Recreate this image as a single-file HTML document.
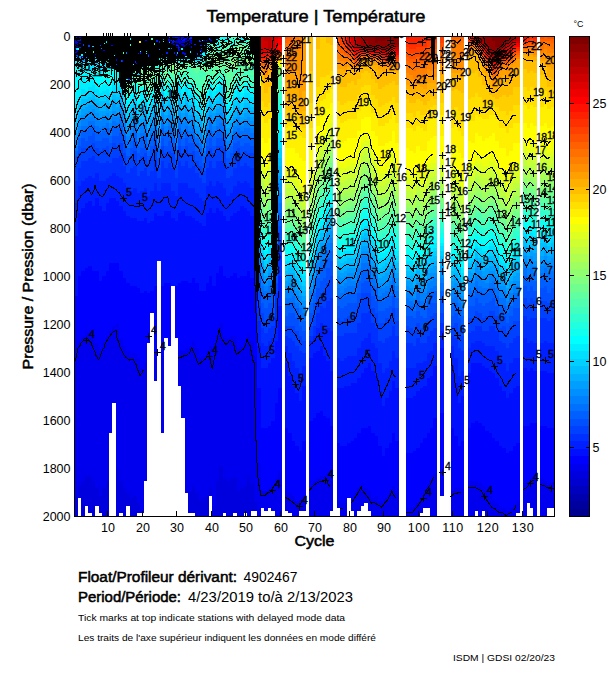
<!DOCTYPE html>
<html><head><meta charset="utf-8"><title>Temperature</title>
<style>
html,body{margin:0;padding:0;background:#fff;}
body{width:611px;height:675px;overflow:hidden;font-family:"Liberation Sans",sans-serif;}
svg{display:block;font-family:"Liberation Sans",sans-serif;}
</style></head><body>
<svg width="611" height="675" viewBox="0 0 611 675">
<rect width="611" height="675" fill="#fff"/>
<g shape-rendering="crispEdges"><path fill="#00009f" d="M184.8 44.5H188.3V46.5H184.8z"/><path fill="#0000af" d="M74.4 44.5H77.9V48.5H74.4zM77.9 40.5H81.4V42.5H77.9zM81.3 40.5H84.8V42.5H81.3zM174.5 38.5H178V40.5H174.5zM174.5 46.5H178V48.5H174.5zM188.3 40.5H191.8V42.5H188.3z"/><path fill="#0000bf" d="M77.9 46.5H81.4V48.5H77.9zM81.3 44.5H84.8V46.5H81.3zM181.4 44.5H184.9V48.5H181.4zM184.8 46.5H188.3V48.5H184.8z"/><path fill="#0000cf" d="M74.4 38.5H77.9V40.5H74.4zM74.4 48.5H77.9V50.5H74.4zM81.3 36.5H84.8V40.5H81.3zM171 42.5H174.5V44.5H171zM174.5 40.5H178V42.5H174.5zM177.9 38.5H181.4V40.5H177.9zM184.8 48.5H188.3V50.5H184.8zM188.3 44.5H191.8V46.5H188.3zM188.3 48.5H191.8V50.5H188.3zM191.7 38.5H195.2V40.5H191.7zM198.6 36.5H202.1V38.5H198.6zM198.6 40.5H202.1V42.5H198.6z"/><path fill="#0000df" d="M74.4 42.5H77.9V44.5H74.4zM74.4 498H77.9V516H74.4zM77.9 36.5H81.4V38.5H77.9zM77.9 485.5H81.4V498H77.9zM81.3 480.5H84.8V516H81.3zM84.8 475.5H88.3V505.5H84.8zM88.2 475.5H91.7V513H88.2zM91.7 480.5H95.2V516H91.7zM95.1 488H98.6V505.5H95.1zM98.6 495.5H102.1V513H98.6zM102 488H105.5V516H102zM105.5 480.5H109V516H105.5zM115.8 468H119.3V516H115.8zM119.3 480.5H122.8V513H119.3zM122.7 488H126.2V516H122.7zM126.2 493H129.7V505.5H126.2zM129.6 498H133.1V516H129.6zM133.1 495.5H136.6V516H133.1zM136.5 503H140V513H136.5zM167.6 44.5H171.1V46.5H167.6zM174.5 42.5H178V44.5H174.5zM177.9 36.5H181.4V38.5H177.9zM177.9 40.5H181.4V44.5H177.9zM181.4 42.5H184.9V44.5H181.4zM184.8 38.5H188.3V44.5H184.8zM188.3 490.5H191.8V513H188.3zM191.7 36.5H195.2V38.5H191.7zM191.7 485.5H195.2V513H191.7zM195.2 493H198.7V516H195.2zM198.6 500.5H202.1V516H198.6zM202.1 498H205.6V516H202.1zM205.5 495.5H209V516H205.5zM209 488H212.5V495.5H209zM212.4 505.5H215.9V516H212.4zM215.9 480.5H219.4V516H215.9zM219.3 465.5H222.8V516H219.3zM222.8 478H226.3V513H222.8zM226.2 480.5H229.7V516H226.2zM229.7 478H233.2V516H229.7zM233.1 478H236.6V513H233.1zM236.6 490.5H240.1V516H236.6zM240 488H243.5V516H240zM243.5 485.5H247V513H243.5zM247 475.5H250.5V516H247zM250.4 483H253.9V510.5H250.4zM253.9 500.5H257.4V510.5H253.9z"/><path fill="#0000ef" d="M74.4 355.5H77.9V498H74.4zM77.9 42.5H81.4V44.5H77.9zM77.9 340.5H81.4V485.5H77.9zM81.3 46.5H84.8V48.5H81.3zM81.3 335.5H84.8V480.5H81.3zM84.8 42.5H88.3V46.5H84.8zM84.8 330.5H88.3V475.5H84.8zM88.2 44.5H91.7V46.5H88.2zM88.2 333H91.7V475.5H88.2zM91.7 46.5H95.2V48.5H91.7zM91.7 335.5H95.2V480.5H91.7zM95.1 46.5H98.6V50.5H95.1zM95.1 343H98.6V488H95.1zM98.6 353H102.1V495.5H98.6zM102 343H105.5V488H102zM105.5 335.5H109V480.5H105.5zM108.9 330.5H112.4V433H108.9zM112.4 325.5H115.9V403H112.4zM115.8 323H119.3V468H115.8zM119.3 338H122.8V480.5H119.3zM122.7 345.5H126.2V488H122.7zM126.2 350.5H129.7V493H126.2zM129.6 353H133.1V498H129.6zM133.1 353H136.6V495.5H133.1zM136.5 358H140V503H136.5zM140 368H143.5V513H140zM143.4 363H146.9V480.5H143.4zM153.8 358H157.3V380.5H153.8zM160.7 355.5H164.2V433H160.7zM164.1 48.5H167.6V50.5H164.1zM167.6 38.5H171.1V40.5H167.6zM167.6 46.5H171.1V50.5H167.6zM171 36.5H174.5V38.5H171zM171 44.5H174.5V46.5H171zM177.9 350.5H181.4V385.5H177.9zM181.4 40.5H184.9V42.5H181.4zM181.4 350.5H184.9V418H181.4zM184.8 348H188.3V493H184.8zM188.3 38.5H191.8V40.5H188.3zM188.3 348H191.8V490.5H188.3zM191.7 44.5H195.2V46.5H191.7zM191.7 48.5H195.2V50.5H191.7zM191.7 340.5H195.2V485.5H191.7zM195.2 348H198.7V493H195.2zM198.6 48.5H202.1V50.5H198.6zM198.6 358H202.1V500.5H198.6zM202.1 355.5H205.6V498H202.1zM205.5 350.5H209V495.5H205.5zM209 345.5H212.5V488H209zM212.4 360.5H215.9V505.5H212.4zM215.9 335.5H219.4V480.5H215.9zM219.3 323H222.8V465.5H219.3zM222.8 335.5H226.3V478H222.8zM226.2 338H229.7V480.5H226.2zM229.7 335.5H233.2V478H229.7zM233.1 335.5H236.6V478H233.1zM236.6 348H240.1V490.5H236.6zM240 345.5H243.5V488H240zM243.5 343H247V485.5H243.5zM247 333H250.5V475.5H247zM250.4 340.5H253.9V483H250.4zM253.9 355.5H257.4V500.5H253.9zM257.3 463H260.8V516H257.3zM260.8 490.5H264.3V508H260.8zM264.2 490.5H267.7V510.5H264.2zM267.7 488H271.2V508H267.7zM271.1 485.5H274.6V510.5H271.1zM274.6 478H278.1V516H274.6zM278 470.5H281.5V516H278zM284.9 490.5H288.4V510.5H284.9zM288.4 493H291.9V513H288.4zM291.8 495.5H295.3V516H291.8zM295.3 500.5H298.8V516H295.3zM298.7 500.5H302.2V510.5H298.7zM302.2 495.5H305.7V510.5H302.2zM309.1 485.5H312.6V516H309.1zM312.5 480.5H316V516H312.5zM316 478H319.5V516H316zM319.4 475.5H322.9V516H319.4zM322.9 475.5H326.4V516H322.9zM326.3 473H329.8V516H326.3zM329.8 480.5H333.3V510.5H329.8zM336.7 500.5H340.2V508H336.7zM340.1 503H343.6V516H340.1zM343.6 503H347.1V516H343.6zM350.5 498H354V510.5H350.5zM353.9 493H357.4V516H353.9zM357.4 488H360.9V510.5H357.4zM360.8 483H364.3V505.5H360.8zM364.3 488H367.8V503H364.3zM367.7 490.5H371.2V510.5H367.7zM371.2 498H374.7V516H371.2zM374.6 495.5H378.1V516H374.6zM378.1 500.5H381.6V516H378.1zM381.5 503H385V516H381.5zM385 498H388.5V516H385zM388.4 493H391.9V516H388.4zM391.9 485.5H395.4V516H391.9zM395.3 493H398.8V516H395.3zM405.7 508H409.2V516H405.7zM409.1 508H412.6V516H409.1zM412.6 505.5H416.1V516H412.6zM416 503H419.6V516H416zM419.5 498H423V513H419.5zM423 493H426.5V508H423zM426.4 485.5H429.9V508H426.4zM429.9 480.5H433.4V516H429.9zM433.3 473H436.8V516H433.3zM440.2 478H443.7V495.5H440.2zM450.6 490.5H454.1V516H450.6zM454 488H457.5V516H454zM457.5 488H461V516H457.5zM460.9 488H464.4V516H460.9zM467.8 480.5H471.3V516H467.8zM471.3 480.5H474.8V516H471.3zM474.7 480.5H478.2V510.5H474.7zM478.2 483H481.7V516H478.2zM481.6 485.5H485.1V510.5H481.6zM485.1 490.5H488.6V516H485.1zM488.5 495.5H492V516H488.5zM492 500.5H495.5V516H492zM495.4 503H498.9V516H495.4zM498.9 505.5H502.4V516H498.9zM502.3 508H505.8V516H502.3zM505.8 510.5H509.3V516H505.8zM509.2 508H512.7V516H509.2zM512.7 505.5H516.2V516H512.7zM516.1 500.5H519.6V513H516.1zM523 483H526.5V516H523zM526.5 483H530V503H526.5zM529.9 478H533.4V508H529.9zM533.4 475.5H536.9V516H533.4zM540.3 478H543.8V516H540.3zM543.7 480.5H547.2V516H543.7zM547.2 483H550.7V508H547.2zM550.6 483H554.1V508H550.6z"/><path fill="#0000ff" d="M74.4 40.5H77.9V42.5H74.4zM74.4 50.5H77.9V52.5H74.4zM74.4 295.5H77.9V355.5H74.4zM77.9 48.5H81.4V50.5H77.9zM77.9 275.5H81.4V340.5H77.9zM81.3 48.5H84.8V50.5H81.3zM81.3 270.5H84.8V335.5H81.3zM84.8 46.5H88.3V48.5H84.8zM84.8 268H88.3V330.5H84.8zM88.2 265.5H91.7V333H88.2zM91.7 50.5H95.2V52.5H91.7zM91.7 270.5H95.2V335.5H91.7zM95.1 270.5H98.6V343H95.1zM98.6 46.5H102.1V50.5H98.6zM98.6 280.5H102.1V353H98.6zM102 46.5H105.5V48.5H102zM102 275.5H105.5V343H102zM105.5 48.5H109V50.5H105.5zM105.5 270.5H109V335.5H105.5zM108.9 263H112.4V330.5H108.9zM112.4 263H115.9V325.5H112.4zM115.8 263H119.3V323H115.8zM119.3 270.5H122.8V338H119.3zM122.7 278H126.2V345.5H122.7zM126.2 283H129.7V350.5H126.2zM129.6 285.5H133.1V353H129.6zM133.1 285.5H136.6V353H133.1zM136.5 288H140V358H136.5zM140 293H143.5V368H140zM143.4 290.5H146.9V363H143.4zM146.9 293H150.4V343H146.9zM150.3 290.5H153.8V313H150.3zM153.8 285.5H157.3V358H153.8zM160.7 285.5H164.2V355.5H160.7zM164.1 283H167.6V338H164.1zM167.6 283H171.1V345.5H167.6zM174.5 50.5H178V52.5H174.5zM174.5 285.5H178V338H174.5zM177.9 48.5H181.4V52.5H177.9zM177.9 283H181.4V350.5H177.9zM181.4 36.5H184.9V38.5H181.4zM181.4 280.5H184.9V350.5H181.4zM184.8 36.5H188.3V38.5H184.8zM184.8 280.5H188.3V348H184.8zM188.3 42.5H191.8V44.5H188.3zM188.3 283H191.8V348H188.3zM191.7 278H195.2V340.5H191.7zM195.2 36.5H198.7V38.5H195.2zM195.2 40.5H198.7V42.5H195.2zM195.2 44.5H198.7V46.5H195.2zM195.2 283H198.7V348H195.2zM198.6 290.5H202.1V358H198.6zM202.1 290.5H205.6V355.5H202.1zM205.5 283H209V350.5H205.5zM209 275.5H212.5V345.5H209zM212.4 285.5H215.9V360.5H212.4zM215.9 273H219.4V335.5H215.9zM219.3 265.5H222.8V323H219.3zM222.8 275.5H226.3V335.5H222.8zM226.2 278H229.7V338H226.2zM229.7 275.5H233.2V335.5H229.7zM233.1 273H236.6V335.5H233.1zM236.6 278H240.1V348H236.6zM240 275.5H243.5V345.5H240zM243.5 275.5H247V343H243.5zM247 270.5H250.5V333H247zM250.4 278H253.9V340.5H250.4zM253.9 288H257.4V355.5H253.9zM257.3 388H260.8V463H257.3zM260.8 428H264.3V490.5H260.8zM264.2 428H267.7V490.5H264.2zM267.7 425.5H271.2V488H267.7zM271.1 420.5H274.6V485.5H271.1zM274.6 403H278.1V478H274.6zM278 388H281.5V470.5H278zM284.9 428H288.4V490.5H284.9zM288.4 433H291.9V493H288.4zM291.8 440.5H295.3V495.5H291.8zM295.3 445.5H298.8V500.5H295.3zM298.7 450.5H302.2V500.5H298.7zM302.2 440.5H305.7V495.5H302.2zM309.1 420.5H312.6V485.5H309.1zM312.5 418H316V480.5H312.5zM316 413H319.5V478H316zM319.4 410.5H322.9V475.5H319.4zM322.9 415.5H326.4V475.5H322.9zM326.3 418H329.8V473H326.3zM329.8 425.5H333.3V480.5H329.8zM336.7 443H340.2V500.5H336.7zM340.1 445.5H343.6V503H340.1zM343.6 445.5H347.1V503H343.6zM347 443H350.5V498H347zM350.5 440.5H354V498H350.5zM353.9 438H357.4V493H353.9zM357.4 433H360.9V488H357.4zM360.8 428H364.3V483H360.8zM364.3 428H367.8V488H364.3zM367.7 425.5H371.2V490.5H367.7zM371.2 433H374.7V498H371.2zM374.6 435.5H378.1V495.5H374.6zM378.1 445.5H381.6V500.5H378.1zM381.5 455.5H385V503H381.5zM385 448H388.5V498H385zM388.4 443H391.9V493H388.4zM391.9 433H395.4V485.5H391.9zM395.3 440.5H398.8V493H395.3zM405.7 453H409.2V508H405.7zM409.1 453H412.6V508H409.1zM412.6 450.5H416.1V505.5H412.6zM416 448H419.6V503H416zM419.5 443H423V498H419.5zM423 438H426.5V493H423zM426.4 433H429.9V485.5H426.4zM429.9 428H433.4V480.5H429.9zM433.3 418H436.8V473H433.3zM440.2 413H443.7V478H440.2zM450.6 428H454.1V490.5H450.6zM454 435.5H457.5V488H454zM457.5 445.5H461V488H457.5zM460.9 440.5H464.4V488H460.9zM467.8 428H471.3V480.5H467.8zM471.3 423H474.8V480.5H471.3zM474.7 420.5H478.2V480.5H474.7zM478.2 423H481.7V483H478.2zM481.6 425.5H485.1V485.5H481.6zM485.1 430.5H488.6V490.5H485.1zM488.5 433H492V495.5H488.5zM492 438H495.5V500.5H492zM495.4 440.5H498.9V503H495.4zM498.9 445.5H502.4V505.5H498.9zM502.3 448H505.8V508H502.3zM505.8 453H509.3V510.5H505.8zM509.2 450.5H512.7V508H509.2zM512.7 445.5H516.2V505.5H512.7zM516.1 443H519.6V500.5H516.1zM523 425.5H526.5V483H523zM526.5 425.5H530V483H526.5zM529.9 423H533.4V478H529.9zM533.4 423H536.9V475.5H533.4zM540.3 425.5H543.8V478H540.3zM543.7 425.5H547.2V480.5H543.7zM547.2 428H550.7V483H547.2zM550.6 428H554.1V483H550.6z"/><path fill="#0010ff" d="M74.4 36.5H77.9V38.5H74.4zM74.4 235.5H77.9V295.5H74.4zM77.9 38.5H81.4V40.5H77.9zM77.9 213H81.4V275.5H77.9zM81.3 42.5H84.8V44.5H81.3zM81.3 208H84.8V270.5H81.3zM84.8 203H88.3V268H84.8zM88.2 52.5H91.7V54.5H88.2zM88.2 200.5H91.7V265.5H88.2zM91.7 205.5H95.2V270.5H91.7zM95.1 198H98.6V270.5H95.1zM98.6 205.5H102.1V280.5H98.6zM102 210.5H105.5V275.5H102zM105.5 50.5H109V52.5H105.5zM105.5 203H109V270.5H105.5zM108.9 48.5H112.4V50.5H108.9zM108.9 198H112.4V263H108.9zM112.4 198H115.9V263H112.4zM115.8 200.5H119.3V263H115.8zM119.3 205.5H122.8V270.5H119.3zM122.7 210.5H126.2V278H122.7zM126.2 215.5H129.7V283H126.2zM129.6 218H133.1V285.5H129.6zM133.1 218H136.6V285.5H133.1zM136.5 220.5H140V288H136.5zM140 220.5H143.5V293H140zM143.4 218H146.9V290.5H143.4zM146.9 223H150.4V293H146.9zM150.3 220.5H153.8V290.5H150.3zM153.8 44.5H157.3V46.5H153.8zM153.8 213H157.3V285.5H153.8zM157.2 215.5H160.7V260.5H157.2zM160.7 215.5H164.2V285.5H160.7zM164.1 42.5H167.6V44.5H164.1zM164.1 210.5H167.6V283H164.1zM167.6 42.5H171.1V44.5H167.6zM167.6 210.5H171.1V283H167.6zM171 40.5H174.5V42.5H171zM171 46.5H174.5V50.5H171zM171 218H174.5V285.5H171zM174.5 36.5H178V38.5H174.5zM174.5 220.5H178V285.5H174.5zM177.9 44.5H181.4V48.5H177.9zM177.9 213H181.4V283H177.9zM181.4 38.5H184.9V40.5H181.4zM181.4 210.5H184.9V280.5H181.4zM184.8 215.5H188.3V280.5H184.8zM188.3 46.5H191.8V48.5H188.3zM188.3 215.5H191.8V283H188.3zM191.7 40.5H195.2V44.5H191.7zM191.7 218H195.2V278H191.7zM195.2 38.5H198.7V40.5H195.2zM195.2 42.5H198.7V44.5H195.2zM195.2 220.5H198.7V283H195.2zM198.6 42.5H202.1V44.5H198.6zM198.6 223H202.1V290.5H198.6zM202.1 225.5H205.6V290.5H202.1zM205.5 213H209V283H205.5zM209 208H212.5V275.5H209zM212.4 213H215.9V285.5H212.4zM215.9 208H219.4V273H215.9zM219.3 210.5H222.8V265.5H219.3zM222.8 215.5H226.3V275.5H222.8zM226.2 220.5H229.7V278H226.2zM229.7 215.5H233.2V275.5H229.7zM233.1 213H236.6V273H233.1zM236.6 210.5H240.1V278H236.6zM240 205.5H243.5V275.5H240zM243.5 208H247V275.5H243.5zM247 210.5H250.5V270.5H247zM250.4 215.5H253.9V278H250.4zM253.9 218H257.4V288H253.9zM257.3 345.5H260.8V388H257.3zM260.8 368H264.3V428H260.8zM264.2 368H267.7V428H264.2zM267.7 363H271.2V425.5H267.7zM271.1 358H274.6V420.5H271.1zM274.6 340.5H278.1V403H274.6zM278 305.5H281.5V388H278zM284.9 363H288.4V428H284.9zM288.4 375.5H291.9V433H288.4zM291.8 385.5H295.3V440.5H291.8zM295.3 393H298.8V445.5H295.3zM298.7 400.5H302.2V450.5H298.7zM302.2 385.5H305.7V440.5H302.2zM309.1 358H312.6V420.5H309.1zM312.5 353H316V418H312.5zM316 350.5H319.5V413H316zM319.4 345.5H322.9V410.5H319.4zM322.9 355.5H326.4V415.5H322.9zM326.3 360.5H329.8V418H326.3zM329.8 370.5H333.3V425.5H329.8zM336.7 388H340.2V443H336.7zM340.1 388H343.6V445.5H340.1zM343.6 385.5H347.1V445.5H343.6zM347 385.5H350.5V443H347zM350.5 383H354V440.5H350.5zM353.9 383H357.4V438H353.9zM357.4 378H360.9V433H357.4zM360.8 373H364.3V428H360.8zM364.3 368H367.8V428H364.3zM367.7 363H371.2V425.5H367.7zM371.2 370.5H374.7V433H371.2zM374.6 375.5H378.1V435.5H374.6zM378.1 390.5H381.6V445.5H378.1zM381.5 405.5H385V455.5H381.5zM385 398H388.5V448H385zM388.4 390.5H391.9V443H388.4zM391.9 380.5H395.4V433H391.9zM395.3 388H398.8V440.5H395.3zM405.7 398H409.2V453H405.7zM409.1 398H412.6V453H409.1zM412.6 395.5H416.1V450.5H412.6zM416 390.5H419.6V448H416zM419.5 388H423V443H419.5zM423 385.5H426.5V438H423zM426.4 378H429.9V433H426.4zM429.9 375.5H433.4V428H429.9zM433.3 365.5H436.8V418H433.3zM440.2 348H443.7V413H440.2zM450.6 365.5H454.1V428H450.6zM454 383H457.5V435.5H454zM457.5 403H461V445.5H457.5zM460.9 395.5H464.4V440.5H460.9zM467.8 373H471.3V428H467.8zM471.3 363H474.8V423H471.3zM474.7 363H478.2V420.5H474.7zM478.2 363H481.7V423H478.2zM481.6 365.5H485.1V425.5H481.6zM485.1 368H488.6V430.5H485.1zM488.5 370.5H492V433H488.5zM492 373H495.5V438H492zM495.4 378H498.9V440.5H495.4zM498.9 385.5H502.4V445.5H498.9zM502.3 390.5H505.8V448H502.3zM505.8 398H509.3V453H505.8zM509.2 393H512.7V450.5H509.2zM512.7 388H516.2V445.5H512.7zM516.1 385.5H519.6V443H516.1zM523 368H526.5V425.5H523zM526.5 370.5H530V425.5H526.5zM529.9 368H533.4V423H529.9zM533.4 370.5H536.9V423H533.4zM540.3 370.5H543.8V425.5H540.3zM543.7 370.5H547.2V425.5H543.7zM547.2 373H550.7V428H547.2zM550.6 373H554.1V428H550.6z"/><path fill="#0020ff" d="M74.4 52.5H77.9V54.5H74.4zM74.4 203H77.9V235.5H74.4zM77.9 44.5H81.4V46.5H77.9zM77.9 185.5H81.4V213H77.9zM81.3 180.5H84.8V208H81.3zM84.8 36.5H88.3V38.5H84.8zM84.8 40.5H88.3V42.5H84.8zM84.8 48.5H88.3V50.5H84.8zM84.8 178H88.3V203H84.8zM88.2 38.5H91.7V40.5H88.2zM88.2 46.5H91.7V48.5H88.2zM88.2 175.5H91.7V200.5H88.2zM91.7 178H95.2V205.5H91.7zM95.1 173H98.6V198H95.1zM98.6 180.5H102.1V205.5H98.6zM102 180.5H105.5V210.5H102zM105.5 178H109V203H105.5zM108.9 175.5H112.4V198H108.9zM112.4 173H115.9V198H112.4zM115.8 175.5H119.3V200.5H115.8zM119.3 178H122.8V205.5H119.3zM122.7 183H126.2V210.5H122.7zM126.2 188H129.7V215.5H126.2zM129.6 48.5H133.1V50.5H129.6zM129.6 190.5H133.1V218H129.6zM133.1 188H136.6V218H133.1zM136.5 193H140V220.5H136.5zM140 50.5H143.5V52.5H140zM140 190.5H143.5V220.5H140zM143.4 188H146.9V218H143.4zM146.9 46.5H150.4V48.5H146.9zM146.9 195.5H150.4V223H146.9zM150.3 46.5H153.8V48.5H150.3zM150.3 190.5H153.8V220.5H150.3zM153.8 183H157.3V213H153.8zM157.2 190.5H160.7V215.5H157.2zM160.7 44.5H164.2V46.5H160.7zM160.7 183H164.2V215.5H160.7zM164.1 46.5H167.6V48.5H164.1zM164.1 183H167.6V210.5H164.1zM167.6 40.5H171.1V42.5H167.6zM167.6 183H171.1V210.5H167.6zM171 38.5H174.5V40.5H171zM171 190.5H174.5V218H171zM174.5 44.5H178V46.5H174.5zM174.5 195.5H178V220.5H174.5zM177.9 183H181.4V213H177.9zM181.4 183H184.9V210.5H181.4zM184.8 183H188.3V215.5H184.8zM188.3 36.5H191.8V38.5H188.3zM188.3 188H191.8V215.5H188.3zM191.7 188H195.2V218H191.7zM195.2 46.5H198.7V48.5H195.2zM195.2 193H198.7V220.5H195.2zM198.6 198H202.1V223H198.6zM202.1 200.5H205.6V225.5H202.1zM205.5 185.5H209V213H205.5zM209 180.5H212.5V208H209zM212.4 185.5H215.9V213H212.4zM215.9 180.5H219.4V208H215.9zM219.3 183H222.8V210.5H219.3zM222.8 188H226.3V215.5H222.8zM226.2 195.5H229.7V220.5H226.2zM229.7 193H233.2V215.5H229.7zM233.1 185.5H236.6V213H233.1zM236.6 180.5H240.1V210.5H236.6zM240 183H243.5V205.5H240zM243.5 180.5H247V208H243.5zM247 183H250.5V210.5H247zM250.4 188H253.9V215.5H250.4zM253.9 190.5H257.4V218H253.9zM257.3 320.5H260.8V345.5H257.3zM260.8 343H264.3V368H260.8zM264.2 345.5H267.7V368H264.2zM267.7 340.5H271.2V363H267.7zM271.1 338H274.6V358H271.1zM274.6 318H278.1V340.5H274.6zM278 275.5H281.5V305.5H278zM284.9 345.5H288.4V363H284.9zM288.4 353H291.9V375.5H288.4zM291.8 360.5H295.3V385.5H291.8zM295.3 368H298.8V393H295.3zM298.7 373H302.2V400.5H298.7zM302.2 365.5H305.7V385.5H302.2zM309.1 340.5H312.6V358H309.1zM312.5 335.5H316V353H312.5zM316 328H319.5V350.5H316zM319.4 323H322.9V345.5H319.4zM322.9 328H326.4V355.5H322.9zM326.3 328H329.8V360.5H326.3zM329.8 330.5H333.3V370.5H329.8zM336.7 358H340.2V388H336.7zM340.1 360.5H343.6V388H340.1zM343.6 358H347.1V385.5H343.6zM347 355.5H350.5V385.5H347zM350.5 355.5H354V383H350.5zM353.9 355.5H357.4V383H353.9zM357.4 348H360.9V378H357.4zM360.8 340.5H364.3V373H360.8zM364.3 338H367.8V368H364.3zM367.7 333H371.2V363H367.7zM371.2 343H374.7V370.5H371.2zM374.6 348H378.1V375.5H374.6zM378.1 363H381.6V390.5H378.1zM381.5 373H385V405.5H381.5zM385 368H388.5V398H385zM388.4 360.5H391.9V390.5H388.4zM391.9 350.5H395.4V380.5H391.9zM395.3 358H398.8V388H395.3zM405.7 368H409.2V398H405.7zM409.1 368H412.6V398H409.1zM412.6 368H416.1V395.5H412.6zM416 363H419.6V390.5H416zM419.5 363H423V388H419.5zM423 360.5H426.5V385.5H423zM426.4 353H429.9V378H426.4zM429.9 350.5H433.4V375.5H429.9zM433.3 343H436.8V365.5H433.3zM440.2 330.5H443.7V348H440.2zM450.6 345.5H454.1V365.5H450.6zM454 358H457.5V383H454zM457.5 375.5H461V403H457.5zM460.9 370.5H464.4V395.5H460.9zM467.8 348H471.3V373H467.8zM471.3 343H474.8V363H471.3zM474.7 340.5H478.2V363H474.7zM478.2 340.5H481.7V363H478.2zM481.6 343H485.1V365.5H481.6zM485.1 345.5H488.6V368H485.1zM488.5 345.5H492V370.5H488.5zM492 345.5H495.5V373H492zM495.4 350.5H498.9V378H495.4zM498.9 360.5H502.4V385.5H498.9zM502.3 363H505.8V390.5H502.3zM505.8 370.5H509.3V398H505.8zM509.2 363H512.7V393H509.2zM512.7 358H516.2V388H512.7zM516.1 358H519.6V385.5H516.1zM523 338H526.5V368H523zM526.5 343H530V370.5H526.5zM529.9 340.5H533.4V368H529.9zM533.4 343H536.9V370.5H533.4zM540.3 343H543.8V370.5H540.3zM543.7 340.5H547.2V370.5H543.7zM547.2 343H550.7V373H547.2zM550.6 343H554.1V373H550.6z"/><path fill="#0030ff" d="M74.4 180.5H77.9V203H74.4zM77.9 50.5H81.4V52.5H77.9zM77.9 168H81.4V185.5H77.9zM81.3 160.5H84.8V180.5H81.3zM84.8 160.5H88.3V178H84.8zM88.2 42.5H91.7V44.5H88.2zM88.2 50.5H91.7V52.5H88.2zM88.2 158H91.7V175.5H88.2zM91.7 42.5H95.2V44.5H91.7zM91.7 155.5H95.2V178H91.7zM95.1 160.5H98.6V173H95.1zM98.6 163H102.1V180.5H98.6zM102 163H105.5V180.5H102zM105.5 52.5H109V54.5H105.5zM105.5 160.5H109V178H105.5zM108.9 163H112.4V175.5H108.9zM112.4 48.5H115.9V50.5H112.4zM112.4 158H115.9V173H112.4zM115.8 46.5H119.3V48.5H115.8zM115.8 158H119.3V175.5H115.8zM119.3 155.5H122.8V178H119.3zM122.7 46.5H126.2V48.5H122.7zM122.7 54.5H126.2V56.5H122.7zM122.7 165.5H126.2V183H122.7zM126.2 54.5H129.7V56.5H126.2zM126.2 173H129.7V188H126.2zM129.6 168H133.1V190.5H129.6zM133.1 52.5H136.6V54.5H133.1zM133.1 165.5H136.6V188H133.1zM136.5 175.5H140V193H136.5zM140 46.5H143.5V48.5H140zM140 170.5H143.5V190.5H140zM143.4 46.5H146.9V48.5H143.4zM143.4 52.5H146.9V54.5H143.4zM143.4 168H146.9V188H143.4zM146.9 50.5H150.4V52.5H146.9zM146.9 175.5H150.4V195.5H146.9zM150.3 170.5H153.8V190.5H150.3zM153.8 160.5H157.3V183H153.8zM157.2 44.5H160.7V48.5H157.2zM157.2 178H160.7V190.5H157.2zM160.7 160.5H164.2V183H160.7zM164.1 38.5H167.6V40.5H164.1zM164.1 168H167.6V183H164.1zM167.6 163H171.1V183H167.6zM171 168H174.5V190.5H171zM174.5 178H178V195.5H174.5zM177.9 160.5H181.4V183H177.9zM181.4 48.5H184.9V50.5H181.4zM181.4 165.5H184.9V183H181.4zM184.8 160.5H188.3V183H184.8zM188.3 168H191.8V188H188.3zM191.7 46.5H195.2V48.5H191.7zM191.7 165.5H195.2V188H191.7zM195.2 48.5H198.7V50.5H195.2zM195.2 52.5H198.7V54.5H195.2zM195.2 173H198.7V193H195.2zM198.6 44.5H202.1V48.5H198.6zM198.6 178H202.1V198H198.6zM202.1 183H205.6V200.5H202.1zM205.5 168H209V185.5H205.5zM209 160.5H212.5V180.5H209zM212.4 168H215.9V185.5H212.4zM215.9 160.5H219.4V180.5H215.9zM219.3 160.5H222.8V183H219.3zM222.8 163H226.3V188H222.8zM226.2 178H229.7V195.5H226.2zM229.7 175.5H233.2V193H229.7zM233.1 168H236.6V185.5H233.1zM236.6 160.5H240.1V180.5H236.6zM240 165.5H243.5V183H240zM243.5 163H247V180.5H243.5zM247 165.5H250.5V183H247zM250.4 168H253.9V188H250.4zM253.9 168H257.4V190.5H253.9zM257.3 305.5H260.8V320.5H257.3zM260.8 328H264.3V343H260.8zM264.2 333H267.7V345.5H264.2zM267.7 328H271.2V340.5H267.7zM271.1 325.5H274.6V338H271.1zM274.6 293H278.1V318H274.6zM278 255.5H281.5V275.5H278zM284.9 335.5H288.4V345.5H284.9zM288.4 338H291.9V353H288.4zM291.8 340.5H295.3V360.5H291.8zM295.3 345.5H298.8V368H295.3zM298.7 350.5H302.2V373H298.7zM302.2 353H305.7V365.5H302.2zM309.1 335.5H312.6V340.5H309.1zM312.5 325.5H316V335.5H312.5zM316 313H319.5V328H316zM319.4 305.5H322.9V323H319.4zM322.9 308H326.4V328H322.9zM326.3 300.5H329.8V328H326.3zM329.8 298H333.3V330.5H329.8zM336.7 335.5H340.2V358H336.7zM340.1 335.5H343.6V360.5H340.1zM343.6 333H347.1V358H343.6zM347 333H350.5V355.5H347zM350.5 333H354V355.5H350.5zM353.9 333H357.4V355.5H353.9zM357.4 323H360.9V348H357.4zM360.8 313H364.3V340.5H360.8zM364.3 313H367.8V338H364.3zM367.7 310.5H371.2V333H367.7zM371.2 323H374.7V343H371.2zM374.6 328H378.1V348H374.6zM378.1 340.5H381.6V363H378.1zM381.5 343H385V373H381.5zM385 338H388.5V368H385zM388.4 335.5H391.9V360.5H388.4zM391.9 325.5H395.4V350.5H391.9zM395.3 335.5H398.8V358H395.3zM405.7 343H409.2V368H405.7zM409.1 343H412.6V368H409.1zM412.6 345.5H416.1V368H412.6zM416 338H419.6V363H416zM419.5 343H423V363H419.5zM423 343H426.5V360.5H423zM426.4 335.5H429.9V353H426.4zM429.9 330.5H433.4V350.5H429.9zM433.3 328H436.8V343H433.3zM440.2 323H443.7V330.5H440.2zM450.6 335.5H454.1V345.5H450.6zM454 338H457.5V358H454zM457.5 348H461V375.5H457.5zM460.9 350.5H464.4V370.5H460.9zM467.8 333H471.3V348H467.8zM471.3 330.5H474.8V343H471.3zM474.7 325.5H478.2V340.5H474.7zM478.2 325.5H481.7V340.5H478.2zM481.6 330.5H485.1V343H481.6zM485.1 330.5H488.6V345.5H485.1zM488.5 325.5H492V345.5H488.5zM492 325.5H495.5V345.5H492zM495.4 330.5H498.9V350.5H495.4zM498.9 340.5H502.4V360.5H498.9zM502.3 343H505.8V363H502.3zM505.8 348H509.3V370.5H505.8zM509.2 343H512.7V363H509.2zM512.7 338H516.2V358H512.7zM516.1 335.5H519.6V358H516.1zM523 315.5H526.5V338H523zM526.5 320.5H530V343H526.5zM529.9 318H533.4V340.5H529.9zM533.4 318H536.9V343H533.4zM540.3 318H543.8V343H540.3zM543.7 318H547.2V340.5H543.7zM547.2 320.5H550.7V343H547.2zM550.6 318H554.1V343H550.6z"/><path fill="#0040ff" d="M74.4 54.5H77.9V56.5H74.4zM74.4 163H77.9V180.5H74.4zM77.9 52.5H81.4V54.5H77.9zM77.9 153H81.4V168H77.9zM81.3 52.5H84.8V54.5H81.3zM81.3 148H84.8V160.5H81.3zM84.8 148H88.3V160.5H84.8zM88.2 145.5H91.7V158H88.2zM91.7 52.5H95.2V54.5H91.7zM91.7 143H95.2V155.5H91.7zM95.1 54.5H98.6V56.5H95.1zM95.1 148H98.6V160.5H95.1zM98.6 150.5H102.1V163H98.6zM102 148H105.5V163H102zM105.5 145.5H109V160.5H105.5zM108.9 153H112.4V163H108.9zM112.4 143H115.9V158H112.4zM115.8 145.5H119.3V158H115.8zM119.3 143H122.8V155.5H119.3zM122.7 153H126.2V165.5H122.7zM126.2 163H129.7V173H126.2zM129.6 155.5H133.1V168H129.6zM133.1 150.5H136.6V165.5H133.1zM136.5 54.5H140V56.5H136.5zM136.5 163H140V175.5H136.5zM140 155.5H143.5V170.5H140zM143.4 153H146.9V168H143.4zM146.9 44.5H150.4V46.5H146.9zM146.9 163H150.4V175.5H146.9zM150.3 155.5H153.8V170.5H150.3zM153.8 46.5H157.3V48.5H153.8zM153.8 145.5H157.3V160.5H153.8zM157.2 168H160.7V178H157.2zM160.7 42.5H164.2V44.5H160.7zM160.7 46.5H164.2V48.5H160.7zM160.7 145.5H164.2V160.5H160.7zM164.1 44.5H167.6V46.5H164.1zM164.1 153H167.6V168H164.1zM167.6 36.5H171.1V38.5H167.6zM167.6 150.5H171.1V163H167.6zM171 153H174.5V168H171zM174.5 52.5H178V54.5H174.5zM174.5 165.5H178V178H174.5zM177.9 145.5H181.4V160.5H177.9zM181.4 153H184.9V165.5H181.4zM184.8 145.5H188.3V160.5H184.8zM188.3 153H191.8V168H188.3zM191.7 52.5H195.2V54.5H191.7zM191.7 150.5H195.2V165.5H191.7zM195.2 50.5H198.7V52.5H195.2zM195.2 160.5H198.7V173H195.2zM198.6 38.5H202.1V40.5H198.6zM198.6 165.5H202.1V178H198.6zM202.1 170.5H205.6V183H202.1zM205.5 153H209V168H205.5zM209 148H212.5V160.5H209zM212.4 153H215.9V168H212.4zM215.9 145.5H219.4V160.5H215.9zM219.3 145.5H222.8V160.5H219.3zM222.8 148H226.3V163H222.8zM226.2 165.5H229.7V178H226.2zM229.7 163H233.2V175.5H229.7zM233.1 153H236.6V168H233.1zM236.6 148H240.1V160.5H236.6zM240 155.5H243.5V165.5H240zM243.5 150.5H247V163H243.5zM247 153H250.5V165.5H247zM250.4 153H253.9V168H250.4zM253.9 153H257.4V168H253.9zM257.3 290.5H260.8V305.5H257.3zM260.8 313H264.3V328H260.8zM264.2 320.5H267.7V333H264.2zM267.7 315.5H271.2V328H267.7zM271.1 315.5H274.6V325.5H271.1zM274.6 283H278.1V293H274.6zM278 240.5H281.5V255.5H278zM284.9 325.5H288.4V335.5H284.9zM288.4 325.5H291.9V338H288.4zM291.8 325.5H295.3V340.5H291.8zM295.3 330.5H298.8V345.5H295.3zM298.7 335.5H302.2V350.5H298.7zM302.2 340.5H305.7V353H302.2zM309.1 325.5H312.6V335.5H309.1zM312.5 315.5H316V325.5H312.5zM316 300.5H319.5V313H316zM319.4 293H322.9V305.5H319.4zM322.9 290.5H326.4V308H322.9zM326.3 283H329.8V300.5H326.3zM329.8 275.5H333.3V298H329.8zM336.7 318H340.2V335.5H336.7zM340.1 320.5H343.6V335.5H340.1zM343.6 318H347.1V333H343.6zM347 315.5H350.5V333H347zM350.5 315.5H354V333H350.5zM353.9 315.5H357.4V333H353.9zM357.4 305.5H360.9V323H357.4zM360.8 293H364.3V313H360.8zM364.3 293H367.8V313H364.3zM367.7 293H371.2V310.5H367.7zM371.2 308H374.7V323H371.2zM374.6 313H378.1V328H374.6zM378.1 323H381.6V340.5H378.1zM381.5 323H385V343H381.5zM385 318H388.5V338H385zM388.4 318H391.9V335.5H388.4zM391.9 308H395.4V325.5H391.9zM395.3 320.5H398.8V335.5H395.3zM405.7 325.5H409.2V343H405.7zM409.1 328H412.6V343H409.1zM412.6 330.5H416.1V345.5H412.6zM416 323H419.6V338H416zM419.5 328H423V343H419.5zM423 330.5H426.5V343H423zM426.4 320.5H429.9V335.5H426.4zM429.9 315.5H433.4V330.5H429.9zM433.3 313H436.8V328H433.3zM440.2 313H443.7V323H440.2zM450.6 325.5H454.1V335.5H450.6zM454 323H457.5V338H454zM457.5 330.5H461V348H457.5zM460.9 335.5H464.4V350.5H460.9zM467.8 318H471.3V333H467.8zM471.3 318H474.8V330.5H471.3zM474.7 310.5H478.2V325.5H474.7zM478.2 313H481.7V325.5H478.2zM481.6 318H485.1V330.5H481.6zM485.1 315.5H488.6V330.5H485.1zM488.5 310.5H492V325.5H488.5zM492 310.5H495.5V325.5H492zM495.4 315.5H498.9V330.5H495.4zM498.9 328H502.4V340.5H498.9zM502.3 325.5H505.8V343H502.3zM505.8 333H509.3V348H505.8zM509.2 325.5H512.7V343H509.2zM512.7 320.5H516.2V338H512.7zM516.1 320.5H519.6V335.5H516.1zM523 298H526.5V315.5H523zM526.5 303H530V320.5H526.5zM529.9 298H533.4V318H529.9zM533.4 300.5H536.9V318H533.4zM540.3 300.5H543.8V318H540.3zM543.7 300.5H547.2V318H543.7zM547.2 303H550.7V320.5H547.2zM550.6 300.5H554.1V318H550.6z"/><path fill="#0050ff" d="M74.4 155.5H77.9V163H74.4zM77.9 145.5H81.4V153H77.9zM81.3 50.5H84.8V52.5H81.3zM81.3 54.5H84.8V56.5H81.3zM81.3 138H84.8V148H81.3zM84.8 38.5H88.3V40.5H84.8zM84.8 54.5H88.3V56.5H84.8zM84.8 140.5H88.3V148H84.8zM88.2 36.5H91.7V38.5H88.2zM88.2 48.5H91.7V50.5H88.2zM88.2 135.5H91.7V145.5H88.2zM91.7 44.5H95.2V46.5H91.7zM91.7 133H95.2V143H91.7zM95.1 52.5H98.6V54.5H95.1zM95.1 140.5H98.6V148H95.1zM98.6 140.5H102.1V150.5H98.6zM102 50.5H105.5V52.5H102zM102 138H105.5V148H102zM105.5 46.5H109V48.5H105.5zM105.5 138H109V145.5H105.5zM108.9 143H112.4V153H108.9zM112.4 46.5H115.9V48.5H112.4zM112.4 135.5H115.9V143H112.4zM115.8 48.5H119.3V50.5H115.8zM115.8 135.5H119.3V145.5H115.8zM119.3 133H122.8V143H119.3zM122.7 143H126.2V153H122.7zM126.2 155.5H129.7V163H126.2zM129.6 148H133.1V155.5H129.6zM133.1 140.5H136.6V150.5H133.1zM136.5 46.5H140V48.5H136.5zM136.5 153H140V163H136.5zM140 148H143.5V155.5H140zM143.4 44.5H146.9V46.5H143.4zM143.4 145.5H146.9V153H143.4zM146.9 155.5H150.4V163H146.9zM150.3 52.5H153.8V54.5H150.3zM150.3 145.5H153.8V155.5H150.3zM153.8 48.5H157.3V50.5H153.8zM153.8 138H157.3V145.5H153.8zM157.2 48.5H160.7V50.5H157.2zM157.2 158H160.7V168H157.2zM160.7 138H164.2V145.5H160.7zM164.1 40.5H167.6V42.5H164.1zM164.1 145.5H167.6V153H164.1zM167.6 50.5H171.1V54.5H167.6zM167.6 140.5H171.1V150.5H167.6zM171 145.5H174.5V153H171zM174.5 48.5H178V50.5H174.5zM174.5 158H178V165.5H174.5zM177.9 138H181.4V145.5H177.9zM181.4 50.5H184.9V54.5H181.4zM181.4 145.5H184.9V153H181.4zM184.8 50.5H188.3V52.5H184.8zM184.8 138H188.3V145.5H184.8zM188.3 143H191.8V153H188.3zM191.7 143H195.2V150.5H191.7zM195.2 150.5H198.7V160.5H195.2zM198.6 155.5H202.1V165.5H198.6zM202.1 163H205.6V170.5H202.1zM205.5 145.5H209V153H205.5zM209 138H212.5V148H209zM212.4 145.5H215.9V153H212.4zM215.9 138H219.4V145.5H215.9zM219.3 138H222.8V145.5H219.3zM222.8 140.5H226.3V148H222.8zM226.2 158H229.7V165.5H226.2zM229.7 153H233.2V163H229.7zM233.1 143H236.6V153H233.1zM236.6 140.5H240.1V148H236.6zM240 145.5H243.5V155.5H240zM243.5 143H247V150.5H243.5zM247 143H250.5V153H247zM250.4 145.5H253.9V153H250.4zM253.9 145.5H257.4V153H253.9zM257.3 280.5H260.8V290.5H257.3zM260.8 303H264.3V313H260.8zM264.2 308H267.7V320.5H264.2zM267.7 303H271.2V315.5H267.7zM271.1 303H274.6V315.5H271.1zM274.6 273H278.1V283H274.6zM278 225.5H281.5V240.5H278zM284.9 315.5H288.4V325.5H284.9zM288.4 313H291.9V325.5H288.4zM291.8 313H295.3V325.5H291.8zM295.3 318H298.8V330.5H295.3zM298.7 325.5H302.2V335.5H298.7zM302.2 330.5H305.7V340.5H302.2zM309.1 313H312.6V325.5H309.1zM312.5 303H316V315.5H312.5zM316 288H319.5V300.5H316zM319.4 280.5H322.9V293H319.4zM322.9 278H326.4V290.5H322.9zM326.3 268H329.8V283H326.3zM329.8 260.5H333.3V275.5H329.8zM336.7 305.5H340.2V318H336.7zM340.1 308H343.6V320.5H340.1zM343.6 305.5H347.1V318H343.6zM347 303H350.5V315.5H347zM350.5 303H354V315.5H350.5zM353.9 303H357.4V315.5H353.9zM357.4 293H360.9V305.5H357.4zM360.8 283H364.3V293H360.8zM364.3 280.5H367.8V293H364.3zM367.7 280.5H371.2V293H367.7zM371.2 295.5H374.7V308H371.2zM374.6 300.5H378.1V313H374.6zM378.1 310.5H381.6V323H378.1zM381.5 310.5H385V323H381.5zM385 308H388.5V318H385zM388.4 305.5H391.9V318H388.4zM391.9 295.5H395.4V308H391.9zM395.3 308H398.8V320.5H395.3zM405.7 315.5H409.2V325.5H405.7zM409.1 315.5H412.6V328H409.1zM412.6 318H416.1V330.5H412.6zM416 310.5H419.6V323H416zM419.5 315.5H423V328H419.5zM423 318H426.5V330.5H423zM426.4 308H429.9V320.5H426.4zM429.9 303H433.4V315.5H429.9zM433.3 303H436.8V313H433.3zM440.2 300.5H443.7V313H440.2zM450.6 315.5H454.1V325.5H450.6zM454 313H457.5V323H454zM457.5 318H461V330.5H457.5zM460.9 325.5H464.4V335.5H460.9zM467.8 305.5H471.3V318H467.8zM471.3 305.5H474.8V318H471.3zM474.7 298H478.2V310.5H474.7zM478.2 303H481.7V313H478.2zM481.6 305.5H485.1V318H481.6zM485.1 303H488.6V315.5H485.1zM488.5 300.5H492V310.5H488.5zM492 298H495.5V310.5H492zM495.4 305.5H498.9V315.5H495.4zM498.9 315.5H502.4V328H498.9zM502.3 315.5H505.8V325.5H502.3zM505.8 323H509.3V333H505.8zM509.2 315.5H512.7V325.5H509.2zM512.7 308H516.2V320.5H512.7zM516.1 308H519.6V320.5H516.1zM523 285.5H526.5V298H523zM526.5 290.5H530V303H526.5zM529.9 285.5H533.4V298H529.9zM533.4 290.5H536.9V300.5H533.4zM540.3 288H543.8V300.5H540.3zM543.7 285.5H547.2V300.5H543.7zM547.2 293H550.7V303H547.2zM550.6 288H554.1V300.5H550.6z"/><path fill="#0060ff" d="M74.4 150.5H77.9V155.5H74.4zM77.9 138H81.4V145.5H77.9zM81.3 130.5H84.8V138H81.3zM84.8 50.5H88.3V52.5H84.8zM84.8 130.5H88.3V140.5H84.8zM88.2 128H91.7V135.5H88.2zM91.7 48.5H95.2V50.5H91.7zM91.7 125.5H95.2V133H91.7zM95.1 42.5H98.6V44.5H95.1zM95.1 130.5H98.6V140.5H95.1zM98.6 52.5H102.1V54.5H98.6zM98.6 133H102.1V140.5H98.6zM102 130.5H105.5V138H102zM105.5 128H109V138H105.5zM108.9 135.5H112.4V143H108.9zM112.4 50.5H115.9V52.5H112.4zM112.4 125.5H115.9V135.5H112.4zM115.8 54.5H119.3V56.5H115.8zM115.8 128H119.3V135.5H115.8zM119.3 46.5H122.8V48.5H119.3zM119.3 50.5H122.8V52.5H119.3zM119.3 125.5H122.8V133H119.3zM122.7 48.5H126.2V50.5H122.7zM122.7 135.5H126.2V143H122.7zM126.2 46.5H129.7V50.5H126.2zM126.2 148H129.7V155.5H126.2zM129.6 54.5H133.1V56.5H129.6zM129.6 140.5H133.1V148H129.6zM133.1 133H136.6V140.5H133.1zM136.5 145.5H140V153H136.5zM140 138H143.5V148H140zM143.4 135.5H146.9V145.5H143.4zM146.9 52.5H150.4V54.5H146.9zM146.9 150.5H150.4V155.5H146.9zM150.3 138H153.8V145.5H150.3zM153.8 130.5H157.3V138H153.8zM157.2 50.5H160.7V52.5H157.2zM157.2 150.5H160.7V158H157.2zM160.7 36.5H164.2V38.5H160.7zM160.7 48.5H164.2V50.5H160.7zM160.7 128H164.2V138H160.7zM164.1 36.5H167.6V38.5H164.1zM164.1 135.5H167.6V145.5H164.1zM167.6 133H171.1V140.5H167.6zM171 138H174.5V145.5H171zM174.5 150.5H178V158H174.5zM177.9 128H181.4V138H177.9zM181.4 138H184.9V145.5H181.4zM184.8 130.5H188.3V138H184.8zM188.3 50.5H191.8V54.5H188.3zM188.3 135.5H191.8V143H188.3zM191.7 50.5H195.2V52.5H191.7zM191.7 135.5H195.2V143H191.7zM195.2 143H198.7V150.5H195.2zM198.6 52.5H202.1V54.5H198.6zM198.6 148H202.1V155.5H198.6zM202.1 38.5H205.6V40.5H202.1zM202.1 46.5H205.6V48.5H202.1zM202.1 155.5H205.6V163H202.1zM205.5 138H209V145.5H205.5zM209 130.5H212.5V138H209zM212.4 135.5H215.9V145.5H212.4zM215.9 130.5H219.4V138H215.9zM219.3 130.5H222.8V138H219.3zM222.8 133H226.3V140.5H222.8zM226.2 150.5H229.7V158H226.2zM229.7 145.5H233.2V153H229.7zM233.1 135.5H236.6V143H233.1zM236.6 133H240.1V140.5H236.6zM240 138H243.5V145.5H240zM243.5 135.5H247V143H243.5zM247 135.5H250.5V143H247zM250.4 138H253.9V145.5H250.4zM253.9 138H257.4V145.5H253.9zM257.3 270.5H260.8V280.5H257.3zM260.8 293H264.3V303H260.8zM264.2 298H267.7V308H264.2zM267.7 293H271.2V303H267.7zM271.1 293H274.6V303H271.1zM274.6 263H278.1V273H274.6zM278 213H281.5V225.5H278zM284.9 303H288.4V315.5H284.9zM288.4 303H291.9V313H288.4zM291.8 303H295.3V313H291.8zM295.3 308H298.8V318H295.3zM298.7 315.5H302.2V325.5H298.7zM302.2 320.5H305.7V330.5H302.2zM309.1 303H312.6V313H309.1zM312.5 293H316V303H312.5zM316 278H319.5V288H316zM319.4 268H322.9V280.5H319.4zM322.9 268H326.4V278H322.9zM326.3 258H329.8V268H326.3zM329.8 250.5H333.3V260.5H329.8zM336.7 295.5H340.2V305.5H336.7zM340.1 298H343.6V308H340.1zM343.6 295.5H347.1V305.5H343.6zM347 293H350.5V303H347zM350.5 293H354V303H350.5zM353.9 293H357.4V303H353.9zM357.4 280.5H360.9V293H357.4zM360.8 270.5H364.3V283H360.8zM364.3 270.5H367.8V280.5H364.3zM367.7 270.5H371.2V280.5H367.7zM371.2 285.5H374.7V295.5H371.2zM374.6 288H378.1V300.5H374.6zM378.1 300.5H381.6V310.5H378.1zM381.5 300.5H385V310.5H381.5zM385 298H388.5V308H385zM388.4 295.5H391.9V305.5H388.4zM391.9 285.5H395.4V295.5H391.9zM395.3 298H398.8V308H395.3zM405.7 305.5H409.2V315.5H405.7zM409.1 305.5H412.6V315.5H409.1zM412.6 310.5H416.1V318H412.6zM416 300.5H419.6V310.5H416zM419.5 305.5H423V315.5H419.5zM423 308H426.5V318H423zM426.4 298H429.9V308H426.4zM429.9 293H433.4V303H429.9zM433.3 290.5H436.8V303H433.3zM440.2 290.5H443.7V300.5H440.2zM450.6 305.5H454.1V315.5H450.6zM454 303H457.5V313H454zM457.5 310.5H461V318H457.5zM460.9 315.5H464.4V325.5H460.9zM467.8 295.5H471.3V305.5H467.8zM471.3 295.5H474.8V305.5H471.3zM474.7 288H478.2V298H474.7zM478.2 290.5H481.7V303H478.2zM481.6 293H485.1V305.5H481.6zM485.1 293H488.6V303H485.1zM488.5 288H492V300.5H488.5zM492 288H495.5V298H492zM495.4 295.5H498.9V305.5H495.4zM498.9 305.5H502.4V315.5H498.9zM502.3 305.5H505.8V315.5H502.3zM505.8 313H509.3V323H505.8zM509.2 305.5H512.7V315.5H509.2zM512.7 298H516.2V308H512.7zM516.1 298H519.6V308H516.1zM523 275.5H526.5V285.5H523zM526.5 280.5H530V290.5H526.5zM529.9 275.5H533.4V285.5H529.9zM533.4 280.5H536.9V290.5H533.4zM540.3 278H543.8V288H540.3zM543.7 275.5H547.2V285.5H543.7zM547.2 280.5H550.7V293H547.2zM550.6 278H554.1V288H550.6z"/><path fill="#0070ff" d="M74.4 145.5H77.9V150.5H74.4zM77.9 130.5H81.4V138H77.9zM81.3 125.5H84.8V130.5H81.3zM84.8 52.5H88.3V54.5H84.8zM84.8 125.5H88.3V130.5H84.8zM88.2 120.5H91.7V128H88.2zM91.7 54.5H95.2V56.5H91.7zM91.7 120.5H95.2V125.5H91.7zM95.1 40.5H98.6V42.5H95.1zM95.1 44.5H98.6V46.5H95.1zM95.1 125.5H98.6V130.5H95.1zM98.6 128H102.1V133H98.6zM102 54.5H105.5V56.5H102zM102 58.5H105.5V60.5H102zM102 125.5H105.5V130.5H102zM105.5 123H109V128H105.5zM108.9 52.5H112.4V54.5H108.9zM108.9 128H112.4V135.5H108.9zM112.4 54.5H115.9V56.5H112.4zM112.4 120.5H115.9V125.5H112.4zM115.8 44.5H119.3V46.5H115.8zM115.8 123H119.3V128H115.8zM119.3 118.5H122.8V125.5H119.3zM122.7 56.5H126.2V58.5H122.7zM122.7 130.5H126.2V135.5H122.7zM126.2 52.5H129.7V54.5H126.2zM126.2 140.5H129.7V148H126.2zM129.6 50.5H133.1V52.5H129.6zM129.6 133H133.1V140.5H129.6zM133.1 50.5H136.6V52.5H133.1zM133.1 128H136.6V133H133.1zM136.5 44.5H140V46.5H136.5zM136.5 140.5H140V145.5H136.5zM140 48.5H143.5V50.5H140zM140 133H143.5V138H140zM143.4 54.5H146.9V56.5H143.4zM143.4 130.5H146.9V135.5H143.4zM146.9 54.5H150.4V56.5H146.9zM146.9 143H150.4V150.5H146.9zM150.3 42.5H153.8V44.5H150.3zM150.3 133H153.8V138H150.3zM153.8 52.5H157.3V54.5H153.8zM153.8 125.5H157.3V130.5H153.8zM157.2 145.5H160.7V150.5H157.2zM160.7 40.5H164.2V42.5H160.7zM160.7 123H164.2V128H160.7zM164.1 130.5H167.6V135.5H164.1zM167.6 125.5H171.1V133H167.6zM171 50.5H174.5V52.5H171zM171 130.5H174.5V138H171zM174.5 145.5H178V150.5H174.5zM177.9 123H181.4V128H177.9zM181.4 54.5H184.9V56.5H181.4zM181.4 130.5H184.9V138H181.4zM184.8 54.5H188.3V56.5H184.8zM184.8 125.5H188.3V130.5H184.8zM188.3 130.5H191.8V135.5H188.3zM191.7 128H195.2V135.5H191.7zM195.2 138H198.7V143H195.2zM198.6 143H202.1V148H198.6zM202.1 40.5H205.6V42.5H202.1zM202.1 150.5H205.6V155.5H202.1zM205.5 133H209V138H205.5zM209 123H212.5V130.5H209zM212.4 130.5H215.9V135.5H212.4zM215.9 125.5H219.4V130.5H215.9zM219.3 123H222.8V130.5H219.3zM222.8 125.5H226.3V133H222.8zM226.2 145.5H229.7V150.5H226.2zM229.7 140.5H233.2V145.5H229.7zM233.1 130.5H236.6V135.5H233.1zM236.6 128H240.1V133H236.6zM240 130.5H243.5V138H240zM243.5 128H247V135.5H243.5zM247 128H250.5V135.5H247zM250.4 133H253.9V138H250.4zM253.9 133H257.4V138H253.9zM257.3 263H260.8V270.5H257.3zM260.8 285.5H264.3V293H260.8zM264.2 290.5H267.7V298H264.2zM267.7 285.5H271.2V293H267.7zM271.1 285.5H274.6V293H271.1zM274.6 255.5H278.1V263H274.6zM278 203H281.5V213H278zM284.9 298H288.4V303H284.9zM288.4 298H291.9V303H288.4zM291.8 295.5H295.3V303H291.8zM295.3 303H298.8V308H295.3zM298.7 308H302.2V315.5H298.7zM302.2 313H305.7V320.5H302.2zM309.1 298H312.6V303H309.1zM312.5 285.5H316V293H312.5zM316 270.5H319.5V278H316zM319.4 260.5H322.9V268H319.4zM322.9 260.5H326.4V268H322.9zM326.3 250.5H329.8V258H326.3zM329.8 243H333.3V250.5H329.8zM336.7 288H340.2V295.5H336.7zM340.1 293H343.6V298H340.1zM343.6 288H347.1V295.5H343.6zM347 285.5H350.5V293H347zM350.5 285.5H354V293H350.5zM353.9 285.5H357.4V293H353.9zM357.4 275.5H360.9V280.5H357.4zM360.8 263H364.3V270.5H360.8zM364.3 263H367.8V270.5H364.3zM367.7 263H371.2V270.5H367.7zM371.2 278H374.7V285.5H371.2zM374.6 283H378.1V288H374.6zM378.1 295.5H381.6V300.5H378.1zM381.5 293H385V300.5H381.5zM385 290.5H388.5V298H385zM388.4 288H391.9V295.5H388.4zM391.9 278H395.4V285.5H391.9zM395.3 290.5H398.8V298H395.3zM405.7 298H409.2V305.5H405.7zM409.1 300.5H412.6V305.5H409.1zM412.6 303H416.1V310.5H412.6zM416 293H419.6V300.5H416zM419.5 300.5H423V305.5H419.5zM423 300.5H426.5V308H423zM426.4 290.5H429.9V298H426.4zM429.9 288H433.4V293H429.9zM433.3 285.5H436.8V290.5H433.3zM440.2 283H443.7V290.5H440.2zM450.6 298H454.1V305.5H450.6zM454 295.5H457.5V303H454zM457.5 303H461V310.5H457.5zM460.9 308H464.4V315.5H460.9zM467.8 288H471.3V295.5H467.8zM471.3 290.5H474.8V295.5H471.3zM474.7 280.5H478.2V288H474.7zM478.2 285.5H481.7V290.5H478.2zM481.6 288H485.1V293H481.6zM485.1 288H488.6V293H485.1zM488.5 283H492V288H488.5zM492 280.5H495.5V288H492zM495.4 288H498.9V295.5H495.4zM498.9 298H502.4V305.5H498.9zM502.3 298H505.8V305.5H502.3zM505.8 305.5H509.3V313H505.8zM509.2 298H512.7V305.5H509.2zM512.7 293H516.2V298H512.7zM516.1 293H519.6V298H516.1zM523 268H526.5V275.5H523zM526.5 275.5H530V280.5H526.5zM529.9 268H533.4V275.5H529.9zM533.4 273H536.9V280.5H533.4zM540.3 273H543.8V278H540.3zM543.7 268H547.2V275.5H543.7zM547.2 273H550.7V280.5H547.2zM550.6 270.5H554.1V278H550.6z"/><path fill="#0080ff" d="M74.4 140.5H77.9V145.5H74.4zM77.9 125.5H81.4V130.5H77.9zM81.3 118.5H84.8V125.5H81.3zM84.8 118.5H88.3V125.5H84.8zM88.2 40.5H91.7V42.5H88.2zM88.2 116.5H91.7V120.5H88.2zM91.7 114.5H95.2V120.5H91.7zM95.1 118.5H98.6V125.5H95.1zM98.6 44.5H102.1V46.5H98.6zM98.6 50.5H102.1V52.5H98.6zM98.6 56.5H102.1V58.5H98.6zM98.6 120.5H102.1V128H98.6zM102 42.5H105.5V44.5H102zM102 118.5H105.5V125.5H102zM105.5 54.5H109V56.5H105.5zM105.5 118.5H109V123H105.5zM108.9 123H112.4V128H108.9zM112.4 52.5H115.9V54.5H112.4zM112.4 116.5H115.9V120.5H112.4zM115.8 116.5H119.3V123H115.8zM119.3 56.5H122.8V58.5H119.3zM119.3 114.5H122.8V118.5H119.3zM122.7 123H126.2V130.5H122.7zM126.2 50.5H129.7V52.5H126.2zM126.2 135.5H129.7V140.5H126.2zM129.6 64.5H133.1V66.5H129.6zM129.6 128H133.1V133H129.6zM133.1 120.5H136.6V128H133.1zM136.5 60.5H140V62.5H136.5zM136.5 133H140V140.5H136.5zM140 125.5H143.5V133H140zM143.4 50.5H146.9V52.5H143.4zM143.4 123H146.9V130.5H143.4zM146.9 138H150.4V143H146.9zM150.3 128H153.8V133H150.3zM153.8 118.5H157.3V125.5H153.8zM157.2 140.5H160.7V145.5H157.2zM160.7 118.5H164.2V123H160.7zM164.1 50.5H167.6V52.5H164.1zM164.1 125.5H167.6V130.5H164.1zM167.6 54.5H171.1V56.5H167.6zM167.6 120.5H171.1V125.5H167.6zM171 123H174.5V130.5H171zM174.5 138H178V145.5H174.5zM177.9 116.5H181.4V123H177.9zM181.4 123H184.9V130.5H181.4zM184.8 118.5H188.3V125.5H184.8zM188.3 125.5H191.8V130.5H188.3zM191.7 123H195.2V128H191.7zM195.2 135.5H198.7V138H195.2zM198.6 50.5H202.1V52.5H198.6zM198.6 138H202.1V143H198.6zM202.1 48.5H205.6V50.5H202.1zM202.1 145.5H205.6V150.5H202.1zM205.5 128H209V133H205.5zM209 118.5H212.5V123H209zM212.4 125.5H215.9V130.5H212.4zM215.9 118.5H219.4V125.5H215.9zM219.3 116.5H222.8V123H219.3zM222.8 120.5H226.3V125.5H222.8zM226.2 140.5H229.7V145.5H226.2zM229.7 135.5H233.2V140.5H229.7zM233.1 125.5H236.6V130.5H233.1zM236.6 123H240.1V128H236.6zM240 125.5H243.5V130.5H240zM243.5 123H247V128H243.5zM247 123H250.5V128H247zM250.4 128H253.9V133H250.4zM253.9 128H257.4V133H253.9zM257.3 255.5H260.8V263H257.3zM260.8 278H264.3V285.5H260.8zM264.2 285.5H267.7V290.5H264.2zM267.7 280.5H271.2V285.5H267.7zM271.1 280.5H274.6V285.5H271.1zM274.6 245.5H278.1V255.5H274.6zM278 193H281.5V203H278zM284.9 290.5H288.4V298H284.9zM288.4 290.5H291.9V298H288.4zM291.8 290.5H295.3V295.5H291.8zM295.3 295.5H298.8V303H295.3zM298.7 303H302.2V308H298.7zM302.2 305.5H305.7V313H302.2zM309.1 290.5H312.6V298H309.1zM312.5 280.5H316V285.5H312.5zM316 263H319.5V270.5H316zM319.4 253H322.9V260.5H319.4zM322.9 253H326.4V260.5H322.9zM326.3 243H329.8V250.5H326.3zM329.8 238H333.3V243H329.8zM336.7 280.5H340.2V288H336.7zM340.1 285.5H343.6V293H340.1zM343.6 283H347.1V288H343.6zM347 278H350.5V285.5H347zM350.5 280.5H354V285.5H350.5zM353.9 280.5H357.4V285.5H353.9zM357.4 268H360.9V275.5H357.4zM360.8 255.5H364.3V263H360.8zM364.3 255.5H367.8V263H364.3zM367.7 255.5H371.2V263H367.7zM371.2 270.5H374.7V278H371.2zM374.6 275.5H378.1V283H374.6zM378.1 288H381.6V295.5H378.1zM381.5 288H385V293H381.5zM385 285.5H388.5V290.5H385zM388.4 280.5H391.9V288H388.4zM391.9 270.5H395.4V278H391.9zM395.3 285.5H398.8V290.5H395.3zM405.7 293H409.2V298H405.7zM409.1 293H412.6V300.5H409.1zM412.6 298H416.1V303H412.6zM416 288H419.6V293H416zM419.5 293H423V300.5H419.5zM423 293H426.5V300.5H423zM426.4 283H429.9V290.5H426.4zM429.9 280.5H433.4V288H429.9zM433.3 278H436.8V285.5H433.3zM440.2 278H443.7V283H440.2zM450.6 293H454.1V298H450.6zM454 290.5H457.5V295.5H454zM457.5 295.5H461V303H457.5zM460.9 303H464.4V308H460.9zM467.8 283H471.3V288H467.8zM471.3 283H474.8V290.5H471.3zM474.7 275.5H478.2V280.5H474.7zM478.2 278H481.7V285.5H478.2zM481.6 280.5H485.1V288H481.6zM485.1 283H488.6V288H485.1zM488.5 275.5H492V283H488.5zM492 275.5H495.5V280.5H492zM495.4 280.5H498.9V288H495.4zM498.9 290.5H502.4V298H498.9zM502.3 290.5H505.8V298H502.3zM505.8 300.5H509.3V305.5H505.8zM509.2 293H512.7V298H509.2zM512.7 285.5H516.2V293H512.7zM516.1 285.5H519.6V293H516.1zM523 260.5H526.5V268H523zM526.5 268H530V275.5H526.5zM529.9 260.5H533.4V268H529.9zM533.4 265.5H536.9V273H533.4zM540.3 265.5H543.8V273H540.3zM543.7 263H547.2V268H543.7zM547.2 265.5H550.7V273H547.2zM550.6 265.5H554.1V270.5H550.6z"/><path fill="#008fff" d="M74.4 58.5H77.9V60.5H74.4zM74.4 133H77.9V140.5H74.4zM77.9 118.5H81.4V125.5H77.9zM81.3 56.5H84.8V60.5H81.3zM81.3 114.5H84.8V118.5H81.3zM84.8 56.5H88.3V58.5H84.8zM84.8 112.5H88.3V118.5H84.8zM88.2 54.5H91.7V56.5H88.2zM88.2 110.5H91.7V116.5H88.2zM91.7 108.5H95.2V114.5H91.7zM95.1 112.5H98.6V118.5H95.1zM98.6 42.5H102.1V44.5H98.6zM98.6 116.5H102.1V120.5H98.6zM102 48.5H105.5V50.5H102zM102 52.5H105.5V54.5H102zM102 56.5H105.5V58.5H102zM102 114.5H105.5V118.5H102zM105.5 112.5H109V118.5H105.5zM108.9 50.5H112.4V52.5H108.9zM108.9 54.5H112.4V56.5H108.9zM108.9 58.5H112.4V60.5H108.9zM108.9 116.5H112.4V123H108.9zM112.4 110.5H115.9V116.5H112.4zM115.8 56.5H119.3V58.5H115.8zM115.8 112.5H119.3V116.5H115.8zM119.3 108.5H122.8V114.5H119.3zM122.7 118.5H126.2V123H122.7zM126.2 56.5H129.7V58.5H126.2zM126.2 62.5H129.7V64.5H126.2zM126.2 130.5H129.7V135.5H126.2zM129.6 60.5H133.1V62.5H129.6zM129.6 123H133.1V128H129.6zM133.1 48.5H136.6V50.5H133.1zM133.1 116.5H136.6V120.5H133.1zM136.5 48.5H140V50.5H136.5zM136.5 128H140V133H136.5zM140 52.5H143.5V54.5H140zM140 56.5H143.5V58.5H140zM140 62.5H143.5V64.5H140zM140 123H143.5V125.5H140zM143.4 58.5H146.9V62.5H143.4zM143.4 118.5H146.9V123H143.4zM146.9 133H150.4V138H146.9zM150.3 48.5H153.8V50.5H150.3zM150.3 123H153.8V128H150.3zM153.8 112.5H157.3V118.5H153.8zM157.2 40.5H160.7V44.5H157.2zM157.2 52.5H160.7V54.5H157.2zM157.2 135.5H160.7V140.5H157.2zM160.7 112.5H164.2V118.5H160.7zM164.1 52.5H167.6V54.5H164.1zM164.1 120.5H167.6V125.5H164.1zM167.6 114.5H171.1V120.5H167.6zM171 118.5H174.5V123H171zM174.5 133H178V138H174.5zM177.9 52.5H181.4V54.5H177.9zM177.9 56.5H181.4V58.5H177.9zM177.9 112.5H181.4V116.5H177.9zM181.4 118.5H184.9V123H181.4zM184.8 112.5H188.3V118.5H184.8zM188.3 118.5H191.8V125.5H188.3zM191.7 54.5H195.2V58.5H191.7zM191.7 116.5H195.2V123H191.7zM195.2 130.5H198.7V135.5H195.2zM198.6 133H202.1V138H198.6zM202.1 36.5H205.6V38.5H202.1zM202.1 42.5H205.6V44.5H202.1zM202.1 140.5H205.6V145.5H202.1zM205.5 123H209V128H205.5zM209 114.5H212.5V118.5H209zM212.4 118.5H215.9V125.5H212.4zM215.9 112.5H219.4V118.5H215.9zM219.3 112.5H222.8V116.5H219.3zM222.8 114.5H226.3V120.5H222.8zM226.2 133H229.7V140.5H226.2zM229.7 130.5H233.2V135.5H229.7zM233.1 120.5H236.6V125.5H233.1zM236.6 116.5H240.1V123H236.6zM240 120.5H243.5V125.5H240zM243.5 118.5H247V123H243.5zM247 116.5H250.5V123H247zM250.4 120.5H253.9V128H250.4zM253.9 123H257.4V128H253.9zM257.3 250.5H260.8V255.5H257.3zM260.8 273H264.3V278H260.8zM264.2 280.5H267.7V285.5H264.2zM267.7 273H271.2V280.5H267.7zM271.1 273H274.6V280.5H271.1zM274.6 238H278.1V245.5H274.6zM278 183H281.5V193H278zM284.9 285.5H288.4V290.5H284.9zM288.4 283H291.9V290.5H288.4zM291.8 283H295.3V290.5H291.8zM295.3 290.5H298.8V295.5H295.3zM298.7 295.5H302.2V303H298.7zM302.2 300.5H305.7V305.5H302.2zM309.1 285.5H312.6V290.5H309.1zM312.5 275.5H316V280.5H312.5zM316 258H319.5V263H316zM319.4 248H322.9V253H319.4zM322.9 248H326.4V253H322.9zM326.3 238H329.8V243H326.3zM329.8 230.5H333.3V238H329.8zM336.7 275.5H340.2V280.5H336.7zM340.1 278H343.6V285.5H340.1zM343.6 275.5H347.1V283H343.6zM347 273H350.5V278H347zM350.5 273H354V280.5H350.5zM353.9 273H357.4V280.5H353.9zM357.4 263H360.9V268H357.4zM360.8 250.5H364.3V255.5H360.8zM364.3 250.5H367.8V255.5H364.3zM367.7 250.5H371.2V255.5H367.7zM371.2 265.5H374.7V270.5H371.2zM374.6 270.5H378.1V275.5H374.6zM378.1 283H381.6V288H378.1zM381.5 283H385V288H381.5zM385 280.5H388.5V285.5H385zM388.4 275.5H391.9V280.5H388.4zM391.9 265.5H395.4V270.5H391.9zM395.3 278H398.8V285.5H395.3zM405.7 285.5H409.2V293H405.7zM409.1 288H412.6V293H409.1zM412.6 290.5H416.1V298H412.6zM416 283H419.6V288H416zM419.5 288H423V293H419.5zM423 288H426.5V293H423zM426.4 278H429.9V283H426.4zM429.9 273H433.4V280.5H429.9zM433.3 273H436.8V278H433.3zM440.2 270.5H443.7V278H440.2zM450.6 285.5H454.1V293H450.6zM454 283H457.5V290.5H454zM457.5 290.5H461V295.5H457.5zM460.9 295.5H464.4V303H460.9zM467.8 278H471.3V283H467.8zM471.3 278H474.8V283H471.3zM474.7 268H478.2V275.5H474.7zM478.2 270.5H481.7V278H478.2zM481.6 275.5H485.1V280.5H481.6zM485.1 275.5H488.6V283H485.1zM488.5 270.5H492V275.5H488.5zM492 270.5H495.5V275.5H492zM495.4 275.5H498.9V280.5H495.4zM498.9 285.5H502.4V290.5H498.9zM502.3 285.5H505.8V290.5H502.3zM505.8 293H509.3V300.5H505.8zM509.2 288H512.7V293H509.2zM512.7 280.5H516.2V285.5H512.7zM516.1 280.5H519.6V285.5H516.1zM523 255.5H526.5V260.5H523zM526.5 263H530V268H526.5zM529.9 255.5H533.4V260.5H529.9zM533.4 260.5H536.9V265.5H533.4zM540.3 260.5H543.8V265.5H540.3zM543.7 255.5H547.2V263H543.7zM547.2 260.5H550.7V265.5H547.2zM550.6 258H554.1V265.5H550.6z"/><path fill="#009fff" d="M74.4 128H77.9V133H74.4zM77.9 56.5H81.4V58.5H77.9zM77.9 114.5H81.4V118.5H77.9zM81.3 108.5H84.8V114.5H81.3zM84.8 106.5H88.3V112.5H84.8zM88.2 104.5H91.7V110.5H88.2zM91.7 38.5H95.2V42.5H91.7zM91.7 104.5H95.2V108.5H91.7zM95.1 38.5H98.6V40.5H95.1zM95.1 50.5H98.6V52.5H95.1zM95.1 106.5H98.6V112.5H95.1zM98.6 58.5H102.1V60.5H98.6zM98.6 110.5H102.1V116.5H98.6zM102 44.5H105.5V46.5H102zM102 110.5H105.5V114.5H102zM105.5 106.5H109V112.5H105.5zM108.9 44.5H112.4V46.5H108.9zM108.9 60.5H112.4V62.5H108.9zM108.9 110.5H112.4V116.5H108.9zM112.4 102.5H115.9V110.5H112.4zM115.8 106.5H119.3V112.5H115.8zM119.3 48.5H122.8V50.5H119.3zM119.3 104.5H122.8V108.5H119.3zM122.7 60.5H126.2V62.5H122.7zM122.7 112.5H126.2V118.5H122.7zM126.2 125.5H129.7V130.5H126.2zM129.6 46.5H133.1V48.5H129.6zM129.6 116.5H133.1V123H129.6zM133.1 110.5H136.6V116.5H133.1zM136.5 123H140V128H136.5zM140 118.5H143.5V123H140zM143.4 114.5H146.9V118.5H143.4zM146.9 48.5H150.4V50.5H146.9zM146.9 128H150.4V133H146.9zM150.3 50.5H153.8V52.5H150.3zM150.3 118.5H153.8V123H150.3zM153.8 40.5H157.3V42.5H153.8zM153.8 108.5H157.3V112.5H153.8zM157.2 54.5H160.7V56.5H157.2zM157.2 128H160.7V135.5H157.2zM160.7 38.5H164.2V40.5H160.7zM160.7 50.5H164.2V52.5H160.7zM160.7 104.5H164.2V112.5H160.7zM164.1 54.5H167.6V56.5H164.1zM164.1 114.5H167.6V120.5H164.1zM167.6 108.5H171.1V114.5H167.6zM171 114.5H174.5V118.5H171zM174.5 54.5H178V56.5H174.5zM174.5 130.5H178V133H174.5zM177.9 54.5H181.4V56.5H177.9zM177.9 108.5H181.4V112.5H177.9zM181.4 56.5H184.9V58.5H181.4zM181.4 112.5H184.9V118.5H181.4zM184.8 52.5H188.3V54.5H184.8zM184.8 108.5H188.3V112.5H184.8zM188.3 56.5H191.8V58.5H188.3zM188.3 114.5H191.8V118.5H188.3zM191.7 110.5H195.2V116.5H191.7zM195.2 125.5H198.7V130.5H195.2zM198.6 54.5H202.1V56.5H198.6zM198.6 125.5H202.1V133H198.6zM202.1 50.5H205.6V52.5H202.1zM202.1 135.5H205.6V140.5H202.1zM205.5 116.5H209V123H205.5zM209 110.5H212.5V114.5H209zM212.4 112.5H215.9V118.5H212.4zM215.9 108.5H219.4V112.5H215.9zM219.3 106.5H222.8V112.5H219.3zM222.8 108.5H226.3V114.5H222.8zM226.2 128H229.7V133H226.2zM229.7 123H233.2V130.5H229.7zM233.1 116.5H236.6V120.5H233.1zM236.6 110.5H240.1V116.5H236.6zM240 116.5H243.5V120.5H240zM243.5 112.5H247V118.5H243.5zM247 110.5H250.5V116.5H247zM250.4 116.5H253.9V120.5H250.4zM253.9 116.5H257.4V123H253.9zM257.3 245.5H260.8V250.5H257.3zM260.8 265.5H264.3V273H260.8zM264.2 275.5H267.7V280.5H264.2zM267.7 268H271.2V273H267.7zM271.1 268H274.6V273H271.1zM274.6 230.5H278.1V238H274.6zM278 175.5H281.5V183H278zM284.9 280.5H288.4V285.5H284.9zM288.4 278H291.9V283H288.4zM291.8 278H295.3V283H291.8zM295.3 285.5H298.8V290.5H295.3zM298.7 290.5H302.2V295.5H298.7zM302.2 295.5H305.7V300.5H302.2zM309.1 278H312.6V285.5H309.1zM312.5 268H316V275.5H312.5zM316 253H319.5V258H316zM319.4 243H322.9V248H319.4zM322.9 243H326.4V248H322.9zM326.3 233H329.8V238H326.3zM329.8 225.5H333.3V230.5H329.8zM336.7 270.5H340.2V275.5H336.7zM340.1 273H343.6V278H340.1zM343.6 270.5H347.1V275.5H343.6zM347 268H350.5V273H347zM350.5 268H354V273H350.5zM353.9 268H357.4V273H353.9zM357.4 258H360.9V263H357.4zM360.8 245.5H364.3V250.5H360.8zM364.3 245.5H367.8V250.5H364.3zM367.7 245.5H371.2V250.5H367.7zM371.2 260.5H374.7V265.5H371.2zM374.6 265.5H378.1V270.5H374.6zM378.1 278H381.6V283H378.1zM381.5 275.5H385V283H381.5zM385 273H388.5V280.5H385zM388.4 270.5H391.9V275.5H388.4zM391.9 260.5H395.4V265.5H391.9zM395.3 273H398.8V278H395.3zM405.7 280.5H409.2V285.5H405.7zM409.1 280.5H412.6V288H409.1zM412.6 285.5H416.1V290.5H412.6zM416 278H419.6V283H416zM419.5 283H423V288H419.5zM423 283H426.5V288H423zM426.4 273H429.9V278H426.4zM429.9 268H433.4V273H429.9zM433.3 265.5H436.8V273H433.3zM440.2 265.5H443.7V270.5H440.2zM450.6 280.5H454.1V285.5H450.6zM454 278H457.5V283H454zM457.5 283H461V290.5H457.5zM460.9 290.5H464.4V295.5H460.9zM467.8 270.5H471.3V278H467.8zM471.3 273H474.8V278H471.3zM474.7 263H478.2V268H474.7zM478.2 265.5H481.7V270.5H478.2zM481.6 270.5H485.1V275.5H481.6zM485.1 268H488.6V275.5H485.1zM488.5 265.5H492V270.5H488.5zM492 265.5H495.5V270.5H492zM495.4 268H498.9V275.5H495.4zM498.9 280.5H502.4V285.5H498.9zM502.3 280.5H505.8V285.5H502.3zM505.8 288H509.3V293H505.8zM509.2 280.5H512.7V288H509.2zM512.7 275.5H516.2V280.5H512.7zM516.1 273H519.6V280.5H516.1zM523 250.5H526.5V255.5H523zM526.5 255.5H530V263H526.5zM529.9 250.5H533.4V255.5H529.9zM533.4 253H536.9V260.5H533.4zM540.3 255.5H543.8V260.5H540.3zM543.7 250.5H547.2V255.5H543.7zM547.2 255.5H550.7V260.5H547.2zM550.6 253H554.1V258H550.6z"/><path fill="#00afff" d="M74.4 123H77.9V128H74.4zM77.9 54.5H81.4V56.5H77.9zM77.9 110.5H81.4V114.5H77.9zM81.3 104.5H84.8V108.5H81.3zM84.8 102.5H88.3V106.5H84.8zM88.2 100.5H91.7V104.5H88.2zM91.7 56.5H95.2V58.5H91.7zM91.7 60.5H95.2V62.5H91.7zM91.7 98.5H95.2V104.5H91.7zM95.1 56.5H98.6V58.5H95.1zM95.1 102.5H98.6V106.5H95.1zM98.6 54.5H102.1V56.5H98.6zM98.6 106.5H102.1V110.5H98.6zM102 104.5H105.5V110.5H102zM105.5 58.5H109V60.5H105.5zM105.5 102.5H109V106.5H105.5zM108.9 42.5H112.4V44.5H108.9zM108.9 46.5H112.4V48.5H108.9zM108.9 64.5H112.4V66.5H108.9zM108.9 106.5H112.4V110.5H108.9zM112.4 42.5H115.9V44.5H112.4zM112.4 98.5H115.9V102.5H112.4zM115.8 50.5H119.3V52.5H115.8zM115.8 102.5H119.3V106.5H115.8zM119.3 54.5H122.8V56.5H119.3zM119.3 98.5H122.8V104.5H119.3zM122.7 44.5H126.2V46.5H122.7zM122.7 108.5H126.2V112.5H122.7zM126.2 68.5H129.7V70.5H126.2zM126.2 120.5H129.7V125.5H126.2zM129.6 44.5H133.1V46.5H129.6zM129.6 52.5H133.1V54.5H129.6zM129.6 112.5H133.1V116.5H129.6zM133.1 106.5H136.6V110.5H133.1zM136.5 50.5H140V52.5H136.5zM136.5 66.5H140V68.5H136.5zM136.5 118.5H140V123H136.5zM140 114.5H143.5V118.5H140zM143.4 42.5H146.9V44.5H143.4zM143.4 48.5H146.9V50.5H143.4zM143.4 56.5H146.9V58.5H143.4zM143.4 108.5H146.9V114.5H143.4zM146.9 42.5H150.4V44.5H146.9zM146.9 56.5H150.4V58.5H146.9zM146.9 60.5H150.4V62.5H146.9zM146.9 123H150.4V128H146.9zM150.3 36.5H153.8V38.5H150.3zM150.3 40.5H153.8V42.5H150.3zM150.3 44.5H153.8V46.5H150.3zM150.3 112.5H153.8V118.5H150.3zM153.8 42.5H157.3V44.5H153.8zM153.8 50.5H157.3V52.5H153.8zM153.8 102.5H157.3V108.5H153.8zM157.2 123H160.7V128H157.2zM160.7 100.5H164.2V104.5H160.7zM164.1 56.5H167.6V58.5H164.1zM164.1 110.5H167.6V114.5H164.1zM167.6 104.5H171.1V108.5H167.6zM171 52.5H174.5V54.5H171zM171 108.5H174.5V114.5H171zM174.5 125.5H178V130.5H174.5zM177.9 102.5H181.4V108.5H177.9zM181.4 108.5H184.9V112.5H181.4zM184.8 102.5H188.3V108.5H184.8zM188.3 108.5H191.8V114.5H188.3zM191.7 106.5H195.2V110.5H191.7zM195.2 118.5H198.7V125.5H195.2zM198.6 120.5H202.1V125.5H198.6zM202.1 130.5H205.6V135.5H202.1zM205.5 38.5H209V40.5H205.5zM205.5 112.5H209V116.5H205.5zM209 36.5H212.5V38.5H209zM209 104.5H212.5V110.5H209zM212.4 108.5H215.9V112.5H212.4zM215.9 104.5H219.4V108.5H215.9zM219.3 102.5H222.8V106.5H219.3zM222.8 104.5H226.3V108.5H222.8zM226.2 123H229.7V128H226.2zM229.7 118.5H233.2V123H229.7zM233.1 110.5H236.6V116.5H233.1zM236.6 106.5H240.1V110.5H236.6zM240 112.5H243.5V116.5H240zM243.5 106.5H247V112.5H243.5zM247 106.5H250.5V110.5H247zM250.4 110.5H253.9V116.5H250.4zM253.9 112.5H257.4V116.5H253.9zM257.3 238H260.8V245.5H257.3zM260.8 260.5H264.3V265.5H260.8zM264.2 270.5H267.7V275.5H264.2zM267.7 263H271.2V268H267.7zM271.1 263H274.6V268H271.1zM274.6 223H278.1V230.5H274.6zM278 165.5H281.5V175.5H278zM284.9 275.5H288.4V280.5H284.9zM288.4 273H291.9V278H288.4zM291.8 273H295.3V278H291.8zM295.3 280.5H298.8V285.5H295.3zM298.7 285.5H302.2V290.5H298.7zM302.2 290.5H305.7V295.5H302.2zM309.1 273H312.6V278H309.1zM312.5 263H316V268H312.5zM316 248H319.5V253H316zM319.4 238H322.9V243H319.4zM322.9 238H326.4V243H322.9zM326.3 225.5H329.8V233H326.3zM329.8 220.5H333.3V225.5H329.8zM336.7 265.5H340.2V270.5H336.7zM340.1 268H343.6V273H340.1zM343.6 265.5H347.1V270.5H343.6zM347 263H350.5V268H347zM350.5 263H354V268H350.5zM353.9 263H357.4V268H353.9zM357.4 253H360.9V258H357.4zM360.8 240.5H364.3V245.5H360.8zM364.3 238H367.8V245.5H364.3zM367.7 240.5H371.2V245.5H367.7zM371.2 255.5H374.7V260.5H371.2zM374.6 260.5H378.1V265.5H374.6zM378.1 273H381.6V278H378.1zM381.5 270.5H385V275.5H381.5zM385 268H388.5V273H385zM388.4 265.5H391.9V270.5H388.4zM391.9 255.5H395.4V260.5H391.9zM395.3 268H398.8V273H395.3zM405.7 275.5H409.2V280.5H405.7zM409.1 275.5H412.6V280.5H409.1zM412.6 278H416.1V285.5H412.6zM416 270.5H419.6V278H416zM419.5 278H423V283H419.5zM423 278H426.5V283H423zM426.4 268H429.9V273H426.4zM429.9 263H433.4V268H429.9zM433.3 260.5H436.8V265.5H433.3zM440.2 260.5H443.7V265.5H440.2zM450.6 275.5H454.1V280.5H450.6zM454 273H457.5V278H454zM457.5 278H461V283H457.5zM460.9 285.5H464.4V290.5H460.9zM467.8 265.5H471.3V270.5H467.8zM471.3 268H474.8V273H471.3zM474.7 258H478.2V263H474.7zM478.2 260.5H481.7V265.5H478.2zM481.6 265.5H485.1V270.5H481.6zM485.1 263H488.6V268H485.1zM488.5 260.5H492V265.5H488.5zM492 260.5H495.5V265.5H492zM495.4 265.5H498.9V268H495.4zM498.9 275.5H502.4V280.5H498.9zM502.3 275.5H505.8V280.5H502.3zM505.8 283H509.3V288H505.8zM509.2 275.5H512.7V280.5H509.2zM512.7 270.5H516.2V275.5H512.7zM516.1 268H519.6V273H516.1zM523 245.5H526.5V250.5H523zM526.5 250.5H530V255.5H526.5zM529.9 245.5H533.4V250.5H529.9zM533.4 248H536.9V253H533.4zM540.3 250.5H543.8V255.5H540.3zM543.7 245.5H547.2V250.5H543.7zM547.2 250.5H550.7V255.5H547.2zM550.6 248H554.1V253H550.6z"/><path fill="#00bfff" d="M74.4 118.5H77.9V123H74.4zM77.9 58.5H81.4V60.5H77.9zM77.9 104.5H81.4V110.5H77.9zM81.3 98.5H84.8V104.5H81.3zM84.8 98.5H88.3V102.5H84.8zM88.2 56.5H91.7V58.5H88.2zM88.2 96.5H91.7V100.5H88.2zM91.7 94.5H95.2V98.5H91.7zM95.1 62.5H98.6V64.5H95.1zM95.1 98.5H98.6V102.5H95.1zM98.6 40.5H102.1V42.5H98.6zM98.6 100.5H102.1V106.5H98.6zM102 62.5H105.5V64.5H102zM102 100.5H105.5V104.5H102zM105.5 44.5H109V46.5H105.5zM105.5 98.5H109V102.5H105.5zM108.9 66.5H112.4V68.5H108.9zM108.9 102.5H112.4V106.5H108.9zM112.4 56.5H115.9V58.5H112.4zM112.4 94.5H115.9V98.5H112.4zM115.8 96.5H119.3V102.5H115.8zM119.3 94.5H122.8V98.5H119.3zM122.7 50.5H126.2V54.5H122.7zM122.7 104.5H126.2V108.5H122.7zM126.2 60.5H129.7V62.5H126.2zM126.2 116.5H129.7V120.5H126.2zM129.6 108.5H133.1V112.5H129.6zM133.1 46.5H136.6V48.5H133.1zM133.1 60.5H136.6V62.5H133.1zM133.1 102.5H136.6V106.5H133.1zM136.5 52.5H140V54.5H136.5zM136.5 56.5H140V60.5H136.5zM136.5 114.5H140V118.5H136.5zM140 58.5H143.5V60.5H140zM140 108.5H143.5V114.5H140zM143.4 104.5H146.9V108.5H143.4zM146.9 116.5H150.4V123H146.9zM150.3 108.5H153.8V112.5H150.3zM153.8 98.5H157.3V102.5H153.8zM157.2 56.5H160.7V58.5H157.2zM157.2 120.5H160.7V123H157.2zM160.7 96.5H164.2V100.5H160.7zM164.1 104.5H167.6V110.5H164.1zM167.6 58.5H171.1V60.5H167.6zM167.6 100.5H171.1V104.5H167.6zM171 104.5H174.5V108.5H171zM174.5 118.5H178V125.5H174.5zM177.9 98.5H181.4V102.5H177.9zM181.4 104.5H184.9V108.5H181.4zM184.8 96.5H188.3V102.5H184.8zM188.3 54.5H191.8V56.5H188.3zM188.3 104.5H191.8V108.5H188.3zM191.7 58.5H195.2V60.5H191.7zM191.7 102.5H195.2V106.5H191.7zM195.2 54.5H198.7V56.5H195.2zM195.2 114.5H198.7V118.5H195.2zM198.6 116.5H202.1V120.5H198.6zM202.1 44.5H205.6V46.5H202.1zM202.1 125.5H205.6V130.5H202.1zM205.5 108.5H209V112.5H205.5zM209 100.5H212.5V104.5H209zM212.4 106.5H215.9V108.5H212.4zM215.9 100.5H219.4V104.5H215.9zM219.3 96.5H222.8V102.5H219.3zM222.8 100.5H226.3V104.5H222.8zM226.2 118.5H229.7V123H226.2zM229.7 114.5H233.2V118.5H229.7zM233.1 104.5H236.6V110.5H233.1zM236.6 102.5H240.1V106.5H236.6zM240 108.5H243.5V112.5H240zM243.5 102.5H247V106.5H243.5zM247 102.5H250.5V106.5H247zM250.4 106.5H253.9V110.5H250.4zM253.9 108.5H257.4V112.5H253.9zM257.3 230.5H260.8V238H257.3zM260.8 258H264.3V260.5H260.8zM264.2 265.5H267.7V270.5H264.2zM267.7 258H271.2V263H267.7zM271.1 258H274.6V263H271.1zM274.6 215.5H278.1V223H274.6zM278 158H281.5V165.5H278zM284.9 270.5H288.4V275.5H284.9zM288.4 268H291.9V273H288.4zM291.8 268H295.3V273H291.8zM295.3 275.5H298.8V280.5H295.3zM298.7 280.5H302.2V285.5H298.7zM302.2 285.5H305.7V290.5H302.2zM309.1 270.5H312.6V273H309.1zM312.5 258H316V263H312.5zM316 243H319.5V248H316zM319.4 233H322.9V238H319.4zM322.9 233H326.4V238H322.9zM326.3 220.5H329.8V225.5H326.3zM329.8 215.5H333.3V220.5H329.8zM336.7 260.5H340.2V265.5H336.7zM340.1 263H343.6V268H340.1zM343.6 260.5H347.1V265.5H343.6zM347 258H350.5V263H347zM350.5 258H354V263H350.5zM353.9 258H357.4V263H353.9zM357.4 248H360.9V253H357.4zM360.8 235.5H364.3V240.5H360.8zM364.3 233H367.8V238H364.3zM367.7 233H371.2V240.5H367.7zM371.2 250.5H374.7V255.5H371.2zM374.6 255.5H378.1V260.5H374.6zM378.1 268H381.6V273H378.1zM381.5 265.5H385V270.5H381.5zM385 263H388.5V268H385zM388.4 260.5H391.9V265.5H388.4zM391.9 250.5H395.4V255.5H391.9zM395.3 263H398.8V268H395.3zM405.7 270.5H409.2V275.5H405.7zM409.1 270.5H412.6V275.5H409.1zM412.6 273H416.1V278H412.6zM416 265.5H419.6V270.5H416zM419.5 273H423V278H419.5zM423 273H426.5V278H423zM426.4 263H429.9V268H426.4zM429.9 258H433.4V263H429.9zM433.3 255.5H436.8V260.5H433.3zM440.2 255.5H443.7V260.5H440.2zM450.6 270.5H454.1V275.5H450.6zM454 268H457.5V273H454zM457.5 273H461V278H457.5zM460.9 280.5H464.4V285.5H460.9zM467.8 263H471.3V265.5H467.8zM471.3 260.5H474.8V268H471.3zM474.7 253H478.2V258H474.7zM478.2 258H481.7V260.5H478.2zM481.6 260.5H485.1V265.5H481.6zM485.1 260.5H488.6V263H485.1zM488.5 255.5H492V260.5H488.5zM492 255.5H495.5V260.5H492zM495.4 260.5H498.9V265.5H495.4zM498.9 270.5H502.4V275.5H498.9zM502.3 270.5H505.8V275.5H502.3zM505.8 278H509.3V283H505.8zM509.2 270.5H512.7V275.5H509.2zM512.7 263H516.2V270.5H512.7zM516.1 263H519.6V268H516.1zM523 240.5H526.5V245.5H523zM526.5 245.5H530V250.5H526.5zM529.9 240.5H533.4V245.5H529.9zM533.4 245.5H536.9V248H533.4zM540.3 243H543.8V250.5H540.3zM543.7 240.5H547.2V245.5H543.7zM547.2 245.5H550.7V250.5H547.2zM550.6 243H554.1V248H550.6z"/><path fill="#00cfff" d="M74.4 56.5H77.9V58.5H74.4zM74.4 114.5H77.9V118.5H74.4zM77.9 62.5H81.4V64.5H77.9zM77.9 100.5H81.4V104.5H77.9zM81.3 60.5H84.8V62.5H81.3zM81.3 94.5H84.8V98.5H81.3zM84.8 94.5H88.3V98.5H84.8zM88.2 68.5H91.7V70.5H88.2zM88.2 90.5H91.7V96.5H88.2zM91.7 64.5H95.2V66.5H91.7zM91.7 90.5H95.2V94.5H91.7zM95.1 66.5H98.6V68.5H95.1zM95.1 94.5H98.6V98.5H95.1zM98.6 64.5H102.1V66.5H98.6zM98.6 96.5H102.1V100.5H98.6zM102 96.5H105.5V100.5H102zM105.5 94.5H109V98.5H105.5zM108.9 98.5H112.4V102.5H108.9zM112.4 90.5H115.9V94.5H112.4zM115.8 92.5H119.3V96.5H115.8zM119.3 90.5H122.8V94.5H119.3zM122.7 100.5H126.2V104.5H122.7zM126.2 66.5H129.7V68.5H126.2zM126.2 72.5H129.7V74.5H126.2zM126.2 112.5H129.7V116.5H126.2zM129.6 62.5H133.1V64.5H129.6zM129.6 70.5H133.1V72.5H129.6zM129.6 104.5H133.1V108.5H129.6zM133.1 44.5H136.6V46.5H133.1zM133.1 98.5H136.6V102.5H133.1zM136.5 42.5H140V44.5H136.5zM136.5 62.5H140V64.5H136.5zM136.5 70.5H140V74.5H136.5zM136.5 108.5H140V114.5H136.5zM140 64.5H143.5V66.5H140zM140 104.5H143.5V108.5H140zM143.4 100.5H146.9V104.5H143.4zM146.9 112.5H150.4V116.5H146.9zM150.3 54.5H153.8V56.5H150.3zM150.3 104.5H153.8V108.5H150.3zM153.8 94.5H157.3V98.5H153.8zM157.2 36.5H160.7V40.5H157.2zM157.2 60.5H160.7V62.5H157.2zM157.2 116.5H160.7V120.5H157.2zM160.7 54.5H164.2V56.5H160.7zM160.7 92.5H164.2V96.5H160.7zM164.1 100.5H167.6V104.5H164.1zM167.6 96.5H171.1V100.5H167.6zM171 56.5H174.5V58.5H171zM171 100.5H174.5V104.5H171zM174.5 56.5H178V58.5H174.5zM174.5 114.5H178V118.5H174.5zM177.9 92.5H181.4V98.5H177.9zM181.4 100.5H184.9V104.5H181.4zM184.8 58.5H188.3V60.5H184.8zM184.8 92.5H188.3V96.5H184.8zM188.3 100.5H191.8V104.5H188.3zM191.7 98.5H195.2V102.5H191.7zM195.2 56.5H198.7V60.5H195.2zM195.2 110.5H198.7V114.5H195.2zM198.6 112.5H202.1V116.5H198.6zM202.1 120.5H205.6V125.5H202.1zM205.5 40.5H209V42.5H205.5zM205.5 104.5H209V108.5H205.5zM209 96.5H212.5V100.5H209zM212.4 40.5H215.9V42.5H212.4zM212.4 100.5H215.9V106.5H212.4zM215.9 96.5H219.4V100.5H215.9zM219.3 92.5H222.8V96.5H219.3zM222.8 96.5H226.3V100.5H222.8zM226.2 114.5H229.7V118.5H226.2zM229.7 110.5H233.2V114.5H229.7zM233.1 100.5H236.6V104.5H233.1zM236.6 96.5H240.1V102.5H236.6zM240 102.5H243.5V108.5H240zM243.5 96.5H247V102.5H243.5zM247 98.5H250.5V102.5H247zM250.4 102.5H253.9V106.5H250.4zM253.9 102.5H257.4V108.5H253.9zM257.3 223H260.8V230.5H257.3zM260.8 253H264.3V258H260.8zM264.2 260.5H267.7V265.5H264.2zM267.7 255.5H271.2V258H267.7zM271.1 253H274.6V258H271.1zM274.6 208H278.1V215.5H274.6zM278 148H281.5V158H278zM284.9 265.5H288.4V270.5H284.9zM288.4 263H291.9V268H288.4zM291.8 263H295.3V268H291.8zM295.3 270.5H298.8V275.5H295.3zM298.7 275.5H302.2V280.5H298.7zM302.2 280.5H305.7V285.5H302.2zM309.1 265.5H312.6V270.5H309.1zM312.5 255.5H316V258H312.5zM316 238H319.5V243H316zM319.4 228H322.9V233H319.4zM322.9 228H326.4V233H322.9zM326.3 215.5H329.8V220.5H326.3zM329.8 210.5H333.3V215.5H329.8zM336.7 255.5H340.2V260.5H336.7zM340.1 258H343.6V263H340.1zM343.6 255.5H347.1V260.5H343.6zM347 253H350.5V258H347zM350.5 255.5H354V258H350.5zM353.9 253H357.4V258H353.9zM357.4 243H360.9V248H357.4zM360.8 233H364.3V235.5H360.8zM364.3 230.5H367.8V233H364.3zM367.7 228H371.2V233H367.7zM371.2 245.5H374.7V250.5H371.2zM374.6 250.5H378.1V255.5H374.6zM378.1 263H381.6V268H378.1zM381.5 260.5H385V265.5H381.5zM385 258H388.5V263H385zM388.4 255.5H391.9V260.5H388.4zM391.9 245.5H395.4V250.5H391.9zM395.3 260.5H398.8V263H395.3zM405.7 265.5H409.2V270.5H405.7zM409.1 265.5H412.6V270.5H409.1zM412.6 270.5H416.1V273H412.6zM416 260.5H419.6V265.5H416zM419.5 268H423V273H419.5zM423 268H426.5V273H423zM426.4 258H429.9V263H426.4zM429.9 253H433.4V258H429.9zM433.3 250.5H436.8V255.5H433.3zM440.2 250.5H443.7V255.5H440.2zM450.6 265.5H454.1V270.5H450.6zM454 263H457.5V268H454zM457.5 268H461V273H457.5zM460.9 275.5H464.4V280.5H460.9zM467.8 258H471.3V263H467.8zM471.3 258H474.8V260.5H471.3zM474.7 248H478.2V253H474.7zM478.2 253H481.7V258H478.2zM481.6 255.5H485.1V260.5H481.6zM485.1 255.5H488.6V260.5H485.1zM488.5 250.5H492V255.5H488.5zM492 250.5H495.5V255.5H492zM495.4 255.5H498.9V260.5H495.4zM498.9 265.5H502.4V270.5H498.9zM502.3 265.5H505.8V270.5H502.3zM505.8 273H509.3V278H505.8zM509.2 268H512.7V270.5H509.2zM512.7 258H516.2V263H512.7zM516.1 260.5H519.6V263H516.1zM523 235.5H526.5V240.5H523zM526.5 240.5H530V245.5H526.5zM529.9 235.5H533.4V240.5H529.9zM533.4 240.5H536.9V245.5H533.4zM540.3 238H543.8V243H540.3zM543.7 235.5H547.2V240.5H543.7zM547.2 243H550.7V245.5H547.2zM550.6 238H554.1V243H550.6z"/><path fill="#00dfff" d="M74.4 62.5H77.9V64.5H74.4zM74.4 108.5H77.9V114.5H74.4zM77.9 66.5H81.4V68.5H77.9zM77.9 96.5H81.4V100.5H77.9zM81.3 64.5H84.8V66.5H81.3zM81.3 88.5H84.8V94.5H81.3zM84.8 58.5H88.3V64.5H84.8zM84.8 90.5H88.3V94.5H84.8zM88.2 66.5H91.7V68.5H88.2zM88.2 86.5H91.7V90.5H88.2zM91.7 36.5H95.2V38.5H91.7zM91.7 84.5H95.2V90.5H91.7zM95.1 58.5H98.6V62.5H95.1zM95.1 72.5H98.6V74.5H95.1zM95.1 88.5H98.6V94.5H95.1zM98.6 68.5H102.1V72.5H98.6zM98.6 92.5H102.1V96.5H98.6zM102 38.5H105.5V40.5H102zM102 64.5H105.5V66.5H102zM102 90.5H105.5V96.5H102zM105.5 42.5H109V44.5H105.5zM105.5 88.5H109V94.5H105.5zM108.9 56.5H112.4V58.5H108.9zM108.9 92.5H112.4V98.5H108.9zM112.4 84.5H115.9V90.5H112.4zM115.8 86.5H119.3V92.5H115.8zM119.3 44.5H122.8V46.5H119.3zM119.3 84.5H122.8V90.5H119.3zM122.7 94.5H126.2V100.5H122.7zM126.2 106.5H129.7V112.5H126.2zM129.6 56.5H133.1V58.5H129.6zM129.6 66.5H133.1V68.5H129.6zM129.6 98.5H133.1V104.5H129.6zM133.1 42.5H136.6V44.5H133.1zM133.1 92.5H136.6V98.5H133.1zM136.5 104.5H140V108.5H136.5zM140 54.5H143.5V56.5H140zM140 98.5H143.5V104.5H140zM143.4 66.5H146.9V68.5H143.4zM143.4 96.5H146.9V100.5H143.4zM146.9 106.5H150.4V112.5H146.9zM150.3 38.5H153.8V40.5H150.3zM150.3 56.5H153.8V58.5H150.3zM150.3 98.5H153.8V104.5H150.3zM153.8 36.5H157.3V40.5H153.8zM153.8 88.5H157.3V94.5H153.8zM157.2 58.5H160.7V60.5H157.2zM157.2 110.5H160.7V116.5H157.2zM160.7 52.5H164.2V54.5H160.7zM160.7 86.5H164.2V92.5H160.7zM164.1 96.5H167.6V100.5H164.1zM167.6 56.5H171.1V58.5H167.6zM167.6 60.5H171.1V62.5H167.6zM167.6 90.5H171.1V96.5H167.6zM171 54.5H174.5V56.5H171zM171 94.5H174.5V100.5H171zM174.5 110.5H178V114.5H174.5zM177.9 86.5H181.4V92.5H177.9zM181.4 58.5H184.9V60.5H181.4zM181.4 94.5H184.9V100.5H181.4zM184.8 86.5H188.3V92.5H184.8zM188.3 94.5H191.8V100.5H188.3zM191.7 94.5H195.2V98.5H191.7zM195.2 104.5H198.7V110.5H195.2zM198.6 106.5H202.1V112.5H198.6zM202.1 114.5H205.6V120.5H202.1zM205.5 44.5H209V46.5H205.5zM205.5 98.5H209V104.5H205.5zM209 90.5H212.5V96.5H209zM212.4 96.5H215.9V100.5H212.4zM215.9 38.5H219.4V40.5H215.9zM215.9 90.5H219.4V96.5H215.9zM219.3 86.5H222.8V92.5H219.3zM222.8 90.5H226.3V96.5H222.8zM226.2 108.5H229.7V114.5H226.2zM229.7 106.5H233.2V110.5H229.7zM233.1 96.5H236.6V100.5H233.1zM236.6 90.5H240.1V96.5H236.6zM240 96.5H243.5V102.5H240zM243.5 92.5H247V96.5H243.5zM247 92.5H250.5V98.5H247zM250.4 96.5H253.9V102.5H250.4zM253.9 98.5H257.4V102.5H253.9zM257.3 215.5H260.8V223H257.3zM260.8 248H264.3V253H260.8zM264.2 255.5H267.7V260.5H264.2zM267.7 248H271.2V255.5H267.7zM271.1 250.5H274.6V253H271.1zM274.6 200.5H278.1V208H274.6zM278 140.5H281.5V148H278zM284.9 260.5H288.4V265.5H284.9zM288.4 260.5H291.9V263H288.4zM291.8 258H295.3V263H291.8zM295.3 265.5H298.8V270.5H295.3zM298.7 270.5H302.2V275.5H298.7zM302.2 275.5H305.7V280.5H302.2zM309.1 260.5H312.6V265.5H309.1zM312.5 250.5H316V255.5H312.5zM316 233H319.5V238H316zM319.4 225.5H322.9V228H319.4zM322.9 223H326.4V228H322.9zM326.3 213H329.8V215.5H326.3zM329.8 205.5H333.3V210.5H329.8zM336.7 250.5H340.2V255.5H336.7zM340.1 255.5H343.6V258H340.1zM343.6 250.5H347.1V255.5H343.6zM347 250.5H350.5V253H347zM350.5 250.5H354V255.5H350.5zM353.9 248H357.4V253H353.9zM357.4 238H360.9V243H357.4zM360.8 228H364.3V233H360.8zM364.3 225.5H367.8V230.5H364.3zM367.7 225.5H371.2V228H367.7zM371.2 240.5H374.7V245.5H371.2zM374.6 245.5H378.1V250.5H374.6zM378.1 258H381.6V263H378.1zM381.5 258H385V260.5H381.5zM385 255.5H388.5V258H385zM388.4 250.5H391.9V255.5H388.4zM391.9 240.5H395.4V245.5H391.9zM395.3 255.5H398.8V260.5H395.3zM405.7 260.5H409.2V265.5H405.7zM409.1 260.5H412.6V265.5H409.1zM412.6 265.5H416.1V270.5H412.6zM416 258H419.6V260.5H416zM419.5 263H423V268H419.5zM423 263H426.5V268H423zM426.4 253H429.9V258H426.4zM429.9 250.5H433.4V253H429.9zM433.3 248H436.8V250.5H433.3zM440.2 245.5H443.7V250.5H440.2zM450.6 260.5H454.1V265.5H450.6zM454 260.5H457.5V263H454zM457.5 265.5H461V268H457.5zM460.9 273H464.4V275.5H460.9zM467.8 253H471.3V258H467.8zM471.3 253H474.8V258H471.3zM474.7 245.5H478.2V248H474.7zM478.2 248H481.7V253H478.2zM481.6 250.5H485.1V255.5H481.6zM485.1 250.5H488.6V255.5H485.1zM488.5 245.5H492V250.5H488.5zM492 245.5H495.5V250.5H492zM495.4 250.5H498.9V255.5H495.4zM498.9 260.5H502.4V265.5H498.9zM502.3 263H505.8V265.5H502.3zM505.8 268H509.3V273H505.8zM509.2 263H512.7V268H509.2zM512.7 255.5H516.2V258H512.7zM516.1 255.5H519.6V260.5H516.1zM523 233H526.5V235.5H523zM526.5 238H530V240.5H526.5zM529.9 233H533.4V235.5H529.9zM533.4 235.5H536.9V240.5H533.4zM540.3 235.5H543.8V238H540.3zM543.7 233H547.2V235.5H543.7zM547.2 238H550.7V243H547.2zM550.6 233H554.1V238H550.6z"/><path fill="#00efff" d="M74.4 60.5H77.9V62.5H74.4zM74.4 64.5H77.9V66.5H74.4zM74.4 72.5H77.9V74.5H74.4zM74.4 90.5H77.9V108.5H74.4zM77.9 74.5H81.4V76.5H77.9zM77.9 80.5H81.4V96.5H77.9zM81.3 70.5H84.8V72.5H81.3zM81.3 74.5H84.8V88.5H81.3zM84.8 68.5H88.3V70.5H84.8zM84.8 72.5H88.3V76.5H84.8zM84.8 80.5H88.3V90.5H84.8zM88.2 64.5H91.7V66.5H88.2zM88.2 74.5H91.7V86.5H88.2zM91.7 66.5H95.2V72.5H91.7zM91.7 74.5H95.2V84.5H91.7zM95.1 82.5H98.6V88.5H95.1zM98.6 74.5H102.1V76.5H98.6zM98.6 86.5H102.1V92.5H98.6zM102 40.5H105.5V42.5H102zM102 68.5H105.5V70.5H102zM102 84.5H105.5V90.5H102zM105.5 68.5H109V70.5H105.5zM105.5 76.5H109V78.5H105.5zM105.5 82.5H109V88.5H105.5zM108.9 86.5H112.4V92.5H108.9zM112.4 44.5H115.9V46.5H112.4zM112.4 78.5H115.9V84.5H112.4zM115.8 52.5H119.3V54.5H115.8zM115.8 82.5H119.3V86.5H115.8zM119.3 52.5H122.8V54.5H119.3zM119.3 64.5H122.8V66.5H119.3zM119.3 78.5H122.8V84.5H119.3zM122.7 42.5H126.2V44.5H122.7zM122.7 58.5H126.2V60.5H122.7zM122.7 90.5H126.2V94.5H122.7zM126.2 58.5H129.7V60.5H126.2zM126.2 100.5H129.7V106.5H126.2zM129.6 74.5H133.1V76.5H129.6zM129.6 78.5H133.1V80.5H129.6zM129.6 94.5H133.1V98.5H129.6zM133.1 86.5H136.6V92.5H133.1zM136.5 100.5H140V104.5H136.5zM140 66.5H143.5V68.5H140zM140 92.5H143.5V98.5H140zM143.4 62.5H146.9V64.5H143.4zM143.4 92.5H146.9V96.5H143.4zM146.9 36.5H150.4V38.5H146.9zM146.9 58.5H150.4V60.5H146.9zM146.9 102.5H150.4V106.5H146.9zM150.3 94.5H153.8V98.5H150.3zM153.8 84.5H157.3V88.5H153.8zM157.2 104.5H160.7V110.5H157.2zM160.7 80.5H164.2V86.5H160.7zM164.1 60.5H167.6V62.5H164.1zM164.1 92.5H167.6V96.5H164.1zM167.6 86.5H171.1V90.5H167.6zM171 58.5H174.5V60.5H171zM171 90.5H174.5V94.5H171zM174.5 58.5H178V62.5H174.5zM174.5 104.5H178V110.5H174.5zM177.9 82.5H181.4V86.5H177.9zM181.4 60.5H184.9V62.5H181.4zM181.4 88.5H184.9V94.5H181.4zM184.8 56.5H188.3V58.5H184.8zM184.8 60.5H188.3V62.5H184.8zM184.8 82.5H188.3V86.5H184.8zM188.3 88.5H191.8V94.5H188.3zM191.7 90.5H195.2V94.5H191.7zM195.2 98.5H198.7V104.5H195.2zM198.6 56.5H202.1V60.5H198.6zM198.6 102.5H202.1V106.5H198.6zM202.1 58.5H205.6V60.5H202.1zM202.1 110.5H205.6V114.5H202.1zM205.5 94.5H209V98.5H205.5zM209 38.5H212.5V40.5H209zM209 84.5H212.5V90.5H209zM212.4 36.5H215.9V38.5H212.4zM212.4 90.5H215.9V96.5H212.4zM215.9 42.5H219.4V44.5H215.9zM215.9 86.5H219.4V90.5H215.9zM219.3 82.5H222.8V86.5H219.3zM222.8 40.5H226.3V42.5H222.8zM222.8 86.5H226.3V90.5H222.8zM226.2 104.5H229.7V108.5H226.2zM229.7 102.5H233.2V106.5H229.7zM233.1 90.5H236.6V96.5H233.1zM236.6 84.5H240.1V90.5H236.6zM240 36.5H243.5V38.5H240zM240 92.5H243.5V96.5H240zM243.5 86.5H247V92.5H243.5zM247 86.5H250.5V92.5H247zM250.4 92.5H253.9V96.5H250.4zM253.9 94.5H257.4V98.5H253.9zM257.3 208H260.8V215.5H257.3zM260.8 245.5H264.3V248H260.8zM264.2 250.5H267.7V255.5H264.2zM267.7 243H271.2V248H267.7zM271.1 245.5H274.6V250.5H271.1zM274.6 193H278.1V200.5H274.6zM278 130.5H281.5V140.5H278zM284.9 255.5H288.4V260.5H284.9zM288.4 255.5H291.9V260.5H288.4zM291.8 255.5H295.3V258H291.8zM295.3 263H298.8V265.5H295.3zM298.7 265.5H302.2V270.5H298.7zM302.2 270.5H305.7V275.5H302.2zM309.1 258H312.6V260.5H309.1zM312.5 245.5H316V250.5H312.5zM316 230.5H319.5V233H316zM319.4 220.5H322.9V225.5H319.4zM322.9 218H326.4V223H322.9zM326.3 208H329.8V213H326.3zM329.8 203H333.3V205.5H329.8zM336.7 248H340.2V250.5H336.7zM340.1 250.5H343.6V255.5H340.1zM343.6 248H347.1V250.5H343.6zM347 245.5H350.5V250.5H347zM350.5 245.5H354V250.5H350.5zM353.9 245.5H357.4V248H353.9zM357.4 235.5H360.9V238H357.4zM360.8 223H364.3V228H360.8zM364.3 220.5H367.8V225.5H364.3zM367.7 220.5H371.2V225.5H367.7zM371.2 235.5H374.7V240.5H371.2zM374.6 240.5H378.1V245.5H374.6zM378.1 253H381.6V258H378.1zM381.5 253H385V258H381.5zM385 250.5H388.5V255.5H385zM388.4 245.5H391.9V250.5H388.4zM391.9 238H395.4V240.5H391.9zM395.3 250.5H398.8V255.5H395.3zM405.7 255.5H409.2V260.5H405.7zM409.1 258H412.6V260.5H409.1zM412.6 260.5H416.1V265.5H412.6zM416 253H419.6V258H416zM419.5 258H423V263H419.5zM423 258H426.5V263H423zM426.4 248H429.9V253H426.4zM429.9 245.5H433.4V250.5H429.9zM433.3 243H436.8V248H433.3zM440.2 243H443.7V245.5H440.2zM450.6 255.5H454.1V260.5H450.6zM454 255.5H457.5V260.5H454zM457.5 260.5H461V265.5H457.5zM460.9 268H464.4V273H460.9zM467.8 248H471.3V253H467.8zM471.3 248H474.8V253H471.3zM474.7 240.5H478.2V245.5H474.7zM478.2 245.5H481.7V248H478.2zM481.6 245.5H485.1V250.5H481.6zM485.1 245.5H488.6V250.5H485.1zM488.5 243H492V245.5H488.5zM492 240.5H495.5V245.5H492zM495.4 248H498.9V250.5H495.4zM498.9 255.5H502.4V260.5H498.9zM502.3 258H505.8V263H502.3zM505.8 263H509.3V268H505.8zM509.2 258H512.7V263H509.2zM512.7 250.5H516.2V255.5H512.7zM516.1 253H519.6V255.5H516.1zM523 228H526.5V233H523zM526.5 233H530V238H526.5zM529.9 228H533.4V233H529.9zM533.4 230.5H536.9V235.5H533.4zM540.3 230.5H543.8V235.5H540.3zM543.7 228H547.2V233H543.7zM547.2 233H550.7V238H547.2zM550.6 228H554.1V233H550.6z"/><path fill="#00ffff" d="M74.4 70.5H77.9V72.5H74.4zM74.4 74.5H77.9V90.5H74.4zM77.9 68.5H81.4V74.5H77.9zM77.9 76.5H81.4V80.5H77.9zM81.3 68.5H84.8V70.5H81.3zM81.3 72.5H84.8V74.5H81.3zM84.8 66.5H88.3V68.5H84.8zM84.8 70.5H88.3V72.5H84.8zM84.8 76.5H88.3V80.5H84.8zM88.2 58.5H91.7V62.5H88.2zM88.2 72.5H91.7V74.5H88.2zM91.7 72.5H95.2V74.5H91.7zM95.1 74.5H98.6V82.5H95.1zM98.6 66.5H102.1V68.5H98.6zM98.6 76.5H102.1V86.5H98.6zM102 66.5H105.5V68.5H102zM102 70.5H105.5V74.5H102zM102 78.5H105.5V84.5H102zM105.5 56.5H109V58.5H105.5zM105.5 78.5H109V82.5H105.5zM108.9 72.5H112.4V76.5H108.9zM108.9 80.5H112.4V82.5H108.9zM108.9 84.5H112.4V86.5H108.9zM112.4 68.5H115.9V70.5H112.4zM112.4 72.5H115.9V78.5H112.4zM115.8 60.5H119.3V62.5H115.8zM115.8 70.5H119.3V72.5H115.8zM115.8 78.5H119.3V82.5H115.8zM119.3 72.5H122.8V74.5H119.3zM119.3 76.5H122.8V78.5H119.3zM122.7 72.5H126.2V74.5H122.7zM122.7 80.5H126.2V82.5H122.7zM122.7 88.5H126.2V90.5H122.7zM126.2 78.5H129.7V80.5H126.2zM126.2 98.5H129.7V100.5H126.2zM129.6 92.5H133.1V94.5H129.6zM133.1 54.5H136.6V56.5H133.1zM133.1 72.5H136.6V74.5H133.1zM133.1 82.5H136.6V86.5H133.1zM136.5 98.5H140V100.5H136.5zM140 60.5H143.5V62.5H140zM140 88.5H143.5V92.5H140zM143.4 88.5H146.9V92.5H143.4zM146.9 62.5H150.4V64.5H146.9zM146.9 100.5H150.4V102.5H146.9zM150.3 58.5H153.8V60.5H150.3zM150.3 92.5H153.8V94.5H150.3zM153.8 54.5H157.3V58.5H153.8zM153.8 80.5H157.3V84.5H153.8zM157.2 102.5H160.7V104.5H157.2zM160.7 58.5H164.2V60.5H160.7zM160.7 78.5H164.2V80.5H160.7zM164.1 88.5H167.6V92.5H164.1zM167.6 84.5H171.1V86.5H167.6zM171 88.5H174.5V90.5H171zM174.5 102.5H178V104.5H174.5zM177.9 80.5H181.4V82.5H177.9zM181.4 86.5H184.9V88.5H181.4zM184.8 80.5H188.3V82.5H184.8zM188.3 60.5H191.8V62.5H188.3zM188.3 86.5H191.8V88.5H188.3zM191.7 88.5H195.2V90.5H191.7zM195.2 96.5H198.7V98.5H195.2zM198.6 60.5H202.1V62.5H198.6zM198.6 100.5H202.1V102.5H198.6zM202.1 52.5H205.6V56.5H202.1zM202.1 108.5H205.6V110.5H202.1zM205.5 92.5H209V94.5H205.5zM209 82.5H212.5V84.5H209zM212.4 88.5H215.9V90.5H212.4zM215.9 44.5H219.4V46.5H215.9zM215.9 84.5H219.4V86.5H215.9zM219.3 38.5H222.8V40.5H219.3zM219.3 80.5H222.8V82.5H219.3zM222.8 36.5H226.3V40.5H222.8zM222.8 84.5H226.3V86.5H222.8zM226.2 36.5H229.7V40.5H226.2zM226.2 102.5H229.7V104.5H226.2zM229.7 42.5H233.2V44.5H229.7zM229.7 98.5H233.2V102.5H229.7zM233.1 88.5H236.6V90.5H233.1zM236.6 82.5H240.1V84.5H236.6zM240 38.5H243.5V40.5H240zM240 90.5H243.5V92.5H240zM243.5 40.5H247V42.5H243.5zM243.5 84.5H247V86.5H243.5zM247 84.5H250.5V86.5H247zM250.4 90.5H253.9V92.5H250.4zM253.9 92.5H257.4V94.5H253.9zM257.3 200.5H260.8V208H257.3zM260.8 240.5H264.3V245.5H260.8zM264.2 245.5H267.7V250.5H264.2zM267.7 240.5H271.2V243H267.7zM271.1 240.5H274.6V245.5H271.1zM274.6 185.5H278.1V193H274.6zM278 123H281.5V130.5H278zM284.9 253H288.4V255.5H284.9zM288.4 250.5H291.9V255.5H288.4zM291.8 250.5H295.3V255.5H291.8zM295.3 255.5H298.8V263H295.3zM298.7 260.5H302.2V265.5H298.7zM302.2 265.5H305.7V270.5H302.2zM309.1 253H312.6V258H309.1zM312.5 240.5H316V245.5H312.5zM316 225.5H319.5V230.5H316zM319.4 215.5H322.9V220.5H319.4zM322.9 213H326.4V218H322.9zM326.3 203H329.8V208H326.3zM329.8 198H333.3V203H329.8zM336.7 243H340.2V248H336.7zM340.1 245.5H343.6V250.5H340.1zM343.6 243H347.1V248H343.6zM347 240.5H350.5V245.5H347zM350.5 240.5H354V245.5H350.5zM353.9 240.5H357.4V245.5H353.9zM357.4 230.5H360.9V235.5H357.4zM360.8 218H364.3V223H360.8zM364.3 215.5H367.8V220.5H364.3zM367.7 215.5H371.2V220.5H367.7zM371.2 233H374.7V235.5H371.2zM374.6 235.5H378.1V240.5H374.6zM378.1 248H381.6V253H378.1zM381.5 248H385V253H381.5zM385 245.5H388.5V250.5H385zM388.4 240.5H391.9V245.5H388.4zM391.9 233H395.4V238H391.9zM395.3 245.5H398.8V250.5H395.3zM405.7 253H409.2V255.5H405.7zM409.1 253H412.6V258H409.1zM412.6 255.5H416.1V260.5H412.6zM416 248H419.6V253H416zM419.5 253H423V258H419.5zM423 255.5H426.5V258H423zM426.4 243H429.9V248H426.4zM429.9 240.5H433.4V245.5H429.9zM433.3 238H436.8V243H433.3zM440.2 238H443.7V243H440.2zM450.6 253H454.1V255.5H450.6zM454 250.5H457.5V255.5H454zM457.5 255.5H461V260.5H457.5zM460.9 263H464.4V268H460.9zM467.8 243H471.3V248H467.8zM471.3 243H474.8V248H471.3zM474.7 235.5H478.2V240.5H474.7zM478.2 240.5H481.7V245.5H478.2zM481.6 243H485.1V245.5H481.6zM485.1 240.5H488.6V245.5H485.1zM488.5 238H492V243H488.5zM492 235.5H495.5V240.5H492zM495.4 240.5H498.9V248H495.4zM498.9 250.5H502.4V255.5H498.9zM502.3 253H505.8V258H502.3zM505.8 258H509.3V263H505.8zM509.2 253H512.7V258H509.2zM512.7 245.5H516.2V250.5H512.7zM516.1 245.5H519.6V253H516.1zM523 223H526.5V228H523zM526.5 228H530V233H526.5zM529.9 223H533.4V228H529.9zM533.4 225.5H536.9V230.5H533.4zM540.3 225.5H543.8V230.5H540.3zM543.7 223H547.2V228H543.7zM547.2 228H550.7V233H547.2zM550.6 225.5H554.1V228H550.6z"/><path fill="#10ffef" d="M74.4 66.5H77.9V68.5H74.4zM77.9 60.5H81.4V62.5H77.9zM81.3 62.5H84.8V64.5H81.3zM88.2 62.5H91.7V64.5H88.2zM88.2 70.5H91.7V72.5H88.2zM91.7 62.5H95.2V64.5H91.7zM95.1 36.5H98.6V38.5H95.1zM95.1 64.5H98.6V66.5H95.1zM98.6 36.5H102.1V38.5H98.6zM98.6 62.5H102.1V64.5H98.6zM98.6 72.5H102.1V74.5H98.6zM102 76.5H105.5V78.5H102zM105.5 36.5H109V38.5H105.5zM105.5 72.5H109V74.5H105.5zM108.9 38.5H112.4V40.5H108.9zM108.9 62.5H112.4V64.5H108.9zM108.9 68.5H112.4V72.5H108.9zM108.9 78.5H112.4V80.5H108.9zM108.9 82.5H112.4V84.5H108.9zM112.4 58.5H115.9V60.5H112.4zM115.8 64.5H119.3V68.5H115.8zM115.8 72.5H119.3V78.5H115.8zM119.3 66.5H122.8V68.5H119.3zM119.3 74.5H122.8V76.5H119.3zM122.7 64.5H126.2V66.5H122.7zM122.7 82.5H126.2V84.5H122.7zM122.7 86.5H126.2V88.5H122.7zM126.2 44.5H129.7V46.5H126.2zM126.2 70.5H129.7V72.5H126.2zM126.2 96.5H129.7V98.5H126.2zM129.6 58.5H133.1V60.5H129.6zM129.6 90.5H133.1V92.5H129.6zM136.5 96.5H140V98.5H136.5zM140 86.5H143.5V88.5H140zM143.4 80.5H146.9V82.5H143.4zM143.4 84.5H146.9V88.5H143.4zM146.9 98.5H150.4V100.5H146.9zM150.3 68.5H153.8V70.5H150.3zM150.3 90.5H153.8V92.5H150.3zM153.8 78.5H157.3V80.5H153.8zM157.2 64.5H160.7V66.5H157.2zM157.2 100.5H160.7V102.5H157.2zM160.7 62.5H164.2V64.5H160.7zM160.7 76.5H164.2V78.5H160.7zM164.1 86.5H167.6V88.5H164.1zM167.6 82.5H171.1V84.5H167.6zM171 86.5H174.5V88.5H171zM174.5 100.5H178V102.5H174.5zM177.9 76.5H181.4V80.5H177.9zM181.4 84.5H184.9V86.5H181.4zM184.8 78.5H188.3V80.5H184.8zM188.3 58.5H191.8V60.5H188.3zM188.3 84.5H191.8V86.5H188.3zM191.7 84.5H195.2V88.5H191.7zM195.2 60.5H198.7V64.5H195.2zM195.2 94.5H198.7V96.5H195.2zM198.6 98.5H202.1V100.5H198.6zM202.1 60.5H205.6V62.5H202.1zM202.1 106.5H205.6V108.5H202.1zM205.5 36.5H209V38.5H205.5zM205.5 54.5H209V58.5H205.5zM205.5 90.5H209V92.5H205.5zM209 46.5H212.5V48.5H209zM209 80.5H212.5V82.5H209zM212.4 86.5H215.9V88.5H212.4zM215.9 80.5H219.4V84.5H215.9zM219.3 78.5H222.8V80.5H219.3zM222.8 80.5H226.3V84.5H222.8zM226.2 100.5H229.7V102.5H226.2zM229.7 96.5H233.2V98.5H229.7zM233.1 86.5H236.6V88.5H233.1zM236.6 80.5H240.1V82.5H236.6zM240 88.5H243.5V90.5H240zM243.5 82.5H247V84.5H243.5zM247 82.5H250.5V84.5H247zM250.4 88.5H253.9V90.5H250.4zM253.9 88.5H257.4V92.5H253.9zM257.3 193H260.8V200.5H257.3zM260.8 235.5H264.3V240.5H260.8zM264.2 240.5H267.7V245.5H264.2zM267.7 235.5H271.2V240.5H267.7zM271.1 235.5H274.6V240.5H271.1zM274.6 178H278.1V185.5H274.6zM278 112.5H281.5V123H278zM284.9 248H288.4V253H284.9zM288.4 245.5H291.9V250.5H288.4zM291.8 245.5H295.3V250.5H291.8zM295.3 250.5H298.8V255.5H295.3zM298.7 255.5H302.2V260.5H298.7zM302.2 263H305.7V265.5H302.2zM309.1 248H312.6V253H309.1zM312.5 235.5H316V240.5H312.5zM316 220.5H319.5V225.5H316zM319.4 210.5H322.9V215.5H319.4zM322.9 208H326.4V213H322.9zM326.3 198H329.8V203H326.3zM329.8 193H333.3V198H329.8zM336.7 238H340.2V243H336.7zM340.1 240.5H343.6V245.5H340.1zM343.6 238H347.1V243H343.6zM347 238H350.5V240.5H347zM350.5 235.5H354V240.5H350.5zM353.9 235.5H357.4V240.5H353.9zM357.4 225.5H360.9V230.5H357.4zM360.8 213H364.3V218H360.8zM364.3 210.5H367.8V215.5H364.3zM367.7 210.5H371.2V215.5H367.7zM371.2 228H374.7V233H371.2zM374.6 230.5H378.1V235.5H374.6zM378.1 243H381.6V248H378.1zM381.5 243H385V248H381.5zM385 240.5H388.5V245.5H385zM388.4 235.5H391.9V240.5H388.4zM391.9 225.5H395.4V233H391.9zM395.3 240.5H398.8V245.5H395.3zM405.7 248H409.2V253H405.7zM409.1 248H412.6V253H409.1zM412.6 250.5H416.1V255.5H412.6zM416 243H419.6V248H416zM419.5 248H423V253H419.5zM423 250.5H426.5V255.5H423zM426.4 238H429.9V243H426.4zM429.9 235.5H433.4V240.5H429.9zM433.3 233H436.8V238H433.3zM440.2 233H443.7V238H440.2zM450.6 248H454.1V253H450.6zM454 245.5H457.5V250.5H454zM457.5 250.5H461V255.5H457.5zM460.9 258H464.4V263H460.9zM467.8 238H471.3V243H467.8zM471.3 238H474.8V243H471.3zM474.7 230.5H478.2V235.5H474.7zM478.2 235.5H481.7V240.5H478.2zM481.6 238H485.1V243H481.6zM485.1 238H488.6V240.5H485.1zM488.5 233H492V238H488.5zM492 230.5H495.5V235.5H492zM495.4 235.5H498.9V240.5H495.4zM498.9 248H502.4V250.5H498.9zM502.3 245.5H505.8V253H502.3zM505.8 255.5H509.3V258H505.8zM509.2 248H512.7V253H509.2zM512.7 243H516.2V245.5H512.7zM516.1 240.5H519.6V245.5H516.1zM523 218H526.5V223H523zM526.5 223H530V228H526.5zM529.9 218H533.4V223H529.9zM533.4 223H536.9V225.5H533.4zM540.3 220.5H543.8V225.5H540.3zM543.7 218H547.2V223H543.7zM547.2 223H550.7V228H547.2zM550.6 220.5H554.1V225.5H550.6z"/><path fill="#20ffdf" d="M74.4 68.5H77.9V70.5H74.4zM77.9 64.5H81.4V66.5H77.9zM81.3 66.5H84.8V68.5H81.3zM91.7 58.5H95.2V60.5H91.7zM95.1 68.5H98.6V70.5H95.1zM102 60.5H105.5V62.5H102zM105.5 60.5H109V64.5H105.5zM105.5 74.5H109V76.5H105.5zM112.4 60.5H115.9V62.5H112.4zM112.4 70.5H115.9V72.5H112.4zM115.8 40.5H119.3V42.5H115.8zM119.3 60.5H122.8V62.5H119.3zM122.7 62.5H126.2V64.5H122.7zM122.7 84.5H126.2V86.5H122.7zM126.2 64.5H129.7V66.5H126.2zM126.2 80.5H129.7V82.5H126.2zM126.2 84.5H129.7V86.5H126.2zM126.2 90.5H129.7V92.5H126.2zM126.2 94.5H129.7V96.5H126.2zM129.6 68.5H133.1V70.5H129.6zM133.1 58.5H136.6V60.5H133.1zM133.1 62.5H136.6V64.5H133.1zM136.5 64.5H140V66.5H136.5zM136.5 74.5H140V76.5H136.5zM136.5 82.5H140V84.5H136.5zM136.5 94.5H140V96.5H136.5zM140 44.5H143.5V46.5H140zM140 82.5H143.5V84.5H140zM143.4 68.5H146.9V70.5H143.4zM146.9 96.5H150.4V98.5H146.9zM150.3 64.5H153.8V68.5H150.3zM150.3 88.5H153.8V90.5H150.3zM153.8 58.5H157.3V60.5H153.8zM153.8 66.5H157.3V70.5H153.8zM153.8 76.5H157.3V78.5H153.8zM157.2 66.5H160.7V68.5H157.2zM157.2 98.5H160.7V100.5H157.2zM160.7 56.5H164.2V58.5H160.7zM160.7 68.5H164.2V70.5H160.7zM164.1 64.5H167.6V66.5H164.1zM164.1 84.5H167.6V86.5H164.1zM167.6 80.5H171.1V82.5H167.6zM171 84.5H174.5V86.5H171zM174.5 98.5H178V100.5H174.5zM177.9 58.5H181.4V62.5H177.9zM177.9 74.5H181.4V76.5H177.9zM181.4 82.5H184.9V84.5H181.4zM184.8 76.5H188.3V78.5H184.8zM188.3 82.5H191.8V84.5H188.3zM191.7 82.5H195.2V84.5H191.7zM195.2 92.5H198.7V94.5H195.2zM198.6 94.5H202.1V98.5H198.6zM202.1 104.5H205.6V106.5H202.1zM205.5 50.5H209V54.5H205.5zM205.5 86.5H209V90.5H205.5zM209 42.5H212.5V44.5H209zM209 48.5H212.5V50.5H209zM209 52.5H212.5V54.5H209zM209 78.5H212.5V80.5H209zM212.4 48.5H215.9V50.5H212.4zM212.4 84.5H215.9V86.5H212.4zM215.9 40.5H219.4V42.5H215.9zM215.9 50.5H219.4V52.5H215.9zM215.9 78.5H219.4V80.5H215.9zM219.3 36.5H222.8V38.5H219.3zM219.3 44.5H222.8V46.5H219.3zM219.3 76.5H222.8V78.5H219.3zM222.8 50.5H226.3V52.5H222.8zM222.8 78.5H226.3V80.5H222.8zM226.2 98.5H229.7V100.5H226.2zM229.7 40.5H233.2V42.5H229.7zM229.7 44.5H233.2V48.5H229.7zM229.7 94.5H233.2V96.5H229.7zM233.1 38.5H236.6V40.5H233.1zM233.1 84.5H236.6V86.5H233.1zM236.6 36.5H240.1V38.5H236.6zM236.6 54.5H240.1V56.5H236.6zM236.6 78.5H240.1V80.5H236.6zM240 86.5H243.5V88.5H240zM243.5 38.5H247V40.5H243.5zM243.5 50.5H247V54.5H243.5zM243.5 80.5H247V82.5H243.5zM247 46.5H250.5V48.5H247zM247 80.5H250.5V82.5H247zM250.4 36.5H253.9V38.5H250.4zM250.4 40.5H253.9V42.5H250.4zM250.4 44.5H253.9V46.5H250.4zM250.4 52.5H253.9V54.5H250.4zM250.4 86.5H253.9V88.5H250.4zM253.9 86.5H257.4V88.5H253.9zM257.3 185.5H260.8V193H257.3zM260.8 230.5H264.3V235.5H260.8zM264.2 235.5H267.7V240.5H264.2zM267.7 230.5H271.2V235.5H267.7zM271.1 230.5H274.6V235.5H271.1zM274.6 170.5H278.1V178H274.6zM278 104.5H281.5V112.5H278zM284.9 243H288.4V248H284.9zM288.4 240.5H291.9V245.5H288.4zM291.8 240.5H295.3V245.5H291.8zM295.3 245.5H298.8V250.5H295.3zM298.7 250.5H302.2V255.5H298.7zM302.2 258H305.7V263H302.2zM309.1 243H312.6V248H309.1zM312.5 230.5H316V235.5H312.5zM316 215.5H319.5V220.5H316zM319.4 205.5H322.9V210.5H319.4zM322.9 205.5H326.4V208H322.9zM326.3 193H329.8V198H326.3zM329.8 188H333.3V193H329.8zM336.7 233H340.2V238H336.7zM340.1 235.5H343.6V240.5H340.1zM343.6 233H347.1V238H343.6zM347 233H350.5V238H347zM350.5 230.5H354V235.5H350.5zM353.9 230.5H357.4V235.5H353.9zM357.4 220.5H360.9V225.5H357.4zM360.8 208H364.3V213H360.8zM364.3 205.5H367.8V210.5H364.3zM367.7 205.5H371.2V210.5H367.7zM371.2 223H374.7V228H371.2zM374.6 225.5H378.1V230.5H374.6zM378.1 238H381.6V243H378.1zM381.5 238H385V243H381.5zM385 235.5H388.5V240.5H385zM388.4 230.5H391.9V235.5H388.4zM391.9 223H395.4V225.5H391.9zM395.3 235.5H398.8V240.5H395.3zM405.7 243H409.2V248H405.7zM409.1 243H412.6V248H409.1zM412.6 248H416.1V250.5H412.6zM416 238H419.6V243H416zM419.5 243H423V248H419.5zM423 245.5H426.5V250.5H423zM426.4 233H429.9V238H426.4zM429.9 230.5H433.4V235.5H429.9zM433.3 228H436.8V233H433.3zM440.2 228H443.7V233H440.2zM450.6 243H454.1V248H450.6zM454 240.5H457.5V245.5H454zM457.5 245.5H461V250.5H457.5zM460.9 253H464.4V258H460.9zM467.8 233H471.3V238H467.8zM471.3 233H474.8V238H471.3zM474.7 225.5H478.2V230.5H474.7zM478.2 230.5H481.7V235.5H478.2zM481.6 233H485.1V238H481.6zM485.1 233H488.6V238H485.1zM488.5 228H492V233H488.5zM492 228H495.5V230.5H492zM495.4 230.5H498.9V235.5H495.4zM498.9 243H502.4V248H498.9zM502.3 243H505.8V245.5H502.3zM505.8 250.5H509.3V255.5H505.8zM509.2 243H512.7V248H509.2zM512.7 238H516.2V243H512.7zM516.1 235.5H519.6V240.5H516.1zM523 213H526.5V218H523zM526.5 218H530V223H526.5zM529.9 213H533.4V218H529.9zM533.4 218H536.9V223H533.4zM540.3 215.5H543.8V220.5H540.3zM543.7 215.5H547.2V218H543.7zM547.2 218H550.7V223H547.2zM550.6 215.5H554.1V220.5H550.6z"/><path fill="#30ffcf" d="M84.8 64.5H88.3V66.5H84.8zM95.1 70.5H98.6V72.5H95.1zM98.6 60.5H102.1V62.5H98.6zM102 74.5H105.5V76.5H102zM108.9 40.5H112.4V42.5H108.9zM119.3 68.5H122.8V70.5H119.3zM122.7 66.5H126.2V68.5H122.7zM126.2 40.5H129.7V42.5H126.2zM126.2 74.5H129.7V76.5H126.2zM126.2 92.5H129.7V94.5H126.2zM129.6 80.5H133.1V82.5H129.6zM129.6 84.5H133.1V86.5H129.6zM129.6 88.5H133.1V90.5H129.6zM133.1 56.5H136.6V58.5H133.1zM133.1 74.5H136.6V76.5H133.1zM133.1 80.5H136.6V82.5H133.1zM136.5 84.5H140V94.5H136.5zM140 74.5H143.5V76.5H140zM140 78.5H143.5V80.5H140zM143.4 40.5H146.9V42.5H143.4zM146.9 66.5H150.4V68.5H146.9zM146.9 94.5H150.4V96.5H146.9zM150.3 76.5H153.8V78.5H150.3zM150.3 86.5H153.8V88.5H150.3zM153.8 62.5H157.3V64.5H153.8zM157.2 72.5H160.7V74.5H157.2zM157.2 94.5H160.7V98.5H157.2zM160.7 66.5H164.2V68.5H160.7zM160.7 72.5H164.2V76.5H160.7zM164.1 58.5H167.6V60.5H164.1zM164.1 82.5H167.6V84.5H164.1zM167.6 74.5H171.1V80.5H167.6zM171 60.5H174.5V62.5H171zM171 82.5H174.5V84.5H171zM174.5 96.5H178V98.5H174.5zM177.9 62.5H181.4V64.5H177.9zM177.9 72.5H181.4V74.5H177.9zM181.4 64.5H184.9V66.5H181.4zM181.4 80.5H184.9V82.5H181.4zM184.8 66.5H188.3V70.5H184.8zM184.8 72.5H188.3V76.5H184.8zM188.3 80.5H191.8V82.5H188.3zM191.7 60.5H195.2V62.5H191.7zM191.7 80.5H195.2V82.5H191.7zM195.2 64.5H198.7V66.5H195.2zM195.2 90.5H198.7V92.5H195.2zM198.6 62.5H202.1V64.5H198.6zM198.6 92.5H202.1V94.5H198.6zM202.1 56.5H205.6V58.5H202.1zM202.1 102.5H205.6V104.5H202.1zM205.5 42.5H209V44.5H205.5zM205.5 46.5H209V48.5H205.5zM205.5 84.5H209V86.5H205.5zM209 40.5H212.5V42.5H209zM209 58.5H212.5V60.5H209zM209 66.5H212.5V70.5H209zM209 76.5H212.5V78.5H209zM212.4 38.5H215.9V40.5H212.4zM212.4 82.5H215.9V84.5H212.4zM215.9 36.5H219.4V38.5H215.9zM215.9 46.5H219.4V48.5H215.9zM215.9 76.5H219.4V78.5H215.9zM219.3 42.5H222.8V44.5H219.3zM219.3 46.5H222.8V48.5H219.3zM219.3 58.5H222.8V60.5H219.3zM219.3 74.5H222.8V76.5H219.3zM222.8 76.5H226.3V78.5H222.8zM226.2 48.5H229.7V50.5H226.2zM226.2 96.5H229.7V98.5H226.2zM229.7 38.5H233.2V40.5H229.7zM229.7 48.5H233.2V50.5H229.7zM229.7 92.5H233.2V94.5H229.7zM233.1 40.5H236.6V46.5H233.1zM233.1 82.5H236.6V84.5H233.1zM236.6 38.5H240.1V40.5H236.6zM236.6 52.5H240.1V54.5H236.6zM236.6 76.5H240.1V78.5H236.6zM240 42.5H243.5V44.5H240zM240 82.5H243.5V86.5H240zM243.5 78.5H247V80.5H243.5zM247 40.5H250.5V44.5H247zM247 48.5H250.5V50.5H247zM247 54.5H250.5V58.5H247zM247 78.5H250.5V80.5H247zM250.4 58.5H253.9V60.5H250.4zM250.4 84.5H253.9V86.5H250.4zM253.9 84.5H257.4V86.5H253.9zM257.3 178H260.8V185.5H257.3zM260.8 225.5H264.3V230.5H260.8zM264.2 230.5H267.7V235.5H264.2zM267.7 225.5H271.2V230.5H267.7zM271.1 225.5H274.6V230.5H271.1zM274.6 163H278.1V170.5H274.6zM278 96.5H281.5V104.5H278zM284.9 235.5H288.4V243H284.9zM288.4 238H291.9V240.5H288.4zM291.8 235.5H295.3V240.5H291.8zM295.3 240.5H298.8V245.5H295.3zM298.7 245.5H302.2V250.5H298.7zM302.2 253H305.7V258H302.2zM309.1 238H312.6V243H309.1zM312.5 225.5H316V230.5H312.5zM316 210.5H319.5V215.5H316zM319.4 200.5H322.9V205.5H319.4zM322.9 200.5H326.4V205.5H322.9zM326.3 190.5H329.8V193H326.3zM329.8 183H333.3V188H329.8zM336.7 228H340.2V233H336.7zM340.1 230.5H343.6V235.5H340.1zM343.6 228H347.1V233H343.6zM347 228H350.5V233H347zM350.5 225.5H354V230.5H350.5zM353.9 225.5H357.4V230.5H353.9zM357.4 215.5H360.9V220.5H357.4zM360.8 203H364.3V208H360.8zM364.3 200.5H367.8V205.5H364.3zM367.7 200.5H371.2V205.5H367.7zM371.2 218H374.7V223H371.2zM374.6 220.5H378.1V225.5H374.6zM378.1 235.5H381.6V238H378.1zM381.5 233H385V238H381.5zM385 230.5H388.5V235.5H385zM388.4 228H391.9V230.5H388.4zM391.9 218H395.4V223H391.9zM395.3 230.5H398.8V235.5H395.3zM405.7 238H409.2V243H405.7zM409.1 238H412.6V243H409.1zM412.6 243H416.1V248H412.6zM416 233H419.6V238H416zM419.5 240.5H423V243H419.5zM423 240.5H426.5V245.5H423zM426.4 228H429.9V233H426.4zM429.9 225.5H433.4V230.5H429.9zM433.3 223H436.8V228H433.3zM440.2 223H443.7V228H440.2zM450.6 238H454.1V243H450.6zM454 235.5H457.5V240.5H454zM457.5 240.5H461V245.5H457.5zM460.9 248H464.4V253H460.9zM467.8 228H471.3V233H467.8zM471.3 230.5H474.8V233H471.3zM474.7 223H478.2V225.5H474.7zM478.2 225.5H481.7V230.5H478.2zM481.6 228H485.1V233H481.6zM485.1 228H488.6V233H485.1zM488.5 220.5H492V228H488.5zM492 223H495.5V228H492zM495.4 228H498.9V230.5H495.4zM498.9 238H502.4V243H498.9zM502.3 238H505.8V243H502.3zM505.8 245.5H509.3V250.5H505.8zM509.2 240.5H512.7V243H509.2zM512.7 230.5H516.2V238H512.7zM516.1 230.5H519.6V235.5H516.1zM523 208H526.5V213H523zM526.5 213H530V218H526.5zM529.9 208H533.4V213H529.9zM533.4 213H536.9V218H533.4zM540.3 210.5H543.8V215.5H540.3zM543.7 210.5H547.2V215.5H543.7zM547.2 213H550.7V218H547.2zM550.6 210.5H554.1V215.5H550.6z"/><path fill="#40ffbf" d="M105.5 64.5H109V68.5H105.5zM105.5 70.5H109V72.5H105.5zM108.9 76.5H112.4V78.5H108.9zM112.4 38.5H115.9V40.5H112.4zM115.8 58.5H119.3V60.5H115.8zM119.3 70.5H122.8V72.5H119.3zM122.7 70.5H126.2V72.5H122.7zM133.1 66.5H136.6V68.5H133.1zM133.1 78.5H136.6V80.5H133.1zM140 38.5H143.5V40.5H140zM143.4 82.5H146.9V84.5H143.4zM146.9 38.5H150.4V42.5H146.9zM146.9 78.5H150.4V82.5H146.9zM146.9 90.5H150.4V94.5H146.9zM150.3 80.5H153.8V82.5H150.3zM150.3 84.5H153.8V86.5H150.3zM153.8 74.5H157.3V76.5H153.8zM157.2 62.5H160.7V64.5H157.2zM157.2 68.5H160.7V70.5H157.2zM157.2 90.5H160.7V94.5H157.2zM160.7 70.5H164.2V72.5H160.7zM164.1 62.5H167.6V64.5H164.1zM164.1 66.5H167.6V70.5H164.1zM164.1 78.5H167.6V82.5H164.1zM167.6 70.5H171.1V72.5H167.6zM171 76.5H174.5V82.5H171zM174.5 88.5H178V96.5H174.5zM177.9 66.5H181.4V68.5H177.9zM181.4 62.5H184.9V64.5H181.4zM181.4 72.5H184.9V80.5H181.4zM184.8 62.5H188.3V64.5H184.8zM188.3 66.5H191.8V68.5H188.3zM188.3 72.5H191.8V74.5H188.3zM188.3 76.5H191.8V80.5H188.3zM191.7 76.5H195.2V80.5H191.7zM195.2 82.5H198.7V90.5H195.2zM198.6 66.5H202.1V68.5H198.6zM198.6 70.5H202.1V72.5H198.6zM198.6 74.5H202.1V76.5H198.6zM198.6 84.5H202.1V92.5H198.6zM202.1 72.5H205.6V74.5H202.1zM202.1 92.5H205.6V102.5H202.1zM205.5 62.5H209V66.5H205.5zM205.5 80.5H209V84.5H205.5zM209 44.5H212.5V46.5H209zM209 74.5H212.5V76.5H209zM212.4 76.5H215.9V82.5H212.4zM215.9 48.5H219.4V50.5H215.9zM215.9 56.5H219.4V58.5H215.9zM215.9 70.5H219.4V72.5H215.9zM215.9 74.5H219.4V76.5H215.9zM219.3 40.5H222.8V42.5H219.3zM219.3 52.5H222.8V54.5H219.3zM219.3 70.5H222.8V74.5H219.3zM222.8 44.5H226.3V46.5H222.8zM222.8 48.5H226.3V50.5H222.8zM222.8 56.5H226.3V58.5H222.8zM222.8 74.5H226.3V76.5H222.8zM226.2 40.5H229.7V44.5H226.2zM226.2 46.5H229.7V48.5H226.2zM226.2 50.5H229.7V52.5H226.2zM226.2 90.5H229.7V96.5H226.2zM229.7 52.5H233.2V56.5H229.7zM229.7 86.5H233.2V92.5H229.7zM233.1 36.5H236.6V38.5H233.1zM233.1 50.5H236.6V52.5H233.1zM233.1 70.5H236.6V72.5H233.1zM233.1 78.5H236.6V82.5H233.1zM236.6 68.5H240.1V70.5H236.6zM236.6 72.5H240.1V76.5H236.6zM240 56.5H243.5V58.5H240zM240 62.5H243.5V64.5H240zM240 78.5H243.5V82.5H240zM243.5 48.5H247V50.5H243.5zM243.5 62.5H247V66.5H243.5zM243.5 70.5H247V74.5H243.5zM243.5 76.5H247V78.5H243.5zM247 70.5H250.5V72.5H247zM247 74.5H250.5V78.5H247zM250.4 64.5H253.9V68.5H250.4zM250.4 74.5H253.9V76.5H250.4zM250.4 78.5H253.9V84.5H250.4zM253.9 72.5H257.4V74.5H253.9zM253.9 78.5H257.4V84.5H253.9zM257.3 168H260.8V178H257.3zM260.8 220.5H264.3V225.5H260.8zM264.2 228H267.7V230.5H264.2zM267.7 223H271.2V225.5H267.7zM271.1 220.5H274.6V225.5H271.1zM274.6 153H278.1V163H274.6zM278 88.5H281.5V96.5H278zM284.9 230.5H288.4V235.5H284.9zM288.4 233H291.9V238H288.4zM291.8 230.5H295.3V235.5H291.8zM295.3 235.5H298.8V240.5H295.3zM298.7 243H302.2V245.5H298.7zM302.2 248H305.7V253H302.2zM309.1 233H312.6V238H309.1zM312.5 220.5H316V225.5H312.5zM316 205.5H319.5V210.5H316zM319.4 198H322.9V200.5H319.4zM322.9 195.5H326.4V200.5H322.9zM326.3 185.5H329.8V190.5H326.3zM329.8 178H333.3V183H329.8zM336.7 223H340.2V228H336.7zM340.1 225.5H343.6V230.5H340.1zM343.6 223H347.1V228H343.6zM347 223H350.5V228H347zM350.5 220.5H354V225.5H350.5zM353.9 223H357.4V225.5H353.9zM357.4 210.5H360.9V215.5H357.4zM360.8 200.5H364.3V203H360.8zM364.3 195.5H367.8V200.5H364.3zM367.7 195.5H371.2V200.5H367.7zM371.2 213H374.7V218H371.2zM374.6 218H378.1V220.5H374.6zM378.1 230.5H381.6V235.5H378.1zM381.5 228H385V233H381.5zM385 225.5H388.5V230.5H385zM388.4 223H391.9V228H388.4zM391.9 213H395.4V218H391.9zM395.3 225.5H398.8V230.5H395.3zM405.7 233H409.2V238H405.7zM409.1 233H412.6V238H409.1zM412.6 238H416.1V243H412.6zM416 228H419.6V233H416zM419.5 235.5H423V240.5H419.5zM423 235.5H426.5V240.5H423zM426.4 223H429.9V228H426.4zM429.9 220.5H433.4V225.5H429.9zM433.3 218H436.8V223H433.3zM440.2 218H443.7V223H440.2zM450.6 233H454.1V238H450.6zM454 230.5H457.5V235.5H454zM457.5 235.5H461V240.5H457.5zM460.9 243H464.4V248H460.9zM467.8 223H471.3V228H467.8zM471.3 225.5H474.8V230.5H471.3zM474.7 218H478.2V223H474.7zM478.2 220.5H481.7V225.5H478.2zM481.6 223H485.1V228H481.6zM485.1 223H488.6V228H485.1zM488.5 215.5H492V220.5H488.5zM492 218H495.5V223H492zM495.4 223H498.9V228H495.4zM498.9 233H502.4V238H498.9zM502.3 233H505.8V238H502.3zM505.8 240.5H509.3V245.5H505.8zM509.2 235.5H512.7V240.5H509.2zM512.7 225.5H516.2V230.5H512.7zM516.1 225.5H519.6V230.5H516.1zM523 203H526.5V208H523zM526.5 208H530V213H526.5zM529.9 203H533.4V208H529.9zM533.4 208H536.9V213H533.4zM540.3 205.5H543.8V210.5H540.3zM543.7 205.5H547.2V210.5H543.7zM547.2 208H550.7V213H547.2zM550.6 205.5H554.1V210.5H550.6z"/><path fill="#50ffaf" d="M98.6 38.5H102.1V40.5H98.6zM105.5 38.5H109V42.5H105.5zM112.4 64.5H115.9V68.5H112.4zM115.8 62.5H119.3V64.5H115.8zM122.7 68.5H126.2V70.5H122.7zM122.7 76.5H126.2V78.5H122.7zM126.2 76.5H129.7V78.5H126.2zM129.6 76.5H133.1V78.5H129.6zM129.6 86.5H133.1V88.5H129.6zM140 42.5H143.5V44.5H140zM140 84.5H143.5V86.5H140zM143.4 64.5H146.9V66.5H143.4zM146.9 68.5H150.4V70.5H146.9zM146.9 84.5H150.4V90.5H146.9zM150.3 60.5H153.8V62.5H150.3zM150.3 70.5H153.8V72.5H150.3zM150.3 78.5H153.8V80.5H150.3zM150.3 82.5H153.8V84.5H150.3zM153.8 64.5H157.3V66.5H153.8zM153.8 72.5H157.3V74.5H153.8zM157.2 76.5H160.7V80.5H157.2zM157.2 82.5H160.7V90.5H157.2zM160.7 60.5H164.2V62.5H160.7zM164.1 72.5H167.6V74.5H164.1zM164.1 76.5H167.6V78.5H164.1zM167.6 66.5H171.1V68.5H167.6zM167.6 72.5H171.1V74.5H167.6zM171 74.5H174.5V76.5H171zM174.5 70.5H178V76.5H174.5zM174.5 78.5H178V88.5H174.5zM177.9 70.5H181.4V72.5H177.9zM181.4 70.5H184.9V72.5H181.4zM188.3 64.5H191.8V66.5H188.3zM188.3 68.5H191.8V72.5H188.3zM188.3 74.5H191.8V76.5H188.3zM191.7 64.5H195.2V66.5H191.7zM191.7 68.5H195.2V76.5H191.7zM195.2 72.5H198.7V82.5H195.2zM198.6 72.5H202.1V74.5H198.6zM198.6 76.5H202.1V84.5H198.6zM202.1 62.5H205.6V64.5H202.1zM202.1 70.5H205.6V72.5H202.1zM202.1 74.5H205.6V92.5H202.1zM205.5 72.5H209V80.5H205.5zM209 60.5H212.5V62.5H209zM209 72.5H212.5V74.5H209zM212.4 42.5H215.9V44.5H212.4zM212.4 52.5H215.9V54.5H212.4zM212.4 60.5H215.9V62.5H212.4zM212.4 64.5H215.9V66.5H212.4zM212.4 68.5H215.9V70.5H212.4zM212.4 72.5H215.9V76.5H212.4zM215.9 62.5H219.4V64.5H215.9zM215.9 66.5H219.4V68.5H215.9zM215.9 72.5H219.4V74.5H215.9zM219.3 50.5H222.8V52.5H219.3zM219.3 62.5H222.8V64.5H219.3zM219.3 68.5H222.8V70.5H219.3zM222.8 62.5H226.3V64.5H222.8zM222.8 66.5H226.3V70.5H222.8zM222.8 72.5H226.3V74.5H222.8zM226.2 56.5H229.7V58.5H226.2zM226.2 60.5H229.7V62.5H226.2zM226.2 78.5H229.7V90.5H226.2zM229.7 36.5H233.2V38.5H229.7zM229.7 64.5H233.2V66.5H229.7zM229.7 68.5H233.2V70.5H229.7zM229.7 78.5H233.2V86.5H229.7zM233.1 56.5H236.6V58.5H233.1zM233.1 72.5H236.6V78.5H233.1zM236.6 44.5H240.1V46.5H236.6zM236.6 64.5H240.1V66.5H236.6zM236.6 70.5H240.1V72.5H236.6zM240 40.5H243.5V42.5H240zM240 52.5H243.5V54.5H240zM240 60.5H243.5V62.5H240zM240 70.5H243.5V78.5H240zM243.5 36.5H247V38.5H243.5zM243.5 42.5H247V46.5H243.5zM243.5 54.5H247V56.5H243.5zM243.5 68.5H247V70.5H243.5zM243.5 74.5H247V76.5H243.5zM247 66.5H250.5V68.5H247zM247 72.5H250.5V74.5H247zM250.4 38.5H253.9V40.5H250.4zM250.4 46.5H253.9V48.5H250.4zM250.4 50.5H253.9V52.5H250.4zM250.4 68.5H253.9V72.5H250.4zM250.4 76.5H253.9V78.5H250.4zM253.9 66.5H257.4V72.5H253.9zM253.9 74.5H257.4V78.5H253.9zM257.3 160.5H260.8V168H257.3zM260.8 215.5H264.3V220.5H260.8zM264.2 223H267.7V228H264.2zM267.7 218H271.2V223H267.7zM271.1 215.5H274.6V220.5H271.1zM274.6 140.5H278.1V153H274.6zM278 80.5H281.5V88.5H278zM284.9 228H288.4V230.5H284.9zM288.4 228H291.9V233H288.4zM291.8 225.5H295.3V230.5H291.8zM295.3 233H298.8V235.5H295.3zM298.7 238H302.2V243H298.7zM302.2 243H305.7V248H302.2zM309.1 228H312.6V233H309.1zM312.5 215.5H316V220.5H312.5zM316 200.5H319.5V205.5H316zM319.4 193H322.9V198H319.4zM322.9 190.5H326.4V195.5H322.9zM326.3 180.5H329.8V185.5H326.3zM329.8 173H333.3V178H329.8zM336.7 218H340.2V223H336.7zM340.1 220.5H343.6V225.5H340.1zM343.6 220.5H347.1V223H343.6zM347 218H350.5V223H347zM350.5 215.5H354V220.5H350.5zM353.9 215.5H357.4V223H353.9zM357.4 208H360.9V210.5H357.4zM360.8 195.5H364.3V200.5H360.8zM364.3 193H367.8V195.5H364.3zM367.7 190.5H371.2V195.5H367.7zM371.2 208H374.7V213H371.2zM374.6 213H378.1V218H374.6zM378.1 225.5H381.6V230.5H378.1zM381.5 223H385V228H381.5zM385 220.5H388.5V225.5H385zM388.4 218H391.9V223H388.4zM391.9 208H395.4V213H391.9zM395.3 220.5H398.8V225.5H395.3zM405.7 228H409.2V233H405.7zM409.1 228H412.6V233H409.1zM412.6 233H416.1V238H412.6zM416 225.5H419.6V228H416zM419.5 230.5H423V235.5H419.5zM423 230.5H426.5V235.5H423zM426.4 220.5H429.9V223H426.4zM429.9 218H433.4V220.5H429.9zM433.3 215.5H436.8V218H433.3zM440.2 213H443.7V218H440.2zM450.6 228H454.1V233H450.6zM454 225.5H457.5V230.5H454zM457.5 230.5H461V235.5H457.5zM460.9 238H464.4V243H460.9zM467.8 218H471.3V223H467.8zM471.3 220.5H474.8V225.5H471.3zM474.7 213H478.2V218H474.7zM478.2 213H481.7V220.5H478.2zM481.6 218H485.1V223H481.6zM485.1 218H488.6V223H485.1zM488.5 213H492V215.5H488.5zM492 210.5H495.5V218H492zM495.4 218H498.9V223H495.4zM498.9 228H502.4V233H498.9zM502.3 228H505.8V233H502.3zM505.8 235.5H509.3V240.5H505.8zM509.2 230.5H512.7V235.5H509.2zM512.7 220.5H516.2V225.5H512.7zM516.1 223H519.6V225.5H516.1zM523 198H526.5V203H523zM526.5 205.5H530V208H526.5zM529.9 198H533.4V203H529.9zM533.4 203H536.9V208H533.4zM540.3 203H543.8V205.5H540.3zM543.7 200.5H547.2V205.5H543.7zM547.2 203H550.7V208H547.2zM550.6 200.5H554.1V205.5H550.6z"/><path fill="#60ff9f" d="M112.4 40.5H115.9V42.5H112.4zM119.3 40.5H122.8V42.5H119.3zM119.3 58.5H122.8V60.5H119.3zM122.7 78.5H126.2V80.5H122.7zM126.2 82.5H129.7V84.5H126.2zM126.2 88.5H129.7V90.5H126.2zM133.1 36.5H136.6V38.5H133.1zM133.1 64.5H136.6V66.5H133.1zM133.1 76.5H136.6V78.5H133.1zM136.5 68.5H140V70.5H136.5zM140 36.5H143.5V38.5H140zM140 70.5H143.5V74.5H140zM143.4 38.5H146.9V40.5H143.4zM143.4 72.5H146.9V74.5H143.4zM146.9 74.5H150.4V76.5H146.9zM150.3 62.5H153.8V64.5H150.3zM153.8 60.5H157.3V62.5H153.8zM157.2 80.5H160.7V82.5H157.2zM167.6 68.5H171.1V70.5H167.6zM171 62.5H174.5V64.5H171zM171 72.5H174.5V74.5H171zM174.5 76.5H178V78.5H174.5zM177.9 68.5H181.4V70.5H177.9zM184.8 70.5H188.3V72.5H184.8zM195.2 68.5H198.7V72.5H195.2zM198.6 68.5H202.1V70.5H198.6zM202.1 68.5H205.6V70.5H202.1zM205.5 48.5H209V50.5H205.5zM205.5 60.5H209V62.5H205.5zM209 50.5H212.5V52.5H209zM209 54.5H212.5V56.5H209zM209 70.5H212.5V72.5H209zM212.4 44.5H215.9V48.5H212.4zM212.4 54.5H215.9V56.5H212.4zM212.4 70.5H215.9V72.5H212.4zM215.9 68.5H219.4V70.5H215.9zM219.3 48.5H222.8V50.5H219.3zM219.3 54.5H222.8V56.5H219.3zM222.8 42.5H226.3V44.5H222.8zM222.8 52.5H226.3V54.5H222.8zM222.8 70.5H226.3V72.5H222.8zM226.2 54.5H229.7V56.5H226.2zM226.2 66.5H229.7V70.5H226.2zM226.2 72.5H229.7V78.5H226.2zM229.7 70.5H233.2V78.5H229.7zM233.1 68.5H236.6V70.5H233.1zM236.6 40.5H240.1V44.5H236.6zM236.6 56.5H240.1V60.5H236.6zM236.6 62.5H240.1V64.5H236.6zM236.6 66.5H240.1V68.5H236.6zM240 48.5H243.5V52.5H240zM240 64.5H243.5V70.5H240zM243.5 56.5H247V58.5H243.5zM243.5 66.5H247V68.5H243.5zM247 36.5H250.5V38.5H247zM247 44.5H250.5V46.5H247zM247 68.5H250.5V70.5H247zM250.4 72.5H253.9V74.5H250.4zM257.3 150.5H260.8V160.5H257.3zM260.8 210.5H264.3V215.5H260.8zM264.2 218H267.7V223H264.2zM267.7 213H271.2V218H267.7zM271.1 210.5H274.6V215.5H271.1zM274.6 130.5H278.1V140.5H274.6zM278 76.5H281.5V80.5H278zM284.9 223H288.4V228H284.9zM288.4 223H291.9V228H288.4zM291.8 220.5H295.3V225.5H291.8zM295.3 228H298.8V233H295.3zM298.7 233H302.2V238H298.7zM302.2 238H305.7V243H302.2zM309.1 223H312.6V228H309.1zM312.5 210.5H316V215.5H312.5zM316 198H319.5V200.5H316zM319.4 188H322.9V193H319.4zM322.9 185.5H326.4V190.5H322.9zM326.3 175.5H329.8V180.5H326.3zM329.8 168H333.3V173H329.8zM336.7 213H340.2V218H336.7zM340.1 218H343.6V220.5H340.1zM343.6 215.5H347.1V220.5H343.6zM347 213H350.5V218H347zM350.5 213H354V215.5H350.5zM353.9 210.5H357.4V215.5H353.9zM357.4 203H360.9V208H357.4zM360.8 190.5H364.3V195.5H360.8zM364.3 188H367.8V193H364.3zM367.7 188H371.2V190.5H367.7zM371.2 203H374.7V208H371.2zM374.6 208H378.1V213H374.6zM378.1 220.5H381.6V225.5H378.1zM381.5 218H385V223H381.5zM385 215.5H388.5V220.5H385zM388.4 213H391.9V218H388.4zM391.9 203H395.4V208H391.9zM395.3 218H398.8V220.5H395.3zM405.7 223H409.2V228H405.7zM409.1 223H412.6V228H409.1zM412.6 228H416.1V233H412.6zM416 220.5H419.6V225.5H416zM419.5 223H423V230.5H419.5zM423 225.5H426.5V230.5H423zM426.4 215.5H429.9V220.5H426.4zM429.9 213H433.4V218H429.9zM433.3 210.5H436.8V215.5H433.3zM440.2 208H443.7V213H440.2zM450.6 223H454.1V228H450.6zM454 220.5H457.5V225.5H454zM457.5 228H461V230.5H457.5zM460.9 233H464.4V238H460.9zM467.8 215.5H471.3V218H467.8zM471.3 215.5H474.8V220.5H471.3zM474.7 205.5H478.2V213H474.7zM478.2 208H481.7V213H478.2zM481.6 213H485.1V218H481.6zM485.1 213H488.6V218H485.1zM488.5 208H492V213H488.5zM492 205.5H495.5V210.5H492zM495.4 213H498.9V218H495.4zM498.9 223H502.4V228H498.9zM502.3 223H505.8V228H502.3zM505.8 230.5H509.3V235.5H505.8zM509.2 225.5H512.7V230.5H509.2zM512.7 215.5H516.2V220.5H512.7zM516.1 218H519.6V223H516.1zM523 193H526.5V198H523zM526.5 200.5H530V205.5H526.5zM529.9 193H533.4V198H529.9zM533.4 198H536.9V203H533.4zM540.3 198H543.8V203H540.3zM543.7 195.5H547.2V200.5H543.7zM547.2 198H550.7V203H547.2zM550.6 198H554.1V200.5H550.6z"/><path fill="#70ff8f" d="M115.8 38.5H119.3V40.5H115.8zM115.8 42.5H119.3V44.5H115.8zM115.8 68.5H119.3V70.5H115.8zM126.2 86.5H129.7V88.5H126.2zM129.6 82.5H133.1V84.5H129.6zM133.1 70.5H136.6V72.5H133.1zM140 80.5H143.5V82.5H140zM146.9 64.5H150.4V66.5H146.9zM146.9 82.5H150.4V84.5H146.9zM157.2 70.5H160.7V72.5H157.2zM157.2 74.5H160.7V76.5H157.2zM164.1 74.5H167.6V76.5H164.1zM167.6 62.5H171.1V64.5H167.6zM171 66.5H174.5V70.5H171zM174.5 62.5H178V64.5H174.5zM174.5 66.5H178V68.5H174.5zM181.4 68.5H184.9V70.5H181.4zM188.3 62.5H191.8V64.5H188.3zM191.7 62.5H195.2V64.5H191.7zM195.2 66.5H198.7V68.5H195.2zM202.1 64.5H205.6V68.5H202.1zM205.5 66.5H209V72.5H205.5zM212.4 50.5H215.9V52.5H212.4zM212.4 56.5H215.9V58.5H212.4zM212.4 66.5H215.9V68.5H212.4zM215.9 64.5H219.4V66.5H215.9zM219.3 64.5H222.8V68.5H219.3zM222.8 60.5H226.3V62.5H222.8zM226.2 44.5H229.7V46.5H226.2zM226.2 52.5H229.7V54.5H226.2zM226.2 58.5H229.7V60.5H226.2zM226.2 64.5H229.7V66.5H226.2zM226.2 70.5H229.7V72.5H226.2zM229.7 58.5H233.2V64.5H229.7zM229.7 66.5H233.2V68.5H229.7zM233.1 46.5H236.6V48.5H233.1zM233.1 54.5H236.6V56.5H233.1zM233.1 62.5H236.6V64.5H233.1zM240 44.5H243.5V48.5H240zM247 38.5H250.5V40.5H247zM247 52.5H250.5V54.5H247zM250.4 54.5H253.9V58.5H250.4zM253.9 62.5H257.4V66.5H253.9zM257.3 138H260.8V150.5H257.3zM260.8 205.5H264.3V210.5H260.8zM264.2 213H267.7V218H264.2zM267.7 205.5H271.2V213H267.7zM271.1 205.5H274.6V210.5H271.1zM274.6 118.5H278.1V130.5H274.6zM278 74.5H281.5V76.5H278zM284.9 218H288.4V223H284.9zM288.4 218H291.9V223H288.4zM291.8 215.5H295.3V220.5H291.8zM295.3 223H298.8V228H295.3zM298.7 228H302.2V233H298.7zM302.2 233H305.7V238H302.2zM309.1 218H312.6V223H309.1zM312.5 208H316V210.5H312.5zM316 190.5H319.5V198H316zM319.4 183H322.9V188H319.4zM322.9 180.5H326.4V185.5H322.9zM326.3 170.5H329.8V175.5H326.3zM329.8 163H333.3V168H329.8zM336.7 208H340.2V213H336.7zM340.1 213H343.6V218H340.1zM343.6 210.5H347.1V215.5H343.6zM347 208H350.5V213H347zM350.5 205.5H354V213H350.5zM353.9 208H357.4V210.5H353.9zM357.4 195.5H360.9V203H357.4zM360.8 185.5H364.3V190.5H360.8zM364.3 183H367.8V188H364.3zM367.7 183H371.2V188H367.7zM371.2 198H374.7V203H371.2zM374.6 203H378.1V208H374.6zM378.1 215.5H381.6V220.5H378.1zM381.5 213H385V218H381.5zM385 210.5H388.5V215.5H385zM388.4 208H391.9V213H388.4zM391.9 198H395.4V203H391.9zM395.3 213H398.8V218H395.3zM405.7 218H409.2V223H405.7zM409.1 218H412.6V223H409.1zM412.6 223H416.1V228H412.6zM416 215.5H419.6V220.5H416zM419.5 220.5H423V223H419.5zM423 220.5H426.5V225.5H423zM426.4 210.5H429.9V215.5H426.4zM429.9 208H433.4V213H429.9zM433.3 205.5H436.8V210.5H433.3zM440.2 203H443.7V208H440.2zM450.6 218H454.1V223H450.6zM454 218H457.5V220.5H454zM457.5 223H461V228H457.5zM460.9 228H464.4V233H460.9zM467.8 210.5H471.3V215.5H467.8zM471.3 210.5H474.8V215.5H471.3zM474.7 203H478.2V205.5H474.7zM478.2 205.5H481.7V208H478.2zM481.6 208H485.1V213H481.6zM485.1 208H488.6V213H485.1zM488.5 203H492V208H488.5zM492 203H495.5V205.5H492zM495.4 208H498.9V213H495.4zM498.9 218H502.4V223H498.9zM502.3 218H505.8V223H502.3zM505.8 225.5H509.3V230.5H505.8zM509.2 220.5H512.7V225.5H509.2zM512.7 210.5H516.2V215.5H512.7zM516.1 213H519.6V218H516.1zM523 188H526.5V193H523zM526.5 195.5H530V200.5H526.5zM529.9 188H533.4V193H529.9zM533.4 193H536.9V198H533.4zM540.3 193H543.8V198H540.3zM543.7 190.5H547.2V195.5H543.7zM547.2 193H550.7V198H547.2zM550.6 190.5H554.1V198H550.6z"/><path fill="#80ff80" d="M119.3 42.5H122.8V44.5H119.3zM122.7 74.5H126.2V76.5H122.7zM129.6 40.5H133.1V42.5H129.6zM136.5 76.5H140V78.5H136.5zM140 68.5H143.5V70.5H140zM143.4 36.5H146.9V38.5H143.4zM143.4 70.5H146.9V72.5H143.4zM143.4 74.5H146.9V80.5H143.4zM146.9 72.5H150.4V74.5H146.9zM150.3 72.5H153.8V74.5H150.3zM153.8 70.5H157.3V72.5H153.8zM164.1 70.5H167.6V72.5H164.1zM171 70.5H174.5V72.5H171zM174.5 64.5H178V66.5H174.5zM174.5 68.5H178V70.5H174.5zM177.9 64.5H181.4V66.5H177.9zM181.4 66.5H184.9V68.5H181.4zM184.8 64.5H188.3V66.5H184.8zM191.7 66.5H195.2V68.5H191.7zM198.6 64.5H202.1V66.5H198.6zM209 64.5H212.5V66.5H209zM215.9 52.5H219.4V54.5H215.9zM222.8 46.5H226.3V48.5H222.8zM222.8 64.5H226.3V66.5H222.8zM229.7 50.5H233.2V52.5H229.7zM229.7 56.5H233.2V58.5H229.7zM233.1 66.5H236.6V68.5H233.1zM236.6 46.5H240.1V48.5H236.6zM236.6 50.5H240.1V52.5H236.6zM236.6 60.5H240.1V62.5H236.6zM240 54.5H243.5V56.5H240zM240 58.5H243.5V60.5H240zM243.5 46.5H247V48.5H243.5zM243.5 58.5H247V62.5H243.5zM247 50.5H250.5V52.5H247zM247 64.5H250.5V66.5H247zM250.4 42.5H253.9V44.5H250.4zM250.4 48.5H253.9V50.5H250.4zM250.4 60.5H253.9V64.5H250.4zM253.9 60.5H257.4V62.5H253.9zM257.3 125.5H260.8V138H257.3zM260.8 200.5H264.3V205.5H260.8zM264.2 208H267.7V213H264.2zM267.7 200.5H271.2V205.5H267.7zM271.1 200.5H274.6V205.5H271.1zM274.6 108.5H278.1V118.5H274.6zM278 72.5H281.5V74.5H278zM284.9 213H288.4V218H284.9zM288.4 213H291.9V218H288.4zM291.8 213H295.3V215.5H291.8zM295.3 218H298.8V223H295.3zM298.7 223H302.2V228H298.7zM302.2 228H305.7V233H302.2zM309.1 213H312.6V218H309.1zM312.5 203H316V208H312.5zM316 185.5H319.5V190.5H316zM319.4 178H322.9V183H319.4zM322.9 178H326.4V180.5H322.9zM326.3 165.5H329.8V170.5H326.3zM329.8 158H333.3V163H329.8zM336.7 203H340.2V208H336.7zM340.1 208H343.6V213H340.1zM343.6 205.5H347.1V210.5H343.6zM347 203H350.5V208H347zM350.5 200.5H354V205.5H350.5zM353.9 203H357.4V208H353.9zM357.4 190.5H360.9V195.5H357.4zM360.8 180.5H364.3V185.5H360.8zM364.3 178H367.8V183H364.3zM367.7 178H371.2V183H367.7zM371.2 193H374.7V198H371.2zM374.6 198H378.1V203H374.6zM378.1 210.5H381.6V215.5H378.1zM381.5 208H385V213H381.5zM385 208H388.5V210.5H385zM388.4 203H391.9V208H388.4zM391.9 193H395.4V198H391.9zM395.3 208H398.8V213H395.3zM405.7 215.5H409.2V218H405.7zM409.1 213H412.6V218H409.1zM412.6 218H416.1V223H412.6zM416 210.5H419.6V215.5H416zM419.5 215.5H423V220.5H419.5zM423 218H426.5V220.5H423zM426.4 205.5H429.9V210.5H426.4zM429.9 200.5H433.4V208H429.9zM433.3 200.5H436.8V205.5H433.3zM440.2 198H443.7V203H440.2zM450.6 215.5H454.1V218H450.6zM454 213H457.5V218H454zM457.5 215.5H461V223H457.5zM460.9 223H464.4V228H460.9zM467.8 205.5H471.3V210.5H467.8zM471.3 205.5H474.8V210.5H471.3zM474.7 198H478.2V203H474.7zM478.2 200.5H481.7V205.5H478.2zM481.6 203H485.1V208H481.6zM485.1 203H488.6V208H485.1zM488.5 200.5H492V203H488.5zM492 198H495.5V203H492zM495.4 203H498.9V208H495.4zM498.9 213H502.4V218H498.9zM502.3 213H505.8V218H502.3zM505.8 220.5H509.3V225.5H505.8zM509.2 215.5H512.7V220.5H509.2zM512.7 208H516.2V210.5H512.7zM516.1 208H519.6V213H516.1zM523 183H526.5V188H523zM526.5 188H530V195.5H526.5zM529.9 183H533.4V188H529.9zM533.4 188H536.9V193H533.4zM540.3 188H543.8V193H540.3zM543.7 185.5H547.2V190.5H543.7zM547.2 188H550.7V193H547.2zM550.6 185.5H554.1V190.5H550.6z"/><path fill="#8fff70" d="M102 36.5H105.5V38.5H102zM112.4 62.5H115.9V64.5H112.4zM119.3 62.5H122.8V64.5H119.3zM122.7 38.5H126.2V40.5H122.7zM126.2 42.5H129.7V44.5H126.2zM129.6 42.5H133.1V44.5H129.6zM129.6 72.5H133.1V74.5H129.6zM136.5 78.5H140V80.5H136.5zM140 40.5H143.5V42.5H140zM146.9 70.5H150.4V72.5H146.9zM146.9 76.5H150.4V78.5H146.9zM150.3 74.5H153.8V76.5H150.3zM205.5 58.5H209V60.5H205.5zM209 56.5H212.5V58.5H209zM209 62.5H212.5V64.5H209zM212.4 58.5H215.9V60.5H212.4zM215.9 54.5H219.4V56.5H215.9zM219.3 56.5H222.8V58.5H219.3zM219.3 60.5H222.8V62.5H219.3zM222.8 54.5H226.3V56.5H222.8zM222.8 58.5H226.3V60.5H222.8zM233.1 48.5H236.6V50.5H233.1zM233.1 58.5H236.6V60.5H233.1zM233.1 64.5H236.6V66.5H233.1zM236.6 48.5H240.1V50.5H236.6zM247 58.5H250.5V60.5H247zM247 62.5H250.5V64.5H247zM253.9 58.5H257.4V60.5H253.9zM257.3 116.5H260.8V125.5H257.3zM260.8 195.5H264.3V200.5H260.8zM264.2 203H267.7V208H264.2zM267.7 195.5H271.2V200.5H267.7zM271.1 195.5H274.6V200.5H271.1zM274.6 98.5H278.1V108.5H274.6zM278 70.5H281.5V72.5H278zM284.9 208H288.4V213H284.9zM288.4 205.5H291.9V213H288.4zM291.8 208H295.3V213H291.8zM295.3 213H298.8V218H295.3zM298.7 218H302.2V223H298.7zM302.2 223H305.7V228H302.2zM309.1 208H312.6V213H309.1zM312.5 198H316V203H312.5zM316 180.5H319.5V185.5H316zM319.4 173H322.9V178H319.4zM322.9 170.5H326.4V178H322.9zM326.3 160.5H329.8V165.5H326.3zM329.8 153H333.3V158H329.8zM336.7 198H340.2V203H336.7zM340.1 203H343.6V208H340.1zM343.6 198H347.1V205.5H343.6zM347 198H350.5V203H347zM350.5 195.5H354V200.5H350.5zM353.9 195.5H357.4V203H353.9zM357.4 185.5H360.9V190.5H357.4zM360.8 173H364.3V180.5H360.8zM364.3 170.5H367.8V178H364.3zM367.7 173H371.2V178H367.7zM371.2 188H374.7V193H371.2zM374.6 193H378.1V198H374.6zM378.1 205.5H381.6V210.5H378.1zM381.5 203H385V208H381.5zM385 203H388.5V208H385zM388.4 198H391.9V203H388.4zM391.9 188H395.4V193H391.9zM395.3 200.5H398.8V208H395.3zM405.7 208H409.2V215.5H405.7zM409.1 208H412.6V213H409.1zM412.6 213H416.1V218H412.6zM416 205.5H419.6V210.5H416zM419.5 210.5H423V215.5H419.5zM423 210.5H426.5V218H423zM426.4 200.5H429.9V205.5H426.4zM429.9 195.5H433.4V200.5H429.9zM433.3 193H436.8V200.5H433.3zM440.2 193H443.7V198H440.2zM450.6 208H454.1V215.5H450.6zM454 205.5H457.5V213H454zM457.5 210.5H461V215.5H457.5zM460.9 218H464.4V223H460.9zM467.8 200.5H471.3V205.5H467.8zM471.3 198H474.8V205.5H471.3zM474.7 193H478.2V198H474.7zM478.2 193H481.7V200.5H478.2zM481.6 198H485.1V203H481.6zM485.1 198H488.6V203H485.1zM488.5 193H492V200.5H488.5zM492 193H495.5V198H492zM495.4 195.5H498.9V203H495.4zM498.9 208H502.4V213H498.9zM502.3 208H505.8V213H502.3zM505.8 215.5H509.3V220.5H505.8zM509.2 210.5H512.7V215.5H509.2zM512.7 200.5H516.2V208H512.7zM516.1 200.5H519.6V208H516.1zM523 178H526.5V183H523zM526.5 183H530V188H526.5zM529.9 178H533.4V183H529.9zM533.4 183H536.9V188H533.4zM540.3 183H543.8V188H540.3zM543.7 180.5H547.2V185.5H543.7zM547.2 183H550.7V188H547.2zM550.6 180.5H554.1V185.5H550.6z"/><path fill="#9fff60" d="M133.1 38.5H136.6V40.5H133.1zM140 76.5H143.5V78.5H140zM160.7 64.5H164.2V66.5H160.7zM167.6 64.5H171.1V66.5H167.6zM171 64.5H174.5V66.5H171zM212.4 62.5H215.9V64.5H212.4zM215.9 58.5H219.4V60.5H215.9zM226.2 62.5H229.7V64.5H226.2zM233.1 52.5H236.6V54.5H233.1zM247 60.5H250.5V62.5H247zM253.9 56.5H257.4V58.5H253.9zM257.3 108.5H260.8V116.5H257.3zM260.8 190.5H264.3V195.5H260.8zM264.2 198H267.7V203H264.2zM267.7 190.5H271.2V195.5H267.7zM271.1 190.5H274.6V195.5H271.1zM274.6 88.5H278.1V98.5H274.6zM278 68.5H281.5V70.5H278zM284.9 203H288.4V208H284.9zM288.4 200.5H291.9V205.5H288.4zM291.8 200.5H295.3V208H291.8zM295.3 208H298.8V213H295.3zM298.7 213H302.2V218H298.7zM302.2 215.5H305.7V223H302.2zM309.1 200.5H312.6V208H309.1zM312.5 190.5H316V198H312.5zM316 175.5H319.5V180.5H316zM319.4 168H322.9V173H319.4zM322.9 163H326.4V170.5H322.9zM326.3 155.5H329.8V160.5H326.3zM329.8 148H333.3V153H329.8zM336.7 193H340.2V198H336.7zM340.1 195.5H343.6V203H340.1zM343.6 193H347.1V198H343.6zM347 193H350.5V198H347zM350.5 190.5H354V195.5H350.5zM353.9 190.5H357.4V195.5H353.9zM357.4 180.5H360.9V185.5H357.4zM360.8 168H364.3V173H360.8zM364.3 165.5H367.8V170.5H364.3zM367.7 168H371.2V173H367.7zM371.2 183H374.7V188H371.2zM374.6 188H378.1V193H374.6zM378.1 198H381.6V205.5H378.1zM381.5 198H385V203H381.5zM385 195.5H388.5V203H385zM388.4 193H391.9V198H388.4zM391.9 183H395.4V188H391.9zM395.3 195.5H398.8V200.5H395.3zM405.7 203H409.2V208H405.7zM409.1 203H412.6V208H409.1zM412.6 208H416.1V213H412.6zM416 198H419.6V205.5H416zM419.5 203H423V210.5H419.5zM423 205.5H426.5V210.5H423zM426.4 195.5H429.9V200.5H426.4zM429.9 190.5H433.4V195.5H429.9zM433.3 188H436.8V193H433.3zM440.2 188H443.7V193H440.2zM450.6 203H454.1V208H450.6zM454 200.5H457.5V205.5H454zM457.5 205.5H461V210.5H457.5zM460.9 213H464.4V218H460.9zM467.8 193H471.3V200.5H467.8zM471.3 193H474.8V198H471.3zM474.7 185.5H478.2V193H474.7zM478.2 188H481.7V193H478.2zM481.6 193H485.1V198H481.6zM485.1 190.5H488.6V198H485.1zM488.5 188H492V193H488.5zM492 185.5H495.5V193H492zM495.4 190.5H498.9V195.5H495.4zM498.9 203H502.4V208H498.9zM502.3 203H505.8V208H502.3zM505.8 208H509.3V215.5H505.8zM509.2 205.5H512.7V210.5H509.2zM512.7 195.5H516.2V200.5H512.7zM516.1 195.5H519.6V200.5H516.1zM523 173H526.5V178H523zM526.5 178H530V183H526.5zM529.9 173H533.4V178H529.9zM533.4 178H536.9V183H533.4zM540.3 178H543.8V183H540.3zM543.7 173H547.2V180.5H543.7zM547.2 178H550.7V183H547.2zM550.6 175.5H554.1V180.5H550.6z"/><path fill="#afff50" d="M112.4 36.5H115.9V38.5H112.4zM133.1 40.5H136.6V42.5H133.1zM136.5 80.5H140V82.5H136.5zM215.9 60.5H219.4V62.5H215.9zM233.1 60.5H236.6V62.5H233.1zM253.9 54.5H257.4V56.5H253.9zM257.3 98.5H260.8V108.5H257.3zM260.8 183H264.3V190.5H260.8zM264.2 190.5H267.7V198H264.2zM267.7 185.5H271.2V190.5H267.7zM271.1 185.5H274.6V190.5H271.1zM274.6 80.5H278.1V88.5H274.6zM278 66.5H281.5V68.5H278zM284.9 195.5H288.4V203H284.9zM288.4 195.5H291.9V200.5H288.4zM291.8 195.5H295.3V200.5H291.8zM295.3 200.5H298.8V208H295.3zM298.7 205.5H302.2V213H298.7zM302.2 210.5H305.7V215.5H302.2zM309.1 195.5H312.6V200.5H309.1zM312.5 185.5H316V190.5H312.5zM316 170.5H319.5V175.5H316zM319.4 160.5H322.9V168H319.4zM322.9 158H326.4V163H322.9zM326.3 148H329.8V155.5H326.3zM329.8 140.5H333.3V148H329.8zM336.7 185.5H340.2V193H336.7zM340.1 190.5H343.6V195.5H340.1zM343.6 185.5H347.1V193H343.6zM347 185.5H350.5V193H347zM350.5 183H354V190.5H350.5zM353.9 185.5H357.4V190.5H353.9zM357.4 175.5H360.9V180.5H357.4zM360.8 163H364.3V168H360.8zM364.3 160.5H367.8V165.5H364.3zM367.7 160.5H371.2V168H367.7zM371.2 178H374.7V183H371.2zM374.6 180.5H378.1V188H374.6zM378.1 193H381.6V198H378.1zM381.5 193H385V198H381.5zM385 190.5H388.5V195.5H385zM388.4 185.5H391.9V193H388.4zM391.9 175.5H395.4V183H391.9zM395.3 188H398.8V195.5H395.3zM405.7 198H409.2V203H405.7zM409.1 198H412.6V203H409.1zM412.6 200.5H416.1V208H412.6zM416 193H419.6V198H416zM419.5 198H423V203H419.5zM423 198H426.5V205.5H423zM426.4 188H429.9V195.5H426.4zM429.9 183H433.4V190.5H429.9zM433.3 183H436.8V188H433.3zM440.2 180.5H443.7V188H440.2zM450.6 195.5H454.1V203H450.6zM454 193H457.5V200.5H454zM457.5 200.5H461V205.5H457.5zM460.9 208H464.4V213H460.9zM467.8 188H471.3V193H467.8zM471.3 188H474.8V193H471.3zM474.7 178H478.2V185.5H474.7zM478.2 183H481.7V188H478.2zM481.6 185.5H485.1V193H481.6zM485.1 185.5H488.6V190.5H485.1zM488.5 180.5H492V188H488.5zM492 180.5H495.5V185.5H492zM495.4 185.5H498.9V190.5H495.4zM498.9 195.5H502.4V203H498.9zM502.3 195.5H505.8V203H502.3zM505.8 203H509.3V208H505.8zM509.2 198H512.7V205.5H509.2zM512.7 190.5H516.2V195.5H512.7zM516.1 188H519.6V195.5H516.1zM523 165.5H526.5V173H523zM526.5 173H530V178H526.5zM529.9 165.5H533.4V173H529.9zM533.4 170.5H536.9V178H533.4zM540.3 170.5H543.8V178H540.3zM543.7 168H547.2V173H543.7zM547.2 173H550.7V178H547.2zM550.6 168H554.1V175.5H550.6z"/><path fill="#bfff40" d="M108.9 36.5H112.4V38.5H108.9zM119.3 36.5H122.8V38.5H119.3zM133.1 68.5H136.6V70.5H133.1zM136.5 38.5H140V40.5H136.5zM253.9 52.5H257.4V54.5H253.9zM257.3 92.5H260.8V98.5H257.3zM260.8 178H264.3V183H260.8zM264.2 185.5H267.7V190.5H264.2zM267.7 178H271.2V185.5H267.7zM271.1 178H274.6V185.5H271.1zM274.6 74.5H278.1V80.5H274.6zM284.9 188H288.4V195.5H284.9zM288.4 188H291.9V195.5H288.4zM291.8 188H295.3V195.5H291.8zM295.3 195.5H298.8V200.5H295.3zM298.7 200.5H302.2V205.5H298.7zM302.2 205.5H305.7V210.5H302.2zM309.1 188H312.6V195.5H309.1zM312.5 178H316V185.5H312.5zM316 163H319.5V170.5H316zM319.4 153H322.9V160.5H319.4zM322.9 150.5H326.4V158H322.9zM326.3 143H329.8V148H326.3zM329.8 135.5H333.3V140.5H329.8zM336.7 178H340.2V185.5H336.7zM340.1 183H343.6V190.5H340.1zM343.6 180.5H347.1V185.5H343.6zM347 178H350.5V185.5H347zM350.5 178H354V183H350.5zM353.9 178H357.4V185.5H353.9zM357.4 168H360.9V175.5H357.4zM360.8 155.5H364.3V163H360.8zM364.3 153H367.8V160.5H364.3zM367.7 153H371.2V160.5H367.7zM371.2 170.5H374.7V178H371.2zM374.6 175.5H378.1V180.5H374.6zM378.1 185.5H381.6V193H378.1zM381.5 185.5H385V193H381.5zM385 183H388.5V190.5H385zM388.4 180.5H391.9V185.5H388.4zM391.9 170.5H395.4V175.5H391.9zM395.3 183H398.8V188H395.3zM405.7 190.5H409.2V198H405.7zM409.1 190.5H412.6V198H409.1zM412.6 195.5H416.1V200.5H412.6zM416 185.5H419.6V193H416zM419.5 190.5H423V198H419.5zM423 193H426.5V198H423zM426.4 183H429.9V188H426.4zM429.9 178H433.4V183H429.9zM433.3 175.5H436.8V183H433.3zM440.2 175.5H443.7V180.5H440.2zM450.6 190.5H454.1V195.5H450.6zM454 188H457.5V193H454zM457.5 193H461V200.5H457.5zM460.9 200.5H464.4V208H460.9zM467.8 180.5H471.3V188H467.8zM471.3 180.5H474.8V188H471.3zM474.7 173H478.2V178H474.7zM478.2 175.5H481.7V183H478.2zM481.6 178H485.1V185.5H481.6zM485.1 178H488.6V185.5H485.1zM488.5 175.5H492V180.5H488.5zM492 173H495.5V180.5H492zM495.4 178H498.9V185.5H495.4zM498.9 188H502.4V195.5H498.9zM502.3 190.5H505.8V195.5H502.3zM505.8 198H509.3V203H505.8zM509.2 190.5H512.7V198H509.2zM512.7 183H516.2V190.5H512.7zM516.1 183H519.6V188H516.1zM523 158H526.5V165.5H523zM526.5 165.5H530V173H526.5zM529.9 160.5H533.4V165.5H529.9zM533.4 163H536.9V170.5H533.4zM540.3 163H543.8V170.5H540.3zM543.7 160.5H547.2V168H543.7zM547.2 165.5H550.7V173H547.2zM550.6 163H554.1V168H550.6z"/><path fill="#cfff30" d="M119.3 38.5H122.8V40.5H119.3zM136.5 40.5H140V42.5H136.5zM253.9 50.5H257.4V52.5H253.9zM257.3 86.5H260.8V92.5H257.3zM260.8 170.5H264.3V178H260.8zM264.2 178H267.7V185.5H264.2zM267.7 170.5H271.2V178H267.7zM271.1 170.5H274.6V178H271.1zM274.6 72.5H278.1V74.5H274.6zM278 64.5H281.5V66.5H278zM284.9 183H288.4V188H284.9zM288.4 180.5H291.9V188H288.4zM291.8 183H295.3V188H291.8zM295.3 188H298.8V195.5H295.3zM298.7 193H302.2V200.5H298.7zM302.2 198H305.7V205.5H302.2zM309.1 183H312.6V188H309.1zM312.5 173H316V178H312.5zM316 155.5H319.5V163H316zM319.4 145.5H322.9V153H319.4zM322.9 145.5H326.4V150.5H322.9zM326.3 135.5H329.8V143H326.3zM329.8 128H333.3V135.5H329.8zM336.7 173H340.2V178H336.7zM340.1 175.5H343.6V183H340.1zM343.6 173H347.1V180.5H343.6zM347 173H350.5V178H347zM350.5 170.5H354V178H350.5zM353.9 173H357.4V178H353.9zM357.4 163H360.9V168H357.4zM360.8 150.5H364.3V155.5H360.8zM364.3 148H367.8V153H364.3zM367.7 148H371.2V153H367.7zM371.2 163H374.7V170.5H371.2zM374.6 168H378.1V175.5H374.6zM378.1 180.5H381.6V185.5H378.1zM381.5 180.5H385V185.5H381.5zM385 175.5H388.5V183H385zM388.4 173H391.9V180.5H388.4zM391.9 163H395.4V170.5H391.9zM395.3 178H398.8V183H395.3zM405.7 183H409.2V190.5H405.7zM409.1 185.5H412.6V190.5H409.1zM412.6 188H416.1V195.5H412.6zM416 180.5H419.6V185.5H416zM419.5 185.5H423V190.5H419.5zM423 185.5H426.5V193H423zM426.4 175.5H429.9V183H426.4zM429.9 170.5H433.4V178H429.9zM433.3 168H436.8V175.5H433.3zM440.2 168H443.7V175.5H440.2zM450.6 183H454.1V190.5H450.6zM454 180.5H457.5V188H454zM457.5 185.5H461V193H457.5zM460.9 193H464.4V200.5H460.9zM467.8 175.5H471.3V180.5H467.8zM471.3 175.5H474.8V180.5H471.3zM474.7 165.5H478.2V173H474.7zM478.2 170.5H481.7V175.5H478.2zM481.6 173H485.1V178H481.6zM485.1 170.5H488.6V178H485.1zM488.5 168H492V175.5H488.5zM492 168H495.5V173H492zM495.4 173H498.9V178H495.4zM498.9 183H502.4V188H498.9zM502.3 183H505.8V190.5H502.3zM505.8 190.5H509.3V198H505.8zM509.2 183H512.7V190.5H509.2zM512.7 178H516.2V183H512.7zM516.1 175.5H519.6V183H516.1zM523 153H526.5V158H523zM526.5 158H530V165.5H526.5zM529.9 153H533.4V160.5H529.9zM533.4 155.5H536.9V163H533.4zM540.3 158H543.8V163H540.3zM543.7 155.5H547.2V160.5H543.7zM547.2 158H550.7V165.5H547.2zM550.6 155.5H554.1V163H550.6z"/><path fill="#dfff20" d="M253.9 48.5H257.4V50.5H253.9zM257.3 78.5H260.8V86.5H257.3zM260.8 163H264.3V170.5H260.8zM264.2 170.5H267.7V178H264.2zM267.7 165.5H271.2V170.5H267.7zM271.1 165.5H274.6V170.5H271.1zM274.6 70.5H278.1V72.5H274.6zM284.9 175.5H288.4V183H284.9zM288.4 175.5H291.9V180.5H288.4zM291.8 175.5H295.3V183H291.8zM295.3 180.5H298.8V188H295.3zM298.7 185.5H302.2V193H298.7zM302.2 190.5H305.7V198H302.2zM309.1 175.5H312.6V183H309.1zM312.5 170.5H316V173H312.5zM316 150.5H319.5V155.5H316zM319.4 140.5H322.9V145.5H319.4zM322.9 138H326.4V145.5H322.9zM326.3 130.5H329.8V135.5H326.3zM329.8 123H333.3V128H329.8zM336.7 165.5H340.2V173H336.7zM340.1 168H343.6V175.5H340.1zM343.6 168H347.1V173H343.6zM347 165.5H350.5V173H347zM350.5 163H354V170.5H350.5zM353.9 165.5H357.4V173H353.9zM357.4 155.5H360.9V163H357.4zM360.8 143H364.3V150.5H360.8zM364.3 140.5H367.8V148H364.3zM367.7 140.5H371.2V148H367.7zM371.2 155.5H374.7V163H371.2zM374.6 160.5H378.1V168H374.6zM378.1 173H381.6V180.5H378.1zM381.5 173H385V180.5H381.5zM385 170.5H388.5V175.5H385zM388.4 165.5H391.9V173H388.4zM391.9 155.5H395.4V163H391.9zM395.3 170.5H398.8V178H395.3zM405.7 178H409.2V183H405.7zM409.1 178H412.6V185.5H409.1zM412.6 180.5H416.1V188H412.6zM416 173H419.6V180.5H416zM419.5 178H423V185.5H419.5zM423 180.5H426.5V185.5H423zM426.4 168H429.9V175.5H426.4zM429.9 163H433.4V170.5H429.9zM433.3 163H436.8V168H433.3zM440.2 160.5H443.7V168H440.2zM450.6 175.5H454.1V183H450.6zM454 175.5H457.5V180.5H454zM457.5 180.5H461V185.5H457.5zM460.9 185.5H464.4V193H460.9zM467.8 168H471.3V175.5H467.8zM471.3 168H474.8V175.5H471.3zM474.7 160.5H478.2V165.5H474.7zM478.2 163H481.7V170.5H478.2zM481.6 165.5H485.1V173H481.6zM485.1 165.5H488.6V170.5H485.1zM488.5 160.5H492V168H488.5zM492 160.5H495.5V168H492zM495.4 165.5H498.9V173H495.4zM498.9 175.5H502.4V183H498.9zM502.3 178H505.8V183H502.3zM505.8 185.5H509.3V190.5H505.8zM509.2 178H512.7V183H509.2zM512.7 170.5H516.2V178H512.7zM516.1 170.5H519.6V175.5H516.1zM523 145.5H526.5V153H523zM526.5 153H530V158H526.5zM529.9 145.5H533.4V153H529.9zM533.4 150.5H536.9V155.5H533.4zM540.3 150.5H543.8V158H540.3zM543.7 148H547.2V155.5H543.7zM547.2 153H550.7V158H547.2zM550.6 150.5H554.1V155.5H550.6z"/><path fill="#efff10" d="M126.2 38.5H129.7V40.5H126.2zM129.6 36.5H133.1V40.5H129.6zM253.9 46.5H257.4V48.5H253.9zM257.3 72.5H260.8V78.5H257.3zM260.8 158H264.3V163H260.8zM264.2 165.5H267.7V170.5H264.2zM267.7 158H271.2V165.5H267.7zM271.1 158H274.6V165.5H271.1zM274.6 68.5H278.1V70.5H274.6zM278 62.5H281.5V64.5H278zM284.9 168H288.4V175.5H284.9zM288.4 170.5H291.9V175.5H288.4zM291.8 168H295.3V175.5H291.8zM295.3 175.5H298.8V180.5H295.3zM298.7 178H302.2V185.5H298.7zM302.2 185.5H305.7V190.5H302.2zM309.1 168H312.6V175.5H309.1zM316 143H319.5V150.5H316zM319.4 133H322.9V140.5H319.4zM322.9 133H326.4V138H322.9zM326.3 123H329.8V130.5H326.3zM329.8 114.5H333.3V123H329.8zM336.7 160.5H340.2V165.5H336.7zM340.1 163H343.6V168H340.1zM343.6 160.5H347.1V168H343.6zM347 158H350.5V165.5H347zM350.5 158H354V163H350.5zM353.9 160.5H357.4V165.5H353.9zM357.4 148H360.9V155.5H357.4zM360.8 135.5H364.3V143H360.8zM364.3 135.5H367.8V140.5H364.3zM367.7 135.5H371.2V140.5H367.7zM371.2 150.5H374.7V155.5H371.2zM374.6 155.5H378.1V160.5H374.6zM378.1 165.5H381.6V173H378.1zM381.5 168H385V173H381.5zM385 163H388.5V170.5H385zM388.4 158H391.9V165.5H388.4zM391.9 150.5H395.4V155.5H391.9zM395.3 165.5H398.8V170.5H395.3zM405.7 170.5H409.2V178H405.7zM409.1 170.5H412.6V178H409.1zM412.6 175.5H416.1V180.5H412.6zM416 165.5H419.6V173H416zM419.5 173H423V178H419.5zM423 173H426.5V180.5H423zM426.4 163H429.9V168H426.4zM429.9 158H433.4V163H429.9zM433.3 155.5H436.8V163H433.3zM440.2 153H443.7V160.5H440.2zM450.6 168H454.1V175.5H450.6zM454 168H457.5V175.5H454zM457.5 173H461V180.5H457.5zM460.9 178H464.4V185.5H460.9zM467.8 160.5H471.3V168H467.8zM471.3 163H474.8V168H471.3zM474.7 153H478.2V160.5H474.7zM478.2 155.5H481.7V163H478.2zM481.6 158H485.1V165.5H481.6zM485.1 158H488.6V165.5H485.1zM488.5 155.5H492V160.5H488.5zM492 153H495.5V160.5H492zM495.4 160.5H498.9V165.5H495.4zM498.9 170.5H502.4V175.5H498.9zM502.3 170.5H505.8V178H502.3zM505.8 178H509.3V185.5H505.8zM509.2 170.5H512.7V178H509.2zM512.7 163H516.2V170.5H512.7zM516.1 163H519.6V170.5H516.1zM523 140.5H526.5V145.5H523zM526.5 148H530V153H526.5zM529.9 140.5H533.4V145.5H529.9zM533.4 143H536.9V150.5H533.4zM540.3 143H543.8V150.5H540.3zM543.7 143H547.2V148H543.7zM547.2 148H550.7V153H547.2zM550.6 143H554.1V150.5H550.6z"/><path fill="#ffff00" d="M122.7 40.5H126.2V42.5H122.7zM253.9 44.5H257.4V46.5H253.9zM257.3 70.5H260.8V72.5H257.3zM260.8 138H264.3V158H260.8zM264.2 143H267.7V165.5H264.2zM267.7 138H271.2V158H267.7zM271.1 138H274.6V158H271.1zM274.6 66.5H278.1V68.5H274.6zM284.9 148H288.4V168H284.9zM288.4 148H291.9V170.5H288.4zM291.8 148H295.3V168H291.8zM295.3 153H298.8V175.5H295.3zM298.7 158H302.2V178H298.7zM302.2 160.5H305.7V185.5H302.2zM309.1 148H312.6V168H309.1zM316 125.5H319.5V143H316zM319.4 116.5H322.9V133H319.4zM322.9 114.5H326.4V133H322.9zM326.3 108.5H329.8V123H326.3zM329.8 102.5H333.3V114.5H329.8zM336.7 140.5H340.2V160.5H336.7zM340.1 143H343.6V163H340.1zM343.6 140.5H347.1V160.5H343.6zM347 138H350.5V158H347zM350.5 138H354V158H350.5zM353.9 138H357.4V160.5H353.9zM357.4 130.5H360.9V148H357.4zM360.8 118.5H364.3V135.5H360.8zM364.3 116.5H367.8V135.5H364.3zM367.7 116.5H371.2V135.5H367.7zM371.2 130.5H374.7V150.5H371.2zM374.6 135.5H378.1V155.5H374.6zM378.1 145.5H381.6V165.5H378.1zM381.5 145.5H385V168H381.5zM385 143H388.5V163H385zM388.4 140.5H391.9V158H388.4zM391.9 130.5H395.4V150.5H391.9zM395.3 143H398.8V165.5H395.3zM405.7 148H409.2V170.5H405.7zM409.1 150.5H412.6V170.5H409.1zM412.6 153H416.1V175.5H412.6zM416 145.5H419.6V165.5H416zM419.5 150.5H423V173H419.5zM423 150.5H426.5V173H423zM426.4 140.5H429.9V163H426.4zM429.9 138H433.4V158H429.9zM433.3 135.5H436.8V155.5H433.3zM440.2 135.5H443.7V153H440.2zM450.6 148H454.1V168H450.6zM454 148H457.5V168H454zM457.5 153H461V173H457.5zM460.9 158H464.4V178H460.9zM467.8 140.5H471.3V160.5H467.8zM471.3 143H474.8V163H471.3zM474.7 133H478.2V153H474.7zM478.2 135.5H481.7V155.5H478.2zM481.6 140.5H485.1V158H481.6zM485.1 138H488.6V158H485.1zM488.5 135.5H492V155.5H488.5zM492 133H495.5V153H492zM495.4 140.5H498.9V160.5H495.4zM498.9 148H502.4V170.5H498.9zM502.3 148H505.8V170.5H502.3zM505.8 155.5H509.3V178H505.8zM509.2 150.5H512.7V170.5H509.2zM512.7 143H516.2V163H512.7zM516.1 143H519.6V163H516.1zM523 123H526.5V140.5H523zM526.5 128H530V148H526.5zM529.9 123H533.4V140.5H529.9zM533.4 125.5H536.9V143H533.4zM540.3 125.5H543.8V143H540.3zM543.7 123H547.2V143H543.7zM547.2 128H550.7V148H547.2zM550.6 125.5H554.1V143H550.6z"/><path fill="#ffef00" d="M115.8 36.5H119.3V38.5H115.8zM126.2 36.5H129.7V38.5H126.2zM136.5 36.5H140V38.5H136.5zM253.9 42.5H257.4V44.5H253.9zM257.3 68.5H260.8V70.5H257.3zM260.8 116.5H264.3V138H260.8zM264.2 123H267.7V143H264.2zM267.7 118.5H271.2V138H267.7zM271.1 118.5H274.6V138H271.1zM278 60.5H281.5V62.5H278zM284.9 128H288.4V148H284.9zM288.4 125.5H291.9V148H288.4zM291.8 125.5H295.3V148H291.8zM295.3 130.5H298.8V153H295.3zM298.7 135.5H302.2V158H298.7zM302.2 138H305.7V160.5H302.2zM309.1 128H312.6V148H309.1zM316 110.5H319.5V125.5H316zM319.4 100.5H322.9V116.5H319.4zM322.9 98.5H326.4V114.5H322.9zM326.3 92.5H329.8V108.5H326.3zM329.8 88.5H333.3V102.5H329.8zM336.7 118.5H340.2V140.5H336.7zM340.1 123H343.6V143H340.1zM343.6 120.5H347.1V140.5H343.6zM347 118.5H350.5V138H347zM350.5 118.5H354V138H350.5zM353.9 118.5H357.4V138H353.9zM357.4 110.5H360.9V130.5H357.4zM360.8 100.5H364.3V118.5H360.8zM364.3 98.5H367.8V116.5H364.3zM367.7 98.5H371.2V116.5H367.7zM371.2 112.5H374.7V130.5H371.2zM374.6 114.5H378.1V135.5H374.6zM378.1 125.5H381.6V145.5H378.1zM381.5 125.5H385V145.5H381.5zM385 123H388.5V143H385zM388.4 118.5H391.9V140.5H388.4zM391.9 112.5H395.4V130.5H391.9zM395.3 123H398.8V143H395.3zM405.7 128H409.2V148H405.7zM409.1 128H412.6V150.5H409.1zM412.6 130.5H416.1V153H412.6zM416 125.5H419.6V145.5H416zM419.5 128H423V150.5H419.5zM423 130.5H426.5V150.5H423zM426.4 120.5H429.9V140.5H426.4zM429.9 118.5H433.4V138H429.9zM433.3 116.5H436.8V135.5H433.3zM440.2 114.5H443.7V135.5H440.2zM450.6 128H454.1V148H450.6zM454 125.5H457.5V148H454zM457.5 130.5H461V153H457.5zM460.9 135.5H464.4V158H460.9zM467.8 120.5H471.3V140.5H467.8zM471.3 120.5H474.8V143H471.3zM474.7 114.5H478.2V133H474.7zM478.2 116.5H481.7V135.5H478.2zM481.6 118.5H485.1V140.5H481.6zM485.1 118.5H488.6V138H485.1zM488.5 114.5H492V135.5H488.5zM492 114.5H495.5V133H492zM495.4 118.5H498.9V140.5H495.4zM498.9 128H502.4V148H498.9zM502.3 128H505.8V148H502.3zM505.8 133H509.3V155.5H505.8zM509.2 128H512.7V150.5H509.2zM512.7 123H516.2V143H512.7zM516.1 123H519.6V143H516.1zM523 104.5H526.5V123H523zM526.5 108.5H530V128H526.5zM529.9 104.5H533.4V123H529.9zM533.4 106.5H536.9V125.5H533.4zM540.3 106.5H543.8V125.5H540.3zM543.7 104.5H547.2V123H543.7zM547.2 108.5H550.7V128H547.2zM550.6 106.5H554.1V125.5H550.6z"/><path fill="#ffdf00" d="M253.9 40.5H257.4V42.5H253.9zM257.3 66.5H260.8V68.5H257.3zM260.8 100.5H264.3V116.5H260.8zM264.2 106.5H267.7V123H264.2zM267.7 102.5H271.2V118.5H267.7zM271.1 102.5H274.6V118.5H271.1zM274.6 64.5H278.1V66.5H274.6zM284.9 116.5H288.4V128H284.9zM288.4 116.5H291.9V125.5H288.4zM291.8 114.5H295.3V125.5H291.8zM295.3 120.5H298.8V130.5H295.3zM298.7 125.5H302.2V135.5H298.7zM302.2 128H305.7V138H302.2zM309.1 102.5H312.6V128H309.1zM316 86.5H319.5V110.5H316zM319.4 76.5H322.9V100.5H319.4zM322.9 76.5H326.4V98.5H322.9zM326.3 74.5H329.8V92.5H326.3zM329.8 70.5H333.3V88.5H329.8zM336.7 100.5H340.2V118.5H336.7zM340.1 104.5H343.6V123H340.1zM343.6 102.5H347.1V120.5H343.6zM347 100.5H350.5V118.5H347zM350.5 100.5H354V118.5H350.5zM353.9 100.5H357.4V118.5H353.9zM357.4 94.5H360.9V110.5H357.4zM360.8 86.5H364.3V100.5H360.8zM364.3 84.5H367.8V98.5H364.3zM367.7 84.5H371.2V98.5H367.7zM371.2 94.5H374.7V112.5H371.2zM374.6 98.5H378.1V114.5H374.6zM378.1 106.5H381.6V125.5H378.1zM381.5 104.5H385V125.5H381.5zM385 102.5H388.5V123H385zM388.4 100.5H391.9V118.5H388.4zM391.9 96.5H395.4V112.5H391.9zM395.3 102.5H398.8V123H395.3zM405.7 112.5H409.2V128H405.7zM409.1 112.5H412.6V128H409.1zM412.6 116.5H416.1V130.5H412.6zM416 110.5H419.6V125.5H416zM419.5 114.5H423V128H419.5zM423 114.5H426.5V130.5H423zM426.4 108.5H429.9V120.5H426.4zM429.9 106.5H433.4V118.5H429.9zM433.3 104.5H436.8V116.5H433.3zM440.2 102.5H443.7V114.5H440.2zM450.6 108.5H454.1V128H450.6zM454 106.5H457.5V125.5H454zM457.5 110.5H461V130.5H457.5zM460.9 114.5H464.4V135.5H460.9zM467.8 98.5H471.3V120.5H467.8zM471.3 96.5H474.8V120.5H471.3zM474.7 92.5H478.2V114.5H474.7zM478.2 96.5H481.7V116.5H478.2zM481.6 100.5H485.1V118.5H481.6zM485.1 102.5H488.6V118.5H485.1zM488.5 102.5H492V114.5H488.5zM492 104.5H495.5V114.5H492zM495.4 106.5H498.9V118.5H495.4zM498.9 110.5H502.4V128H498.9zM502.3 110.5H505.8V128H502.3zM505.8 114.5H509.3V133H505.8zM509.2 110.5H512.7V128H509.2zM512.7 104.5H516.2V123H512.7zM516.1 104.5H519.6V123H516.1zM523 86.5H526.5V104.5H523zM526.5 90.5H530V108.5H526.5zM529.9 86.5H533.4V104.5H529.9zM533.4 88.5H536.9V106.5H533.4zM540.3 90.5H543.8V106.5H540.3zM543.7 90.5H547.2V104.5H543.7zM547.2 96.5H550.7V108.5H547.2zM550.6 94.5H554.1V106.5H550.6z"/><path fill="#ffcf00" d="M122.7 36.5H126.2V38.5H122.7zM253.9 38.5H257.4V40.5H253.9zM257.3 64.5H260.8V66.5H257.3zM260.8 84.5H264.3V100.5H260.8zM264.2 92.5H267.7V106.5H264.2zM267.7 86.5H271.2V102.5H267.7zM271.1 88.5H274.6V102.5H271.1zM274.6 62.5H278.1V64.5H274.6zM284.9 108.5H288.4V116.5H284.9zM288.4 110.5H291.9V116.5H288.4zM291.8 108.5H295.3V114.5H291.8zM295.3 114.5H298.8V120.5H295.3zM298.7 118.5H302.2V125.5H298.7zM302.2 120.5H305.7V128H302.2zM309.1 70.5H312.6V102.5H309.1zM316 48.5H319.5V86.5H316zM319.4 36.5H322.9V76.5H319.4zM322.9 36.5H326.4V76.5H322.9zM326.3 42.5H329.8V74.5H326.3zM329.8 44.5H333.3V70.5H329.8zM336.7 84.5H340.2V100.5H336.7zM340.1 86.5H343.6V104.5H340.1zM343.6 86.5H347.1V102.5H343.6zM347 82.5H350.5V100.5H347zM350.5 80.5H354V100.5H350.5zM353.9 84.5H357.4V100.5H353.9zM357.4 78.5H360.9V94.5H357.4zM360.8 72.5H364.3V86.5H360.8zM364.3 70.5H367.8V84.5H364.3zM367.7 72.5H371.2V84.5H367.7zM371.2 78.5H374.7V94.5H371.2zM374.6 82.5H378.1V98.5H374.6zM378.1 88.5H381.6V106.5H378.1zM381.5 86.5H385V104.5H381.5zM385 84.5H388.5V102.5H385zM388.4 82.5H391.9V100.5H388.4zM391.9 80.5H395.4V96.5H391.9zM395.3 84.5H398.8V102.5H395.3zM405.7 98.5H409.2V112.5H405.7zM409.1 102.5H412.6V112.5H409.1zM412.6 102.5H416.1V116.5H412.6zM416 98.5H419.6V110.5H416zM419.5 100.5H423V114.5H419.5zM423 104.5H426.5V114.5H423zM426.4 100.5H429.9V108.5H426.4zM429.9 96.5H433.4V106.5H429.9zM433.3 98.5H436.8V104.5H433.3zM440.2 92.5H443.7V102.5H440.2zM450.6 90.5H454.1V108.5H450.6zM454 88.5H457.5V106.5H454zM457.5 90.5H461V110.5H457.5zM460.9 92.5H464.4V114.5H460.9zM467.8 74.5H471.3V98.5H467.8zM471.3 72.5H474.8V96.5H471.3zM474.7 70.5H478.2V92.5H474.7zM478.2 76.5H481.7V96.5H478.2zM481.6 84.5H485.1V100.5H481.6zM485.1 86.5H488.6V102.5H485.1zM488.5 94.5H492V102.5H488.5zM492 96.5H495.5V104.5H492zM495.4 98.5H498.9V106.5H495.4zM498.9 96.5H502.4V110.5H498.9zM502.3 94.5H505.8V110.5H502.3zM505.8 96.5H509.3V114.5H505.8zM509.2 94.5H512.7V110.5H509.2zM512.7 86.5H516.2V104.5H512.7zM516.1 86.5H519.6V104.5H516.1zM523 68.5H526.5V86.5H523zM526.5 72.5H530V90.5H526.5zM529.9 70.5H533.4V86.5H529.9zM533.4 72.5H536.9V88.5H533.4zM540.3 74.5H543.8V90.5H540.3zM543.7 78.5H547.2V90.5H543.7zM547.2 86.5H550.7V96.5H547.2zM550.6 86.5H554.1V94.5H550.6z"/><path fill="#ffbf00" d="M253.9 36.5H257.4V38.5H253.9zM257.3 60.5H260.8V64.5H257.3zM260.8 74.5H264.3V84.5H260.8zM264.2 82.5H267.7V92.5H264.2zM267.7 76.5H271.2V86.5H267.7zM271.1 78.5H274.6V88.5H271.1zM278 58.5H281.5V60.5H278zM284.9 98.5H288.4V108.5H284.9zM288.4 100.5H291.9V110.5H288.4zM291.8 98.5H295.3V108.5H291.8zM295.3 104.5H298.8V114.5H295.3zM298.7 112.5H302.2V118.5H298.7zM302.2 110.5H305.7V120.5H302.2zM309.1 36.5H312.6V70.5H309.1zM316 36.5H319.5V48.5H316zM326.3 36.5H329.8V42.5H326.3zM329.8 36.5H333.3V44.5H329.8zM336.7 72.5H340.2V84.5H336.7zM340.1 74.5H343.6V86.5H340.1zM343.6 74.5H347.1V86.5H343.6zM347 70.5H350.5V82.5H347zM350.5 70.5H354V80.5H350.5zM353.9 74.5H357.4V84.5H353.9zM357.4 68.5H360.9V78.5H357.4zM360.8 64.5H364.3V72.5H360.8zM364.3 62.5H367.8V70.5H364.3zM367.7 64.5H371.2V72.5H367.7zM371.2 68.5H374.7V78.5H371.2zM374.6 70.5H378.1V82.5H374.6zM378.1 76.5H381.6V88.5H378.1zM381.5 74.5H385V86.5H381.5zM385 72.5H388.5V84.5H385zM388.4 72.5H391.9V82.5H388.4zM391.9 70.5H395.4V80.5H391.9zM395.3 72.5H398.8V84.5H395.3zM405.7 88.5H409.2V98.5H405.7zM409.1 92.5H412.6V102.5H409.1zM412.6 94.5H416.1V102.5H412.6zM416 90.5H419.6V98.5H416zM419.5 92.5H423V100.5H419.5zM423 94.5H426.5V104.5H423zM426.4 90.5H429.9V100.5H426.4zM429.9 88.5H433.4V96.5H429.9zM433.3 90.5H436.8V98.5H433.3zM440.2 82.5H443.7V92.5H440.2zM450.6 78.5H454.1V90.5H450.6zM454 76.5H457.5V88.5H454zM457.5 76.5H461V90.5H457.5zM460.9 78.5H464.4V92.5H460.9zM467.8 58.5H471.3V74.5H467.8zM471.3 56.5H474.8V72.5H471.3zM474.7 54.5H478.2V70.5H474.7zM478.2 62.5H481.7V76.5H478.2zM481.6 72.5H485.1V84.5H481.6zM485.1 76.5H488.6V86.5H485.1zM488.5 86.5H492V94.5H488.5zM492 90.5H495.5V96.5H492zM495.4 90.5H498.9V98.5H495.4zM498.9 86.5H502.4V96.5H498.9zM502.3 82.5H505.8V94.5H502.3zM505.8 84.5H509.3V96.5H505.8zM509.2 80.5H512.7V94.5H509.2zM512.7 72.5H516.2V86.5H512.7zM516.1 74.5H519.6V86.5H516.1zM523 58.5H526.5V68.5H523zM526.5 60.5H530V72.5H526.5zM529.9 58.5H533.4V70.5H529.9zM533.4 60.5H536.9V72.5H533.4zM540.3 62.5H543.8V74.5H540.3zM543.7 66.5H547.2V78.5H543.7zM547.2 76.5H550.7V86.5H547.2zM550.6 78.5H554.1V86.5H550.6z"/><path fill="#ffaf00" d="M257.3 58.5H260.8V60.5H257.3zM260.8 72.5H264.3V74.5H260.8zM264.2 78.5H267.7V82.5H264.2zM267.7 70.5H271.2V76.5H267.7zM271.1 74.5H274.6V78.5H271.1zM274.6 60.5H278.1V62.5H274.6zM284.9 82.5H288.4V98.5H284.9zM288.4 86.5H291.9V100.5H288.4zM291.8 84.5H295.3V98.5H291.8zM295.3 88.5H298.8V104.5H295.3zM298.7 100.5H302.2V112.5H298.7zM302.2 90.5H305.7V110.5H302.2zM336.7 68.5H340.2V72.5H336.7zM340.1 68.5H343.6V74.5H340.1zM343.6 70.5H347.1V74.5H343.6zM347 66.5H350.5V70.5H347zM350.5 68.5H354V70.5H350.5zM353.9 72.5H357.4V74.5H353.9zM357.4 66.5H360.9V68.5H357.4zM360.8 60.5H364.3V64.5H360.8zM364.3 60.5H367.8V62.5H364.3zM367.7 62.5H371.2V64.5H367.7zM371.2 64.5H374.7V68.5H371.2zM374.6 64.5H378.1V70.5H374.6zM378.1 68.5H381.6V76.5H378.1zM381.5 70.5H385V74.5H381.5zM385 68.5H388.5V72.5H385zM388.4 68.5H391.9V72.5H388.4zM391.9 64.5H395.4V70.5H391.9zM395.3 70.5H398.8V72.5H395.3zM405.7 84.5H409.2V88.5H405.7zM409.1 86.5H412.6V92.5H409.1zM412.6 88.5H416.1V94.5H412.6zM416 84.5H419.6V90.5H416zM419.5 86.5H423V92.5H419.5zM423 88.5H426.5V94.5H423zM426.4 82.5H429.9V90.5H426.4zM429.9 82.5H433.4V88.5H429.9zM433.3 82.5H436.8V90.5H433.3zM440.2 74.5H443.7V82.5H440.2zM450.6 72.5H454.1V78.5H450.6zM454 72.5H457.5V76.5H454zM457.5 72.5H461V76.5H457.5zM460.9 74.5H464.4V78.5H460.9zM467.8 56.5H471.3V58.5H467.8zM471.3 52.5H474.8V56.5H471.3zM474.7 52.5H478.2V54.5H474.7zM478.2 58.5H481.7V62.5H478.2zM481.6 66.5H485.1V72.5H481.6zM485.1 72.5H488.6V76.5H485.1zM488.5 78.5H492V86.5H488.5zM492 84.5H495.5V90.5H492zM495.4 82.5H498.9V90.5H495.4zM498.9 78.5H502.4V86.5H498.9zM502.3 74.5H505.8V82.5H502.3zM505.8 76.5H509.3V84.5H505.8zM509.2 72.5H512.7V80.5H509.2zM512.7 66.5H516.2V72.5H512.7zM516.1 66.5H519.6V74.5H516.1zM523 54.5H526.5V58.5H523zM526.5 56.5H530V60.5H526.5zM529.9 54.5H533.4V58.5H529.9zM533.4 56.5H536.9V60.5H533.4zM540.3 60.5H543.8V62.5H540.3zM543.7 60.5H547.2V66.5H543.7zM547.2 66.5H550.7V76.5H547.2zM550.6 68.5H554.1V78.5H550.6z"/><path fill="#ff9f00" d="M257.3 52.5H260.8V58.5H257.3zM260.8 70.5H264.3V72.5H260.8zM264.2 74.5H267.7V78.5H264.2zM267.7 66.5H271.2V70.5H267.7zM271.1 70.5H274.6V74.5H271.1zM278 56.5H281.5V58.5H278zM284.9 68.5H288.4V82.5H284.9zM288.4 72.5H291.9V86.5H288.4zM291.8 72.5H295.3V84.5H291.8zM295.3 70.5H298.8V88.5H295.3zM298.7 86.5H302.2V100.5H298.7zM302.2 36.5H305.7V90.5H302.2zM336.7 62.5H340.2V68.5H336.7zM340.1 64.5H343.6V68.5H340.1zM343.6 66.5H347.1V70.5H343.6zM347 62.5H350.5V66.5H347zM350.5 66.5H354V68.5H350.5zM353.9 70.5H357.4V72.5H353.9zM357.4 64.5H360.9V66.5H357.4zM360.8 58.5H364.3V60.5H360.8zM364.3 58.5H367.8V60.5H364.3zM367.7 58.5H371.2V62.5H367.7zM371.2 62.5H374.7V64.5H371.2zM374.6 60.5H378.1V64.5H374.6zM378.1 62.5H381.6V68.5H378.1zM381.5 66.5H385V70.5H381.5zM385 66.5H388.5V68.5H385zM388.4 66.5H391.9V68.5H388.4zM391.9 58.5H395.4V64.5H391.9zM395.3 68.5H398.8V70.5H395.3zM405.7 78.5H409.2V84.5H405.7zM409.1 80.5H412.6V86.5H409.1zM412.6 84.5H416.1V88.5H412.6zM416 80.5H419.6V84.5H416zM419.5 82.5H423V86.5H419.5zM423 82.5H426.5V88.5H423zM426.4 74.5H429.9V82.5H426.4zM429.9 76.5H433.4V82.5H429.9zM433.3 76.5H436.8V82.5H433.3zM440.2 64.5H443.7V74.5H440.2zM450.6 64.5H454.1V72.5H450.6zM454 68.5H457.5V72.5H454zM457.5 68.5H461V72.5H457.5zM460.9 68.5H464.4V74.5H460.9zM467.8 54.5H471.3V56.5H467.8zM471.3 48.5H474.8V52.5H471.3zM474.7 50.5H478.2V52.5H474.7zM478.2 54.5H481.7V58.5H478.2zM481.6 62.5H485.1V66.5H481.6zM485.1 68.5H488.6V72.5H485.1zM488.5 70.5H492V78.5H488.5zM492 80.5H495.5V84.5H492zM495.4 76.5H498.9V82.5H495.4zM498.9 70.5H502.4V78.5H498.9zM502.3 68.5H505.8V74.5H502.3zM505.8 70.5H509.3V76.5H505.8zM509.2 64.5H512.7V72.5H509.2zM512.7 62.5H516.2V66.5H512.7zM516.1 58.5H519.6V66.5H516.1zM523 52.5H526.5V54.5H523zM526.5 54.5H530V56.5H526.5zM529.9 52.5H533.4V54.5H529.9zM533.4 54.5H536.9V56.5H533.4zM540.3 58.5H543.8V60.5H540.3zM543.7 54.5H547.2V60.5H543.7zM547.2 58.5H550.7V66.5H547.2zM550.6 58.5H554.1V68.5H550.6z"/><path fill="#ff8f00" d="M257.3 48.5H260.8V52.5H257.3zM260.8 68.5H264.3V70.5H260.8zM264.2 72.5H267.7V74.5H264.2zM267.7 64.5H271.2V66.5H267.7zM271.1 68.5H274.6V70.5H271.1zM274.6 58.5H278.1V60.5H274.6zM284.9 60.5H288.4V68.5H284.9zM288.4 60.5H291.9V72.5H288.4zM291.8 58.5H295.3V72.5H291.8zM295.3 50.5H298.8V70.5H295.3zM298.7 48.5H302.2V86.5H298.7zM336.7 58.5H340.2V62.5H336.7zM340.1 60.5H343.6V64.5H340.1zM343.6 62.5H347.1V66.5H343.6zM347 60.5H350.5V62.5H347zM350.5 62.5H354V66.5H350.5zM353.9 68.5H357.4V70.5H353.9zM357.4 62.5H360.9V64.5H357.4zM364.3 56.5H367.8V58.5H364.3zM371.2 60.5H374.7V62.5H371.2zM374.6 58.5H378.1V60.5H374.6zM381.5 64.5H385V66.5H381.5zM385 64.5H388.5V66.5H385zM395.3 66.5H398.8V68.5H395.3zM405.7 72.5H409.2V78.5H405.7zM409.1 74.5H412.6V80.5H409.1zM412.6 78.5H416.1V84.5H412.6zM416 74.5H419.6V80.5H416zM419.5 74.5H423V82.5H419.5zM423 76.5H426.5V82.5H423zM426.4 68.5H429.9V74.5H426.4zM429.9 70.5H433.4V76.5H429.9zM433.3 68.5H436.8V76.5H433.3zM440.2 60.5H443.7V64.5H440.2zM450.6 52.5H454.1V64.5H450.6zM454 54.5H457.5V68.5H454zM457.5 56.5H461V68.5H457.5zM460.9 54.5H464.4V68.5H460.9zM467.8 50.5H471.3V54.5H467.8zM471.3 46.5H474.8V48.5H471.3zM481.6 60.5H485.1V62.5H481.6zM485.1 66.5H488.6V68.5H485.1zM488.5 68.5H492V70.5H488.5zM492 78.5H495.5V80.5H492zM502.3 66.5H505.8V68.5H502.3zM505.8 68.5H509.3V70.5H505.8zM509.2 62.5H512.7V64.5H509.2zM512.7 60.5H516.2V62.5H512.7zM523 50.5H526.5V52.5H523zM526.5 50.5H530V54.5H526.5zM529.9 48.5H533.4V52.5H529.9zM533.4 50.5H536.9V54.5H533.4zM540.3 52.5H543.8V58.5H540.3zM543.7 48.5H547.2V54.5H543.7zM547.2 52.5H550.7V58.5H547.2zM550.6 52.5H554.1V58.5H550.6z"/><path fill="#ff8000" d="M257.3 44.5H260.8V48.5H257.3zM260.8 66.5H264.3V68.5H260.8zM264.2 70.5H267.7V72.5H264.2zM267.7 62.5H271.2V64.5H267.7zM271.1 66.5H274.6V68.5H271.1zM284.9 50.5H288.4V60.5H284.9zM288.4 48.5H291.9V60.5H288.4zM291.8 44.5H295.3V58.5H291.8zM295.3 38.5H298.8V50.5H295.3zM298.7 36.5H302.2V48.5H298.7zM336.7 52.5H340.2V58.5H336.7zM340.1 56.5H343.6V60.5H340.1zM343.6 58.5H347.1V62.5H343.6zM347 58.5H350.5V60.5H347zM350.5 60.5H354V62.5H350.5zM353.9 66.5H357.4V68.5H353.9zM360.8 56.5H364.3V58.5H360.8zM367.7 56.5H371.2V58.5H367.7zM378.1 60.5H381.6V62.5H378.1zM388.4 64.5H391.9V66.5H388.4zM391.9 56.5H395.4V58.5H391.9zM395.3 64.5H398.8V66.5H395.3zM405.7 66.5H409.2V72.5H405.7zM409.1 68.5H412.6V74.5H409.1zM412.6 70.5H416.1V78.5H412.6zM416 68.5H419.6V74.5H416zM419.5 68.5H423V74.5H419.5zM423 68.5H426.5V76.5H423zM426.4 62.5H429.9V68.5H426.4zM429.9 64.5H433.4V70.5H429.9zM433.3 62.5H436.8V68.5H433.3zM440.2 54.5H443.7V60.5H440.2zM450.6 42.5H454.1V52.5H450.6zM454 42.5H457.5V54.5H454zM457.5 44.5H461V56.5H457.5zM460.9 42.5H464.4V54.5H460.9zM467.8 48.5H471.3V50.5H467.8zM474.7 48.5H478.2V50.5H474.7zM478.2 52.5H481.7V54.5H478.2zM485.1 64.5H488.6V66.5H485.1zM488.5 66.5H492V68.5H488.5zM492 76.5H495.5V78.5H492zM495.4 74.5H498.9V76.5H495.4zM498.9 68.5H502.4V70.5H498.9zM502.3 64.5H505.8V66.5H502.3zM505.8 66.5H509.3V68.5H505.8zM512.7 58.5H516.2V60.5H512.7zM516.1 56.5H519.6V58.5H516.1zM523 48.5H526.5V50.5H523zM526.5 48.5H530V50.5H526.5zM529.9 46.5H533.4V48.5H529.9zM533.4 48.5H536.9V50.5H533.4zM540.3 48.5H543.8V52.5H540.3zM543.7 44.5H547.2V48.5H543.7zM547.2 46.5H550.7V52.5H547.2zM550.6 48.5H554.1V52.5H550.6z"/><path fill="#ff7000" d="M257.3 36.5H260.8V44.5H257.3zM260.8 64.5H264.3V66.5H260.8zM264.2 66.5H267.7V70.5H264.2zM267.7 60.5H271.2V62.5H267.7zM271.1 64.5H274.6V66.5H271.1zM274.6 56.5H278.1V58.5H274.6zM278 54.5H281.5V56.5H278zM284.9 42.5H288.4V50.5H284.9zM288.4 40.5H291.9V48.5H288.4zM291.8 36.5H295.3V44.5H291.8zM295.3 36.5H298.8V38.5H295.3zM336.7 46.5H340.2V52.5H336.7zM340.1 52.5H343.6V56.5H340.1zM343.6 54.5H347.1V58.5H343.6zM347 56.5H350.5V58.5H347zM350.5 58.5H354V60.5H350.5zM353.9 64.5H357.4V66.5H353.9zM357.4 60.5H360.9V62.5H357.4zM371.2 58.5H374.7V60.5H371.2zM378.1 58.5H381.6V60.5H378.1zM381.5 62.5H385V64.5H381.5zM385 62.5H388.5V64.5H385zM388.4 62.5H391.9V64.5H388.4zM395.3 62.5H398.8V64.5H395.3zM405.7 60.5H409.2V66.5H405.7zM409.1 62.5H412.6V68.5H409.1zM412.6 64.5H416.1V70.5H412.6zM416 62.5H419.6V68.5H416zM419.5 62.5H423V68.5H419.5zM423 62.5H426.5V68.5H423zM426.4 56.5H429.9V62.5H426.4zM429.9 58.5H433.4V64.5H429.9zM433.3 54.5H436.8V62.5H433.3zM440.2 50.5H443.7V54.5H440.2zM450.6 38.5H454.1V42.5H450.6zM454 38.5H457.5V42.5H454zM457.5 38.5H461V44.5H457.5zM460.9 38.5H464.4V42.5H460.9zM467.8 46.5H471.3V48.5H467.8zM471.3 44.5H474.8V46.5H471.3zM474.7 46.5H478.2V48.5H474.7zM481.6 58.5H485.1V60.5H481.6zM492 74.5H495.5V76.5H492zM495.4 72.5H498.9V74.5H495.4zM498.9 66.5H502.4V68.5H498.9zM502.3 62.5H505.8V64.5H502.3zM505.8 64.5H509.3V66.5H505.8zM509.2 60.5H512.7V62.5H509.2zM512.7 56.5H516.2V58.5H512.7zM516.1 54.5H519.6V56.5H516.1zM526.5 46.5H530V48.5H526.5zM529.9 44.5H533.4V46.5H529.9zM533.4 46.5H536.9V48.5H533.4zM540.3 42.5H543.8V48.5H540.3zM543.7 40.5H547.2V44.5H543.7zM547.2 40.5H550.7V46.5H547.2zM550.6 42.5H554.1V48.5H550.6z"/><path fill="#ff6000" d="M260.8 62.5H264.3V64.5H260.8zM264.2 64.5H267.7V66.5H264.2zM271.1 62.5H274.6V64.5H271.1zM284.9 38.5H288.4V42.5H284.9zM288.4 36.5H291.9V40.5H288.4zM336.7 42.5H340.2V46.5H336.7zM340.1 48.5H343.6V52.5H340.1zM343.6 52.5H347.1V54.5H343.6zM347 54.5H350.5V56.5H347zM350.5 56.5H354V58.5H350.5zM353.9 62.5H357.4V64.5H353.9zM357.4 58.5H360.9V60.5H357.4zM360.8 54.5H364.3V56.5H360.8zM364.3 54.5H367.8V56.5H364.3zM374.6 56.5H378.1V58.5H374.6zM381.5 60.5H385V62.5H381.5zM385 60.5H388.5V62.5H385zM388.4 60.5H391.9V62.5H388.4zM391.9 54.5H395.4V56.5H391.9zM395.3 60.5H398.8V62.5H395.3zM405.7 56.5H409.2V60.5H405.7zM409.1 58.5H412.6V62.5H409.1zM412.6 58.5H416.1V64.5H412.6zM416 56.5H419.6V62.5H416zM419.5 56.5H423V62.5H419.5zM423 56.5H426.5V62.5H423zM426.4 50.5H429.9V56.5H426.4zM429.9 50.5H433.4V58.5H429.9zM433.3 48.5H436.8V54.5H433.3zM440.2 46.5H443.7V50.5H440.2zM450.6 36.5H454.1V38.5H450.6zM454 36.5H457.5V38.5H454zM457.5 36.5H461V38.5H457.5zM460.9 36.5H464.4V38.5H460.9zM467.8 44.5H471.3V46.5H467.8zM478.2 50.5H481.7V52.5H478.2zM481.6 56.5H485.1V58.5H481.6zM485.1 62.5H488.6V64.5H485.1zM488.5 64.5H492V66.5H488.5zM492 72.5H495.5V74.5H492zM495.4 70.5H498.9V72.5H495.4zM498.9 64.5H502.4V66.5H498.9zM505.8 62.5H509.3V64.5H505.8zM509.2 58.5H512.7V60.5H509.2zM512.7 54.5H516.2V56.5H512.7zM516.1 52.5H519.6V54.5H516.1zM523 46.5H526.5V48.5H523zM526.5 44.5H530V46.5H526.5zM529.9 42.5H533.4V44.5H529.9zM533.4 44.5H536.9V46.5H533.4zM540.3 38.5H543.8V42.5H540.3zM543.7 36.5H547.2V40.5H543.7zM547.2 38.5H550.7V40.5H547.2zM550.6 38.5H554.1V42.5H550.6z"/><path fill="#ff5000" d="M264.2 62.5H267.7V64.5H264.2zM267.7 58.5H271.2V60.5H267.7zM271.1 60.5H274.6V62.5H271.1zM274.6 54.5H278.1V56.5H274.6zM278 52.5H281.5V54.5H278zM284.9 36.5H288.4V38.5H284.9zM336.7 36.5H340.2V42.5H336.7zM340.1 44.5H343.6V48.5H340.1zM343.6 48.5H347.1V52.5H343.6zM347 52.5H350.5V54.5H347zM350.5 54.5H354V56.5H350.5zM353.9 60.5H357.4V62.5H353.9zM357.4 56.5H360.9V58.5H357.4zM367.7 54.5H371.2V56.5H367.7zM371.2 56.5H374.7V58.5H371.2zM378.1 56.5H381.6V58.5H378.1zM405.7 50.5H409.2V56.5H405.7zM409.1 52.5H412.6V58.5H409.1zM412.6 52.5H416.1V58.5H412.6zM416 52.5H419.6V56.5H416zM419.5 50.5H423V56.5H419.5zM423 50.5H426.5V56.5H423zM426.4 46.5H429.9V50.5H426.4zM429.9 46.5H433.4V50.5H429.9zM433.3 42.5H436.8V48.5H433.3zM440.2 42.5H443.7V46.5H440.2zM467.8 42.5H471.3V44.5H467.8zM471.3 42.5H474.8V44.5H471.3zM474.7 44.5H478.2V46.5H474.7zM481.6 54.5H485.1V56.5H481.6zM485.1 60.5H488.6V62.5H485.1zM488.5 62.5H492V64.5H488.5zM492 70.5H495.5V72.5H492zM495.4 68.5H498.9V70.5H495.4zM502.3 60.5H505.8V62.5H502.3zM505.8 60.5H509.3V62.5H505.8zM509.2 56.5H512.7V58.5H509.2zM512.7 52.5H516.2V54.5H512.7zM516.1 50.5H519.6V52.5H516.1zM523 44.5H526.5V46.5H523zM526.5 42.5H530V44.5H526.5zM529.9 40.5H533.4V42.5H529.9zM533.4 42.5H536.9V44.5H533.4zM540.3 36.5H543.8V38.5H540.3zM547.2 36.5H550.7V38.5H547.2zM550.6 36.5H554.1V38.5H550.6z"/><path fill="#ff4000" d="M260.8 60.5H264.3V62.5H260.8zM264.2 60.5H267.7V62.5H264.2zM267.7 56.5H271.2V58.5H267.7zM271.1 58.5H274.6V60.5H271.1zM340.1 38.5H343.6V44.5H340.1zM343.6 44.5H347.1V48.5H343.6zM347 50.5H350.5V52.5H347zM350.5 52.5H354V54.5H350.5zM353.9 58.5H357.4V60.5H353.9zM360.8 52.5H364.3V54.5H360.8zM364.3 52.5H367.8V54.5H364.3zM374.6 54.5H378.1V56.5H374.6zM381.5 58.5H385V60.5H381.5zM385 58.5H388.5V60.5H385zM388.4 58.5H391.9V60.5H388.4zM391.9 52.5H395.4V54.5H391.9zM395.3 58.5H398.8V60.5H395.3zM405.7 46.5H409.2V50.5H405.7zM409.1 48.5H412.6V52.5H409.1zM412.6 48.5H416.1V52.5H412.6zM416 46.5H419.6V52.5H416zM419.5 46.5H423V50.5H419.5zM423 46.5H426.5V50.5H423zM426.4 40.5H429.9V46.5H426.4zM429.9 40.5H433.4V46.5H429.9zM433.3 38.5H436.8V42.5H433.3zM440.2 36.5H443.7V42.5H440.2zM467.8 40.5H471.3V42.5H467.8zM474.7 42.5H478.2V44.5H474.7zM478.2 48.5H481.7V50.5H478.2zM485.1 58.5H488.6V60.5H485.1zM492 68.5H495.5V70.5H492zM495.4 66.5H498.9V68.5H495.4zM498.9 62.5H502.4V64.5H498.9zM502.3 58.5H505.8V60.5H502.3zM505.8 58.5H509.3V60.5H505.8zM509.2 54.5H512.7V56.5H509.2zM512.7 50.5H516.2V52.5H512.7zM523 42.5H526.5V44.5H523zM526.5 40.5H530V42.5H526.5zM529.9 38.5H533.4V40.5H529.9zM533.4 40.5H536.9V42.5H533.4z"/><path fill="#ff3000" d="M260.8 58.5H264.3V60.5H260.8zM264.2 58.5H267.7V60.5H264.2zM274.6 52.5H278.1V54.5H274.6zM340.1 36.5H343.6V38.5H340.1zM343.6 42.5H347.1V44.5H343.6zM347 48.5H350.5V50.5H347zM350.5 50.5H354V52.5H350.5zM353.9 56.5H357.4V58.5H353.9zM357.4 54.5H360.9V56.5H357.4zM367.7 52.5H371.2V54.5H367.7zM371.2 54.5H374.7V56.5H371.2zM378.1 54.5H381.6V56.5H378.1zM388.4 56.5H391.9V58.5H388.4zM395.3 56.5H398.8V58.5H395.3zM405.7 40.5H409.2V46.5H405.7zM409.1 44.5H412.6V48.5H409.1zM412.6 44.5H416.1V48.5H412.6zM416 42.5H419.6V46.5H416zM419.5 40.5H423V46.5H419.5zM423 40.5H426.5V46.5H423zM426.4 38.5H429.9V40.5H426.4zM429.9 38.5H433.4V40.5H429.9zM433.3 36.5H436.8V38.5H433.3zM467.8 36.5H471.3V40.5H467.8zM478.2 46.5H481.7V48.5H478.2zM481.6 52.5H485.1V54.5H481.6zM485.1 56.5H488.6V58.5H485.1zM488.5 60.5H492V62.5H488.5zM492 66.5H495.5V68.5H492zM495.4 64.5H498.9V66.5H495.4zM498.9 60.5H502.4V62.5H498.9zM502.3 56.5H505.8V58.5H502.3zM505.8 56.5H509.3V58.5H505.8zM509.2 52.5H512.7V54.5H509.2zM516.1 48.5H519.6V50.5H516.1zM526.5 38.5H530V40.5H526.5zM529.9 36.5H533.4V38.5H529.9zM533.4 38.5H536.9V40.5H533.4z"/><path fill="#ff2000" d="M260.8 56.5H264.3V58.5H260.8zM264.2 56.5H267.7V58.5H264.2zM267.7 54.5H271.2V56.5H267.7zM271.1 56.5H274.6V58.5H271.1zM278 50.5H281.5V52.5H278zM343.6 36.5H347.1V42.5H343.6zM347 46.5H350.5V48.5H347zM353.9 54.5H357.4V56.5H353.9zM357.4 52.5H360.9V54.5H357.4zM360.8 50.5H364.3V52.5H360.8zM381.5 56.5H385V58.5H381.5zM385 56.5H388.5V58.5H385zM388.4 54.5H391.9V56.5H388.4zM391.9 50.5H395.4V52.5H391.9zM395.3 54.5H398.8V56.5H395.3zM405.7 38.5H409.2V40.5H405.7zM409.1 36.5H412.6V44.5H409.1zM412.6 36.5H416.1V44.5H412.6zM416 36.5H419.6V42.5H416zM419.5 36.5H423V40.5H419.5zM423 36.5H426.5V40.5H423zM426.4 36.5H429.9V38.5H426.4zM429.9 36.5H433.4V38.5H429.9zM471.3 40.5H474.8V42.5H471.3zM474.7 40.5H478.2V42.5H474.7zM481.6 50.5H485.1V52.5H481.6zM488.5 58.5H492V60.5H488.5zM492 64.5H495.5V66.5H492zM498.9 58.5H502.4V60.5H498.9zM505.8 54.5H509.3V56.5H505.8zM512.7 48.5H516.2V50.5H512.7zM516.1 46.5H519.6V48.5H516.1zM523 40.5H526.5V42.5H523zM526.5 36.5H530V38.5H526.5zM533.4 36.5H536.9V38.5H533.4z"/><path fill="#ff1000" d="M260.8 54.5H264.3V56.5H260.8zM264.2 54.5H267.7V56.5H264.2zM267.7 52.5H271.2V54.5H267.7zM271.1 54.5H274.6V56.5H271.1zM274.6 50.5H278.1V52.5H274.6zM278 44.5H281.5V50.5H278zM347 44.5H350.5V46.5H347zM350.5 48.5H354V50.5H350.5zM353.9 52.5H357.4V54.5H353.9zM364.3 50.5H367.8V52.5H364.3zM371.2 52.5H374.7V54.5H371.2zM374.6 52.5H378.1V54.5H374.6zM378.1 52.5H381.6V54.5H378.1zM381.5 54.5H385V56.5H381.5zM385 54.5H388.5V56.5H385zM405.7 36.5H409.2V38.5H405.7zM478.2 44.5H481.7V46.5H478.2zM485.1 54.5H488.6V56.5H485.1zM492 62.5H495.5V64.5H492zM495.4 62.5H498.9V64.5H495.4zM502.3 54.5H505.8V56.5H502.3zM505.8 52.5H509.3V54.5H505.8zM509.2 50.5H512.7V52.5H509.2zM512.7 46.5H516.2V48.5H512.7zM523 38.5H526.5V40.5H523z"/><path fill="#ff0000" d="M260.8 52.5H264.3V54.5H260.8zM264.2 52.5H267.7V54.5H264.2zM271.1 52.5H274.6V54.5H271.1zM274.6 46.5H278.1V50.5H274.6zM278 38.5H281.5V44.5H278zM347 38.5H350.5V44.5H347zM350.5 46.5H354V48.5H350.5zM353.9 50.5H357.4V52.5H353.9zM357.4 50.5H360.9V52.5H357.4zM367.7 50.5H371.2V52.5H367.7zM388.4 52.5H391.9V54.5H388.4zM391.9 48.5H395.4V50.5H391.9zM395.3 52.5H398.8V54.5H395.3zM471.3 36.5H474.8V40.5H471.3zM474.7 38.5H478.2V40.5H474.7zM481.6 48.5H485.1V50.5H481.6zM485.1 52.5H488.6V54.5H485.1zM488.5 56.5H492V58.5H488.5zM492 60.5H495.5V62.5H492zM495.4 60.5H498.9V62.5H495.4zM498.9 56.5H502.4V58.5H498.9zM502.3 52.5H505.8V54.5H502.3zM505.8 50.5H509.3V52.5H505.8zM509.2 48.5H512.7V50.5H509.2zM512.7 44.5H516.2V46.5H512.7zM516.1 44.5H519.6V46.5H516.1zM523 36.5H526.5V38.5H523z"/><path fill="#ef0000" d="M264.2 50.5H267.7V52.5H264.2zM267.7 50.5H271.2V52.5H267.7zM274.6 38.5H278.1V46.5H274.6zM278 36.5H281.5V38.5H278zM347 36.5H350.5V38.5H347zM350.5 44.5H354V46.5H350.5zM353.9 48.5H357.4V50.5H353.9zM357.4 48.5H360.9V50.5H357.4zM360.8 48.5H364.3V50.5H360.8zM371.2 50.5H374.7V52.5H371.2zM378.1 50.5H381.6V52.5H378.1zM381.5 52.5H385V54.5H381.5zM385 52.5H388.5V54.5H385zM388.4 50.5H391.9V52.5H388.4zM395.3 50.5H398.8V52.5H395.3zM478.2 42.5H481.7V44.5H478.2zM481.6 46.5H485.1V48.5H481.6zM485.1 50.5H488.6V52.5H485.1zM488.5 54.5H492V56.5H488.5zM492 58.5H495.5V60.5H492zM495.4 58.5H498.9V60.5H495.4zM498.9 54.5H502.4V56.5H498.9zM505.8 48.5H509.3V50.5H505.8zM509.2 46.5H512.7V48.5H509.2zM516.1 42.5H519.6V44.5H516.1z"/><path fill="#df0000" d="M260.8 50.5H264.3V52.5H260.8zM264.2 48.5H267.7V50.5H264.2zM271.1 46.5H274.6V52.5H271.1zM274.6 36.5H278.1V38.5H274.6zM350.5 42.5H354V44.5H350.5zM364.3 48.5H367.8V50.5H364.3zM374.6 50.5H378.1V52.5H374.6zM474.7 36.5H478.2V38.5H474.7zM492 56.5H495.5V58.5H492zM502.3 50.5H505.8V52.5H502.3zM505.8 46.5H509.3V48.5H505.8zM512.7 42.5H516.2V44.5H512.7z"/><path fill="#cf0000" d="M260.8 36.5H264.3V50.5H260.8zM264.2 40.5H267.7V48.5H264.2zM267.7 48.5H271.2V50.5H267.7zM271.1 36.5H274.6V46.5H271.1zM350.5 36.5H354V42.5H350.5zM353.9 46.5H357.4V48.5H353.9zM357.4 46.5H360.9V48.5H357.4zM360.8 46.5H364.3V48.5H360.8zM367.7 48.5H371.2V50.5H367.7zM371.2 48.5H374.7V50.5H371.2zM378.1 48.5H381.6V50.5H378.1zM381.5 50.5H385V52.5H381.5zM385 50.5H388.5V52.5H385zM388.4 48.5H391.9V50.5H388.4zM391.9 46.5H395.4V48.5H391.9zM395.3 48.5H398.8V50.5H395.3zM481.6 44.5H485.1V46.5H481.6zM485.1 48.5H488.6V50.5H485.1zM488.5 52.5H492V54.5H488.5zM492 54.5H495.5V56.5H492zM495.4 56.5H498.9V58.5H495.4zM498.9 52.5H502.4V54.5H498.9zM502.3 48.5H505.8V50.5H502.3zM509.2 44.5H512.7V46.5H509.2zM512.7 40.5H516.2V42.5H512.7zM516.1 40.5H519.6V42.5H516.1z"/><path fill="#bf0000" d="M264.2 36.5H267.7V40.5H264.2zM267.7 36.5H271.2V48.5H267.7zM353.9 36.5H357.4V46.5H353.9zM395.3 46.5H398.8V48.5H395.3zM478.2 36.5H481.7V42.5H478.2zM485.1 46.5H488.6V48.5H485.1zM495.4 54.5H498.9V56.5H495.4zM498.9 50.5H502.4V52.5H498.9zM505.8 44.5H509.3V46.5H505.8zM509.2 42.5H512.7V44.5H509.2zM516.1 36.5H519.6V40.5H516.1z"/><path fill="#af0000" d="M357.4 36.5H360.9V46.5H357.4zM364.3 46.5H367.8V48.5H364.3zM371.2 46.5H374.7V48.5H371.2zM374.6 48.5H378.1V50.5H374.6zM378.1 46.5H381.6V48.5H378.1zM381.5 48.5H385V50.5H381.5zM385 48.5H388.5V50.5H385zM388.4 46.5H391.9V48.5H388.4zM391.9 44.5H395.4V46.5H391.9zM481.6 40.5H485.1V44.5H481.6zM488.5 50.5H492V52.5H488.5zM492 52.5H495.5V54.5H492zM502.3 46.5H505.8V48.5H502.3zM505.8 42.5H509.3V44.5H505.8zM512.7 38.5H516.2V40.5H512.7z"/><path fill="#9f0000" d="M360.8 36.5H364.3V46.5H360.8zM364.3 40.5H367.8V46.5H364.3zM367.7 46.5H371.2V48.5H367.7zM395.3 44.5H398.8V46.5H395.3zM481.6 36.5H485.1V40.5H481.6zM485.1 44.5H488.6V46.5H485.1zM492 50.5H495.5V52.5H492zM495.4 52.5H498.9V54.5H495.4zM498.9 48.5H502.4V50.5H498.9zM509.2 40.5H512.7V42.5H509.2zM512.7 36.5H516.2V38.5H512.7z"/><path fill="#8f0000" d="M364.3 36.5H367.8V40.5H364.3zM367.7 36.5H371.2V46.5H367.7zM371.2 36.5H374.7V46.5H371.2zM374.6 42.5H378.1V48.5H374.6zM378.1 40.5H381.6V46.5H378.1zM381.5 40.5H385V48.5H381.5zM385 38.5H388.5V48.5H385zM388.4 38.5H391.9V46.5H388.4zM391.9 36.5H395.4V44.5H391.9zM395.3 36.5H398.8V44.5H395.3zM485.1 36.5H488.6V44.5H485.1zM488.5 36.5H492V50.5H488.5zM492 40.5H495.5V50.5H492zM495.4 46.5H498.9V52.5H495.4zM502.3 42.5H505.8V46.5H502.3zM505.8 38.5H509.3V42.5H505.8zM509.2 36.5H512.7V40.5H509.2z"/><path fill="#800000" d="M374.6 36.5H378.1V42.5H374.6zM378.1 36.5H381.6V40.5H378.1zM381.5 36.5H385V40.5H381.5zM385 36.5H388.5V38.5H385zM388.4 36.5H391.9V38.5H388.4zM492 36.5H495.5V40.5H492zM495.4 36.5H498.9V46.5H495.4zM498.9 36.5H502.4V48.5H498.9zM502.3 36.5H505.8V42.5H502.3zM505.8 36.5H509.3V38.5H505.8z"/><path fill="#000" d="M74.4 46H76.2V48H74.4zM76.1 47H77.9V50H76.1zM78 47h1v11h-1zM77.9 44H79.6V53H77.9zM79.6 44H81.4V56H79.6zM81 51h1v8h-1zM81.3 38H83.1V57H81.3zM83 40H84.8V56H83zM84.8 37H86.5V65H84.8zM86.5 37H88.3V62H86.5zM88.2 37H90V59H88.2zM89.9 37H91.7V59H89.9zM91.7 37H93.4V65H91.7zM93.4 37H95.2V62H93.4zM95.1 37H96.9V57H95.1zM96.8 37H98.6V62H96.8zM98.6 37H100.3V62H98.6zM100.3 37H102.1V58H100.3zM99 55h1v13h-1zM102 37H103.8V57H102zM103.7 37H105.5V58H103.7zM105.5 37H107.2V54H105.5zM107.2 37H109V54H107.2zM107 47h1v12h-1zM108.9 37H110.7V60H108.9zM110.6 37H112.4V58H110.6zM112 53h1v9h-1zM111 53h1v22h-1zM112.4 37H114.1V68H112.4zM114.1 37H115.9V65H114.1zM114 65h1v14h-1zM114 65h1v20h-1zM115.8 37H117.6V72H115.8zM117.5 37H119.3V70H117.5zM116 69h1v23h-1zM116 69h1v22h-1zM119.3 37H121V83H119.3zM121 37H122.8V88H121zM122 81h1v14h-1zM122.7 37H124.5V89H122.7zM124.4 37H126.2V93H124.4zM125 89h1v15h-1zM125 89h1v8h-1zM126.2 37H127.9V79H126.2zM127.9 37H129.7V82H127.9zM128 79h1v19h-1zM129.6 37H131.4V69H129.6zM131.3 37H133.1V75H131.3zM130 69h1v10h-1zM131 69h1v19h-1zM133.1 37H134.8V64H133.1zM134.8 37H136.6V64H134.8zM136 63h1v16h-1zM136.5 37H138.3V60H136.5zM138.2 37H140V66H138.2zM140 59h1v16h-1zM137 59h1v9h-1zM140 37H141.7V66H140zM141.7 37H143.5V64H141.7zM140 61h1v14h-1zM140 61h1v7h-1zM143.4 37H145.2V78H143.4zM145.1 37H146.9V75H145.1zM144 71h1v21h-1zM146.9 37H148.6V64H146.9zM148.6 37H150.4V66H148.6zM148 59h1v22h-1zM150.3 37H152.1V66H150.3zM152 37H153.8V68H152zM153 61h1v8h-1zM153 61h1v8h-1zM153.8 37H155.5V61H153.8zM155.5 37H157.3V64H155.5zM154 57h1v18h-1zM155 57h1v9h-1zM157.2 37H159V65H157.2zM158.9 37H160.7V65H158.9zM159 59h1v22h-1zM160.7 37H162.5V54H160.7zM162.4 37H164.2V56H162.4zM162 53h1v21h-1zM164.1 37H165.9V57H164.1zM165.9 37H167.6V57H165.9zM167 57h1v15h-1zM165 57h1v8h-1zM167.6 41H169.4V61H167.6zM169.3 42H171.1V62H169.3zM171 57h1v16h-1zM171 45H172.8V59H171zM172.8 45H174.5V64H172.8zM174 57h1v17h-1zM174.5 48H176.3V62H174.5zM176.2 48H178V56H176.2zM175 56h1v7h-1zM177 56h1v15h-1zM177.9 50H179.7V59H177.9zM179.7 49H181.4V63H179.7zM181.4 47H183.2V58H181.4zM183.1 47H184.9V56H183.1zM183 55h1v13h-1zM184.8 47H186.6V62H184.8zM186.6 47H188.3V57H186.6zM188.3 45H190.1V59H188.3zM190 44H191.8V59H190zM191 59h1v6h-1zM191.7 37H193.5V60H191.7zM193.5 37H195.2V66H193.5zM194 59h1v5h-1zM195.2 37H197V58H195.2zM196.9 37H198.7V57H196.9zM196 55h1v5h-1zM198.6 37H200.4V51H198.6zM200.4 37H202.1V44H200.4zM202.1 37H203.9V48H202.1zM203.8 37H205.6V52H203.8zM202 45h1v4h-1zM205.5 37H207.3V43H205.5zM207.3 37H209V43H207.3zM206 42h1v11h-1zM209 37H210.8V43H209zM210.7 37H212.5V44H210.7zM430.5 37H435V62H433.5V80H432.5V64H431.5V58H430.5zM254 37H259.5V200L258.5 292H256L254 200zM272 62H277V250L276 294H273.5L272 250z"/></g>
<path fill="none" stroke="#000" stroke-width="1" shape-rendering="crispEdges" stroke-linejoin="miter" d="M74.5 38.5L78 40L81.5 38.5L82 40.5L81.5 41L78 41.5L76.5 40.5L74.5 38.5M74.5 48.5L78 47L79.5 46.5L78 46L75.5 44.5L74.5 43M81 36.5L81.5 37.5L81.5 36.5M81.5 44L80.5 44.5L81.5 45.5L82.5 44.5L81.5 44M171 42.5L170.5 42.5L171 43L171.5 42.5L171 42.5M174.5 38L173.5 38.5L174.5 40.5L175 40.5L177.5 38.5L174.5 38M174.5 46L173.5 46.5L174.5 47L175.5 46.5L174.5 46M181.5 43.5L180.5 44.5L180.5 46.5L181.5 46.5L185 48.5L186 48.5L185.5 46.5L188.5 44.5L185 43L181.5 43.5M188.5 39.5L186 40.5L188.5 41.5L189.5 40.5L188.5 39.5M191.5 38.5L192 38.5L191.5 38.5M188.5 44.5L188.5 44.5M198.5 40.5L198.5 40.5M76.5 36.5L78 37.5L79 38.5L78 39L76.5 38.5L74.5 37.5M74.5 40.5L74.5 41M78 43L76.5 44.5L78 45.5L79.5 44.5L78 43M83 36.5L82.5 38.5L83.5 40.5L85 42L85.5 42.5L88 44L88.5 44.5L91.5 46.5L88 45L85 45.5L82.5 46.5L81.5 47L78 48L77 48.5L74.5 50M143.5 370L143 370.5L142 373L140 375.5L139 373L138 370.5L137 368L136.5 365.5L136.5 365L135 363L133.5 360.5L133 359L129.5 360L127 358L126 357.5L124.5 355.5L123 353L122.5 352L121.5 350.5L120.5 348L119.5 345.5L119.5 344.5L119 343L118 340.5L117 338L116.5 335.5L116 333L116 330.5L115.5 330.5L112.5 332.5L112 333L110.5 335.5L109 337L108.5 338L107 340.5L105.5 342.5L105.5 343L104.5 345.5L104 348L102 350.5L102 351L101.5 353L100.5 355.5L99.5 358L98.5 359.5L97.5 358L96 355.5L95.5 353L95 352L94.5 350.5L93 348L92 345.5L91.5 343.5L91.5 343L89 340.5L88 339L85 338L84.5 338L83.5 340.5L81.5 342.5L81 343L80 345.5L78 348L77.5 350.5L77 353L76.5 355.5L76 358L75 360.5L74.5 362M81.5 42L78.5 42.5L81.5 43L83.5 42.5L81.5 42M91.5 46.5L95 46.5L96.5 46.5L95.5 48.5L95 48.5L91.5 46.5M95 48.5L95 48.5M194 36.5L194 38.5L191.5 39.5L190.5 40.5L188.5 42L187 42.5L188.5 43L191.5 44.5L188.5 45.5L187 46.5L188.5 47.5L191.5 48.5L188.5 49L185 49L183.5 48.5L181.5 47.5L179 46.5L179 44.5L178 43.5L174.5 43L172 44.5L174.5 45.5L177 46.5L174.5 47.5L172 46.5L171 45L167.5 46.5L168 48.5L167.5 48.5L164 48.5L167.5 46.5L166.5 44.5L167.5 43.5L168.5 42.5L171 41.5L172.5 40.5L172.5 38.5L171 36.5M167.5 38.5L167 38.5L167.5 39L168 38.5L167.5 38.5M171.5 36.5L174.5 37L176.5 36.5M180.5 36.5L180 38.5L181.5 40.5L183.5 38.5L185 37L188.5 38.5L190.5 36.5M278 480L277.5 480.5L276 483L274.5 485.5L273 488L271.5 490.5L271 491.5L267.5 493L265 495.5L264 496L262 495.5L261 495.5L260.5 493L260 490.5L259.5 488L259 485.5L258.5 483L258.5 480.5L258 478L257.5 475.5L257.5 473L257.5 472L257 470.5L257 468L257 465.5L257 463L256.5 460.5L256.5 458L256.5 455.5L256.5 453L256 450.5L256 448L256 445.5L256 443L256 440.5L255.5 438L255.5 435.5L255.5 433L255.5 430.5L255.5 428L255 425.5L255 423L255 420.5L255 418L255 415.5L255 413L255 410.5L255 408L254.5 405.5L254.5 403L254.5 400.5L254.5 398L254.5 395.5L254.5 393L254.5 390.5L254.5 388L254.5 385.5L254 383L254 380.5L254 378L254 375.5L254 373L254 370.5L254 368L254 365.5L254 363L254 362.5L253 360.5L252.5 358L252 355.5L251.5 353L251 350.5L250.5 348L250.5 346.5L250 345.5L248.5 343L247.5 340.5L247 339L246.5 340.5L246 343L245.5 345.5L244 348L243.5 349L241.5 350.5L240 351.5L238.5 353L236.5 354L236 353L235 350.5L234.5 348L234 345.5L233.5 343L233 342L229.5 340.5L228 343L226 344.5L224.5 343L223 340.5L222.5 340.5L221.5 338L220.5 335.5L220 333L219.5 330.5L219.5 328L219 330.5L218.5 333L218 335.5L217.5 338L217 340.5L216 342.5L216 343L215.5 345.5L215.5 348L215.5 350.5L215 353L215 355.5L214.5 358L214 360.5L213.5 363L213 365.5L212.5 368L212.5 369L212 368L211.5 365.5L210.5 363L210 360.5L210 358L209.5 355.5L209 353L209 351.5L208.5 353L207.5 355.5L206 358L205.5 359L203.5 360.5L202 361.5L200.5 363L198.5 364L198 363L196.5 360.5L196 358L195.5 355.5L195 355L194 353L192.5 350.5L192 348L191.5 347.5L191.5 348L190.5 350.5L189.5 353L188.5 354.5L185 355.5L184.5 355.5L181.5 357L178.5 358L178 358M192.5 44.5L191.5 44.5L192.5 44.5M192 48.5L191.5 48.5L192 48.5M196 36.5L198.5 37L199.5 36.5M198.5 40L196 40.5L198.5 41.5L199.5 40.5L198.5 40M302 500.5L301 503L299.5 505.5L298.5 506.5L297 505.5L295.5 504.5L293.5 503L292 501.5L290 500.5L288.5 499L286.5 498L285 497M330 487L329 485.5L327.5 483L327 480.5L326.5 479L324.5 480.5L323 482L319.5 481.5L317 483L316 483.5L313.5 485.5L312.5 486.5L311.5 488L309 490.5M337 505.5L336.5 505.5M343.5 508.5L341.5 508L340 508M395.5 498L394 495.5L392.5 493L392 490.5L391 493L390 495.5L388.5 498L388.5 498.5L387 500.5L385 502.5L384.5 503L383 505.5L381.5 507L379 505.5L378 505L375 503L374.5 502.5L371.5 503L371 503L369.5 500.5L368.5 498L367.5 497L366.5 495.5L364.5 493L362.5 490.5L361 488L361 487.5L360.5 488L359.5 490.5L357.5 493L357.5 493.5L356.5 495.5L354.5 498L354 499L353 500.5L351 503L350.5 503.5M433.5 477.5L433 478L432 480.5L431 483L430 485L429.5 485.5L428 488L426.5 490L426 490.5L425.5 493L424 495.5L423 497.5L423 498L421.5 500.5L419.5 503L419.5 503.5L418 505.5L416 508L414 510.5L412.5 512.5L409 512.5L405.5 512.5M461 492L457.5 493L456 493L454 493.5L452 495.5L450.5 497M512.5 511.5L510 513L509 513.5L506 515.5L503 513L502.5 512.5L499 512.5L496.5 510.5L495.5 509L493 508L492 507.5L490.5 505.5L488.5 503L487 500.5L485.5 498L485 497.5L484 495.5L482.5 493L481.5 490.5L478 489L476 488L474.5 487L471.5 487L468 487M516 505.5L515 508L513.5 510.5M533.5 480.5L533 480.5L530 482.5L529.5 483L528.5 485.5L526.5 487.5L526 488L523 489.5M550.5 487.5L547 487.5L544 485.5L543.5 485.5L540.5 484.5M78 44.5L78 44.5M84.5 36.5L83.5 38.5L84.5 40.5L85 41L87 42.5L88 43L89.5 44.5L91.5 45.5L95 46L98.5 46L102 46L103.5 46.5L105.5 47.5L109 48.5L105.5 50.5L105.5 51L105 50.5L104.5 48.5L102 47L99 48.5L98.5 49L95 49L94 48.5L91.5 47.5L89 46.5L88 46L87 46.5L85 48.5L81.5 49L78 49.5L76 50.5L74.5 52.5M278 290.5L278 293L278 295.5L278 298L277.5 300.5L277.5 303L277.5 305.5L277.5 308L277.5 310.5L277.5 313L277 315.5L277 318L277 320.5L276.5 323L276.5 325.5L276 328L275.5 330.5L275.5 333L274.5 335.5L274.5 336L274 338L273.5 340.5L272.5 343L271 345.5L270.5 348L269.5 350.5L267.5 352.5L267.5 353L266 355.5L264 357L261 357.5L260.5 355.5L260 353L259.5 350.5L259 348L258.5 345.5L258 343L257.5 340.5L257.5 339L257 338L257 335.5L257 333L256.5 330.5L256.5 328L256.5 325.5L256.5 323L256 320.5L256 318L256 315.5L256 313L255.5 310.5L255.5 308L255.5 305.5L255.5 303L255.5 300.5L255 298L255 295.5L255 293L255 290.5L255 288L255 285.5L254.5 283L254.5 280.5L254.5 278L254.5 275.5L254.5 273L254.5 270.5L254.5 268L254.5 265.5L254.5 263L254.5 260.5L254 258L254 255.5L254 253L254 250.5L254 248L254 245.5L254 243L254 240.5L254 238L254 235.5L254 233L254 230.5L254 228L254 225.5L254 223L254 220.5L254 218L254 215.5L254 213L254 210.5L254 208L254 206.5L253 205.5L250.5 203L250.5 202.5L248 200.5L247 198L247 197.5L243.5 195.5L240 194L239 195.5L236.5 197.5L236 198L233 200.5L232 203L229.5 205L229.5 205.5L227 208L226 209L225 208L223 205.5L221 203L220 200.5L219.5 199.5L217.5 198L216 196.5L212.5 198L209.5 195.5L209 194.5L208.5 195.5L207.5 198L205.5 200.5L205.5 203L205 205.5L204.5 208L204 210.5L203 213L202 215L200 213L198.5 211L198 210.5L195.5 208L195 207.5L192 205.5L191.5 205.5L188.5 204.5L186 203L185 202L183 200.5L181.5 198L181.5 197.5L180.5 198L178 200L178 200.5L177.5 203L176.5 205.5L174.5 208L171 206.5L170.5 205.5L169 203L168 200.5L168 198L167.5 197L164 197.5L163.5 198L162 200.5L160.5 202L157 202.5L154.5 200.5L154 199L153.5 200.5L153 203L152 205.5L150.5 208L147 210.5L144.5 208L143.5 205.5L143.5 205L141.5 205.5L140 206L136.5 207L133 205.5L132 205.5L129.5 205.5L127 203L126 202L125 200.5L123 198L122.5 197.5L120.5 195.5L119.5 193L116.5 190.5L116 189.5L113.5 188L112.5 187.5L109 185.5L108 188L106 190.5L105.5 191L105 193L103.5 195.5L102 197L100 195.5L98.5 193L96.5 190.5L95.5 188L95 185.5L94.5 188L94 190.5L92.5 193L91.5 194.5L90.5 193L89 190.5L88 188L87 190.5L85 192.5L84 193L81.5 195.5L81 195.5L80 198L78 200L78 200.5L77.5 203L77.5 205.5L77 208L77 210.5L76.5 213L76.5 215.5L76 218L75.5 220.5L74.5 223L74.5 223.5M85 48.5L85 48.5M88 52L88 52.5L88.5 52.5L88 52M91.5 50L90 50.5L91.5 51.5L92 50.5L91.5 50M109.5 48.5L109 48.5L109.5 48.5M147 46.5L150.5 46.5L147 46.5M154 44.5L153.5 44.5L154 44.5L154.5 44.5L154 44.5M150.5 46.5L150.5 46.5M169.5 36.5L171 38L171 38.5L171 39.5L170.5 38.5L167.5 37.5L165.5 38.5L167.5 40.5L164 42L163.5 42.5L164 43L165.5 44.5L164.5 46.5L164 46.5L163 48.5L164 49L167.5 49.5L171 48.5L173.5 50.5L174.5 51.5L178 51L179.5 50.5L179.5 48.5L181.5 48L182.5 48.5L185 49.5L188.5 49.5L191.5 49L193.5 48.5L191.5 47L189 46.5L191.5 46L195 46.5L197.5 44.5L198.5 43L199 42.5L200.5 40.5L198.5 39L196 38.5L198.5 38L200 36.5M174.5 44.5L175.5 44.5L174.5 44.5M174.5 48L171.5 48.5L174.5 50L177 48.5L174.5 48M187.5 36.5L188.5 37L188.5 36.5M198.5 47L196.5 48.5L198.5 49L199.5 48.5L198.5 47M302 375L302 375.5L302 378L301.5 380.5L301 383L300.5 385.5L299.5 388L298.5 390.5L297 388L296 385.5L295.5 383.5L295 383L293 380.5L292.5 378L292 375.5L290.5 373L289.5 370.5L289 368L288.5 365.5L288.5 363L286.5 360.5L286 358L285.5 355.5L285 353L285 351.5M330 358.5L329.5 358L328 355.5L327 353L326.5 350.5L324.5 348L323.5 345.5L323 344L322.5 343L321 340.5L320 338L319.5 335.5L319.5 334L319 335.5L316 338L315 340.5L312.5 342.5L312.5 343L309 345.5M395.5 377L394 375.5L392.5 373L392 370.5L391.5 373L391 375.5L390 378L389 380.5L388.5 382L388 383L387 385.5L385.5 388L385 389.5L384.5 390.5L383.5 393L382.5 395.5L381.5 397L381 395.5L380.5 393L379.5 390.5L379 388L379 385.5L378.5 383L378 380.5L377 378L376.5 375.5L376 373L375.5 370.5L375 368L375 365.5L374.5 364L374 363L372 360.5L371 359L370.5 358L369 355.5L368 353L367.5 351L367 353L365.5 355.5L364.5 357L364 358L362 360.5L361 361.5L360 363L359 365.5L357.5 367L357 368L355.5 370.5L354 372L350.5 372.5L349 373L347 374L343.5 375.5L340 377.5L336.5 377.5M433.5 355L433 355.5L433 358L432 360.5L431.5 363L430 365.5L428 368L426.5 369L426 370.5L424.5 373L423 375L422.5 375.5L420 378L419.5 378.5L416.5 380.5L416 381L415 383L413 385.5L412.5 386L409 387L405.5 387.5M430 365.5L430 365.5M450.5 353L450.5 355.5L451 358L451 360.5L451.5 363L452 365.5L452.5 368L453 370.5L454 373L454 375.5L454.5 378L454.5 380.5L455 383L455.5 385.5L456 388L456.5 390.5L457 393L457.5 395L458.5 393L459.5 390.5L460.5 388L461 385.5M516 373L513 375.5L512.5 376L512 378L510 380.5L509 381.5L508.5 383L506.5 385.5L506 386.5L505 385.5L503.5 383L502.5 380.5L502.5 379.5L501 378L499.5 375.5L499 375L497.5 373L496.5 370.5L495.5 368L495.5 367L494 365.5L492.5 363L492 360.5L488.5 360L486 358L485 357.5L482.5 355.5L481.5 354L480.5 353L478 350.5L477 350.5L474.5 351L471.5 353L471 353L471 355.5L470 358L469 360.5L468 362.5M533.5 360.5L530 359L526.5 360L523.5 358L523 357.5M550.5 362L547 362L545 360.5L543.5 359.5L540.5 360.5M87 36.5L88 37.5L89 38.5L88 39L86 38.5L85 38L84.5 38.5L85 39L86 40.5L88 42L91.5 42.5L92.5 42.5L91.5 43L91 44.5L91.5 45L95 45L98.5 45.5L102 45.5L105 46.5L105.5 46.5L109 48L112.5 47.5L113.5 48.5L112.5 49L109 49L106.5 50.5L106.5 52.5L105.5 53L105 52.5L103 50.5L104 48.5L102 47.5L100 48.5L98.5 49.5L95 49.5L92.5 48.5L91.5 48L88 48L87.5 48.5L88 49.5L91.5 49L93 50.5L92.5 52.5L91.5 52.5L88 53L86.5 52.5L87 50.5L85 49.5L81.5 50L79 50.5L79.5 52.5L78 52.5L74.5 54.5M278 245L278 245.5L278 248L278 250.5L277.5 253L277.5 255.5L277.5 258L277 260.5L277 263L277 265.5L276.5 268L276.5 270.5L276 273L276 275.5L275.5 278L275.5 280.5L275 283L275 285.5L274.5 287L274.5 288L274 290.5L274 293L274 295.5L273.5 298L273.5 300.5L273 303L273 305.5L273 308L272.5 310.5L272 313L272 315.5L271.5 318L271 320L267.5 319.5L267 320.5L266 323L264.5 325.5L264 325.5L262.5 323L261.5 320.5L261 318L260.5 318L260 315.5L259.5 313L259.5 310.5L259 308L258.5 305.5L258 303L258 300.5L257.5 298L257.5 296L257.5 295.5L257 293L257 290.5L257 288L256.5 285.5L256.5 283L256.5 280.5L256 278L256 275.5L256 273L256 270.5L255.5 268L255.5 265.5L255.5 263L255.5 260.5L255.5 258L255 255.5L255 253L255 250.5L255 248L255 245.5L255 243L255 240.5L255 238L255 235.5L254.5 233L254.5 230.5L254.5 228L254.5 225.5L254.5 223L254.5 220.5L254.5 218L254.5 215.5L254.5 213L254.5 210.5L254.5 208L254.5 205.5L254.5 203L254.5 200.5L254.5 198L254.5 195.5L254 193L254 190.5L254 188L254 185.5L254 183L254 180.5L254 178L254 175.5L254 173L254 170.5L254 168L254 165.5L254 163L254 160.5L254 158L254 157.5L250.5 157.5L247 155.5L243.5 153L242.5 155.5L240.5 158L240 158.5L240 158L238 155.5L237 153L236.5 151L236 153L234.5 155.5L233 157.5L233 158L232.5 160.5L231.5 163L230.5 165.5L229.5 166.5L227 168L226 168.5L226 168L225 165.5L224 163L223.5 160.5L223.5 158L223 155.5L223 153L223 152.5L220.5 150.5L219.5 149L216 150L215.5 150.5L215 153L214 155.5L212.5 157.5L211 155.5L209.5 153L209 151L208.5 153L207 155.5L205.5 157.5L205.5 158L205 160.5L205 163L204.5 165.5L204 168L203.5 170.5L202.5 173L202 174.5L201 173L199.5 170.5L198.5 168.5L198 168L196 165.5L195 163.5L195 163L193 160.5L192.5 158L192 155.5L191.5 155.5L190.5 155.5L188.5 156L188 155.5L186 153L185 150.5L185 149.5L184.5 150.5L184 153L182.5 155.5L181.5 157.5L180 155.5L179 153L178 150.5L178 150L178 150.5L177.5 153L177.5 155.5L177 158L177 160.5L176.5 163L176 165.5L175 168L174.5 169.5L173.5 168L172.5 165.5L172 163L171.5 160.5L171 158L171 157.5L169 155.5L167.5 153L166.5 155.5L164 158L162.5 155.5L161.5 153L161 150.5L160.5 149.5L160.5 150.5L160.5 153L160 155.5L160 158L159.5 160.5L159.5 163L159 165.5L158 168L157 170.5L156.5 168L155.5 165.5L155 163L155 160.5L154.5 158L154.5 155.5L154 153L154 150.5L154 149.5L153.5 150.5L153 153L152.5 155.5L151 158L150.5 159.5L150 160.5L149.5 163L148 165.5L147 167L146 165.5L144.5 163L144 160.5L143.5 158L140 160.5L139 163L136.5 165.5L135 163L134 160.5L133.5 158L133.5 155.5L133 154.5L132.5 155.5L130.5 158L129.5 158.5L129 160.5L128 163L126 165L125 163L123.5 160.5L123 158L122.5 157L122 155.5L121 153L120 150.5L119.5 148L119.5 145.5L119 145.5L117 148L116 149L112.5 148L111.5 150.5L110.5 153L109 155.5L109 156L108.5 155.5L106.5 153L105.5 150.5L105 150.5L102 152.5L101 153L98.5 155L96 153L95 152L94 150.5L92.5 148L91.5 145.5L88 148L86.5 150.5L85 152L81.5 152L81 153L79.5 155.5L78 157.5L77.5 158L77.5 160.5L76.5 163L75.5 165.5L74.5 167.5M116 46L114 46.5L116 47.5L117 46.5L116 46M122.5 46L121.5 46.5L122.5 47L124 46.5L122.5 46M122.5 54.5L122.5 55L126 55L127.5 54.5L126 54L122.5 54.5M129.5 48L128 48.5L129.5 49.5L130.5 48.5L129.5 48M133 52L132.5 52.5L133 52.5L133.5 52.5L133 52M140 46.5L139 46.5L140 47L143.5 46.5L147 47L150.5 47L153.5 46.5L150.5 46L147 44.5L143.5 45.5L140 46.5M140 50L139.5 50.5L140 51L143 52.5L143.5 53L144.5 52.5L143.5 52L141 50.5L140 50M136.5 165.5L136.5 165.5M147 50.5L146.5 50.5L147 51L147 50.5M168 36.5L167.5 36.5L164 38L164 38.5L164 39L165 40.5L164 41L160.5 42.5L157 44L154 44L153 44.5L154 46.5L157 47.5L160 46.5L160.5 46L161.5 46.5L162 48.5L164 49.5L167.5 50L171 49.5L172.5 50.5L174.5 52.5L178 51.5L180.5 50.5L181.5 49L185 50L188.5 50L191.5 50L195 50.5L192.5 52.5L195 52.5L196 52.5L195.5 50.5L198.5 49.5L200.5 48.5L200 46.5L199 44.5L200 42.5L201 40.5L199 38.5L200.5 36.5M164 44.5L163.5 44.5L164 44.5L164.5 44.5L164 44.5M174.5 48.5L173.5 48.5L174.5 49L175 48.5L174.5 48.5M302 345L300 343L299 340.5L298.5 340.5L297 338L296 335.5L295.5 334.5L294 333L292 330.5L292 330L288.5 329.5L286 330.5L285 331M330 280.5L329.5 280.5L329 283L328 285.5L326.5 287.5L326 288L325.5 290.5L325 293L323.5 295.5L323 297L319.5 297.5L319.5 298L318.5 300.5L317.5 303L316.5 305.5L316 306.5L315.5 308L315 310.5L314.5 313L314 315.5L313 318L312.5 320L312.5 320.5L311.5 323L310.5 325.5L309.5 328L309 330M395.5 324.5L394.5 323L393.5 320.5L393 318L392.5 315.5L392 313L392 312.5L392 313L391 315.5L390.5 318L389 320.5L388.5 322L387 323L385 324.5L384.5 325.5L382 328L381.5 328.5L378 328L377 325.5L376 323L375.5 320.5L375 318L374.5 317.5L373 315.5L371 313L370.5 310.5L369.5 308L369 305.5L368.5 303L368 300.5L368 298L367.5 297.5L366.5 298L364.5 299L361 299.5L360.5 300.5L360 303L359.5 305.5L358.5 308L357.5 310.5L357 313L356.5 315.5L355.5 318L354 320.5L354 321L350.5 321.5L347 322L343.5 322L342.5 323L340 325L337.5 323L336.5 322.5M433.5 319L431 320.5L430 321.5L428.5 323L426.5 325L426 325.5L425.5 328L425 330.5L423.5 333L423 334.5L420 333L419.5 332.5L418 330.5L416.5 328L416 327L415.5 328L415 330.5L414 333L412.5 335L410 333L409 332L405.5 331.5M461 341L460.5 340.5L458.5 338L457.5 335.5L457.5 335L456.5 333L455 330.5L454 328L450.5 330M516 325L514.5 325.5L512.5 326.5L511.5 328L509.5 330.5L509 331L508.5 333L506.5 335.5L506 336.5L505 335.5L503 333L502.5 331.5L499 332L498.5 330.5L497 328L496.5 325.5L496 323L495.5 321.5L495 320.5L493 318L492 316L488.5 316.5L487.5 318L485.5 320.5L485 321L481.5 322.5L480 320.5L478 318.5L477 318L474.5 317L474 318L472.5 320.5L471.5 322.5L470 323L468 323.5M533.5 307L531 305.5L530 305L529.5 305.5L527 308L526.5 308.5L526 308L524 305.5L523 304M550.5 306L549 308L547 309.5L545.5 308L544 305.5L543.5 305.5L540.5 307M88.5 36.5L90 38.5L88 40L87 40.5L88 41L91.5 41.5L95 42L95.5 42.5L95 43L94 44.5L95 44.5L98.5 45L102 45L105.5 46L106.5 46.5L109 47.5L111.5 46.5L112.5 46.5L116 45L119.5 46.5L116.5 48.5L119.5 50L119.5 50.5L119 50.5L116 49L112.5 50.5L109 50L107.5 50.5L108 52.5L105.5 54L103.5 52.5L102 51L100 50.5L98.5 50L95 50L93.5 50.5L95 52L98.5 52L99 52.5L98.5 52.5L96 54.5L95 55L92 54.5L91.5 54L88 53.5L85.5 52.5L85 51L83.5 52.5L85 53.5L85.5 54.5L85 55L81.5 55L80.5 54.5L78 53L75.5 54.5L74.5 55M278 215L278 215.5L278 218L278 220.5L277.5 223L277.5 225.5L277.5 228L277 230.5L277 233L277 235.5L277 238L276.5 240.5L276.5 243L276 245.5L276 248L276 250.5L275.5 253L275.5 255.5L275 258L275 260.5L274.5 263L274.5 264.5L274.5 265.5L274.5 268L274 270.5L274 273L273.5 275.5L273 278L273 280.5L272.5 283L272.5 285.5L272 288L271.5 290.5L271 293L270.5 293L267.5 293L266.5 295.5L264.5 298L264 299L263.5 298L262 295.5L261 293L261 292.5L260.5 290.5L260 288L259.5 285.5L259 283L258.5 280.5L258 278L258 275.5L257.5 273L257.5 272L257 270.5L257 268L257 265.5L256.5 263L256.5 260.5L256.5 258L256.5 255.5L256 253L256 250.5L256 248L256 245.5L255.5 243L255.5 240.5L255.5 238L255.5 235.5L255.5 233L255.5 230.5L255.5 228L255.5 225.5L255 223L255 220.5L255 218L255 215.5L255 213L255 210.5L255 208L255 205.5L255 203L255 200.5L255 198L255 195.5L255 193L254.5 190.5L254.5 188L254.5 185.5L254.5 183L254.5 180.5L254.5 178L254.5 175.5L254.5 173L254.5 170.5L254.5 168L254.5 165.5L254.5 163L254.5 160.5L254.5 158L254.5 155.5L254 153L254 150.5L254 148L254 145.5L254 143L254 140.5L254 138L253 138L250.5 139L249.5 138L247.5 135.5L247 135L243.5 135L242.5 135.5L240 137.5L238 135.5L236.5 133L233.5 135.5L233 135.5L232.5 138L232 140.5L231 143L229.5 145.5L228.5 148L226.5 150.5L226 151L226 150.5L225.5 148L225 145.5L224.5 143L224 140.5L223.5 138L223 135.5L223 133L223 132.5L220 130.5L219.5 130L218 130.5L216 131.5L215 133L213.5 135.5L212.5 136.5L211.5 135.5L210 133L209 130.5L208 133L207 135.5L206 138L205.5 138.5L205.5 140.5L205 143L204.5 145.5L204 148L203.5 150.5L203 153L202 155.5L202 156L202 155.5L200.5 153L199.5 150.5L198.5 148L196 145.5L195 144L194.5 143L193.5 140.5L192.5 138L192 135.5L191.5 135L190 135.5L188.5 136L188 135.5L186.5 133L185 130.5L185 130L184.5 130.5L183.5 133L182.5 135.5L181.5 137.5L180.5 135.5L179.5 133L178.5 130.5L178 129L177.5 130.5L177.5 133L177 135.5L177 138L176.5 140.5L176 143L175.5 145.5L175 148L175 150.5L174.5 152L174 150.5L173.5 148L172.5 145.5L172 143L171.5 140.5L171 138L171 137.5L169.5 135.5L168 133L167.5 132.5L167 133L165 135.5L164 136L164 135.5L162 133L161 130.5L160.5 129.5L160.5 130.5L160.5 133L160 135.5L159.5 138L159.5 140.5L159 143L158.5 145.5L158 148L157.5 150.5L157 151.5L157 150.5L156.5 148L156 145.5L155.5 143L155 140.5L154.5 138L154.5 135.5L154 133L154 131L153 133L152 135.5L151 138L150.5 139L150 140.5L149.5 143L148.5 145.5L147.5 148L147 150L146 148L145.5 145.5L144.5 143L144 140.5L143.5 138L143.5 136.5L141 138L140 138.5L139.5 140.5L138.5 143L137 145.5L136.5 146.5L136 145.5L135.5 143L134.5 140.5L134 138L133.5 135.5L133 133L132 135.5L131 138L130 140.5L129.5 141L128.5 143L127.5 145.5L126 148L125.5 145.5L124.5 143L124 140.5L123.5 138L123 135.5L122.5 135L121.5 133L121 130.5L120 128L119.5 125.5L119.5 125L118.5 125.5L116 127.5L112.5 126.5L112 128L111 130.5L110 133L109 135L107.5 133L106.5 130.5L105.5 128.5L102 130L101.5 130.5L98.5 133L95 131.5L94.5 130.5L93 128L91.5 126L88 127.5L88 128L86 130.5L85 131.5L81.5 130.5L81 130.5L80 133L79 135.5L78 137L77.5 138L77 140.5L76.5 143L76 145.5L75 148L74.5 150M102 48L101 48.5L102 50L103 48.5L102 48M98.5 133L98.5 133M122.5 45.5L119.5 46.5L122.5 48.5L126 49L129.5 50.5L131.5 48.5L129.5 47.5L126 46.5L122.5 45.5M119.5 50.5L119.5 50.5M122.5 54L121.5 54.5L122.5 56L126 55.5L129.5 54.5L126 53L122.5 54M126 46.5L126 46.5M133 51L131.5 52.5L133 53L136 54.5L136.5 55L137 54.5L136.5 54L134 52.5L133 51M130 54.5L129.5 54.5L130 54.5M162 36.5L162.5 38.5L162 40.5L160.5 41L159 42.5L157 43.5L154 43.5L152 44.5L150.5 45.5L148 44.5L147 44L143.5 44L143 44.5L140 46L136.5 45.5L136 46.5L136.5 47L140 48L143.5 47.5L147 47.5L150.5 48L152.5 48.5L154 49L156.5 50.5L157 51L158 50.5L160 48.5L160.5 48.5L164 50L166.5 50.5L166 52.5L167.5 53.5L168.5 52.5L169.5 50.5L171 50L171.5 50.5L173.5 52.5L174.5 53.5L176 52.5L178 52L180.5 52.5L181.5 54L182 52.5L185 51L188 52.5L188.5 52.5L191.5 53.5L195 53L198.5 53L199 52.5L198.5 52L197 50.5L198.5 50L201.5 48.5L202 46.5L200 44.5L201 42.5L202 40.5L202 39.5L202.5 38.5L202 38L201 36.5M140 49L138.5 50.5L140 52L141.5 52.5L143.5 54L147 53.5L150.5 53L152 52.5L150.5 52L148.5 50.5L147 49.5L144.5 50.5L143.5 51L142.5 50.5L140 49M202 46.5L202 46.5M302 320L300 318L298.5 316L298.5 315.5L297 313L295.5 310.5L295.5 309.5L294 308L292.5 305.5L292 303L291.5 303L288.5 304.5L285 304.5M330 250L329.5 250.5L329 253L327.5 255.5L326.5 257.5L326 258L325.5 260.5L325 263L324 265.5L323 268L322 268L319.5 268.5L319 270.5L318.5 273L317.5 275.5L316 278L315.5 280.5L315 283L315 285.5L314.5 288L313.5 290.5L313 293L312.5 294L312 295.5L311.5 298L310.5 300.5L309.5 303L309 304.5M395.5 297.5L394.5 295.5L393.5 293L393 290.5L392.5 288L392 285.5L392 285L392 285.5L391 288L390.5 290.5L389.5 293L388.5 295.5L388.5 296L385 298L381.5 300.5L380.5 300.5L378 301L378 300.5L376.5 298L376 295.5L375 293L375 290.5L374.5 290L373 288L371.5 285.5L371 285.5L370.5 283L369.5 280.5L369 278L368.5 275.5L368 273L368 270.5L367.5 270L364.5 270.5L363.5 270.5L361 272L360.5 273L360 275.5L359 278L358 280.5L357.5 282.5L357 283L356.5 285.5L356 288L355.5 290.5L354.5 293L354 294L351.5 293L350.5 292.5L348.5 293L347 293.5L343.5 295.5L341 298L340 299L339 298L336.5 296M385 298L385 298M433.5 292L431 293L430 293.5L428.5 295.5L426.5 297.5L426.5 298L425.5 300.5L425 303L424 305.5L423 308L419.5 306.5L418.5 305.5L417 303L416 300.5L415.5 303L414.5 305.5L413.5 308L412.5 310L410 308L409 307L406.5 305.5L405.5 305M461 316L460.5 315.5L459 313L458 310.5L457.5 310L456 308L455 305.5L454 303L450.5 305M468 295.5L471.5 296.5L472 295.5L473 293L474 290.5L474.5 288L474.5 287.5L475 288L476.5 290.5L478 292.5L480 293L481.5 294L485 294L486 293L488 290.5L488.5 290L492 289L492.5 290.5L494 293L495.5 295.5L496 298L497 300.5L497.5 303L499 305.5L500 305.5L502.5 306L503 308L504 310.5L505.5 313L506 313L507.5 310.5L508.5 308L509 305.5L509 305L510.5 303L512 300.5L512.5 298L513.5 298L516 299M506 313L506 313M533.5 280L531.5 278L530 275.5L530 275L529.5 275.5L528.5 278L526.5 280.5L524 278L523 276M550.5 277.5L550.5 278L548.5 280.5L547 281.5L546.5 280.5L545 278L543.5 275.5L540.5 278M89.5 36.5L91 38.5L89.5 40.5L91.5 41L93 40.5L95 39.5L96.5 40.5L98 42.5L98.5 43L100 44.5L102 44.5L105.5 45.5L108 46.5L109 47L110 46.5L112.5 46L115.5 44.5L116 44.5L116.5 44.5L119.5 46L122.5 45L126 46L128 46.5L129.5 47L133 48.5L133 49L134.5 50.5L135 52.5L136.5 53.5L138 54.5L136.5 55.5L135.5 54.5L133 53.5L130.5 52.5L129.5 51.5L127.5 52.5L129.5 53.5L130.5 54.5L129.5 55L126 56.5L122.5 57L119.5 56.5L116 56.5L112.5 55L110 54.5L109 54L107.5 54.5L105.5 54.5L102 56.5L101.5 56.5L98.5 56L97 54.5L98.5 53.5L101 54.5L102 56.5L103.5 58.5L102 59L100 58.5L98.5 57L98 56.5L95 56L91.5 55.5L89.5 54.5L88 54.5L87.5 54.5L85 56L81.5 56.5L79 54.5L78 54L77 54.5L74.5 55.5M278 190L278 190.5L278 193L278 195.5L277.5 198L277.5 200.5L277.5 203L277 205.5L277 208L277 210.5L277 213L276.5 215.5L276.5 218L276.5 220.5L276 223L276 225.5L276 228L275.5 230.5L275.5 233L275.5 235.5L275 238L275 240.5L274.5 243L274.5 245L274.5 245.5L274.5 248L274 250.5L274 253L273.5 255.5L273.5 258L273.5 260.5L273 263L273 265.5L272.5 268L272 270.5L272 273L271.5 275.5L271 278L270 278L267.5 278.5L266.5 280.5L264.5 283L264 283.5L264 283L262.5 280.5L261.5 278L261 276L260.5 275.5L260 273L259.5 270.5L259 268L259 265.5L258.5 263L258 260.5L257.5 258L257.5 255.5L257.5 255L257 253L257 250.5L257 248L256.5 245.5L256.5 243L256.5 240.5L256.5 238L256.5 235.5L256 233L256 230.5L256 228L256 225.5L256 223L256 220.5L256 218L255.5 215.5L255.5 213L255.5 210.5L255.5 208L255.5 205.5L255.5 203L255.5 200.5L255.5 198L255.5 195.5L255.5 193L255 190.5L255 188L255 185.5L255 183L255 180.5L255 178L255 175.5L255 173L255 170.5L255 168L255 165.5L255 163L255 160.5L255 158L254.5 155.5L254.5 153L254.5 150.5L254.5 148L254.5 145.5L254.5 143L254.5 140.5L254.5 138L254 135.5L254 133L254 130.5L254 128L254 126L251 125.5L250.5 125.5L248 123L247 121.5L243.5 122L242 123L240 124.5L239 123L237 120.5L236.5 120L236.5 120.5L233 123L232.5 125.5L231.5 128L230.5 130.5L230 133L229.5 133.5L228 135.5L226.5 138L226 138.5L226 138L225.5 135.5L225.5 133L225 130.5L224.5 128L224 125.5L223.5 123L223 120.5L223 119.5L222 118.5L220 116.5L219.5 116L216.5 116.5L216 116.5L215 118.5L214 120.5L212.5 123L212.5 123.5L212 123L211 120.5L210 118.5L209 117L208.5 118.5L207.5 120.5L207 123L206 125.5L205.5 126L205 128L205 130.5L204.5 133L204 135.5L203.5 138L203 140.5L202 143L202 143.5L202 143L200.5 140.5L199.5 138L198.5 136L198 135.5L195 133L194.5 130.5L193.5 128L193 125.5L192.5 123L192 120.5L191.5 120.5L188.5 123L186.5 120.5L185.5 118.5L185 117.5L184 118.5L182.5 120.5L181.5 122.5L180.5 120.5L179.5 118.5L178 116.5L178 116L178 116.5L177.5 118.5L177.5 120.5L177 123L176.5 125.5L176 128L175.5 130.5L175.5 133L175 135.5L174.5 137.5L174 135.5L173.5 133L172.5 130.5L172 128L171.5 125.5L171 123L171 122.5L169 120.5L167.5 118.5L166.5 120.5L165 123L164 124L163.5 123L162.5 120.5L161.5 118.5L160.5 116.5L160.5 118.5L160 120.5L159.5 123L159 125.5L159 128L158.5 130.5L158 133L158 135.5L157.5 138L157 139L157 138L156.5 135.5L156 133L156 130.5L155.5 128L155 125.5L154.5 123L154 120.5L154 118.5L154 117.5L153.5 118.5L153 120.5L152 123L151 125.5L150.5 127L150 128L149 130.5L148 133L147 135.5L147 136.5L146.5 135.5L146 133L145.5 130.5L144.5 128L144 125.5L143.5 123L143.5 122.5L143 123L140 125L140 125.5L138.5 128L137.5 130.5L136.5 132L136 130.5L135 128L134.5 125.5L134 123L133.5 120.5L133 119.5L132.5 120.5L131 123L129.5 125.5L129 128L128 130.5L126.5 133L126 133.5L126 133L125 130.5L124.5 128L123.5 125.5L123 123L122.5 122L122 120.5L121.5 118.5L120.5 116.5L120 114.5L119.5 112.5L117 114.5L116 115.5L112.5 114.5L111 116.5L110 118.5L109 120L107 118.5L105.5 117L102 118L101 118.5L98.5 119.5L96.5 118.5L95 117.5L94.5 116.5L93 114.5L91.5 112.5L88 114.5L86 116.5L85 118L81.5 118L81 118.5L79.5 120.5L78 123L77.5 125.5L76.5 128L76 130.5L75.5 133L75 135.5L74.5 138M78 123L78 123M95 50L94.5 50.5L95 51L97.5 50.5L95 50M102 42.5L100 42.5L102 43L102.5 42.5L102 42.5M102 48.5L101.5 48.5L102 49L102.5 48.5L102 48.5M102 52.5L102 52.5M109 50.5L108.5 50.5L109 51L109.5 50.5L109 50.5M116 49.5L114 50.5L112.5 52.5L116 54L117.5 54.5L119.5 56L120 54.5L122.5 53.5L125.5 52.5L125.5 50.5L122.5 49L120.5 48.5L119.5 48L118.5 48.5L119.5 49L120.5 50.5L119.5 51L117.5 50.5L116 49.5M129.5 64.5L130 64.5L129.5 64.5M129.5 125.5L129.5 125.5M159.5 36.5L160.5 37.5L161.5 38.5L160.5 39.5L158 40.5L157.5 42.5L157 42.5L154 43L151.5 42.5L150.5 42L149 42.5L150.5 43L151.5 44.5L150.5 45L149 44.5L147 43L143.5 43.5L142.5 44.5L140 46L137 44.5L136.5 44L135.5 44.5L135 46.5L136.5 48.5L137 48.5L137.5 50.5L140 52.5L143 54.5L143.5 55.5L147 55.5L148 54.5L150.5 53.5L154 53L156.5 52.5L154 51.5L150.5 51L149.5 50.5L147 49L143.5 50L141.5 48.5L143.5 48L147 48L150.5 48.5L154 50L155 50.5L157 52.5L159.5 50.5L160.5 49.5L163 50.5L164 52.5L167.5 54.5L169.5 52.5L171 51L172.5 52.5L174.5 54L177.5 52.5L178 52.5L178.5 52.5L179.5 54.5L181.5 56L185 55L186 54.5L185 53L184 52.5L185 52L186 52.5L188.5 53.5L191.5 54.5L195 53.5L198.5 54L199.5 52.5L199.5 50.5L202 49L202 48.5L203 46.5L202 45.5L201 44.5L201.5 42.5L202 42L203 40.5L204 38.5L202 37L202 36.5M136.5 60L136 60.5L136.5 61L137 60.5L136.5 60M143.5 58.5L143.5 58.5M167.5 54.5L167.5 54.5M302 304.5L301 303L298.5 300.5L297 298L295.5 295.5L295.5 295L294 293L293 290.5L292 288L291.5 288L288.5 288.5L285 289.5M330 235.5L328.5 238L326.5 240.5L326.5 241L326 243L325 245.5L324.5 248L323.5 250.5L323 252L319.5 252.5L319 253L318.5 255.5L317.5 258L317 260.5L316 262.5L316 263L315.5 265.5L315 268L314.5 270.5L314 273L313 275.5L312.5 278L312.5 278.5L312 280.5L311 283L310.5 285.5L309.5 288L309 289M395.5 283L394.5 280.5L394 278L393.5 275.5L393 273L392.5 270.5L392 269L391.5 270.5L390.5 273L390 275.5L389 278L388.5 280L388 280.5L385 283L382.5 285.5L381.5 286.5L378 287.5L377.5 285.5L377 283L376.5 280.5L375.5 278L375 275.5L374.5 273L372 270.5L371 270L370.5 268L370 265.5L369.5 263L369 260.5L368.5 258L368 255.5L367.5 254.5L364.5 254.5L361 255L360.5 255.5L360 258L359.5 260.5L359 263L358 265.5L357.5 267L357 268L356.5 270.5L355.5 273L355 275.5L354 278L352.5 278L350.5 277.5L347 277.5L346.5 278L343.5 280.5L341 283L340 283.5L339.5 283L337.5 280.5L336.5 279.5M343.5 280.5L343.5 280.5M354 278L354 278M385 283L385 283M433.5 277L431.5 278L430 279L427.5 280.5L426.5 281L426 283L425 285.5L424.5 288L423.5 290.5L423 292.5L419.5 292.5L418.5 290.5L417 288L416 285.5L415.5 288L414.5 290.5L413.5 293L412.5 295.5L412.5 296L412.5 295.5L410.5 293L409 291.5L405.5 290.5M461 300L459.5 298L458 295.5L457.5 294.5L456.5 293L455.5 290.5L454 288.5L451.5 290.5L450.5 291M516 284.5L512.5 284.5L512 285.5L511 288L509.5 290.5L509 291L508.5 293L507 295.5L506 298L504.5 295.5L503.5 293L502.5 290.5L502.5 290L499 290L498 288L497.5 285.5L496.5 283L496 280.5L495.5 279L495 278L493 275.5L492 274L488.5 274L487.5 275.5L486.5 278L485 280L481.5 279L480.5 278L478 275.5L474.5 273.5L474 275.5L473 278L472 280.5L471.5 282L468 280.5M533.5 264.5L532.5 263L530.5 260.5L530 259.5L529.5 260.5L528.5 263L527 265.5L526.5 266.5L526 265.5L524.5 263L523.5 260.5L523 259.5M550.5 263L547 265L545.5 263L544 260.5L543.5 260.5L541.5 263L540.5 264.5M203 36.5L205.5 38.5L204 40.5L202.5 42.5L202 43.5L201.5 44.5L202 45L203.5 46.5L202.5 48.5L202.5 50.5L202 51L200.5 52.5L199 54.5L198.5 54.5L197.5 54.5L195 54L194 54.5L193 56.5L191.5 57.5L188.5 56.5L188 56.5L185 55.5L182 56.5L181.5 57L178 57L176.5 56.5L174.5 55L173.5 54.5L171 52.5L169 54.5L167.5 55.5L164 56.5L163.5 54.5L162.5 52.5L160.5 51L158.5 52.5L158 54.5L157 55L157 54.5L154 53.5L150.5 54L149 54.5L147 56.5L145.5 56.5L144.5 58.5L147 60.5L143.5 61L142.5 60.5L141.5 58.5L140 57.5L138 56.5L136.5 56L134.5 54.5L133 53.5L131 54.5L129.5 55.5L127.5 56.5L126 57L122.5 57.5L119.5 57L116 57L113.5 56.5L112.5 56L109 55L105.5 55L103 56.5L105.5 58.5L102 59.5L98.5 58.5L98 58.5L95 56.5L91.5 56.5L88 55.5L86.5 56.5L85 57L82.5 58.5L81.5 59.5L79 58.5L78 57.5L76.5 56.5L74.5 56M74.5 59L76.5 58.5L74.5 57.5M278 170L278 170.5L278 173L277.5 175.5L277.5 178L277.5 180.5L277.5 183L277 185.5L277 188L277 190.5L276.5 193L276.5 195.5L276.5 198L276.5 200.5L276 203L276 205.5L276 208L275.5 210.5L275.5 213L275.5 215.5L275 218L275 220.5L275 223L274.5 225.5L274.5 226.5L274.5 228L274.5 230.5L274 233L274 235.5L274 238L273.5 240.5L273.5 243L273.5 245.5L273 248L273 250.5L272.5 253L272.5 255.5L272 258L272 260.5L271.5 263L271 265.5L271 266L269.5 265.5L267.5 265L267.5 265.5L266.5 268L265 270.5L264 272.5L263.5 270.5L262.5 268L261.5 265.5L261 263L260 260.5L260 258L259.5 255.5L259 253L258.5 250.5L258 248L258 245.5L257.5 243L257.5 241L257.5 240.5L257 238L257 235.5L257 233L257 230.5L257 228L256.5 225.5L256.5 223L256.5 220.5L256.5 218L256.5 215.5L256.5 213L256 210.5L256 208L256 205.5L256 203L256 200.5L256 198L256 195.5L256 193L255.5 190.5L255.5 188L255.5 185.5L255.5 183L255.5 180.5L255.5 178L255.5 175.5L255.5 173L255.5 170.5L255.5 168L255.5 165.5L255.5 163L255 160.5L255 158L255 155.5L255 153L255 150.5L255 148L255 145.5L255 143L255 140.5L255 138L254.5 135.5L254.5 133L254.5 130.5L254.5 128L254.5 125.5L254 123L254 120.5L254 118.5L254 116.5L254 114.5L254 114L250.5 113.5L249.5 112.5L248.5 110.5L247 108.5L246 108.5L243.5 109L242.5 110.5L241.5 112.5L240.5 114.5L240 115L240 114.5L239 112.5L238 110.5L237 108.5L236.5 107.5L236 108.5L234.5 110.5L233.5 112.5L233 113L232.5 114.5L231.5 116.5L230.5 118.5L229.5 120.5L227.5 123L226 124L226 123L225.5 120.5L225 118.5L224.5 116.5L224 114.5L224 112.5L223.5 110.5L223 108.5L223 106.5L219.5 104.5L219 104.5L216 105L215 106.5L214 108.5L212.5 110.5L210.5 108.5L209 107L208.5 108.5L207.5 110.5L206.5 112.5L205.5 114L205.5 114.5L205 116.5L204.5 118.5L204.5 120.5L204 123L203.5 125.5L203 128L202.5 130.5L202 133L201 130.5L200.5 128L199.5 125.5L198.5 123L198.5 122.5L195 121.5L195 120.5L194.5 118.5L194 116.5L193.5 114.5L193 112.5L192.5 110.5L192 108.5L191.5 108L191.5 108.5L189.5 110.5L188.5 111.5L188 110.5L186.5 108.5L185.5 106.5L185 105L184 106.5L183 108.5L181.5 110L180 108.5L178.5 106.5L178 105L177.5 106.5L177.5 108.5L177 110.5L176.5 112.5L176.5 114.5L176 116.5L176 118.5L175.5 120.5L175 123L174.5 125.5L174.5 126.5L174.5 125.5L173.5 123L173 120.5L172.5 118.5L172 116.5L172 114.5L171.5 112.5L171 111.5L170.5 110.5L169 108.5L167.5 106.5L166.5 108.5L165 110.5L164 112L163.5 110.5L162.5 108.5L162 106.5L161.5 104.5L161 102.5L160.5 102.5L160.5 104.5L160 106.5L160 108.5L159.5 110.5L159.5 112.5L159 114.5L159 116.5L158.5 118.5L158 120.5L157.5 123L157 125.5L156.5 123L156 120.5L156 118.5L155.5 116.5L155 114.5L155 112.5L154.5 110.5L154.5 108.5L154 106.5L154 105L153.5 106.5L152.5 108.5L152 110.5L151.5 112.5L150.5 114.5L150.5 115.5L150 116.5L149 118.5L148.5 120.5L147.5 123L147 124L146.5 123L146 120.5L145.5 118.5L145 116.5L144 114.5L143.5 112.5L143.5 111.5L142.5 112.5L141 114.5L140 116L139.5 116.5L138 118.5L137 120.5L136.5 121L136.5 120.5L136 118.5L135.5 116.5L135 114.5L134 112.5L133.5 110.5L133 108.5L132 110.5L130.5 112.5L129.5 114L129.5 114.5L129 116.5L128 118.5L127 120.5L126 122.5L125.5 120.5L125 118.5L124.5 116.5L124 114.5L123.5 112.5L123 110.5L122.5 109.5L122 108.5L121 106.5L120.5 104.5L119.5 102.5L119.5 101L117.5 102.5L116 104L114 102.5L112.5 100.5L111.5 102.5L111 104.5L110 106.5L109 108.5L107 106.5L105.5 104.5L105.5 104L105 104.5L102.5 106.5L102 107L98.5 107.5L97 106.5L95 104.5L93 102.5L91.5 101L88.5 102.5L88 102.5L85 104.5L84 104.5L81.5 105.5L81 106.5L80 108.5L78.5 110.5L78 111.5L77.5 112.5L77 114.5L76.5 116.5L76 118.5L75.5 120.5L74.5 123L74.5 124M90.5 36.5L91.5 38L95 38L95.5 38.5L98 40.5L98.5 41L102 41.5L104 42.5L103.5 44.5L105.5 45L107.5 44.5L109 42.5L109.5 44.5L112.5 45.5L114 44.5L116 44L117.5 44.5L119.5 45.5L122.5 44.5L126 45.5L129.5 45.5L131 46.5L133 47L133.5 46.5L134 44.5L136.5 43.5L138 44.5L140 45.5L142 44.5L143.5 42.5L145 42.5L147 42.5L150.5 40.5L153.5 42.5L154 42.5L152 40.5L154 40L157 39.5L159.5 38.5L158.5 36.5M98.5 54.5L98.5 55L99 54.5L98.5 54.5M109 58L105.5 58.5L109 60.5L109.5 58.5L109 58M109 64.5L109 64.5M109 60.5L109 60.5M109 108.5L109 108.5M116 50.5L113.5 52.5L116 53.5L119.5 54.5L122.5 53L123.5 52.5L124 50.5L122.5 50L122 50.5L119.5 51.5L116 50.5M122.5 60L122.5 60.5L125.5 62.5L126 63L128.5 64.5L129.5 65.5L130.5 64.5L129.5 63.5L127.5 62.5L126 61L124 60.5L122.5 60M126 68.5L126 68.5M129.5 60L127.5 60.5L129.5 61L131.5 60.5L129.5 60M136.5 50.5L136 52.5L136.5 53L139 54.5L140 55.5L141.5 54.5L140 53.5L138 52.5L136.5 50.5M136.5 59L134 60.5L136.5 61.5L138.5 62.5L140 63.5L141 62.5L140 62L138 60.5L136.5 59M150.5 44.5L150 44.5L150.5 44.5M147 60.5L147 60.5M154 42.5L154 42.5M188.5 54L187.5 54.5L188.5 56L190 54.5L188.5 54M202 133L202 133M209 36.5L209 36.5M205.5 38.5L205.5 38.5M302 292.5L300.5 290.5L298.5 288L297.5 285.5L296 283L295.5 282L294.5 280.5L293 278L292 275.5L292 275L288.5 275L287 275.5L285 276.5M330 222L329.5 223L328 225.5L327 228L326.5 229L326 230.5L325 233L324.5 235.5L323.5 238L323 240L320 240.5L319.5 240.5L318.5 243L317.5 245.5L316.5 248L316 249.5L316 250.5L315.5 253L315 255.5L314.5 258L314 260.5L313 263L312.5 265.5L312.5 266L312 268L311 270.5L310 273L309 275.5M395.5 270L395 268L394 265.5L393.5 263L392.5 260.5L392 258L392 257L391.5 258L390.5 260.5L389.5 263L388.5 265.5L388.5 266L387 268L385.5 270.5L385 271L381.5 272.5L380 273L378 273.5L378 273L377 270.5L376.5 268L375.5 265.5L375 263L374.5 262L373.5 260.5L371.5 258L371 257.5L370.5 255.5L370 253L369.5 250.5L369 248L368.5 245.5L368 243L367.5 242L364.5 241L361 242L360.5 243L360 245.5L359.5 248L358.5 250.5L358 253L357.5 255.5L357.5 256L356.5 258L355.5 260.5L355 263L354 265.5L350.5 265.5L347 264.5L345 265.5L343.5 266.5L342 268L340 269.5L338.5 268L336.5 266.5M433.5 263L430 264.5L429 265.5L427.5 268L426.5 270L426 270.5L425.5 273L424.5 275.5L423.5 278L423 280L419.5 279.5L418.5 278L417 275.5L416 274L415.5 275.5L414 278L413 280.5L412.5 281L412 280.5L409 278.5L407 278L405.5 277.5M461 287L460 285.5L459 283L457.5 280.5L457.5 280L456 278L454 275.5L450.5 277.5M516 270.5L515.5 270.5L512.5 271.5L512 273L510.5 275.5L509 278L508 280.5L506.5 283L506 284.5L505 283L504 280.5L502.5 278L502.5 277.5L499 276.5L498.5 275.5L497.5 273L497 270.5L496 268L495.5 266L495 265.5L493 263L492 261.5L488.5 261.5L487.5 263L485.5 265.5L485 266L481.5 267.5L480 265.5L478.5 263L478 262.5L475.5 260.5L474.5 259.5L474.5 260.5L473.5 263L472.5 265.5L471.5 268L471.5 269L468 268.5M533.5 250L531 248L530 247L529.5 248L528 250.5L526.5 252.5L525 250.5L523.5 248L523 247.5M550.5 250L550 250.5L547 252.5L545.5 250.5L543.5 248L541.5 250.5L540.5 251.5M204 36.5L205.5 37.5L207.5 38.5L205.5 40.5L203.5 42.5L204.5 44.5L204 46.5L203.5 48.5L203.5 50.5L202 51.5L201 52.5L200.5 54.5L198.5 55.5L195 56L195 56.5L194 58.5L191.5 58.5L188.5 57.5L186 56.5L185 56L184 56.5L185 58L185 58.5L183.5 58.5L181.5 58.5L178 57.5L174.5 57L171 57L170 56.5L167.5 56L166.5 56.5L167.5 57.5L169 58.5L167.5 59.5L167 58.5L164 57L163 56.5L161 54.5L161 52.5L160.5 52L160 52.5L160.5 54.5L157.5 56.5L157 58L156.5 56.5L155.5 54.5L154 54L150.5 54.5L150.5 55L149 56.5L147 57.5L146 58.5L147 59.5L148 60.5L147 61.5L143.5 62L141 60.5L140 59L139 60.5L140 61.5L142.5 62.5L140 64.5L136.5 62.5L133 61L129.5 62.5L131 64.5L129.5 66L128 64.5L126 63.5L124.5 62.5L122.5 61L121.5 60.5L122.5 59.5L126 59.5L129.5 59.5L133 60L135.5 58.5L136 56.5L134 54.5L133 54L132 54.5L129.5 56L129 56.5L126 58L122.5 58L119.5 57L116 57.5L112.5 57L110 56.5L109 56L105.5 56L104 56.5L105.5 57.5L109 57L110.5 58.5L110 60.5L109 61.5L107.5 60.5L105.5 59L102 59.5L98.5 59L96 58.5L95 58L91.5 57L88 57L85 58L84 58.5L81.5 60.5L78 59L74.5 60M78 62.5L77 62.5L78 62.5M278 150L278 150.5L278 153L277.5 155.5L277.5 158L277.5 160.5L277.5 163L277 165.5L277 168L277 170.5L277 173L276.5 175.5L276.5 178L276.5 180.5L276 183L276 185.5L276 188L276 190.5L275.5 193L275.5 195.5L275.5 198L275 200.5L275 203L275 205.5L274.5 208L274.5 208.5L274.5 210.5L274.5 213L274 215.5L274 218L274 220.5L274 223L273.5 225.5L273.5 228L273.5 230.5L273 233L273 235.5L273 238L272.5 240.5L272.5 243L272 245.5L272 248L271.5 250.5L271.5 253L271 254L267.5 255L267 255.5L265.5 258L264 260L263.5 258L262 255.5L261 253L260.5 250.5L260 248L259.5 245.5L259 243L259 240.5L258.5 238L258.5 235.5L258 233L258 230.5L257.5 228L257.5 225.5L257.5 224.5L257 223L257 220.5L257 218L257 215.5L257 213L257 210.5L257 208L256.5 205.5L256.5 203L256.5 200.5L256.5 198L256.5 195.5L256.5 193L256.5 190.5L256 188L256 185.5L256 183L256 180.5L256 178L256 175.5L256 173L256 170.5L256 168L256 165.5L255.5 163L255.5 160.5L255.5 158L255.5 155.5L255.5 153L255.5 150.5L255.5 148L255.5 145.5L255.5 143L255.5 140.5L255.5 138L255 135.5L255 133L255 130.5L255 128L255 125.5L254.5 123L254.5 120.5L254.5 118.5L254.5 116.5L254.5 114.5L254.5 112.5L254 110.5L254 108.5L254 106.5L254 104.5L254 103.5L250.5 102.5L250 102.5L248.5 100.5L247 98.5L246 98.5L243.5 98L243 98.5L242 100.5L240.5 102.5L240 103L239.5 102.5L238.5 100.5L237 98.5L236.5 98L236 98.5L233.5 100.5L233 101L232.5 102.5L232 104.5L231.5 106.5L230.5 108.5L229.5 110.5L228 112.5L226.5 114.5L226 114.5L226 112.5L225.5 110.5L225 108.5L225 106.5L224.5 104.5L224 102.5L223.5 100.5L223 98.5L223 96.5L221 94.5L219.5 93L218 94.5L216 96.5L214.5 98.5L213.5 100.5L212.5 102.5L211.5 100.5L210.5 98.5L209 96.5L208 98.5L207 100.5L206.5 102.5L205.5 104.5L205 106.5L204.5 108.5L204 110.5L203.5 112.5L203.5 114.5L203 116.5L202.5 118.5L202 120.5L202 121L202 120.5L201 118.5L200.5 116.5L199.5 114.5L198.5 112.5L195 110.5L194.5 108.5L194 106.5L193.5 104.5L193 102.5L192.5 100.5L192 98.5L191.5 98.5L188.5 100.5L188.5 101L188 100.5L187.5 98.5L186.5 96.5L185.5 94.5L185 92.5L184 94.5L183.5 96.5L182.5 98.5L182 100.5L181.5 102L181 100.5L180 98.5L179.5 96.5L178.5 94.5L178 93.5L178 94.5L177.5 96.5L177.5 98.5L177 100.5L176.5 102.5L176 104.5L176 106.5L175.5 108.5L175.5 110.5L175 112.5L174.5 114.5L174.5 115.5L174.5 114.5L174 112.5L173.5 110.5L173 108.5L172.5 106.5L172 104.5L171.5 102.5L171 100.5L169.5 98.5L167.5 96.5L166 98.5L164.5 100.5L164 101L164 100.5L163 98.5L162.5 96.5L161.5 94.5L160.5 93L160.5 94.5L160 96.5L160 98.5L159.5 100.5L159 102.5L158.5 104.5L158.5 106.5L158 108.5L158 110.5L158 112.5L157.5 114.5L157 116.5L157 114.5L156.5 112.5L156.5 110.5L156 108.5L156 106.5L155.5 104.5L155 102.5L154.5 100.5L154.5 98.5L154 96.5L154 94.5L153 96.5L152.5 98.5L151.5 100.5L151 102.5L150.5 104L150 104.5L149.5 106.5L148.5 108.5L148 110.5L147 112.5L147 113.5L146.5 112.5L146 110.5L145.5 108.5L145 106.5L144.5 104.5L144 102.5L143.5 101L142 102.5L140.5 104.5L140 105L139 106.5L137.5 108.5L136.5 109.5L136 108.5L135.5 106.5L135 104.5L134 102.5L133.5 100.5L133 99L132.5 100.5L131 102.5L129.5 104.5L128.5 106.5L127.5 108.5L127 110.5L126 112.5L125.5 110.5L125.5 108.5L124.5 106.5L124 104.5L123.5 102.5L122.5 101L122.5 100.5L122 98.5L121 96.5L120.5 94.5L119.5 92.5L119.5 91.5L116 92.5L115 92.5L112.5 92L112 92.5L111 94.5L110 96.5L109 98.5L109 99L108.5 98.5L106.5 96.5L105.5 95.5L102.5 96.5L102 96.5L98.5 97.5L97 96.5L95 95L94.5 94.5L93 92.5L91.5 91.5L88 92L88 92.5L86 94.5L85 96L81.5 95.5L80.5 96.5L79.5 98.5L78.5 100.5L78 101.5L77.5 102.5L77 104.5L76.5 106.5L76 108.5L75.5 110.5L75 112.5L74.5 114.5L74.5 115M91.5 36.5L95 37.5L96 38.5L98.5 40L100 40.5L102 41L105 42.5L105.5 43L106 42.5L109 42L112.5 42L113 42.5L116 44L118.5 44.5L119.5 45L120.5 44.5L122.5 43.5L124 44.5L126 45L128.5 44.5L129.5 44L133 44L136.5 42.5L138.5 44.5L140 45L141 44.5L142.5 42.5L143.5 42L147 42L149.5 40.5L150.5 39.5L154 39L156 38.5L156.5 36.5M91.5 60L90.5 60.5L91.5 61L94.5 62.5L95 63L96 62.5L95 61.5L94 60.5L91.5 60M91.5 64.5L91 64.5L91.5 65L92 64.5L91.5 64.5M102 62L101.5 62.5L102 63.5L102.5 62.5L102 62M109 63.5L108 64.5L108.5 66.5L109 67L109.5 66.5L109.5 64.5L109 63.5M112.5 43.5L111 44.5L112.5 45L113 44.5L112.5 43.5M116 51.5L115 52.5L116 53L119.5 53.5L121.5 52.5L119.5 52L116 51.5M116 92.5L116 92.5M126 66.5L125.5 68.5L126 69L129.5 70.5L127.5 68.5L126.5 66.5L126 66.5M126 72L125.5 72.5L126 72.5L126.5 72.5L126 72M129.5 70.5L129.5 70.5M126 112.5L126 112.5M136.5 66L135.5 66.5L136.5 67L138 66.5L136.5 66M136.5 70.5L136.5 72.5L136.5 70.5M140 54L139.5 54.5L140 55L140.5 54.5L140 54M136.5 72.5L136.5 72.5M148.5 36.5L150.5 37.5L152.5 36.5M157 116.5L157 116.5M171 54L170.5 54.5L171 56L171.5 54.5L171 54M185 58.5L185 58.5M207.5 36.5L209 37.5L211 36.5M205.5 104.5L205.5 104.5M212.5 40.5L212.5 40.5M216 96.5L216 96.5M302 281.5L301.5 280.5L300 278L299 275.5L298.5 275L297 273L295.5 270.5L294 268L292.5 265.5L292 263.5L288.5 264.5L285 265.5M330 210.5L328.5 213L327 215.5L326.5 217L326 218L325.5 220.5L324.5 223L324 225.5L323 228L323 229L319.5 229L319 230.5L318 233L317 235.5L316 237.5L316 238L315.5 240.5L315 243L314.5 245.5L314 248L313.5 250.5L313 253L312.5 255L312.5 255.5L311.5 258L311 260.5L310 263L309.5 265.5L309 266M336.5 255.5L339.5 258L340 258.5L340.5 258L343.5 255.5L344 255.5L347 254.5L350.5 255L354 254L354 253L355 250.5L356 248L356.5 245.5L357.5 243L358 240.5L359 238L360 235.5L360.5 233L361 232L363 230.5L364.5 229.5L367.5 229.5L368 230.5L368.5 233L369 235.5L369.5 238L370 240.5L370.5 243L371 245L371.5 245.5L373 248L374.5 250L374.5 250.5L375.5 253L376 255.5L376.5 258L377 260.5L378 263L378 263.5L379 263L381.5 261.5L383 260.5L385 259.5L386 258L388.5 255.5L389.5 253L390.5 250.5L391.5 248L392 246L392.5 248L393 250.5L393.5 253L394 255.5L395 258L395.5 260M388.5 255.5L388.5 255.5M433.5 251.5L431.5 253L430 254L428.5 255.5L426.5 258L425.5 260.5L425 263L424 265.5L423.5 268L423 269L419.5 268.5L419 268L418 265.5L416.5 263L416 261.5L415.5 263L414.5 265.5L413.5 268L412.5 270L411 268L409 266L405.5 265.5M426.5 258L426.5 258M461 276.5L460.5 275.5L459 273L458 270.5L457.5 269.5L456.5 268L455 265.5L454 263L452 265.5L450.5 266.5M516 260L512.5 259.5L512 260.5L511 263L510 265.5L509 267.5L509 268L507 270.5L506 272L504.5 270.5L503 268L502.5 267L499.5 265.5L499 265L498 263L497 260.5L496 258L495.5 256L495 255.5L493.5 253L492 250.5L488.5 251L487 253L485 255.5L481.5 256.5L480.5 255.5L478 253L475.5 250.5L474.5 249.5L474.5 250.5L473 253L472 255.5L471.5 257.5L468 257.5M485 255.5L485 255.5M533.5 240.5L531.5 238L530 236L529 238L527 240.5L526.5 241.5L526 240.5L524 238L523 237M550.5 238.5L549 240.5L547 242.5L546 240.5L544.5 238L543.5 237L542 238L540.5 239.5M213 36.5L216 38L218.5 38.5L216 39L215 38.5L212.5 36.5L209.5 38.5L212.5 39.5L214.5 40.5L216 42L216.5 42.5L216 43L215.5 42.5L212.5 41L211 40.5L209 38.5L207 40.5L205.5 41L204 42.5L205.5 44L206.5 44.5L205.5 45L204.5 46.5L204 48.5L204.5 50.5L202 52.5L201.5 54.5L199 56.5L202 58L202.5 58.5L202 59L198.5 59.5L195 60L191.5 59.5L189.5 58.5L188.5 58L187 58.5L185.5 60.5L185 60.5L181.5 60.5L181 60.5L180 58.5L178 58L174.5 58.5L174.5 60.5L171 59L168.5 60.5L167.5 61L164 60.5L166 58.5L164 57.5L162 56.5L160.5 55.5L159 56.5L160.5 58.5L158 60.5L157 61L156.5 60.5L155.5 58.5L154 56.5L154 54.5L153 54.5L153 56.5L150.5 58L148.5 58.5L148.5 60.5L147 62.5L145 62.5L143.5 62.5L141 64.5L143.5 66L144 66.5L143.5 67L140 66.5L136.5 67.5L135 66.5L136.5 65L140 66.5L138.5 64.5L136.5 63.5L135 62.5L133 61.5L131 62.5L131.5 64.5L130.5 66.5L129.5 67L128.5 68.5L129.5 69.5L130.5 70.5L129.5 71L127.5 70.5L126 70L124.5 68.5L125 66.5L126 65.5L127 64.5L126 64L124 62.5L122.5 62L120.5 60.5L122.5 58.5L119.5 57.5L116 57.5L112.5 58L111.5 58.5L111 60.5L109 62L106.5 60.5L105.5 59.5L102 60L98.5 59.5L96.5 60.5L97.5 62.5L98.5 63.5L99.5 62.5L102 61.5L104 62.5L103 64.5L102 66L98.5 66L96.5 64.5L95 64L93 62.5L91.5 62L88.5 60.5L91.5 59L94 58.5L91.5 58L88 58.5L87.5 58.5L87 60.5L86.5 62.5L88 64L91.5 63.5L94 64.5L95 65.5L97.5 66.5L98.5 67.5L102 67.5L105.5 68.5L102 70L101 70.5L98.5 71.5L97.5 70.5L97.5 68.5L95 67.5L92.5 68.5L92.5 70.5L95 72L96.5 72.5L95 73.5L92 72.5L91.5 72L90.5 70.5L88 69.5L85 69.5L83.5 68.5L85 67.5L85.5 66.5L88 64.5L85 63L83.5 62.5L81.5 61.5L79.5 60.5L78 60L75.5 60.5L78 61.5L80 62.5L81.5 63.5L82.5 64.5L81.5 65.5L80 64.5L78 63.5L75 64.5L78 66L79 66.5L78 68.5L76.5 66.5L74.5 65M278 130L278 130.5L278 133L277.5 135.5L277.5 138L277.5 140.5L277.5 143L277 145.5L277 148L277 150.5L277 153L276.5 155.5L276.5 158L276.5 160.5L276.5 163L276 165.5L276 168L276 170.5L275.5 173L275.5 175.5L275.5 178L275.5 180.5L275 183L275 185.5L275 188L274.5 190.5L274.5 192L274.5 193L274.5 195.5L274.5 198L274 200.5L274 203L274 205.5L274 208L273.5 210.5L273.5 213L273.5 215.5L273 218L273 220.5L273 223L272.5 225.5L272.5 228L272.5 230.5L272 233L272 235.5L271.5 238L271.5 240.5L271.5 243L271 245L267.5 243L266.5 245.5L265 248L264 250L263.5 248L262 245.5L261 244L260.5 243L260.5 240.5L260 238L259.5 235.5L259.5 233L259 230.5L259 228L258.5 225.5L258.5 223L258 220.5L258 218L258 215.5L257.5 213L257.5 210.5L257.5 208L257.5 207L257 205.5L257 203L257 200.5L257 198L257 195.5L257 193L257 190.5L256.5 188L256.5 185.5L256.5 183L256.5 180.5L256.5 178L256.5 175.5L256.5 173L256.5 170.5L256.5 168L256 165.5L256 163L256 160.5L256 158L256 155.5L256 153L256 150.5L256 148L256 145.5L256 143L256 140.5L255.5 138L255.5 135.5L255.5 133L255.5 130.5L255.5 128L255.5 125.5L255.5 123L255 120.5L255 118.5L255 116.5L255 114.5L255 112.5L255 110.5L254.5 108.5L254.5 106.5L254.5 104.5L254.5 102.5L254.5 100.5L254 98.5L254 96.5L254 94.5L254 93.5L251.5 92.5L250.5 92.5L248.5 90.5L247.5 88.5L247 86.5L246 86.5L243.5 86.5L242.5 88.5L241 90.5L240 91.5L239 90.5L238 88.5L237 86.5L236.5 84.5L236 86.5L235 88.5L233 90.5L233 92.5L232.5 94.5L231.5 96.5L231 98.5L230 100.5L229.5 101L228.5 102.5L226 104L225.5 102.5L225 100.5L224.5 98.5L224 96.5L224 94.5L223.5 92.5L223.5 90.5L223 88.5L223 86.5L223 85L222 84.5L220 82.5L219.5 82L219 82.5L216.5 84.5L216 85L215.5 86.5L214 88.5L212.5 90L211 88.5L209.5 86.5L209 84.5L208.5 86.5L208 88.5L207.5 90.5L206 92.5L205.5 93.5L205.5 94.5L205 96.5L205 98.5L204.5 100.5L204.5 102.5L204 104.5L203 106.5L202.5 108.5L202 110L201.5 108.5L200 106.5L199.5 104.5L199 102.5L198.5 101.5L197.5 100.5L195.5 98.5L195 98.5L194 96.5L193.5 94.5L192.5 92.5L192 90.5L191.5 89L189 88.5L188.5 88.5L186.5 86.5L185.5 84.5L185 82.5L185 82L184.5 82.5L184 84.5L182.5 86.5L181.5 88L180.5 86.5L179 84.5L178.5 82.5L178 81.5L178 82.5L177.5 84.5L177.5 86.5L177 88.5L177 90.5L177 92.5L176.5 94.5L176.5 96.5L176 98.5L175.5 100.5L175 102.5L174.5 104.5L173.5 102.5L173 100.5L172.5 98.5L172 96.5L171.5 94.5L171.5 92.5L171 90.5L171 90L169.5 88.5L168 86.5L167.5 86L167 86.5L166.5 88.5L164.5 90.5L164 91L164 90.5L162.5 88.5L162 86.5L161.5 84.5L161 82.5L160.5 80.5L160.5 82.5L160.5 84.5L160 86.5L160 88.5L159.5 90.5L159.5 92.5L159.5 94.5L159 96.5L158.5 98.5L158 100.5L157.5 102.5L157 104L157 102.5L156.5 100.5L156 98.5L155.5 96.5L155 94.5L155 92.5L154.5 90.5L154.5 88.5L154 86.5L154 84.5L154 83L153.5 84.5L153 86.5L152.5 88.5L152 90.5L151.5 92.5L150.5 94.5L150 94.5L149.5 96.5L149 98.5L147.5 100.5L147 102L146.5 100.5L145.5 98.5L144.5 96.5L144 94.5L143.5 92.5L143.5 91L140 92L140 92.5L139.5 94.5L138.5 96.5L137.5 98.5L136.5 100L136 98.5L135 96.5L134.5 94.5L134 92.5L133.5 90.5L133.5 88.5L133.5 86.5L133 85.5L133 86.5L132.5 88.5L132 90.5L131 92.5L129.5 94L129.5 94.5L128.5 96.5L126.5 98.5L126 99.5L126 98.5L124.5 96.5L124 94.5L123.5 92.5L123 90.5L122.5 89.5L122 88.5L121 86.5L120.5 84.5L120.5 82.5L120.5 80.5L119.5 78.5L119 78.5L118 80.5L116 82.5L113.5 80.5L112.5 78.5L111.5 80.5L111 82.5L110 84.5L109 86L107.5 84.5L106 82.5L105.5 81L103.5 82.5L102 83.5L100.5 84.5L99 86.5L98.5 86.5L97 84.5L95 82.5L94.5 80.5L93 78.5L91.5 76.5L90 76.5L91 74.5L88 73.5L86 72.5L85 72L83 70.5L81.5 69.5L79.5 70.5L81.5 71.5L83.5 72.5L81.5 74L78 74L76 72.5L74.5 72M74.5 92.5L75.5 90.5L78 88.5L78 86.5L78 84.5L78 82.5L78 80.5L81.5 78.5L81.5 76.5L78 75L77.5 74.5L74.5 73M85 76L81.5 76.5L81.5 78.5L81.5 80.5L83.5 82.5L85 82.5L88 80.5L89 78.5L88 77.5L87 76.5L85 76M85 82.5L85 82.5M88 80.5L88 80.5M93.5 36.5L95 37L97 38.5L98.5 39.5L101 38.5L102 38L103 38.5L102 40.5L105.5 42L109 41.5L112.5 41.5L113.5 42.5L116 43.5L119.5 44.5L122.5 42.5L123 42.5L125.5 44.5L126 45L127 44.5L129.5 44L132.5 42.5L133 42.5L136.5 42L137.5 42.5L139.5 44.5L140 45L140.5 44.5L142 42.5L143.5 41.5L147 41.5L148.5 40.5L149.5 38.5L147 37L146.5 36.5M105.5 56.5L105 56.5L105.5 57L106.5 56.5L105.5 56.5M105.5 76.5L105 76.5L105.5 77L105.5 76.5M109 63L107 64.5L107.5 66.5L109 68L110 66.5L110.5 64.5L109 63M106.5 68.5L105.5 68.5L106.5 68.5M123.5 58.5L122.5 58.5L123.5 58.5M126 71L123 72.5L126 73.5L129.5 74.5L127 72.5L126 71M129.5 57.5L126.5 58.5L129.5 59L133 59L134.5 58.5L135 56.5L133.5 54.5L133 54.5L132.5 54.5L130.5 56.5L129.5 57.5M129.5 74.5L129.5 74.5M129.5 78.5L127 78.5L129.5 78.5L130 78.5L129.5 78.5M136.5 70L135.5 70.5L133.5 72.5L136.5 73.5L137.5 72.5L137.5 70.5L136.5 70M140 60.5L140 60.5M174.5 60.5L174.5 60.5M174.5 104.5L174.5 104.5M205 36.5L205.5 37L206.5 36.5M223 39.5L222.5 40.5L223 40.5L223 39.5M223 40.5L223 40.5M239.5 36.5L240 37.5L240 36.5M302 270.5L300.5 268L298.5 265.5L297 263L295.5 261L295 260.5L294 258L293 255.5L292 253.5L288.5 255L286 255.5L285 255.5M330 201L328.5 203L327 205.5L326.5 207L326 208L325 210.5L324.5 213L323.5 215.5L323 217.5L322 218L319.5 219L319 220.5L318 223L317 225.5L316.5 228L316 229L315.5 230.5L315 233L314.5 235.5L313.5 238L313.5 240.5L313 243L312.5 244.5L312 245.5L311.5 248L310.5 250.5L310 253L309 255.5L309 256M395.5 249L395 248L394.5 245.5L394 243L393 240.5L392.5 238L392 236L391 238L390 240.5L389.5 243L388.5 245.5L386 248L385 249L383 250.5L381.5 251.5L378 253L377.5 250.5L377 248L376 245.5L375.5 243L375 240.5L374.5 240L373.5 238L371.5 235.5L371 235.5L370.5 233L370 230.5L369.5 228L369 225.5L368.5 223L368 220.5L367.5 219L364.5 219L363 220.5L361 222.5L360.5 223L360 225.5L359 228L358.5 230.5L357.5 233L357.5 234L357 235.5L356 238L355 240.5L354 243L354 243.5L350.5 245L347 245.5L346 245.5L343.5 246L341.5 248L340 250L338 248L336.5 246.5M433.5 242.5L432.5 243L430 244L428.5 245.5L426.5 248L425.5 250.5L424.5 253L423.5 255.5L423 257.5L420 258L419.5 258L418.5 255.5L417 253L416 251.5L415.5 253L414.5 255.5L413.5 258L412.5 259.5L411 258L409 256L405.5 255.5M426.5 248L426.5 248M461 266.5L460.5 265.5L459.5 263L458 260.5L457.5 260L456.5 258L454.5 255.5L454 254.5L451 255.5L450.5 255.5M516 251L515.5 250.5L512.5 249L512 250.5L511 253L510 255.5L509 257L508.5 258L507 260.5L506 262.5L504.5 260.5L503.5 258L502.5 256L501 255.5L499 254.5L498 253L497 250.5L496.5 248L495.5 246L495.5 245.5L494 243L492.5 240.5L492 239.5L490 240.5L488.5 241.5L487 243L485 245L482 245.5L481.5 245.5L478 243.5L478 243L476 240.5L474.5 239.5L474 240.5L473 243L472 245.5L471.5 248L471 248L468 246.5M471.5 248L471.5 248M533.5 229L532 228L530 226.5L529 228L527.5 230.5L526.5 232.5L525.5 230.5L523.5 228L523 227M550.5 228L548.5 230.5L547 232.5L546 230.5L544 228L543.5 227.5L542.5 228L540.5 229.5M78 64.5L77 64.5L78 65L81 66.5L81.5 67L82 66.5L81.5 66L78.5 64.5L78 64.5M74.5 68.5L74.5 68M85 64L84 64.5L85 65.5L86 64.5L85 64M95 68.5L94.5 68.5L94.5 70.5L95 71L96 70.5L95.5 68.5L95 68.5M98.5 37L97.5 38.5L98.5 39L100 38.5L98.5 37M98.5 60.5L98 60.5L98.5 61.5L101.5 60.5L98.5 60.5M99 36.5L102 37.5L104 38.5L103.5 40.5L105.5 41.5L109 40.5L112.5 41L114 42.5L116 43L119.5 44L121.5 42.5L122.5 42L124 42.5L126 44.5L129.5 43.5L132 42.5L133 42L136.5 42L138.5 42.5L140 44.5L141 42.5L143.5 41L147 41L147.5 40.5L148 38.5L147 37.5L145.5 36.5M102 74L101 74.5L102 76L105.5 75L107 76.5L109 78L111 76.5L109 75.5L106 74.5L105.5 74L102 74M105 36.5L105.5 37L108.5 38.5L109 39L109 38.5L105.5 36.5M105.5 60.5L102.5 60.5L105.5 62.5L104 64.5L103.5 66.5L105.5 67.5L106.5 66.5L106.5 64.5L106 62.5L105.5 60.5M105.5 69.5L103.5 70.5L105.5 72L108.5 70.5L105.5 69.5M109 38.5L109 38.5M112.5 60L112.5 60.5L109.5 62.5L111 64.5L111 66.5L112.5 68L113.5 68.5L116 70L117 70.5L119.5 72L122.5 71.5L125.5 70.5L123.5 68.5L123.5 66.5L122.5 65L120.5 66.5L119.5 67.5L116 67L115 66.5L115 64.5L116 64L119.5 64L122.5 63.5L124.5 64.5L126 65L126.5 64.5L126 64.5L123 62.5L122.5 62.5L119.5 60.5L121.5 58.5L119.5 58L116 58L113 58.5L116 59.5L118.5 60.5L116 61L112.5 60.5L112.5 60M112.5 70.5L112 70.5L112.5 70.5M227.5 36.5L228 38.5L229.5 40.5L226 39.5L224.5 40.5L223 41.5L221 40.5L219.5 39.5L216 40.5L212.5 39L211 38.5L212.5 37.5L213.5 38.5L216 40.5L218.5 42.5L218.5 44.5L216 45.5L215 44.5L214 42.5L212.5 42L209.5 40.5L209 40L208.5 40.5L209 42L209 42.5L208.5 42.5L205.5 42L205 42.5L205.5 43L208 44.5L209 46L209.5 46.5L212.5 48.5L209 48.5L207.5 46.5L205.5 46L205.5 46.5L204.5 48.5L205.5 50.5L205.5 52.5L206 54.5L206 56.5L205.5 56.5L204.5 56.5L202 55.5L200.5 56.5L202 57L203 58.5L202.5 60.5L202 60.5L198.5 61.5L196 62.5L195 63L195 62.5L193.5 60.5L191.5 60L190 60.5L188.5 61L185 61.5L181.5 61.5L178.5 60.5L178.5 58.5L178 58.5L177.5 58.5L177 60.5L174.5 61L172 60.5L171 60L170.5 60.5L167.5 61.5L164 61.5L162.5 60.5L160.5 59.5L159 60.5L160.5 62L161.5 62.5L160.5 62.5L160 62.5L157 62L155.5 60.5L154 58.5L153.5 58.5L150.5 59.5L149.5 60.5L148 62.5L147 63L143.5 63.5L142 64.5L143.5 65.5L146 66.5L143.5 68.5L140 67L136.5 68L134 66.5L136.5 64.5L133 62.5L132 64.5L131.5 66.5L129.5 68.5L131.5 70.5L133 72L135 70.5L136.5 69.5L138.5 70.5L138.5 72.5L136.5 74.5L136 74.5L133 74L132.5 72.5L129.5 71.5L127.5 72.5L129.5 74L132 74.5L129.5 75.5L127.5 74.5L126 74L122.5 73L119.5 74.5L120.5 76.5L120.5 78.5L122.5 80L125.5 80.5L123.5 82.5L126 84.5L123 86.5L124 88.5L126 90.5L125.5 92.5L126 94L127.5 92.5L126.5 90.5L129.5 89.5L130.5 88.5L131.5 86.5L131 84.5L132.5 82.5L133 81.5L135.5 82.5L135.5 84.5L135.5 86.5L135.5 88.5L135.5 90.5L135.5 92.5L136.5 94.5L138 92.5L138 90.5L138 88.5L138 86.5L140 86L142.5 84.5L143.5 84L144 84.5L144.5 86.5L144.5 88.5L145 90.5L145.5 92.5L146 94.5L147 96.5L148 94.5L148.5 92.5L149.5 90.5L150.5 89L150.5 88.5L151.5 86.5L152 84.5L152.5 82.5L152.5 80.5L153 78.5L154 77L154.5 78.5L154.5 80.5L155 82.5L155.5 84.5L155.5 86.5L155.5 88.5L156 90.5L156 92.5L156.5 94.5L156.5 96.5L157 98.5L157.5 96.5L158 94.5L158.5 92.5L158.5 90.5L158.5 88.5L159 86.5L159 84.5L159 82.5L159.5 80.5L159.5 78.5L160 76.5L160.5 75.5L161.5 76.5L162 78.5L162.5 80.5L163 82.5L163.5 84.5L164 85.5L165 84.5L166 82.5L167.5 80.5L169.5 82.5L171 84.5L172 86.5L172.5 88.5L172.5 90.5L173 92.5L173 94.5L173.5 96.5L174 98.5L174.5 99.5L174.5 98.5L175 96.5L175.5 94.5L175.5 92.5L176 90.5L176 88.5L176 86.5L176 84.5L176.5 82.5L176.5 80.5L177 78.5L177.5 76.5L178 75.5L178.5 76.5L179.5 78.5L180.5 80.5L181.5 82.5L182.5 80.5L184 78.5L185 77L185.5 78.5L187 80.5L188 82.5L188.5 83.5L191.5 84L192 84.5L193 86.5L193.5 88.5L194 90.5L195 92.5L195 93L197 94.5L198.5 96L199 96.5L200 98.5L200.5 100.5L201 102.5L202 104.5L202.5 102.5L203 100.5L203.5 98.5L203.5 96.5L204 94.5L204 92.5L204.5 90.5L205.5 88.5L205.5 88L206.5 86.5L207 84.5L207.5 82.5L208.5 80.5L209 79.5L209.5 80.5L211 82.5L212.5 84.5L212.5 85L212.5 84.5L214 82.5L215.5 80.5L216 80L217.5 78.5L219.5 76.5L221.5 78.5L223 80L223 80.5L223.5 82.5L224 84.5L224.5 86.5L224.5 88.5L224.5 90.5L225 92.5L225 94.5L225.5 96.5L226 98.5L226 99L226.5 98.5L229 96.5L229.5 95.5L230 94.5L231 92.5L231.5 90.5L232 88.5L232.5 86.5L233 85.5L233.5 84.5L235 82.5L236 80.5L236.5 79.5L237 80.5L238 82.5L239 84.5L240 86L241.5 84.5L243 82.5L243.5 81.5L247 81.5L247.5 82.5L249 84.5L250 86.5L250.5 87L254 88L254 88.5L254 90.5L254.5 92.5L254.5 94.5L254.5 96.5L255 98.5L255 100.5L255 102.5L255 104.5L255 106.5L255 108.5L255.5 110.5L255.5 112.5L255.5 114.5L255.5 116.5L255.5 118.5L255.5 120.5L256 123L256 125.5L256 128L256 130.5L256 133L256 135.5L256 138L256 140.5L256.5 143L256.5 145.5L256.5 148L256.5 150.5L256.5 153L256.5 155.5L256.5 158L256.5 160.5L256.5 163L256.5 165.5L256.5 168L257 170.5L257 173L257 175.5L257 178L257 180.5L257 183L257 185.5L257 188L257.5 190.5L257.5 191L257.5 193L257.5 195.5L257.5 198L258 200.5L258 203L258.5 205.5L258.5 208L258.5 210.5L259 213L259 215.5L259 218L259.5 220.5L259.5 223L260 225.5L260 228L260.5 230.5L261 232.5L261 233L262.5 235.5L263.5 238L264 239L264.5 238L266 235.5L267.5 233L267.5 232.5L271 232.5L271.5 230.5L271.5 228L271.5 225.5L272 223L272 220.5L272.5 218L272.5 215.5L272.5 213L273 210.5L273 208L273 205.5L273 203L273.5 200.5L273.5 198L273.5 195.5L274 193L274 190.5L274 188L274 185.5L274 183L274.5 180.5L274.5 178L274.5 175.5L274.5 174L274.5 173L275 170.5L275 168L275 165.5L275 163L275.5 160.5L275.5 158L275.5 155.5L276 153L276 150.5L276 148L276 145.5L276 143L276.5 140.5L276.5 138L276.5 135.5L276.5 133L277 130.5L277 128L277 125.5L277.5 123L277.5 120.5L277.5 118.5L277.5 116.5L277.5 114.5L278 112.5L278 110.5L278 110M126 77.5L125 78.5L126 80L129.5 80L131.5 78.5L129.5 77.5L126 77.5M126.5 84.5L126 84.5L126.5 84.5M133 55.5L132.5 56.5L133 58L133.5 56.5L133 55.5M136.5 64.5L136.5 64.5M136.5 74.5L136.5 74.5M136.5 94.5L136.5 94.5M143.5 80.5L143 80.5L143.5 81L144 80.5L143.5 80.5M150.5 67L149.5 68.5L150.5 69L152 68.5L150.5 67M147 96.5L147 96.5M154 66.5L151.5 66.5L154 67L154.5 66.5L154 66.5M157 64L156.5 64.5L157 65.5L157.5 64.5L157 64M160.5 56.5L164 58L165 58.5L164 59L163 58.5L160.5 56.5M181.5 82.5L181.5 82.5M205.5 52.5L205.5 52.5M209 42.5L209 42.5M214.5 36.5L216 37L219.5 37L220 36.5M212.5 48.5L212.5 48.5M229.5 40.5L228.5 42.5L229.5 44.5L232 42.5L229.5 40.5M233 38.5L233.5 38.5L233 38.5M237 36.5L238 38.5L240 39.5L242.5 40.5L243.5 41L245 40.5L243.5 38.5L241.5 36.5M243.5 38.5L243.5 38.5M302 259.5L301 258L299.5 255.5L298.5 254L298 253L296.5 250.5L295.5 248.5L295 248L293.5 245.5L292.5 243L292 242L288.5 242.5L287.5 243L285 245M330 190.5L329.5 190.5L328.5 193L327 195.5L326.5 196L325.5 198L325 200.5L324 203L323.5 205.5L323 206.5L319.5 207.5L319 208L318.5 210.5L317.5 213L316.5 215.5L316 217.5L316 218L315.5 220.5L314.5 223L314 225.5L313.5 228L313 230.5L312.5 233L312 235.5L311 238L310.5 240.5L309.5 243L309 244.5M395.5 237.5L395 235.5L394 233L393.5 230.5L393 228L392.5 225.5L392 224L391.5 225.5L390.5 228L389.5 230.5L389 233L388.5 234L387 235.5L385 238L384.5 238L381.5 240.5L380.5 240.5L378 241L378 240.5L377 238L376.5 235.5L376 233L375 230.5L374.5 228L371.5 225.5L371 225.5L371 223L370.5 220.5L370 218L369.5 215.5L369 213L368.5 210.5L367.5 208L364.5 208L361 210.5L360 213L359.5 215.5L359 218L358.5 220.5L357.5 223L357.5 223.5L356.5 225.5L356 228L355 230.5L354 233L354 233.5L350.5 233.5L347 234.5L343.5 234.5L342.5 235.5L340.5 238L340 238.5L339.5 238L336.5 235.5M433.5 231.5L430 233L427 235.5L426.5 236L426 238L425 240.5L424.5 243L423.5 245.5L423 248L423 248.5L422.5 248L419.5 246L419 245.5L417.5 243L416 240.5L415 243L414 245.5L413 248L412.5 249.5L411 248L409 246L407.5 245.5L405.5 245M461 255L460 253L458.5 250.5L457.5 248.5L457 248L455.5 245.5L454 243L453.5 243L451 245.5L450.5 246M516 239L512.5 239.5L512 240.5L511 243L509.5 245.5L509 246L508 248L507 250.5L506 253L505 250.5L504 248L503 245.5L502.5 244L499 244.5L498.5 243L497.5 240.5L496.5 238L496 235.5L495.5 234L495 233L493 230.5L492 229.5L488.5 230.5L486.5 233L485 235L481.5 235L479 233L478 232.5L476.5 230.5L474.5 228.5L474 230.5L472.5 233L471.5 235.5L468 236M471.5 235.5L471.5 235.5M533.5 219.5L532 218L530 215.5L528.5 218L527 220.5L526.5 221L526 220.5L524.5 218L523 215.5M550.5 217.5L550 218L547 220.5L545 218L543.5 216.5L541.5 218L540.5 219M98.5 38L98.5 38.5L99 38.5L98.5 38M100 36.5L102 37.5L105 38.5L105 40.5L105.5 40.5L106.5 40.5L106.5 38.5L105.5 38L104 36.5M105.5 64.5L105.5 65L105.5 64.5M106.5 36.5L109 38L112 38.5L110.5 40.5L112.5 41L115 42.5L116 43L119.5 43.5L121 42.5L122.5 42L124.5 42.5L126 43.5L129.5 43L131.5 42.5L133 41.5L136.5 41.5L139.5 42.5L140 43L140.5 42.5L143 40.5L140 38.5L143.5 40L146.5 38.5L145 36.5M109 76.5L109 76.5M112.5 61L110.5 62.5L112 64.5L112 66.5L112.5 67L114.5 68.5L116 69.5L119 70.5L119.5 70.5L121.5 70.5L119.5 70L118.5 68.5L116 67.5L113.5 66.5L113.5 64.5L116 63L119.5 63.5L122 62.5L119.5 61L116 62L112.5 61M116 39.5L114 40.5L116 41L117.5 40.5L116 39.5M119.5 58L116 58.5L119.5 59.5L120.5 58.5L119.5 58M122.5 68L121.5 68.5L122.5 70L123 68.5L122.5 68M242.5 36.5L243.5 37L245 38.5L247 40L250.5 39L251 40.5L250.5 41L248 42.5L250.5 44L251 44.5L250.5 46L249 44.5L247 43.5L244.5 42.5L243.5 42L240.5 40.5L240 40L236.5 39L234.5 40.5L234.5 42.5L235 44.5L233 45L231 46.5L230.5 48.5L233 50.5L229.5 49L226.5 50.5L229.5 52.5L230 52.5L230 54.5L229.5 54.5L229 54.5L229 52.5L226 50.5L223 51.5L220 50.5L223 48.5L223.5 48.5L226 46.5L223 44.5L226 46.5L228 44.5L226 42.5L225.5 42.5L223 42L221 42.5L223 44.5L220 46.5L219.5 47L216 48L214.5 46.5L213.5 44.5L213 42.5L212.5 42.5L212 42.5L209.5 44.5L211 46.5L212.5 47.5L215.5 48.5L216 48.5L218.5 50.5L216 51L214.5 50.5L212.5 49.5L209 49.5L207 48.5L205.5 47L205 48.5L205.5 49.5L207.5 50.5L209 51.5L211 52.5L209 53.5L207.5 54.5L207 56.5L209 58L209.5 58.5L209 59.5L208 58.5L205.5 57L204 58.5L204.5 60.5L202 62L200 62.5L198.5 63L196 64.5L195 65L193 64.5L193.5 62.5L191.5 61L188.5 61.5L185 62.5L182.5 64.5L185 66L187.5 66.5L186 68.5L185 69L184 68.5L184 66.5L181.5 65L180.5 64.5L178 63L177 62.5L174.5 62L171 61L167.5 62L164 62.5L165 64.5L165 66.5L164 68L164 68.5L160.5 70L158 68.5L157 68L156.5 68.5L154 69L150.5 70L147.5 68.5L147 67.5L146 68.5L143.5 69L142.5 68.5L140 67.5L136.5 68L133 66.5L135 64.5L133 63.5L132.5 64.5L133 66.5L130.5 68.5L132 70.5L133 71.5L134 70.5L136.5 69L139 70.5L139 72.5L140 74L140.5 74.5L140 75L136.5 75L133 75.5L129.5 76L126 75.5L125.5 74.5L122.5 73.5L121 74.5L122.5 76.5L122 78.5L122.5 79L123.5 78.5L126 77L129.5 76.5L133 78.5L133 79L133.5 80.5L136.5 82L140 81.5L141.5 80.5L140 79L139 78.5L140 78L141 78.5L143.5 79.5L146.5 80.5L144 82.5L146 84.5L146 86.5L146.5 88.5L146.5 90.5L147 91L147 90.5L147.5 88.5L148.5 86.5L150 84.5L150.5 84.5L151 82.5L150.5 81L149 80.5L147 79L146.5 78.5L147 78.5L150.5 80L151.5 78.5L150.5 77L150 76.5L150.5 76.5L154 75L156 76.5L156 78.5L156 80.5L156.5 82.5L156.5 84.5L156.5 86.5L157 88.5L157 90.5L157 92.5L157 93L157.5 92.5L157.5 90.5L157.5 88.5L157.5 86.5L158 84.5L158 82.5L158 80.5L158 78.5L158 76.5L159.5 74.5L157 73L155.5 72.5L157 72L160.5 71L163 72.5L162 74.5L163.5 76.5L164 78.5L164 80.5L165 78.5L166 76.5L167 74.5L167.5 74L168.5 74.5L169.5 76.5L170.5 78.5L171 79L172 80.5L173 82.5L173.5 84.5L174 86.5L174 88.5L174.5 90.5L174.5 92.5L174.5 94.5L174.5 92.5L174.5 90.5L174.5 88.5L175 86.5L175 84.5L175 82.5L175 80.5L175.5 78.5L175.5 76.5L176 74.5L176.5 72.5L178 71L180.5 72.5L181 74.5L181.5 76.5L182 74.5L182 72.5L185 71.5L188.5 72.5L186.5 74.5L188 76.5L188.5 78L191 78.5L191.5 78.5L193.5 80.5L194.5 82.5L195 84.5L195 86.5L195 87.5L197 88.5L198.5 90.5L201 92.5L201.5 94.5L202 96.5L202 98.5L202 96.5L202.5 94.5L202.5 92.5L202.5 90.5L202.5 88.5L203 86.5L204 84.5L205.5 82.5L206 80.5L206.5 78.5L207 76.5L209 75L211 76.5L212 78.5L212.5 79L213 78.5L214 76.5L216 74.5L218 72.5L216 70.5L219.5 70L220 70.5L220.5 72.5L222.5 74.5L223 74.5L224 76.5L224.5 78.5L225 80.5L225.5 82.5L225.5 84.5L226 86.5L226 88.5L226 90.5L226 92.5L226 93L226.5 92.5L229.5 90.5L230 88.5L230 86.5L230.5 84.5L231.5 82.5L233 80.5L233 80L233.5 78.5L234.5 76.5L236 74.5L236.5 74L237 74.5L238.5 76.5L239.5 78.5L240 80.5L240 81L240 80.5L241 78.5L243.5 76.5L244.5 76.5L247 76L247 76.5L249.5 78.5L250 80.5L250.5 81.5L253 82.5L254 82.5L254 84.5L254.5 86.5L254.5 88.5L255 90.5L255 92.5L255 94.5L255.5 96.5L255.5 98.5L255.5 100.5L255.5 102.5L255.5 104.5L255.5 106.5L256 108.5L256 110.5L256 112.5L256 114.5L256 116.5L256 118.5L256 120.5L256.5 123L256.5 125.5L256.5 128L256.5 130.5L256.5 133L256.5 135.5L256.5 138L256.5 140.5L256.5 143L257 145.5L257 148L257 150.5L257 153L257 155.5L257 158L257 160.5L257 163L257 165.5L257 168L257.5 170.5L257.5 172L257.5 173L257.5 175.5L257.5 178L257.5 180.5L258 183L258 185.5L258 188L258 190.5L258.5 193L258.5 195.5L258.5 198L259 200.5L259 203L259.5 205.5L259.5 208L259.5 210.5L260 213L260 215.5L260.5 218L260.5 220.5L261 222L261 223L262.5 225.5L264 228L266 225.5L267.5 223L271 222L271 220.5L271.5 218L271.5 215.5L272 213L272 210.5L272 208L272.5 205.5L272.5 203L272.5 200.5L272.5 198L273 195.5L273 193L273 190.5L273.5 188L273.5 185.5L273.5 183L273.5 180.5L273.5 178L274 175.5L274 173L274 170.5L274 168L274 165.5L274.5 163L274.5 160.5L274.5 158L274.5 157L274.5 155.5L274.5 153L275 150.5L275 148L275 145.5L275 143L275 140.5L275.5 138L275.5 135.5L275.5 133L275.5 130.5L276 128L276 125.5L276 123L276 120.5L276.5 118.5L276.5 116.5L276.5 114.5L276.5 112.5L277 110.5L277 108.5L277 106.5L277 104.5L277 102.5L277.5 100.5L277.5 98.5L277.5 96.5L277.5 94.5L278 92.5L278 90.5L278 90M126 40.5L126.5 40.5L126 40.5M126 81.5L125 82.5L126 83.5L129.5 84L131 82.5L129.5 81L126 81.5M126 85.5L124.5 86.5L125 88.5L126 89.5L128 88.5L129.5 87.5L130 86.5L129.5 85.5L126 85.5M129.5 71.5L128.5 72.5L129.5 73.5L131.5 72.5L129.5 71.5M140 84L139 84.5L140 85L140.5 84.5L140 84M143.5 64L143 64.5L143.5 65L147 66L149 64.5L147 63.5L143.5 64M150.5 60.5L150 60.5L149.5 62.5L150.5 63.5L152.5 64.5L154 65L154.5 64.5L154 63.5L153 62.5L154 62L156 62.5L157 62.5L154.5 60.5L154 59.5L150.5 60.5M160.5 60L160 60.5L160.5 61L161.5 60.5L160.5 60M157.5 62.5L157 62.5L158.5 64.5L160.5 66L163.5 64.5L160.5 63L157.5 62.5M164 80.5L164 80.5M178 66.5L178 66.5M174.5 94.5L174.5 94.5M181.5 76.5L181.5 76.5M185 62.5L185 62.5M188.5 72.5L188.5 72.5M198.5 70.5L199 70.5L198.5 70.5M205.5 63.5L205 64.5L205.5 65L208 66.5L208.5 68.5L209 69L210 68.5L210 66.5L209 66L206 64.5L205.5 63.5M202 98.5L202 98.5M205.5 82.5L205.5 82.5M219.5 58L219 58.5L219.5 59L220 58.5L219.5 58M216 74.5L216 74.5M229 36.5L229.5 37.5L232 36.5M233 50.5L233.5 50.5L236.5 52L238.5 52.5L237.5 54.5L240 56.5L239.5 56.5L236.5 55.5L235.5 54.5L236 52.5L233 50.5M229.5 90.5L229.5 90.5M236.5 68L236 68.5L236.5 69L237 68.5L236.5 68M240 41.5L239 42.5L240 43L242.5 42.5L240 41.5M240 62L239 62.5L240 63L243.5 64.5L243.5 62.5L240 62M243.5 48.5L243 48.5L242 50.5L241 52.5L243.5 53.5L245.5 54.5L246 56.5L247 57L250 58.5L250.5 59L251 58.5L250.5 58L247.5 56.5L248 54.5L247 54L244.5 52.5L244.5 50.5L247 49L247.5 48.5L249.5 46.5L247 45.5L246 46.5L243.5 48.5M240.5 56.5L240 56.5L240.5 56.5M243.5 62.5L243.5 62.5M243.5 64.5L243.5 64.5M247 70.5L244.5 70.5L247 71L247.5 70.5L247 70.5M248.5 36.5L250.5 38L251 36.5M250.5 51L249 52.5L250.5 53.5L251 52.5L250.5 51M250.5 64.5L250 64.5L250 66.5L250.5 67L250.5 66.5L250.5 64.5M302 248L300.5 245.5L299 243L298.5 243L297 240.5L295.5 238L295.5 237.5L294 235.5L293 233L292 231L289 233L288.5 233.5L287 233L285 232.5M330 178.5L329 180.5L327.5 183L326.5 185.5L326.5 186L325.5 188L324.5 190.5L324 193L323 195.5L319.5 197.5L319.5 198L318.5 200.5L317.5 203L316.5 205.5L316 207L316 208L315 210.5L314.5 213L314 215.5L313.5 218L312.5 220.5L312.5 221.5L312 223L311.5 225.5L310.5 228L310 230.5L309.5 233L309 233.5M323 195.5L323 195.5M395.5 226.5L395 225.5L394.5 223L393.5 220.5L393 218L392.5 215.5L392 214L391.5 215.5L390.5 218L389.5 220.5L388.5 223L386.5 225.5L385 227L384 228L381.5 229.5L379 230.5L378 231L378 230.5L377.5 228L376.5 225.5L376 223L375.5 220.5L374.5 218L372.5 215.5L371 213.5L371 213L370.5 210.5L370 208L369.5 205.5L369 203L368.5 200.5L368 198L367.5 197.5L364.5 197.5L364 198L361 200.5L360 203L359.5 205.5L358.5 208L358 210.5L357.5 212.5L357 213L356.5 215.5L355.5 218L354.5 220.5L354 223L350.5 221.5L348 223L347 223.5L343.5 225L343 225.5L340 227L338.5 225.5L336.5 223.5M354 223L354 223M388.5 223L388.5 223M433.5 219.5L432 220.5L430 222.5L429 223L426.5 225L426.5 225.5L425.5 228L424.5 230.5L424 233L423 235.5L419.5 236L419.5 235.5L418 233L416.5 230.5L416 229.5L415.5 230.5L414.5 233L414 235.5L413 238L412.5 239L412 238L410 235.5L409 234L405.5 235M423 235.5L423 235.5M461 244L460.5 243L459 240.5L458 238L457.5 237L456.5 235.5L454 233L453.5 233L450.5 234M516 227.5L512.5 227.5L512.5 228L511.5 230.5L510.5 233L509.5 235.5L509 235.5L508 238L506.5 240.5L506 241.5L505.5 240.5L504.5 238L503.5 235.5L502.5 233.5L499 233.5L499 233L498 230.5L497 228L496 225.5L495.5 223.5L495 223L493.5 220.5L492 218.5L490.5 218L488.5 217.5L488 218L487 220.5L485.5 223L485 224L481.5 224.5L480.5 223L478 220.5L474.5 218.5L473.5 220.5L472.5 223L471.5 225.5L471.5 226L470 225.5L468 224.5M533.5 209L532.5 208L530 205.5L527.5 208L526.5 209.5L525.5 208L524 205.5L523 203.5M550.5 206L548 208L547 209L546 208L543.5 206.5L540.5 206.5M101 36.5L102 37L103 36.5M107 36.5L109 37.5L112.5 38L115 38.5L116 38.5L119.5 40.5L122.5 41.5L125.5 42.5L126 43L129.5 43L130.5 42.5L133 41L136.5 41.5L140 42L141.5 40.5L140 39.5L139 38.5L140 36.5L143.5 38L144 36.5M112.5 61.5L111 62.5L112.5 64L115 62.5L112.5 61.5M116 42L115.5 42.5L116 42.5L119.5 43L120 42.5L119.5 41L116 42M116 68L115.5 68.5L116 68.5L116.5 68.5L116 68M119.5 58.5L119 58.5L119.5 58.5M119.5 61.5L117 62.5L119.5 63L120.5 62.5L119.5 61.5M122.5 74L122 74.5L122.5 75.5L124 74.5L122.5 74M126 40L125.5 40.5L126 41.5L128.5 40.5L126 40M126 86L126 86.5L126 87.5L127 86.5L126 86M129.5 72L129 72.5L129.5 73L130.5 72.5L129.5 72M129.5 82L127.5 82.5L129.5 83L130 82.5L129.5 82M133 64.5L133 64.5M133 67L131 68.5L133 70.5L136 68.5L133 67M133 76.5L136.5 76L140 75.5L142 74.5L140 72.5L140 71.5L140.5 70.5L140 70.5L138 68.5L140 68L141 68.5L143.5 70L147 69.5L149 70.5L150.5 71.5L152.5 72.5L152.5 74.5L150.5 75.5L147 74.5L148.5 76.5L147 77.5L145 78.5L143.5 79L142.5 78.5L140 77.5L138 78.5L140 80.5L136.5 81.5L134.5 80.5L134.5 78.5L133 76.5M133 70.5L133 70.5M140 72.5L140 72.5M140 80.5L140 80.5M147 64.5L146 64.5L147 65L147.5 64.5L147 64.5M147 82L146 82.5L147 83L148 82.5L147 82M154 70L152 70.5L154 71.5L157 71L158.5 70.5L157 70L154 70M157 74L156 74.5L157 75.5L158 74.5L157 74M160.5 63.5L159 64.5L160.5 65.5L162.5 64.5L160.5 63.5M164 69.5L162.5 70.5L164 71.5L165.5 70.5L164 69.5M164 74.5L164.5 74.5L164 74.5M167.5 62.5L166.5 62.5L166 64.5L167.5 66L169.5 66.5L168.5 68.5L170 70.5L171 71.5L173 70.5L174.5 70L178 68.5L175.5 66.5L178 65L180 66.5L178 68.5L181.5 69.5L182.5 68.5L182.5 66.5L181.5 66L179 64.5L178 64L175 62.5L174.5 62.5L171 62.5L167.5 62.5M185 64L184 64.5L185 65L186.5 64.5L185 64M188.5 62.5L187.5 62.5L188.5 63L191.5 63.5L192.5 62.5L191.5 62L188.5 62.5M191.5 65.5L190 66.5L191.5 67.5L195 67.5L195.5 66.5L195 66.5L191.5 65.5M198.5 63.5L197.5 64.5L198.5 65.5L201 66.5L202 68L203 68.5L204.5 70.5L205.5 71L207.5 70.5L206 68.5L206 66.5L205.5 66L202.5 64.5L202 64L198.5 63.5M205.5 48.5L205.5 48.5M205.5 58L204.5 58.5L205.5 60L207 58.5L205.5 58M251 36.5L250.5 38.5L251.5 40.5L250.5 42L249.5 42.5L250.5 43L251.5 44.5L251 46.5L250.5 47.5L249 48.5L250.5 49.5L251 50.5L252 52.5L250.5 54.5L247.5 52.5L248.5 50.5L247 50L246 50.5L246.5 52.5L247 53L250 54.5L249.5 56.5L250.5 57L252 58.5L250.5 60L248.5 58.5L247 57.5L243.5 56.5L240 57.5L236.5 58L233 57L231.5 56.5L229.5 56L228.5 56.5L226 58L223 57.5L221.5 56.5L219.5 55L218.5 54.5L217.5 52.5L216 52L213 50.5L212.5 50L210 50.5L212.5 51.5L213.5 52.5L213 54.5L216 55.5L217.5 56.5L219.5 57.5L221 58.5L219.5 59.5L217.5 58.5L216 57.5L213.5 56.5L212.5 55L209.5 54.5L209 54.5L208 56.5L209 57L211 58.5L212.5 60L213.5 60.5L216 62L219.5 62L223 61.5L223.5 62.5L223 63L219.5 64L216 64L215 62.5L212.5 61L209 61L207 62.5L207.5 64.5L209 65.5L212 66.5L212.5 67.5L213.5 66.5L212.5 66L211 64.5L212.5 64L215 64.5L216 65L218.5 66.5L219.5 67L220.5 66.5L223 65.5L226 66L227 66.5L229.5 67.5L233 68L235.5 66.5L235.5 64.5L235 62.5L236.5 62L238.5 60.5L240 60L241.5 60.5L243.5 61L245 62.5L245.5 64.5L247 65.5L248 64.5L250.5 63.5L252.5 64.5L254 65.5L254 66.5L254.5 68.5L254.5 70.5L254.5 72.5L254.5 74.5L254.5 76.5L254.5 78.5L254.5 80.5L254.5 82.5L255 84.5L255 86.5L255.5 88.5L255.5 90.5L255.5 92.5L256 94.5L256 96.5L256 98.5L256 100.5L256 102.5L256 104.5L256.5 106.5L256.5 108.5L256.5 110.5L256.5 112.5L256.5 114.5L256.5 116.5L256.5 118.5L256.5 120.5L257 123L257 125.5L257 128L257 130.5L257 133L257 135.5L257 138L257 140.5L257 143L257 145.5L257.5 148L257.5 150.5L257.5 153L257.5 155.5L257.5 158L257.5 160.5L258 163L258 165.5L258 168L258 170.5L258 173L258.5 175.5L258.5 178L258.5 180.5L258.5 183L259 185.5L259 188L259 190.5L259.5 193L259.5 195.5L259.5 198L260 200.5L260 203L260.5 205.5L260.5 208L261 209.5L261 210.5L262 213L263 215.5L264 218L264.5 218L265.5 215.5L267 213L267.5 212L270 210.5L271 210L271.5 208L271.5 205.5L271.5 203L272 200.5L272 198L272 195.5L272.5 193L272.5 190.5L272.5 188L272.5 185.5L273 183L273 180.5L273 178L273 175.5L273 173L273.5 170.5L273.5 168L273.5 165.5L273.5 163L273.5 160.5L274 158L274 155.5L274 153L274 150.5L274 148L274 145.5L274 143L274.5 140.5L274.5 138L274.5 135.5L274.5 133L274.5 131L274.5 130.5L274.5 128L275 125.5L275 123L275 120.5L275 118.5L275 116.5L275.5 114.5L275.5 112.5L275.5 110.5L275.5 108.5L276 106.5L276 104.5L276 102.5L276 100.5L276 98.5L276.5 96.5L276.5 94.5L276.5 92.5L276.5 90.5L277 88.5L277 86.5L277 84.5L277.5 82.5L277.5 80.5L277.5 78.5L278 76.5L278 75.5M212.5 70.5L211.5 70.5L212.5 70.5M223 45.5L221.5 46.5L223 47.5L224 46.5L223 45.5M223 52.5L220 54.5L223 55.5L226 54.5L223.5 52.5L226 52L227 52.5L226 54.5L223 52.5M226 44L225.5 44.5L226 45L226.5 44.5L226 44M226 59L224 60.5L226 61L229 60.5L226 59M226 69.5L224.5 70.5L226 72.5L226.5 72.5L229.5 70.5L226 69.5M229.5 50L228.5 50.5L229.5 51L231.5 52.5L232.5 54.5L233 55.5L234 54.5L235 52.5L233 51.5L231 50.5L229.5 50M229.5 63L227 64.5L229.5 66L231 64.5L229.5 63M233 46L232.5 46.5L232 48.5L233 49.5L235 50.5L236.5 51L239 50.5L239.5 48.5L240 47.5L243.5 47.5L244.5 46.5L243.5 45.5L240.5 44.5L240 44.5L236.5 42.5L236.5 40.5L236.5 42.5L239.5 44.5L236.5 45.5L233 46M240 53.5L239 54.5L240 55.5L242 54.5L240 53.5M240 68L240 68.5L240.5 68.5L240 68M247 37.5L246.5 38.5L247 39L248 38.5L247 37.5M302 237L301 235.5L299.5 233L298.5 232L297.5 230.5L295.5 228L294 225.5L293 223L292 220.5L292 220L291 220.5L288.5 221.5L285 223M330 167.5L329.5 168L328 170.5L327 173L326.5 174L326 175.5L325 178L324.5 180.5L323.5 183L323 184.5L321.5 185.5L319.5 187.5L319 188L318 190.5L317 193L316.5 195.5L316 196.5L315.5 198L315 200.5L314.5 203L314 205.5L313 208L312.5 210.5L312 213L311 215.5L310.5 218L309.5 220.5L309 222M312.5 210.5L312.5 210.5M395.5 217L395 215.5L394.5 213L394 210.5L393 208L392.5 205.5L392 203L392 202.5L391.5 203L391 205.5L390 208L389.5 210.5L388.5 213L388.5 213.5L385 215L384.5 215.5L382 218L381.5 218.5L378 220.5L377.5 218L377 215.5L376 213L375.5 210.5L375 208L374.5 207.5L373.5 205.5L372 203L371 202L371 200.5L370 198L369.5 195.5L369 193L368.5 190.5L368 188L367.5 186.5L364.5 186.5L362.5 188L361 190L360.5 190.5L360 193L359 195.5L358.5 198L357.5 200.5L357.5 201.5L357 203L356 205.5L355 208L354 210.5L354 211L350.5 211.5L347 211.5L345 213L343.5 214L341.5 215.5L340 216.5L339 215.5L336.5 213.5M433.5 210L432.5 210.5L430 212L428.5 213L426.5 214.5L426 215.5L425.5 218L424.5 220.5L424 223L423 225.5L419.5 224L419 223L416.5 220.5L416 220L416 220.5L414.5 223L413.5 225.5L412.5 227.5L411 225.5L409 223.5L405.5 223.5M461 232.5L459.5 230.5L458 228L457.5 226.5L456.5 225.5L455 223L454 221L451 223L450.5 223M516 217.5L512.5 216L512 218L511 220.5L509.5 223L509 224L508.5 225.5L507 228L506 229.5L505 228L503.5 225.5L502.5 223.5L501 223L499 222.5L498 220.5L497.5 218L496.5 215.5L495.5 213L495.5 212.5L494.5 210.5L493 208L492 206L488.5 207L488 208L486 210.5L485 212L481.5 212.5L480 210.5L478 208.5L477 208L474.5 206L474 208L473 210.5L472 213L471.5 214.5L468 214M533.5 198L531.5 195.5L530 193L528.5 195.5L527.5 198L526.5 199.5L525.5 198L524.5 195.5L523.5 193L523 192.5M550.5 196.5L547 198L545 195.5L543.5 194.5L542.5 195.5L540.5 197M107.5 36.5L109 37L112.5 37.5L116 38L117 38.5L119.5 39.5L120 40.5L122.5 41.5L125 40.5L126 39.5L129.5 40.5L130.5 40.5L133 41L136.5 41L140 40.5L138 38.5L139 36.5M112.5 62.5L112 62.5L112.5 63L113 62.5L112.5 62.5M119.5 62.5L119 62.5L119.5 62.5M129.5 41.5L126.5 42.5L129.5 42.5L130 42.5L129.5 41.5M129.5 72.5L129.5 72.5M132 36.5L133 37.5L134 36.5M133 67.5L132 68.5L133 69.5L135 68.5L133 67.5M136.5 77.5L136 78.5L135.5 80.5L136.5 81L138.5 80.5L137 78.5L136.5 77.5M140 76L137.5 76.5L140 77L143 76.5L140 76M140 40.5L140 40.5M147 70.5L146 70.5L147 71L147 70.5M147 76L144.5 76.5L147 76.5L147.5 76.5L147 76M150.5 73.5L149.5 74.5L150.5 74.5L150.5 73.5M150.5 74.5L150.5 74.5M160.5 64L160 64.5L160.5 65L161.5 64.5L160.5 64M167.5 63.5L167 64.5L167.5 65L171 65.5L173.5 64.5L171 63.5L167.5 63.5M205.5 58.5L205.5 58.5M209 62L208.5 62.5L209 64L212.5 63L213 62.5L212.5 62L209 62M212.5 58L212 58.5L212.5 59L215 60.5L216 61L219.5 60.5L216.5 58.5L216 58L212.5 58M216 53.5L215.5 54.5L216 54.5L219 56.5L219.5 56.5L222.5 58.5L223 59.5L223.5 58.5L223 58L220 56.5L219.5 56L216.5 54.5L216 53.5M223 54.5L222.5 54.5L223 54.5M220 60.5L219.5 60.5L220 60.5M226 62L225.5 62.5L226 63.5L227.5 62.5L226 62M233 52L232.5 52.5L233 53.5L233.5 52.5L233 52M233 58.5L232.5 58.5L231.5 60.5L233 61.5L235.5 60.5L233.5 58.5L233 58.5M233 64L233 64.5L233 65.5L233.5 64.5L233 64M236.5 47.5L234 48.5L236.5 49L237 48.5L236.5 47.5M247 58L245.5 58.5L245 60.5L246.5 62.5L247 63.5L249 62.5L249 60.5L247.5 58.5L247 58M251.5 36.5L251.5 38.5L252 40.5L250.5 42.5L252 44.5L251.5 46.5L250.5 48.5L252 50.5L252.5 52.5L252 54.5L252 56.5L253.5 58.5L254 59.5L254 60.5L254.5 62.5L254 64.5L254.5 66.5L255 68.5L255 70.5L255 72.5L255 74.5L255 76.5L255.5 78.5L255.5 80.5L255.5 82.5L255.5 84.5L256 86.5L256 88.5L256 90.5L256.5 92.5L256.5 94.5L256.5 96.5L256.5 98.5L256.5 100.5L256.5 102.5L257 104.5L257 106.5L257 108.5L257 110.5L257 112.5L257 114.5L257 116.5L257 118.5L257 120.5L257.5 123L257.5 124.5L257.5 125.5L257.5 128L257.5 130.5L257.5 133L257.5 135.5L258 138L258 140.5L258 143L258 145.5L258 148L258 150.5L258 153L258.5 155.5L258.5 158L258.5 160.5L258.5 163L258.5 165.5L259 168L259 170.5L259 173L259 175.5L259.5 178L259.5 180.5L259.5 183L260 185.5L260 188L260 190.5L260.5 193L260.5 195.5L260.5 198L261 198.5L261.5 200.5L262.5 203L263.5 205.5L264 207L265 205.5L266 203L267 200.5L267.5 199L271 199L271 198L271.5 195.5L271.5 193L271.5 190.5L272 188L272 185.5L272 183L272 180.5L272.5 178L272.5 175.5L272.5 173L272.5 170.5L272.5 168L273 165.5L273 163L273 160.5L273 158L273 155.5L273.5 153L273.5 150.5L273.5 148L273.5 145.5L273.5 143L273.5 140.5L273.5 138L273.5 135.5L274 133L274 130.5L274 128L274 125.5L274 123L274 120.5L274 118.5L274 116.5L274.5 114.5L274.5 112.5L274.5 110.5L274.5 108.5L274.5 106.5L274.5 105.5L274.5 104.5L274.5 102.5L275 100.5L275 98.5L275 96.5L275 94.5L275.5 92.5L275.5 90.5L275.5 88.5L275.5 86.5L276 84.5L276 82.5L276 80.5L276.5 78.5L276.5 76.5L277 74.5L277.5 72.5L278 70.5M302 227L301.5 225.5L299.5 223L298.5 221.5L298 220.5L296.5 218L295.5 216.5L294.5 215.5L293.5 213L292 211L290 210.5L288.5 210L287.5 210.5L285 211.5M330 156.5L329 158L327.5 160.5L326.5 163L326.5 163.5L325.5 165.5L324.5 168L324 170.5L323.5 173L323 175L321.5 175.5L319.5 176L318.5 178L317.5 180.5L316.5 183L316 184.5L316 185.5L315 188L314.5 190.5L314 193L313.5 195.5L313 198L312.5 200.5L312.5 201L312 203L311 205.5L310 208L309.5 210.5L309 212M395.5 206L395.5 205.5L395 203L394.5 200.5L393.5 198L393 195.5L392.5 193L392 191L391 193L390.5 195.5L389.5 198L389 200.5L388.5 202L387.5 203L385 205.5L381.5 207L379.5 208L378 208.5L378 208L377.5 205.5L376.5 203L376 200.5L375.5 198L374.5 195.5L372 193L371 192L371 190.5L370.5 188L370 185.5L369.5 183L369 180.5L368 178L367.5 176.5L365.5 175.5L364.5 175L363.5 175.5L361 177.5L360.5 178L360 180.5L359.5 183L358.5 185.5L358 188L357.5 189.5L357 190.5L356 193L355.5 195.5L354.5 198L354 200.5L353.5 200.5L350.5 199L347 200.5L343.5 202.5L343 203L340.5 205.5L340 206L340 205.5L338 203L336.5 201M347 200.5L347 200.5M354 200.5L354 200.5M433.5 198L433 198L430 199.5L429 200.5L427 203L426.5 204L426 205.5L425 208L424 210.5L423.5 213L423 215.5L422.5 215.5L419.5 214L419 213L417.5 210.5L416 208L415 210.5L414 213L413 215.5L412.5 216.5L412 215.5L410 213L409 212L405.5 212.5M423 215.5L423 215.5M461 222L460.5 220.5L459 218L458 215.5L457.5 215L456 213L454 210.5L450.5 213M516 205L512.5 205L512.5 205.5L511.5 208L510.5 210.5L509.5 213L509 213.5L508 215.5L506.5 218L506 219L505.5 218L504 215.5L503 213L502.5 211.5L499 212L498.5 210.5L497.5 208L497 205.5L496 203L495.5 200.5L493.5 198L492 196L488.5 197.5L488 198L485.5 200.5L485 201L481.5 201L481 200.5L478.5 198L478 198L474.5 196L473.5 198L472 200.5L471.5 202.5L469.5 203L468 203.5M533.5 186L533 185.5L531 183L530 182L529.5 183L527.5 185.5L526.5 187L525.5 185.5L524 183L523 182M550.5 184.5L549.5 185.5L547 187L546 185.5L543.5 183.5L541.5 185.5L540.5 186.5M108.5 36.5L109 37L112.5 36.5L116 37.5L118 38.5L119.5 39L121 40.5L122.5 41L124 40.5L122.5 39L121.5 38.5L122.5 38L123.5 38.5L126 39L129.5 39.5L132.5 38.5L131 36.5M133 68.5L133 69L133.5 68.5L133 68.5M134.5 36.5L134.5 38.5L133 40.5L136.5 40.5L138 40.5L137 38.5L138.5 36.5M252 36.5L252 38.5L252.5 40.5L251.5 42.5L252.5 44.5L252.5 46.5L252 48.5L253 50.5L253.5 52.5L254 54.5L254 56.5L254.5 58.5L254.5 60.5L255 62.5L255 64.5L255.5 66.5L255.5 68.5L256 70.5L256 72.5L256 74.5L256 76.5L256 78.5L256 80.5L256 82.5L256.5 84.5L256.5 86.5L256.5 88.5L257 90.5L257 92.5L257 94.5L257 96.5L257 98.5L257 100.5L257.5 102.5L257.5 103.5L257.5 104.5L257.5 106.5L257.5 108.5L257.5 110.5L258 112.5L258 114.5L258 116.5L258 118.5L258 120.5L258 123L258.5 125.5L258.5 128L258.5 130.5L258.5 133L258.5 135.5L258.5 138L258.5 140.5L259 143L259 145.5L259 148L259 150.5L259 153L259 155.5L259 158L259.5 160.5L259.5 163L259.5 165.5L259.5 168L260 170.5L260 173L260 175.5L260.5 178L260.5 180.5L260.5 183L260.5 185.5L261 186L261.5 188L263 190.5L264 193L264 193.5L264.5 193L265.5 190.5L267 188L267.5 187L271 187.5L271 185.5L271.5 183L271.5 180.5L271.5 178L271.5 175.5L271.5 173L272 170.5L272 168L272 165.5L272 163L272.5 160.5L272.5 158L272.5 155.5L272.5 153L272.5 150.5L272.5 148L272.5 145.5L273 143L273 140.5L273 138L273 135.5L273 133L273 130.5L273 128L273 125.5L273 123L273.5 120.5L273.5 118.5L273.5 116.5L273.5 114.5L273.5 112.5L273.5 110.5L273.5 108.5L273.5 106.5L274 104.5L274 102.5L274 100.5L274 98.5L274 96.5L274 94.5L274 92.5L274.5 90.5L274.5 88.5L274.5 86.5L274.5 84.5L274.5 84L274.5 82.5L275 80.5L275 78.5L275 76.5L275.5 74.5L276 72.5L276.5 70.5L277 68.5L278 66.5L278 66M302 213L300.5 210.5L298.5 208L297 205.5L295.5 203L295 203L294 200.5L292.5 198L292 196.5L288.5 197L286 198L285 198.5M330 143L329 145.5L327.5 148L327 150.5L326.5 151.5L325.5 153L324.5 155.5L323.5 158L323 160L322.5 160.5L320 163L319.5 163.5L318.5 165.5L317.5 168L316.5 170.5L316 172L315.5 173L315 175.5L314.5 178L314 180.5L313.5 183L313 185.5L312.5 187.5L312.5 188L311.5 190.5L310.5 193L310 195.5L309 198M395.5 191.5L395 190.5L394.5 188L393.5 185.5L393 183L392 180.5L392 179.5L391.5 180.5L390.5 183L389.5 185.5L388.5 188L388.5 188.5L387 190.5L385 193L381.5 194L378 195L377.5 193L377 190.5L376 188L375 185.5L374.5 184L374 183L371.5 180.5L371 180L371 178L370.5 175.5L370 173L369.5 170.5L369 168L368 165.5L367.5 164L365 163L364.5 162.5L363.5 163L361 164L360.5 165.5L359.5 168L359 170.5L358.5 173L358 175.5L357.5 177.5L357 178L356 180.5L355 183L354.5 185.5L354 187L350.5 186L348 188L347 188.5L343.5 189L342.5 190.5L340.5 193L340 193L338.5 190.5L336.5 188M385 193L385 193M433.5 184.5L431.5 185.5L430 186.5L429 188L427 190.5L426.5 191.5L426 193L425 195.5L424 198L423 200.5L423 201L420 200.5L419.5 200.5L418 198L416 195.5L415 198L414 200.5L413 203L412.5 204L412 203L410 200.5L409 199.5L405.5 199.5M461 209.5L460 208L459 205.5L458 203L457.5 202L456.5 200.5L455 198L454 196.5L452.5 198L450.5 199.5M516 191.5L512.5 191.5L512 193L511 195.5L510 198L509.5 200.5L509 201L507.5 203L506 205.5L504.5 203L503.5 200.5L502.5 198.5L499 199L498.5 198L498 195.5L497.5 193L496.5 190.5L495.5 188L495.5 187.5L494 185.5L492.5 183L492 182L490.5 183L488.5 184L487 185.5L485 188L484.5 188L481.5 189.5L480.5 188L478.5 185.5L478 185L476 183L474.5 181.5L474 183L473 185.5L472 188L471.5 190L468.5 190.5L468 190.5M506 205.5L506 205.5M533.5 173L533 173L531.5 170.5L530 168.5L528.5 170.5L527 173L526.5 174.5L525.5 173L524 170.5L523 169M550.5 170.5L548.5 173L547 174.5L546 173L544.5 170.5L543.5 169.5L543 170.5L540.5 173L540.5 173.5M113.5 36.5L116 37L118 36.5M120 36.5L122.5 37.5L125 38.5L126 39L129.5 39L130.5 38.5L130 36.5M122.5 39.5L121.5 40.5L122.5 41L123.5 40.5L122.5 39.5M135.5 36.5L136.5 38L137.5 36.5M252.5 36.5L252.5 38.5L253 40.5L252.5 42.5L253 44.5L253.5 46.5L253.5 48.5L254 50L254 50.5L254.5 52.5L254.5 54.5L255 56.5L255 58.5L255.5 60.5L255.5 62.5L255.5 64.5L256 66.5L256.5 68.5L256.5 70.5L256.5 72.5L256.5 74.5L257 76.5L257 78.5L257 80.5L257 82.5L257 84.5L257 86.5L257.5 87.5L257.5 88.5L257.5 90.5L258 92.5L258 94.5L258 96.5L258 98.5L258 100.5L258.5 102.5L258.5 104.5L258.5 106.5L258.5 108.5L258.5 110.5L259 112.5L259 114.5L259 116.5L259 118.5L259 120.5L259 123L259 125.5L259.5 128L259.5 130.5L259.5 133L259.5 135.5L259.5 138L259.5 140.5L259.5 143L259.5 145.5L260 148L260 150.5L260 153L260 155.5L260 158L260 160.5L260.5 163L260.5 165.5L260.5 168L260.5 170.5L261 171L261.5 173L263 175.5L264 178L264 179L264.5 178L266 175.5L267 173L267.5 172L271 171L271 170.5L271.5 168L271.5 165.5L271.5 163L271.5 160.5L272 158L272 155.5L272 153L272 150.5L272 148L272 145.5L272 143L272 140.5L272 138L272 135.5L272.5 133L272.5 130.5L272.5 128L272.5 125.5L272.5 123L272.5 120.5L272.5 118.5L272.5 116.5L272.5 114.5L272.5 112.5L273 110.5L273 108.5L273 106.5L273 104.5L273 102.5L273 100.5L273 98.5L273 96.5L273.5 94.5L273.5 92.5L273.5 90.5L273.5 88.5L273.5 86.5L273.5 84.5L273.5 82.5L274 80.5L274 78.5L274 76.5L274.5 74.5L274.5 72.5L275 70.5L275.5 68.5L276.5 66.5L277.5 64.5L278 64M274.5 72.5L274.5 72.5M302 199L301.5 198L299.5 195.5L298.5 195L298 193L296.5 190.5L295.5 188.5L295 188L293.5 185.5L292 183L288.5 182L285 183M313 170.5L312.5 173L311.5 175.5L311 178L310 180.5L309 183M312.5 173L312.5 173M330 129.5L329 130.5L328 133L327 135.5L326.5 137L326 138L325 140.5L324 143L323 145L322.5 145.5L319.5 147.5L319 148L318.5 150.5L317.5 153L316.5 155.5L316 157M395.5 178L394.5 175.5L394 173L393.5 170.5L393 168L392.5 165.5L392 163L391 165.5L390.5 168L389.5 170.5L389 173L388.5 174L387 175.5L385 177.5L384.5 178L381.5 180.5L378 180.5L377.5 178L376.5 175.5L376 173L375 170.5L374.5 168.5L374 168L372.5 165.5L371 164L371 163L370.5 160.5L370 158L369.5 155.5L369 153L368.5 150.5L368 148L367.5 147.5L364.5 147.5L364 148L361.5 150.5L361 151L360 153L359.5 155.5L358.5 158L358 160.5L357.5 162.5L357.5 163L356.5 165.5L355.5 168L354.5 170.5L354 172.5L350.5 171.5L347.5 173L347 173L343.5 173.5L341.5 175.5L340 176.5L339 175.5L337 173L336.5 172.5M433.5 170L431.5 170.5L430 171L428.5 173L427 175.5L426.5 176.5L426 178L425 180.5L424.5 183L423.5 185.5L423 187L420.5 185.5L419.5 185L418 183L416.5 180.5L416 180L416 180.5L415 183L414 185.5L412.5 188L409 185.5L405.5 185M412.5 188L412.5 188M461 194L460.5 193L459 190.5L458 188L457.5 187.5L456.5 185.5L455 183L454 181.5L452 183L450.5 184M516 177L512.5 177.5L512.5 178L511 180.5L510 183L509 184L508.5 185.5L507.5 188L506.5 190.5L506 192L505 190.5L504 188L503 185.5L502.5 184L500 183L499 182.5L498 180.5L497 178L496.5 175.5L495.5 173L494 170.5L492 168L492 167.5L490 168L488.5 168.5L486.5 170.5L485 172.5L481.5 172.5L478 170.5L475.5 168L474.5 167L474.5 168L473.5 170.5L472 173L471.5 175.5L468 175M523 153L524.5 155.5L525.5 158L526.5 159.5L527.5 158L529 155.5L530 153.5L532 155.5L533.5 157M550.5 156.5L548.5 158L547 159L546.5 158L544 155.5L543.5 155L543 155.5L540.5 157.5M115 36.5L116 36.5L116.5 36.5M121 36.5L122.5 37L126 37.5L128 36.5M122.5 40.5L123 40.5L122.5 40.5M136 36.5L136.5 37L137 36.5M253 36.5L253 38.5L253.5 40.5L253.5 42.5L253.5 44.5L254 45.5L254 46.5L254.5 48.5L254.5 50.5L255 52.5L255.5 54.5L255.5 56.5L255.5 58.5L256 60.5L256 62.5L256 64.5L256.5 66.5L257 68.5L257 70.5L257.5 72.5L257.5 74.5L258 76.5L258 78.5L258 80.5L258 82.5L258.5 84.5L258.5 86.5L258.5 88.5L259 90.5L259 92.5L259 94.5L259 96.5L259.5 98.5L259.5 100.5L259.5 102.5L259.5 104.5L259.5 106.5L259.5 108.5L259.5 110.5L260 112.5L260 114.5L260 116.5L260 118.5L260 120.5L260 123L260 125.5L260 128L260 130.5L260.5 133L260.5 135.5L260.5 138L260.5 140.5L260.5 143L260.5 145.5L260.5 148L260.5 150.5L260.5 153L260.5 155.5L261 156L262.5 158L263.5 160.5L264 163L265 160.5L266 158L267.5 156L271 157L271 155.5L271 153L271 150.5L271.5 148L271.5 145.5L271.5 143L271.5 140.5L271.5 138L271.5 135.5L271.5 133L271.5 130.5L271.5 128L271.5 125.5L271.5 123L271.5 120.5L272 118.5L272 116.5L272 114.5L272 112.5L272 110.5L272 108.5L272 106.5L272 104.5L272 102.5L272 100.5L272.5 98.5L272.5 96.5L272.5 94.5L272.5 92.5L272.5 90.5L272.5 88.5L272.5 86.5L273 84.5L273 82.5L273 80.5L273 78.5L273 76.5L273.5 74.5L273.5 72.5L274 70.5L274.5 68.5L274.5 67.5L275 66.5L276 64.5L277.5 62.5L278 62M264 163L264 163M302 183L301.5 180.5L298.5 178L298 175.5L295.5 173L295 173L294.5 170.5L293.5 168L292 166L289 168L288.5 168L287.5 168L285 166.5M330 114.5L329.5 114.5L328 116.5L327 118.5L326.5 120.5L326.5 121L325 123L324 125.5L323.5 128L323 130.5L319.5 132.5L319 133L317.5 135.5L317 138L316.5 140.5L316 142M323 130.5L323 130.5M395.5 163L395 160.5L395 158L394.5 155.5L394 153L392.5 150.5L392 148.5L391 150.5L389.5 153L389 155.5L388.5 158L386 160.5L385 162L384 163L382 165.5L381.5 165.5L380.5 165.5L378 164.5L378 163L377.5 160.5L377 158L375.5 155.5L374.5 153.5L374.5 153L373.5 150.5L371 148L371 145.5L370.5 143L370.5 140.5L369.5 138L369 135.5L367.5 133.5L364.5 133.5L361 135.5L359.5 138L358.5 140.5L358 143L357.5 145.5L357.5 146.5L356.5 148L355.5 150.5L354.5 153L354.5 155.5L354 158L350.5 156L347 157.5L346 158L343.5 160L342 160.5L340 161L339.5 160.5L336.5 158.5M354 158L354 158M433.5 153.5L431 155.5L430 156L428 158L426.5 160.5L425 163L424 165.5L423.5 168L423 170.5L423 171.5L419.5 171L419.5 170.5L418.5 168L416 165.5L414 168L413.5 170.5L413 173L412.5 174L412 173L410 170.5L409 169.5L405.5 168.5M426.5 160.5L426.5 160.5M461 177.5L460 175.5L458 173L457.5 172.5L457 170.5L455.5 168L454 166.5L450.5 168M516 162L512.5 163L510.5 165.5L509.5 168L509 169.5L508.5 170.5L506.5 173L506 175.5L506 176L505.5 175.5L505 173L503.5 170.5L502.5 168.5L499 168L498.5 165.5L498 163L497 160.5L495.5 158L494.5 155.5L493.5 153L492 151L489.5 153L488.5 153.5L486 155.5L485 156.5L481.5 158L479.5 155.5L478 154.5L477 153L474.5 151L473.5 153L472.5 155.5L472 158L471.5 160.5L471.5 161L468 160.5M481.5 158L481.5 158M512.5 163L512.5 163M533.5 143L532.5 140.5L530 138.5L528 140.5L527 143L526.5 145.5L526 143L525 140.5L523 138M526.5 145.5L526.5 145.5M550.5 141L548.5 143L547.5 145.5L547 145.5L546 143L543.5 141L540.5 143M122 36.5L122.5 37L124.5 36.5M253.5 36.5L253.5 38.5L254 40.5L254.5 42.5L254.5 44.5L255 46.5L255 48.5L255.5 50.5L256 52.5L256 54.5L256 56.5L256.5 58.5L256.5 60.5L256.5 62.5L257 64.5L257.5 66.5L258 68.5L258 70.5L258.5 72.5L259 74.5L259.5 76.5L259.5 78.5L259.5 80.5L259.5 82.5L259.5 84.5L260 86.5L260 88.5L260 90.5L260 92.5L260 94.5L260.5 96.5L260.5 98.5L260.5 100.5L260.5 102.5L260.5 104.5L260.5 106.5L260.5 108.5L261 110.5L262 112.5L263 114.5L264 116L265.5 114.5L267 112.5L267.5 111.5L271 111.5L271 110.5L271 108.5L271 106.5L271.5 104.5L271.5 102.5L271.5 100.5L271.5 98.5L271.5 96.5L271.5 94.5L271.5 92.5L271.5 90.5L271.5 88.5L272 86.5L272 84.5L272 82.5L272 80.5L272 78.5L272.5 76.5L272.5 74.5L272.5 72.5L273 70.5L273.5 68.5L274 66.5L274.5 64.5L276 62.5L277.5 60.5L278 60M302 132L300.5 130.5L299 128L298.5 128L296 125.5L295.5 124L294.5 123L292.5 120.5L292 119L288.5 119.5L285 120M330 83L328.5 84.5L327 86.5L326.5 87.5L325.5 88.5L324.5 90.5L323.5 92.5L323 93.5L320.5 94.5L319.5 95L318.5 96.5L317.5 98.5L317 100.5L316.5 102.5L316 103.5M395.5 115.5L395 114.5L394.5 112.5L393.5 110.5L393 108.5L392.5 106.5L392 105L391 106.5L390.5 108.5L389.5 110.5L388.5 112.5L388.5 113L385.5 114.5L385 115L383 116.5L381.5 117.5L378 118L377.5 116.5L376.5 114.5L376 112.5L375.5 110.5L374.5 108.5L372.5 106.5L371 105.5L371 104.5L370.5 102.5L370 100.5L369 98.5L368.5 96.5L368 94.5L367.5 93.5L364.5 93.5L361.5 94.5L361 95L360 96.5L359.5 98.5L358.5 100.5L358 102.5L357.5 103.5L357 104.5L356 106.5L355.5 108.5L354.5 110.5L354 111.5L350.5 111.5L347 112L345 112.5L343.5 113L341.5 114.5L340 115.5L339 114.5L336.5 112.5M433.5 110L432 110.5L430 111.5L429 112.5L426.5 114.5L426 116.5L425 118.5L424 120.5L423 122.5L419.5 122L418.5 120.5L416.5 118.5L416 118L415.5 118.5L415 120.5L413.5 123L412.5 124L411.5 123L409 121L406.5 120.5L405.5 120.5M461 127.5L459.5 125.5L457.5 123L455.5 120.5L454 118.5L450.5 120.5M516 115.5L512.5 115.5L512 116.5L511 118.5L509.5 120.5L509 121L508 123L506 125.5L504 123L502.5 120.5L499 120L498 118.5L497 116.5L496 114.5L495.5 112.5L493.5 110.5L492 108.5L490 108.5L488.5 109L487 110.5L485 112.5L482.5 112.5L481.5 112.5L478.5 110.5L478 110L476 108.5L474.5 107.5L474 108.5L473 110.5L472 112.5L471.5 114L468 113.5M533.5 100.5L533 100.5L530.5 98.5L530 98L529.5 98.5L528 100.5L526.5 102.5L525 100.5L523.5 98.5L523 97.5M550.5 100L550 100.5L547 102L545 100.5L543.5 98.5L540.5 100.5M185 44.5L184 44.5L185 45L185.5 44.5L185 44.5M254 36.5L254.5 38.5L255 40.5L255.5 42.5L255.5 44.5L255.5 46.5L256 48.5L256 50.5L256.5 52.5L256.5 54.5L257 56.5L257 58.5L257.5 60.5L257.5 61L257 62.5L257.5 63L258 64.5L258.5 66.5L259 68.5L259.5 70.5L260 72.5L260.5 74.5L261 76L261 76.5L261.5 78.5L262 80.5L264 82.5L264 83L264.5 82.5L267 80.5L267.5 78.5L267.5 78L268.5 78.5L271 80.5L271 78.5L271.5 76.5L271.5 74.5L272 72.5L272 70.5L272.5 68.5L273 66.5L273.5 64.5L274 62.5L274.5 62L275.5 60.5L277.5 58.5L278 58M302 115L298.5 114.5L297.5 112.5L296 110.5L295.5 109L295 108.5L294.5 106.5L293.5 104.5L292 102.5L289 104.5L288.5 105L287.5 104.5L285 103M395.5 74L392.5 72.5L392 72L388.5 72.5L385 72.5L381.5 74.5L380.5 76.5L378 78.5L376.5 76.5L375.5 74.5L375 72.5L374.5 71.5L373 70.5L371.5 68.5L371 68.5L368.5 66.5L367.5 65.5L366 64.5L364.5 62.5L364 62.5L361 64L360.5 64.5L360.5 66.5L359 68.5L357.5 70L357 70.5L356.5 72.5L354 74.5L351 72.5L350.5 70.5L347 70.5L346.5 72.5L345.5 74.5L343.5 76.5L340 75L339.5 74.5L336.5 74M433.5 93L432.5 92.5L430 90.5L429.5 90.5L427.5 92.5L426.5 93.5L425.5 94.5L423 96.5L420.5 94.5L419.5 93.5L417 92.5L416 92L415.5 92.5L413 94.5L412.5 95L411.5 94.5L409 94L407 92.5L406 90.5L405.5 90.5M423 96.5L423 96.5M461 80L458.5 78.5L457.5 78L454 78L453 78.5L450.5 79.5M516 76.5L512.5 74.5L512.5 76.5L511.5 78.5L511 80.5L510 82.5L509 84L508.5 84.5L506 86L502.5 84.5L502 84.5L500.5 86.5L499 88L498.5 88.5L497 90.5L495.5 92L492.5 92.5L492 92.5L490 90.5L489 88.5L488.5 88L488 86.5L487 84.5L486.5 82.5L486 80.5L485.5 78.5L485 76.5L482 74.5L481.5 73L481.5 72.5L479.5 70.5L479 68.5L478.5 66.5L478.5 64.5L478 62.5L475.5 60.5L475 58.5L475 56.5L474.5 56.5L474 56.5L471.5 58L469.5 58.5L468 59.5M533.5 61.5L531.5 60.5L530 60L526.5 60.5L523.5 58.5L523 58.5M550.5 81L550 80.5L547 79L547 78.5L546 76.5L545.5 74.5L544.5 72.5L544 70.5L543.5 69L543 68.5L541.5 66.5L540.5 64.5L540.5 64M255.5 36.5L256 38.5L256 40.5L256.5 42.5L257 44.5L256.5 46.5L257 48.5L257 50.5L257.5 51.5L257.5 52.5L257.5 54.5L257.5 56.5L258 58.5L258.5 60.5L258.5 62.5L259 64.5L259.5 66.5L260.5 68.5L261 70.5L263 72.5L264 74.5L265.5 72.5L266.5 70.5L267 68.5L267.5 66.5L267.5 66L268 66.5L269.5 68.5L271 70L271.5 68.5L272 66.5L272.5 64.5L273 62.5L274 60.5L274.5 59.5L275 58.5L277.5 56.5L278 56M302 36.5L302 38.5L302 40.5L302 42.5L302 44.5L302 46.5L302 48.5L302 50.5L302 52.5L302 54.5L302 56.5L302 58.5L302 60.5L301.5 62.5L301.5 64.5L301.5 66.5L301.5 68.5L301 70.5L301 72.5L301 74.5L300.5 76.5L300.5 78.5L300 80.5L299.5 82.5L299.5 84.5L299 86.5L298.5 87L298.5 86.5L298 84.5L297.5 82.5L297.5 80.5L297 78.5L296.5 76.5L295.5 74.5L295.5 73L292 72.5L288.5 73.5L287.5 72.5L286 70.5L285 69.5M395.5 67L395 66.5L393.5 64.5L392.5 62.5L392 60.5L392 58.5L391.5 60.5L391 62.5L390 64.5L388.5 66.5L385 65.5L381.5 66L379 64.5L378 62.5L375 60.5L374.5 60L374 60.5L371 62L369.5 60.5L368 58.5L367.5 58.5L364.5 57.5L361 58.5L360 60.5L358.5 62.5L357.5 64L357 64.5L355.5 66.5L354 68.5L354 69L353.5 68.5L352 66.5L350.5 65L350 64.5L347 62.5L344.5 64.5L343.5 65.5L341.5 64.5L340 63.5L336.5 63M405.5 78.5L409 80L409.5 80.5L411 82.5L412.5 84.5L414 82.5L415 80.5L416 79.5L417.5 80.5L419.5 82L421.5 82.5L423 83L423 82.5L424 80.5L425 78.5L425.5 76.5L426.5 74.5L428.5 76.5L430 77L431.5 76.5L433.5 75.5M412.5 84.5L412.5 84.5M461 68.5L457.5 69L454 68.5L453.5 68.5L452.5 66.5L450.5 65M516 58.5L514.5 60.5L512.5 61.5L512 62.5L509 64.5L508.5 66.5L507 68.5L506 69.5L504 68.5L502.5 67.5L502 68.5L499.5 70.5L499 71L498.5 72.5L498 74.5L495.5 76.5L495.5 77L494 78.5L492 79.5L491 78.5L490 76.5L489.5 74.5L489 72.5L488.5 70.5L488.5 70L485.5 68.5L485 68L483.5 66.5L482.5 64.5L482 62.5L481.5 62L480.5 60.5L479.5 58.5L478.5 56.5L478 54.5L476 52.5L475 50.5L474.5 50.5L472 48.5L471.5 48L471 48.5L470 50.5L468.5 52.5L468 53M533.5 53L532 52.5L530 51.5L527.5 52.5L526.5 53L525 52.5L523 52M550.5 59L549 58.5L547 58L546 56.5L544 54.5L543.5 54L543.5 54.5L541 56.5L540.5 57M257.5 36.5L257.5 37L257 38.5L257 40.5L257.5 42.5L257.5 44.5L257.5 46.5L257.5 48.5L258 50.5L258.5 52.5L258.5 54.5L258.5 56.5L259 58.5L259.5 60.5L259.5 62.5L260.5 64.5L261 66L262 66.5L264 68.5L265 66.5L266 64.5L267 62.5L267.5 61.5L268.5 62.5L270.5 64.5L271 65L271.5 64.5L272 62.5L272.5 60.5L273.5 58.5L274.5 57L275 56.5L278 54.5M295.5 36.5L294 38.5L293 40.5L292 42.5L292 43L290 44.5L288.5 46.5L285.5 48.5L285 49M288.5 46.5L288.5 46.5M395.5 63L395 62.5L394 60.5L393.5 58.5L392.5 56.5L392 56L391.5 56.5L390.5 58.5L389.5 60.5L388.5 62.5L388.5 63L386.5 62.5L385 62.5L383 62.5L381.5 62.5L379.5 60.5L378 59.5L377 58.5L374.5 57.5L372 58.5L371 59L370.5 58.5L368 56.5L367.5 56L364.5 55.5L361 56L360.5 56.5L358.5 58.5L357.5 60.5L355.5 62.5L354 64L352.5 62.5L351 60.5L350.5 60L348.5 58.5L347 57L343.5 57L343 56.5L340.5 54.5L340 54L338.5 52.5L337 50.5L336.5 50.5M357.5 60.5L357.5 60.5M433.5 59.5L432 60.5L430 62L426.5 60.5L425.5 62.5L424.5 64.5L423.5 66.5L423 67.5L419.5 67L418.5 66.5L416 66L415.5 66.5L413.5 68.5L412.5 69.5L411.5 68.5L409 66.5L405.5 65M461 39.5L460 40.5L458 42.5L457.5 43L457 42.5L454 40.5L450.5 41M516 54.5L513 56.5L512.5 57L511 58.5L509 60.5L507.5 62.5L506 64.5L502.5 63L501 64.5L499.5 66.5L499 67L498 68.5L496.5 70.5L495.5 72.5L492 74.5L491 72.5L490.5 70.5L489.5 68.5L488.5 66.5L488.5 66L485.5 64.5L485 64L484 62.5L483 60.5L482 58.5L481.5 58.5L480.5 56.5L480 54.5L478.5 52.5L478 52L477 50.5L475.5 48.5L474.5 47.5L473.5 46.5L471.5 45L468.5 46.5L468 47.5M495.5 72.5L495.5 72.5M533.5 47L531.5 46.5L530 46L528.5 46.5L526.5 47.5L523 48M550.5 45.5L548.5 44.5L547 44L543.5 42.5L542 44.5L540.5 46M258 36.5L258 38.5L258 40.5L258 42.5L258.5 44.5L258 46.5L258.5 48.5L258.5 50.5L259 52.5L259 54.5L259.5 56.5L260 58.5L260.5 60.5L261 61.5L263.5 62.5L264 63L264.5 62.5L265.5 60.5L267.5 58.5L268 58.5L270.5 60.5L271 61L271.5 60.5L272 58.5L273 56.5L274.5 54.5L275 54.5L278 52.5M336.5 36.5L337 38.5L337.5 40.5L338 42.5L339 44.5L340 46L341 46.5L343 48.5L343.5 49L344.5 50.5L347 52.5L347.5 52.5L349.5 54.5L350.5 55L351.5 56.5L353 58.5L354 59.5L355.5 58.5L357.5 57L358 56.5L360 54.5L361 54L364.5 53.5L367.5 54.5L368 54.5L371 56.5L374.5 55.5L377.5 56.5L378 56.5L380 58.5L381.5 60L385 59.5L388.5 59.5L389 58.5L390 56.5L391 54.5L392 53.5L392.5 54.5L394 56.5L395 58.5L395.5 59.5M433.5 45.5L431.5 46.5L430 48L426.5 48L426 48.5L424.5 50.5L423 52.5L423 53L419.5 53L416 53.5L414 54.5L412.5 55.5L409.5 54.5L409 54.5L406 52.5L405.5 52.5M516 51L513.5 52.5L512.5 53L511 54.5L509 56.5L507 58.5L506 60L502.5 60L501.5 60.5L499.5 62.5L499 63.5L498 64.5L496.5 66.5L495.5 68.5L492 70L491.5 68.5L490.5 66.5L489.5 64.5L488.5 63L488 62.5L485.5 60.5L485 60L484 58.5L482.5 56.5L481.5 55L481.5 54.5L480.5 52.5L479 50.5L478 49L477.5 48.5L476 46.5L475 44.5L474.5 44.5L471.5 43L469 42.5L468 42.5M495.5 68.5L495.5 68.5M533.5 42L530 41L527 42.5L526.5 42.5L523 44.5M540.5 36.5L540.5 36.5M259 36.5L258.5 38.5L258.5 40.5L259 42.5L259 44.5L259 46.5L259 48.5L259.5 50.5L260 52.5L260 54.5L260.5 56.5L261 57.5L264 57.5L265 56.5L267.5 55L270 56.5L271 57L271.5 56.5L272.5 54.5L274.5 52.5L278 51M341.5 36.5L342 38.5L342.5 40.5L343.5 42.5L344.5 44.5L346 46.5L347 47.5L348 48.5L350 50.5L350.5 51L351.5 52.5L353 54.5L354 55.5L355.5 54.5L357.5 53.5L359 52.5L361 51.5L364.5 51.5L367 52.5L367.5 52.5L371 54L374.5 54L378 54L378.5 54.5L381 56.5L381.5 57L385 57L387 56.5L388.5 56L389.5 54.5L391 52.5L392 51.5L393 52.5L394.5 54.5L395.5 56M433.5 36.5L430 37.5L426.5 38L425 38.5L423.5 40.5L423 41L419.5 41.5L417.5 42.5L416 43.5L412.5 43.5L409 44L407 42.5L405.5 41.5M468 36.5L468.5 38.5L470.5 40.5L471.5 40.5L474.5 41.5L475.5 42.5L476.5 44.5L478 46.5L479.5 48.5L481 50.5L481.5 51.5L482 52.5L483.5 54.5L485 56.5L487 58.5L488.5 59.5L489 60.5L490.5 62.5L491.5 64.5L492 65.5L495.5 64.5L497 62.5L498.5 60.5L499 60L500.5 58.5L502.5 56.5L506 55.5L507 54.5L509 53L509.5 52.5L511.5 50.5L512.5 49L514.5 48.5L516 48M495.5 64.5L495.5 64.5M502.5 56.5L502.5 56.5M533.5 37.5L530 36.5L526.5 38.5L524 40.5L523 41.5M259.5 36.5L259.5 38.5L259.5 40.5L259.5 42.5L259.5 44.5L259.5 46.5L260 48.5L260 50.5L260.5 52.5L261 53.5L264 52.5L267.5 52L269 52.5L271 53.5L272 52.5L274.5 50.5L274.5 50L276 48.5L276.5 46.5L277.5 44.5L278 43M264 52.5L264 52.5M345.5 36.5L345.5 38.5L346 40.5L346.5 42.5L347 43.5L348 44.5L350 46.5L350.5 46.5L351.5 48.5L353 50.5L354 51.5L357.5 50.5L361 49.5L364.5 50L366 50.5L367.5 51L371 51.5L374.5 52L378 52L379 52.5L381.5 54.5L385 54.5L388.5 53L388.5 52.5L390.5 50.5L392 49L393.5 50.5L395 52.5L395.5 52.5M357.5 50.5L357.5 50.5M470.5 36.5L471 38.5L471.5 38.5L474.5 39L475.5 40.5L477 42.5L478 44.5L478.5 44.5L480 46.5L481.5 48.5L483 50.5L484.5 52.5L485 53L486.5 54.5L488.5 56.5L490 58.5L491.5 60.5L492 61L495.5 61L496 60.5L497.5 58.5L499 56.5L501 54.5L502.5 53.5L504 52.5L506 51.5L507 50.5L509 49L510 48.5L512 46.5L512.5 45.5L516 44.5M499 56.5L499 56.5M524 36.5L523 38M260.5 36.5L260.5 38.5L260.5 40.5L260.5 42.5L260.5 44.5L260.5 46.5L260.5 48.5L261 50L263.5 48.5L264 48L265 48.5L267.5 49.5L271 50.5L271.5 50.5L272 48.5L272 46.5L272.5 44.5L272.5 42.5L273 40.5L273.5 38.5L274 36.5M349 36.5L349 38.5L349.5 40.5L349.5 42.5L350.5 43L351.5 44.5L353 46.5L354 48L357.5 47.5L361 47.5L364.5 48.5L367.5 49.5L371 49.5L374.5 50.5L378 49.5L379.5 50.5L381.5 52L385 52L387.5 50.5L388.5 50L390 48.5L392 47L394 48.5L395.5 49.5M374.5 50.5L374.5 50.5M474 36.5L474.5 37L476.5 38.5L477 40.5L478 42L478.5 42.5L480.5 44.5L481.5 46L482 46.5L484 48.5L485 50L485.5 50.5L487 52.5L488.5 54L489.5 54.5L491.5 56.5L492 57L495.5 57.5L496.5 56.5L498 54.5L499 53.5L500 52.5L502 50.5L502.5 50.5L504.5 48.5L506 47.5L507.5 46.5L509 46L510.5 44.5L512.5 42.5L516 42M354 36.5L354.5 38.5L355 40.5L355.5 42.5L356 44.5L357.5 45L361 46L362.5 46.5L364.5 47L367.5 48L371 47.5L373 48.5L374.5 49L376 48.5L378 47.5L380 48.5L381.5 49.5L385 49.5L387 48.5L388.5 47.5L389.5 46.5L392 45.5L395 46.5L395.5 46.5M478 36.5L478 38L478.5 38.5L479 40.5L480.5 42.5L481.5 43.5L483 44.5L485 46.5L485 47L486.5 48.5L488 50.5L488.5 51L491 52.5L492 53.5L495.5 54.5L497 52.5L499 50.5L501.5 48.5L502.5 47.5L503.5 46.5L505.5 44.5L506 43.5L509 43L509.5 42.5L511.5 40.5L512.5 39.5L515 38.5L516 36.5M499 50.5L499 50.5M361 36.5L362.5 38.5L364 40.5L364.5 41.5L365 42.5L366.5 44.5L367.5 46.5L368 46.5L371 45L373 46.5L374.5 47L376 46.5L378 45L380.5 46.5L381.5 47L385 47L386 46.5L388.5 45L389 44.5L392 43L395.5 43.5M483.5 36.5L484 38.5L484.5 40.5L484.5 42.5L485 43.5L486 44.5L488 46.5L488.5 48.5L488.5 49L492 50L492.5 50.5L495.5 51.5L496.5 50.5L498 48.5L499 48L500.5 46.5L502.5 45.5L503 44.5L503.5 42.5L506 40.5L507 40.5L509 40L510 38.5L511 36.5"/>
<g shape-rendering="crispEdges"><rect x="77" y="48" width="2" height="2" fill="#00ffff"/><rect x="75" y="48" width="1" height="1" fill="#0000ff"/><rect x="76" y="48" width="1" height="2" fill="#00cfff"/><rect x="79" y="47" width="2" height="1" fill="#0020ff"/><rect x="81" y="54" width="2" height="2" fill="#00ffff"/><rect x="81" y="56" width="2" height="1" fill="#0000ef"/><rect x="83" y="44" width="1" height="2" fill="#0040ff"/><rect x="86" y="57" width="1" height="1" fill="#0080ff"/><rect x="85" y="52" width="1" height="1" fill="#00cfff"/><rect x="88" y="45" width="2" height="2" fill="#0040ff"/><rect x="93" y="52" width="1" height="1" fill="#00ffff"/><rect x="93" y="51" width="1" height="2" fill="#3fffbf"/><rect x="92" y="46" width="2" height="1" fill="#00cfff"/><rect x="95" y="54" width="1" height="1" fill="#0000ef"/><rect x="101" y="48" width="1" height="1" fill="#0080ff"/><rect x="100" y="45" width="1" height="1" fill="#0040ff"/><rect x="104" y="43" width="1" height="1" fill="#00ffff"/><rect x="103" y="50" width="2" height="1" fill="#0000ff"/><rect x="106" y="42" width="1" height="1" fill="#00ffff"/><rect x="106" y="41" width="1" height="1" fill="#00cfff"/><rect x="111" y="45" width="2" height="1" fill="#0000ff"/><rect x="114" y="55" width="1" height="1" fill="#00ffff"/><rect x="116" y="59" width="1" height="2" fill="#0000ff"/><rect x="116" y="64" width="1" height="1" fill="#0040ff"/><rect x="121" y="60" width="2" height="2" fill="#0020ff"/><rect x="121" y="60" width="1" height="2" fill="#0040ff"/><rect x="123" y="52" width="1" height="2" fill="#3fffbf"/><rect x="126" y="52" width="1" height="2" fill="#0080ff"/><rect x="128" y="79" width="2" height="1" fill="#0040ff"/><rect x="130" y="38" width="1" height="2" fill="#00ffff"/><rect x="130" y="44" width="1" height="2" fill="#3fffbf"/><rect x="136" y="63" width="1" height="1" fill="#0000ff"/><rect x="135" y="61" width="1" height="2" fill="#0020ff"/><rect x="138" y="53" width="1" height="1" fill="#0020ff"/><rect x="139" y="41" width="2" height="2" fill="#ffef00"/><rect x="140" y="51" width="1" height="2" fill="#00ffff"/><rect x="140" y="52" width="1" height="2" fill="#0020ff"/><rect x="145" y="40" width="2" height="1" fill="#0000ff"/><rect x="146" y="51" width="1" height="1" fill="#00ffff"/><rect x="146" y="53" width="1" height="1" fill="#00ffff"/><rect x="148" y="54" width="1" height="1" fill="#0000ff"/><rect x="148" y="55" width="1" height="2" fill="#0040ff"/><rect x="151" y="38" width="2" height="2" fill="#3fffbf"/><rect x="156" y="40" width="2" height="2" fill="#0020ff"/><rect x="154" y="43" width="1" height="2" fill="#3fffbf"/><rect x="159" y="58" width="1" height="2" fill="#00ffff"/><rect x="159" y="41" width="1" height="2" fill="#0020ff"/><rect x="159" y="49" width="1" height="1" fill="#0080ff"/><rect x="163" y="41" width="1" height="1" fill="#3fffbf"/><rect x="162" y="54" width="1" height="1" fill="#0020ff"/><rect x="163" y="39" width="1" height="1" fill="#0080ff"/><rect x="166" y="52" width="2" height="2" fill="#0020ff"/><rect x="168" y="48" width="2" height="1" fill="#00cfff"/><rect x="169" y="42" width="1" height="1" fill="#00cfff"/><rect x="171" y="48" width="1" height="1" fill="#0080ff"/><rect x="174" y="52" width="1" height="2" fill="#0020ff"/><rect x="177" y="52" width="1" height="2" fill="#00cfff"/><rect x="176" y="54" width="1" height="2" fill="#0020ff"/><rect x="178" y="49" width="2" height="2" fill="#0000ef"/><rect x="181" y="48" width="2" height="2" fill="#00ffff"/><rect x="184" y="53" width="2" height="2" fill="#0000ff"/><rect x="182" y="52" width="2" height="2" fill="#0000ff"/><rect x="185" y="56" width="2" height="1" fill="#00ffff"/><rect x="190" y="51" width="1" height="2" fill="#00ffff"/><rect x="191" y="46" width="1" height="2" fill="#0000ff"/><rect x="194" y="44" width="2" height="1" fill="#0020ff"/><rect x="197" y="53" width="1" height="2" fill="#0040ff"/><rect x="200" y="45" width="2" height="1" fill="#0020ff"/><rect x="199" y="41" width="2" height="1" fill="#0040ff"/><rect x="199" y="40" width="1" height="2" fill="#0040ff"/><rect x="202" y="40" width="2" height="1" fill="#3fffbf"/><rect x="204" y="45" width="1" height="1" fill="#0080ff"/><rect x="203" y="40" width="2" height="1" fill="#0000ef"/><rect x="206" y="40" width="1" height="1" fill="#0000ff"/><rect x="211" y="40" width="1" height="1" fill="#0000ff"/><rect x="210" y="39" width="1" height="2" fill="#0000ef"/><rect x="209" y="38" width="1" height="2" fill="#0040ff"/></g>
<clipPath id="cp"><rect x="75" y="37" width="479.5" height="479"/></clipPath><g clip-path="url(#cp)"><path stroke="#000" stroke-width="1" fill="none" shape-rendering="crispEdges" d="M206 356h7M209 353v7M269 490h7M272 487v7M296 506h7M299 503v7M322 480h7M325 477v7M420 498h7M423 495v7M481 496h7M484 493v7M527 483h7M530 480v7M548 488h7M551 485v7M120 198h7M123 195v7M263 356h7M266 353v7M292 384h7M295 381v7M316 336h7M319 333v7M359 360h7M362 357v7M413 381h7M416 378v7M458 386h7M461 383v7M491 366h7M494 363v7M530 360h7M533 357v7M542 360h7M545 357v7M229 163h7M232 160v7M263 323h7M266 320v7M315 303h7M318 300v7M344 322h7M347 319v7M417 333h7M420 330v7M454 335h7M457 332v7M493 323h7M496 320v7M530 307h7M533 304v7M544 310h7M547 307v7M165 133h7M168 130v7M264 296h7M267 293v7M297 318h7M300 315v7M316 270h7M319 267v7M366 278h7M369 275v7M421 306h7M424 303v7M455 310h7M458 307v7M510 298h7M513 295v7M526 278h7M529 275v7M541 276h7M544 273v7M127 126h7M130 123v7M268 276h7M271 273v7M285 289h7M288 286v7M315 256h7M318 253v7M414 288h7M417 285v7M454 293h7M457 290v7M494 283h7M497 280v7M132 114h7M135 111v7M269 263h7M272 260v7M324 228h7M327 225v7M416 278h7M419 275v7M457 286h7M460 283v7M477 266h7M480 263v7M526 248h7M529 245v7M548 250h7M551 247v7M161 100h7M164 97v7M268 254h7M271 251v7M289 263h7M292 260v7M323 218h7M326 215v7M372 250h7M375 247v7M410 268h7M413 265v7M451 263h7M454 260v7M503 272h7M506 269v7M530 240h7M533 237v7M541 238h7M544 235v7M86 78h7M89 75v7M265 243h7M268 240v7M299 270h7M302 267v7M326 203h7M329 200v7M339 248h7M342 245v7M416 258h7M419 255v7M454 260h7M457 257v7M506 258h7M509 255v7M525 230h7M528 227v7M540 228h7M543 225v7M259 236h7M262 233v7M295 253h7M298 250v7M389 224h7M392 221v7M417 246h7M420 243v7M454 249h7M457 246v7M503 253h7M506 250v7M522 218h7M525 215v7M542 218h7M545 215v7M258 223h7M261 220v7M291 236h7M294 233v7M323 188h7M326 185v7M417 236h7M420 233v7M451 233h7M454 230v7M490 220h7M493 217v7M523 208h7M526 205v7M541 206h7M544 203v7M296 232h7M299 229v7M322 178h7M325 175v7M361 187h7M364 184v7M455 228h7M458 225v7M504 228h7M507 225v7M530 198h7M533 195v7M541 194h7M544 191v7M295 220h7M298 217v7M315 180h7M318 177v7M423 206h7M426 203v7M454 215h7M457 212v7M513 205h7M516 202v7M541 183h7M544 180v7M262 193h7M265 190v7M292 203h7M295 200v7M324 150h7M327 147v7M390 183h7M393 180v7M423 192h7M426 189v7M451 197h7M454 194v7M482 188h7M485 185v7M530 173h7M533 170v7M548 171h7M551 168v7M296 195h7M299 192v7M323 138h7M326 135v7M385 174h7M388 171v7M413 180h7M416 177v7M452 183h7M455 180v7M497 183h7M500 180v7M529 156h7M532 153v7M261 163h7M264 160v7M374 160h7M377 157v7M410 174h7M413 171v7M455 173h7M458 170v7M502 173h7M505 170v7M530 143h7M533 140v7M541 141h7M544 138v7M293 126h7M296 123v7M324 86h7M327 83v7M352 108h7M355 105v7M421 120h7M424 117v7M454 123h7M457 120v7M476 110h7M479 107v7M527 98h7M530 95v7M542 100h7M545 97v7M265 78h7M268 75v7M292 108h7M295 105v7M356 68h7M359 65v7M430 92h7M433 89v7M454 78h7M457 75v7M486 88h7M489 85v7M539 66h7M542 63v7M296 84h7M299 81v7M351 68h7M354 65v7M410 85h7M413 82v7M486 70h7M489 67v7M265 62h7M268 59v7M379 63h7M382 60v7M421 64h7M424 61v7M481 62h7M484 59v7M263 60h7M266 57v7M485 62h7M488 59v7M495 60h7M498 57v7M489 61h7M492 58v7M294 45h7M297 42v7M284 50h7M287 47v7M280 58h7M283 55v7M280 63h7M283 60v7M280 73h7M283 70v7M280 90h7M283 87v7M280 104h7M283 101v7M280 123h7M283 120v7M280 141h7M283 138v7M280 179h7M283 176v7M280 219h7M283 216v7M280 243h7M283 240v7M439 50h7M442 47v7M439 62h7M442 59v7M439 70h7M442 67v7M439 89h7M442 86v7M439 120h7M442 117v7M439 155h7M442 152v7M439 168h7M442 165v7M439 180h7M442 177v7M439 194h7M442 191v7M439 212h7M442 209v7M439 218h7M442 215v7M439 262h7M442 259v7M439 271h7M442 268v7M439 299h7M442 296v7M439 336h7M442 333v7M439 472h7M442 469v7M308 117h7M311 114v7M308 146h7M311 143v7M308 170h7M311 167v7M413 62h7M416 59v7M434 60h7M437 57v7M453 62h7M456 59v7M457 58h7M460 55v7M387 40h7M390 37v7M419 42h7M422 39v7M465 45h7M468 42v7M525 52h7M528 49v7M502 78h7M505 75v7M383 72h7M386 69v7M100 70h7M103 67v7M73 73h7M76 70v7M125 58h7M128 55v7M149 60h7M152 57v7M197 66h7M200 63v7M229 68h7M232 65v7M237 72h7M240 69v7M212 62h7M215 59v7M83 340h7M86 337v7M145 336h7M148 333v7M154 352h7M157 349v7M136 203h7M139 200v7"/><g font-size="10.5" letter-spacing="-0.6" fill="#000" stroke="#000" stroke-width="0.3"><text x="212" y="354">4</text><text x="275" y="488">4</text><text x="302" y="504">4</text><text x="328" y="478">4</text><text x="426" y="496">4</text><text x="487" y="494">4</text><text x="533" y="481">4</text><text x="554" y="486">4</text><text x="126" y="196">5</text><text x="269" y="354">5</text><text x="298" y="382">5</text><text x="322" y="334">5</text><text x="365" y="358">5</text><text x="419" y="379">5</text><text x="464" y="384">5</text><text x="497" y="364">5</text><text x="536" y="358">5</text><text x="548" y="358">5</text><text x="235" y="161">6</text><text x="269" y="321">6</text><text x="321" y="301">6</text><text x="350" y="320">6</text><text x="423" y="331">6</text><text x="460" y="333">6</text><text x="499" y="321">6</text><text x="536" y="305">6</text><text x="550" y="308">6</text><text x="171" y="131">7</text><text x="270" y="294">7</text><text x="303" y="316">7</text><text x="322" y="268">7</text><text x="372" y="276">7</text><text x="427" y="304">7</text><text x="461" y="308">7</text><text x="516" y="296">7</text><text x="532" y="276">7</text><text x="547" y="274">7</text><text x="133" y="124">8</text><text x="274" y="274">8</text><text x="291" y="287">8</text><text x="321" y="254">8</text><text x="420" y="286">8</text><text x="460" y="291">8</text><text x="500" y="281">8</text><text x="138" y="112">9</text><text x="275" y="261">9</text><text x="330" y="226">9</text><text x="422" y="276">9</text><text x="463" y="284">9</text><text x="483" y="264">9</text><text x="532" y="246">9</text><text x="554" y="248">9</text><text x="167" y="98">10</text><text x="274" y="252">10</text><text x="295" y="261">10</text><text x="329" y="216">10</text><text x="378" y="248">10</text><text x="416" y="266">10</text><text x="457" y="261">10</text><text x="509" y="270">10</text><text x="536" y="238">10</text><text x="547" y="236">10</text><text x="92" y="76">11</text><text x="271" y="241">11</text><text x="305" y="268">11</text><text x="332" y="201">11</text><text x="345" y="246">11</text><text x="422" y="256">11</text><text x="460" y="258">11</text><text x="512" y="256">11</text><text x="531" y="228">11</text><text x="546" y="226">11</text><text x="265" y="234">12</text><text x="301" y="251">12</text><text x="395" y="222">12</text><text x="423" y="244">12</text><text x="460" y="247">12</text><text x="509" y="251">12</text><text x="528" y="216">12</text><text x="548" y="216">12</text><text x="264" y="221">13</text><text x="297" y="234">13</text><text x="329" y="186">13</text><text x="423" y="234">13</text><text x="457" y="231">13</text><text x="496" y="218">13</text><text x="529" y="206">13</text><text x="547" y="204">13</text><text x="302" y="230">14</text><text x="328" y="176">14</text><text x="367" y="185">14</text><text x="461" y="226">14</text><text x="510" y="226">14</text><text x="536" y="196">14</text><text x="547" y="192">14</text><text x="301" y="218">15</text><text x="321" y="178">15</text><text x="429" y="204">15</text><text x="460" y="213">15</text><text x="519" y="203">15</text><text x="547" y="181">15</text><text x="268" y="191">16</text><text x="298" y="201">16</text><text x="330" y="148">16</text><text x="396" y="181">16</text><text x="429" y="190">16</text><text x="457" y="195">16</text><text x="488" y="186">16</text><text x="536" y="171">16</text><text x="554" y="169">16</text><text x="302" y="193">17</text><text x="329" y="136">17</text><text x="391" y="172">17</text><text x="419" y="178">17</text><text x="458" y="181">17</text><text x="503" y="181">17</text><text x="535" y="154">17</text><text x="267" y="161">18</text><text x="380" y="158">18</text><text x="416" y="172">18</text><text x="461" y="171">18</text><text x="508" y="171">18</text><text x="536" y="141">18</text><text x="547" y="139">18</text><text x="299" y="124">19</text><text x="330" y="84">19</text><text x="358" y="106">19</text><text x="427" y="118">19</text><text x="460" y="121">19</text><text x="482" y="108">19</text><text x="533" y="96">19</text><text x="548" y="98">19</text><text x="271" y="76">20</text><text x="298" y="106">20</text><text x="362" y="66">20</text><text x="436" y="90">20</text><text x="460" y="76">20</text><text x="492" y="86">20</text><text x="545" y="64">20</text><text x="302" y="82">21</text><text x="357" y="66">21</text><text x="416" y="83">21</text><text x="492" y="68">21</text><text x="271" y="60">22</text><text x="385" y="61">22</text><text x="427" y="62">22</text><text x="487" y="60">22</text><text x="269" y="58">23</text><text x="491" y="60">23</text><text x="501" y="58">24</text><text x="495" y="59">25</text><text x="300" y="43">21</text><text x="290" y="48">22</text><text x="286" y="56">25</text><text x="286" y="61">22</text><text x="286" y="71">20</text><text x="286" y="88">19</text><text x="286" y="102">18</text><text x="286" y="121">16</text><text x="286" y="139">15</text><text x="286" y="177">12</text><text x="286" y="217">11</text><text x="286" y="241">10</text><text x="445" y="48">23</text><text x="445" y="60">22</text><text x="445" y="68">21</text><text x="445" y="87">20</text><text x="445" y="118">19</text><text x="445" y="153">18</text><text x="445" y="166">17</text><text x="445" y="178">16</text><text x="445" y="192">15</text><text x="445" y="210">14</text><text x="445" y="216">13</text><text x="445" y="260">8</text><text x="445" y="269">7</text><text x="445" y="297">6</text><text x="445" y="334">5</text><text x="445" y="470">4</text><text x="314" y="115">19</text><text x="314" y="144">18</text><text x="314" y="168">17</text><text x="419" y="60">22</text><text x="440" y="58">22</text><text x="459" y="60">21</text><text x="463" y="56">20</text><text x="393" y="38">26</text><text x="425" y="40">23</text><text x="471" y="43">25</text><text x="531" y="50">22</text><text x="508" y="76">20</text><text x="389" y="70">20</text><text x="106" y="68">11</text><text x="79" y="71">10</text><text x="131" y="56">9</text><text x="155" y="58">12</text><text x="203" y="64">12</text><text x="235" y="66">13</text><text x="243" y="70">13</text><text x="218" y="60">12</text><text x="89" y="338">4</text><text x="151" y="334">4</text><text x="160" y="350">4</text><text x="142" y="201">5</text></g></g>
<g shape-rendering="crispEdges"><rect x="569.5" y="508.51" width="20.0" height="7.79" fill="#00008f"/><rect x="569.5" y="501.02" width="20.0" height="7.79" fill="#00009f"/><rect x="569.5" y="493.52" width="20.0" height="7.79" fill="#0000af"/><rect x="569.5" y="486.03" width="20.0" height="7.79" fill="#0000bf"/><rect x="569.5" y="478.54" width="20.0" height="7.79" fill="#0000cf"/><rect x="569.5" y="471.05" width="20.0" height="7.79" fill="#0000df"/><rect x="569.5" y="463.55" width="20.0" height="7.79" fill="#0000ef"/><rect x="569.5" y="456.06" width="20.0" height="7.79" fill="#0000ff"/><rect x="569.5" y="448.57" width="20.0" height="7.79" fill="#0010ff"/><rect x="569.5" y="441.08" width="20.0" height="7.79" fill="#0020ff"/><rect x="569.5" y="433.59" width="20.0" height="7.79" fill="#0030ff"/><rect x="569.5" y="426.09" width="20.0" height="7.79" fill="#0040ff"/><rect x="569.5" y="418.60" width="20.0" height="7.79" fill="#0050ff"/><rect x="569.5" y="411.11" width="20.0" height="7.79" fill="#0060ff"/><rect x="569.5" y="403.62" width="20.0" height="7.79" fill="#0070ff"/><rect x="569.5" y="396.12" width="20.0" height="7.79" fill="#0080ff"/><rect x="569.5" y="388.63" width="20.0" height="7.79" fill="#008fff"/><rect x="569.5" y="381.14" width="20.0" height="7.79" fill="#009fff"/><rect x="569.5" y="373.65" width="20.0" height="7.79" fill="#00afff"/><rect x="569.5" y="366.16" width="20.0" height="7.79" fill="#00bfff"/><rect x="569.5" y="358.66" width="20.0" height="7.79" fill="#00cfff"/><rect x="569.5" y="351.17" width="20.0" height="7.79" fill="#00dfff"/><rect x="569.5" y="343.68" width="20.0" height="7.79" fill="#00efff"/><rect x="569.5" y="336.19" width="20.0" height="7.79" fill="#00ffff"/><rect x="569.5" y="328.70" width="20.0" height="7.79" fill="#10ffef"/><rect x="569.5" y="321.20" width="20.0" height="7.79" fill="#20ffdf"/><rect x="569.5" y="313.71" width="20.0" height="7.79" fill="#30ffcf"/><rect x="569.5" y="306.22" width="20.0" height="7.79" fill="#40ffbf"/><rect x="569.5" y="298.73" width="20.0" height="7.79" fill="#50ffaf"/><rect x="569.5" y="291.23" width="20.0" height="7.79" fill="#60ff9f"/><rect x="569.5" y="283.74" width="20.0" height="7.79" fill="#70ff8f"/><rect x="569.5" y="276.25" width="20.0" height="7.79" fill="#80ff80"/><rect x="569.5" y="268.76" width="20.0" height="7.79" fill="#8fff70"/><rect x="569.5" y="261.27" width="20.0" height="7.79" fill="#9fff60"/><rect x="569.5" y="253.77" width="20.0" height="7.79" fill="#afff50"/><rect x="569.5" y="246.28" width="20.0" height="7.79" fill="#bfff40"/><rect x="569.5" y="238.79" width="20.0" height="7.79" fill="#cfff30"/><rect x="569.5" y="231.30" width="20.0" height="7.79" fill="#dfff20"/><rect x="569.5" y="223.80" width="20.0" height="7.79" fill="#efff10"/><rect x="569.5" y="216.31" width="20.0" height="7.79" fill="#ffff00"/><rect x="569.5" y="208.82" width="20.0" height="7.79" fill="#ffef00"/><rect x="569.5" y="201.33" width="20.0" height="7.79" fill="#ffdf00"/><rect x="569.5" y="193.84" width="20.0" height="7.79" fill="#ffcf00"/><rect x="569.5" y="186.34" width="20.0" height="7.79" fill="#ffbf00"/><rect x="569.5" y="178.85" width="20.0" height="7.79" fill="#ffaf00"/><rect x="569.5" y="171.36" width="20.0" height="7.79" fill="#ff9f00"/><rect x="569.5" y="163.87" width="20.0" height="7.79" fill="#ff8f00"/><rect x="569.5" y="156.38" width="20.0" height="7.79" fill="#ff8000"/><rect x="569.5" y="148.88" width="20.0" height="7.79" fill="#ff7000"/><rect x="569.5" y="141.39" width="20.0" height="7.79" fill="#ff6000"/><rect x="569.5" y="133.90" width="20.0" height="7.79" fill="#ff5000"/><rect x="569.5" y="126.41" width="20.0" height="7.79" fill="#ff4000"/><rect x="569.5" y="118.91" width="20.0" height="7.79" fill="#ff3000"/><rect x="569.5" y="111.42" width="20.0" height="7.79" fill="#ff2000"/><rect x="569.5" y="103.93" width="20.0" height="7.79" fill="#ff1000"/><rect x="569.5" y="96.44" width="20.0" height="7.79" fill="#ff0000"/><rect x="569.5" y="88.95" width="20.0" height="7.79" fill="#ef0000"/><rect x="569.5" y="81.45" width="20.0" height="7.79" fill="#df0000"/><rect x="569.5" y="73.96" width="20.0" height="7.79" fill="#cf0000"/><rect x="569.5" y="66.47" width="20.0" height="7.79" fill="#bf0000"/><rect x="569.5" y="58.98" width="20.0" height="7.79" fill="#af0000"/><rect x="569.5" y="51.48" width="20.0" height="7.79" fill="#9f0000"/><rect x="569.5" y="43.99" width="20.0" height="7.79" fill="#8f0000"/><rect x="569.5" y="36.50" width="20.0" height="7.79" fill="#800000"/></g>
<path d="M107.5 516v-5M142.5 516v-5M176.5 516v-5M211.5 516v-5M245.5 516v-5M280.5 516v-5M314.5 516v-5M349.5 516v-5M383.5 516v-5M418.5 516v-5M452.5 516v-5M487.5 516v-5M522.5 516v-5M569.5 447.5h4M589.5 447.5h-4M569.5 361.5h4M589.5 361.5h-4M569.5 275.5h4M589.5 275.5h-4M569.5 189.5h4M589.5 189.5h-4M569.5 103.5h4M589.5 103.5h-4M86.5 36v-3M103.5 36v-3M106.5 36v-3M108.5 36v-3M110.5 36v-3M112.5 36v-3M124.5 36v-3M127.5 36v-3M130.5 36v-3M148.5 36v-3M166.5 36v-3M188.5 36v-3M227.5 36v-3M237.5 36v-3M246.5 36v-3M311.5 36v-3M411.5 36v-3M452.5 36v-3M457.5 36v-3M461.5 36v-3M472.5 36v-3" stroke="#000" stroke-width="1" fill="none" shape-rendering="crispEdges"/>
<rect x="74.5" y="36.5" width="480" height="480" fill="none" stroke="#000" stroke-width="1" shape-rendering="crispEdges"/>
<rect x="569.5" y="36.5" width="20" height="480" fill="none" stroke="#000" stroke-width="1" shape-rendering="crispEdges"/>
<g font-size="12.5" fill="#000"><text x="108.0" y="531.5" text-anchor="middle">10</text><text x="143.0" y="531.5" text-anchor="middle">20</text><text x="177.0" y="531.5" text-anchor="middle">30</text><text x="212.0" y="531.5" text-anchor="middle">40</text><text x="246.0" y="531.5" text-anchor="middle">50</text><text x="281.0" y="531.5" text-anchor="middle">60</text><text x="315.0" y="531.5" text-anchor="middle">70</text><text x="350.0" y="531.5" text-anchor="middle">80</text><text x="384.0" y="531.5" text-anchor="middle">90</text><text x="419.0" y="531.5" text-anchor="middle" letter-spacing="0.6">100</text><text x="453.0" y="531.5" text-anchor="middle" letter-spacing="0.6">110</text><text x="488.0" y="531.5" text-anchor="middle" letter-spacing="0.6">120</text><text x="523.0" y="531.5" text-anchor="middle" letter-spacing="0.6">130</text><text x="70.5" y="40.8" text-anchor="end">0</text><text x="70.5" y="88.8" text-anchor="end">200</text><text x="70.5" y="136.8" text-anchor="end">400</text><text x="70.5" y="184.8" text-anchor="end">600</text><text x="70.5" y="232.8" text-anchor="end">800</text><text x="70.5" y="280.8" text-anchor="end">1000</text><text x="70.5" y="328.8" text-anchor="end">1200</text><text x="70.5" y="376.8" text-anchor="end">1400</text><text x="70.5" y="424.8" text-anchor="end">1600</text><text x="70.5" y="472.8" text-anchor="end">1800</text><text x="70.5" y="520.8" text-anchor="end">2000</text><text x="592.5" y="451.8">5</text><text x="592.5" y="365.8">10</text><text x="592.5" y="279.8">15</text><text x="592.5" y="193.8">20</text><text x="592.5" y="107.8">25</text></g>
<text x="316" y="22" font-size="16" stroke="#000" stroke-width="0.5" text-anchor="middle" textLength="219" lengthAdjust="spacingAndGlyphs">Temperature | Température</text>
<text x="314.5" y="546" font-size="14.5" stroke="#000" stroke-width="0.5" text-anchor="middle" textLength="40" lengthAdjust="spacingAndGlyphs">Cycle</text>
<text transform="translate(33,276.5) rotate(-90)" font-size="14.5" stroke="#000" stroke-width="0.5" text-anchor="middle" textLength="186" lengthAdjust="spacingAndGlyphs">Pressure / Pression (dbar)</text>
<text x="573.5" y="27" font-size="8.5" textLength="10" lengthAdjust="spacingAndGlyphs">°C</text>
<text x="78" y="582" font-size="14" stroke="#000" stroke-width="0.5" textLength="159" lengthAdjust="spacingAndGlyphs">Float/Profileur dérivant:</text>
<text x="243.5" y="582" font-size="14" textLength="54" lengthAdjust="spacingAndGlyphs">4902467</text>
<text x="78" y="602" font-size="14" stroke="#000" stroke-width="0.5" textLength="103" lengthAdjust="spacingAndGlyphs">Period/Période:</text>
<text x="188" y="602" font-size="14" textLength="165" lengthAdjust="spacingAndGlyphs">4/23/2019 to/à 2/13/2023</text>
<text x="78" y="620.5" font-size="9.5" textLength="267" lengthAdjust="spacingAndGlyphs">Tick marks at top indicate stations with delayed mode data</text>
<text x="78" y="641" font-size="9.5" textLength="298" lengthAdjust="spacingAndGlyphs">Les traits de l'axe supérieur indiquent les données en mode différé</text>
<text x="555" y="661" font-size="9.5" text-anchor="end" textLength="102" lengthAdjust="spacingAndGlyphs">ISDM | GDSI 02/20/23</text>
</svg>
</body></html>
